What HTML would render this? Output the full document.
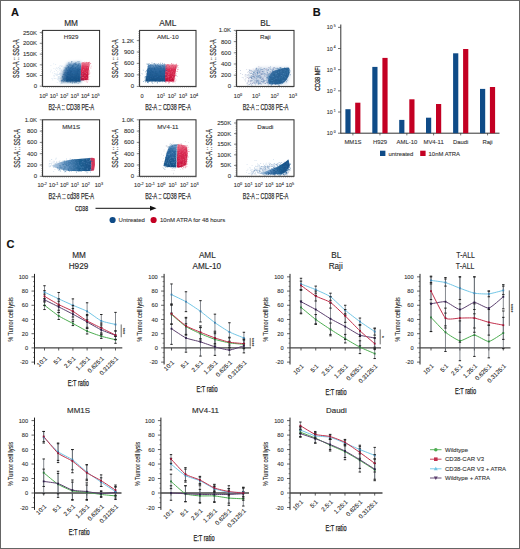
<!DOCTYPE html>
<html><head><meta charset="utf-8"><style>
html,body{margin:0;padding:0;background:#fff;}
body{width:520px;height:549px;overflow:hidden;position:relative;font-family:"Liberation Sans", sans-serif;}
svg{position:absolute;left:0;top:0;font-family:"Liberation Sans", sans-serif;}
.fr{position:absolute;left:0;top:0;width:518px;height:547px;border:1px solid #656565;}
</style></head><body>
<svg width="520" height="549" viewBox="0 0 520 549">
<defs><filter id="bl" x="-20%" y="-20%" width="140%" height="140%"><feGaussianBlur stdDeviation="0.6"/></filter>
<linearGradient id="gBv" x1="0" y1="0" x2="0" y2="1"><stop offset="0" stop-color="#7fa6cc"/><stop offset="0.3" stop-color="#2f6aa2"/><stop offset="1" stop-color="#134d82"/></linearGradient>
<linearGradient id="gRv" x1="0" y1="0" x2="0" y2="1"><stop offset="0" stop-color="#ee8fa2"/><stop offset="0.3" stop-color="#dc2f55"/><stop offset="1" stop-color="#c20c36"/></linearGradient>
<linearGradient id="gBh" x1="0" y1="0" x2="1" y2="0"><stop offset="0" stop-color="#b7cde3"/><stop offset="0.4" stop-color="#5f8fbd"/><stop offset="0.7" stop-color="#1f5f92"/><stop offset="1" stop-color="#1a5186"/></linearGradient>
<linearGradient id="gBh2" x1="0" y1="0" x2="1" y2="0.6"><stop offset="0" stop-color="#4f7fb0"/><stop offset="0.45" stop-color="#1d5c92"/><stop offset="1" stop-color="#17548a"/></linearGradient>
<filter id="bl2" x="-30%" y="-30%" width="160%" height="160%"><feGaussianBlur stdDeviation="1.4"/></filter></defs>
<text x="15.0" y="15.8" font-size="11" text-anchor="middle" fill="#111" stroke="#111" stroke-width="0.14" font-weight="bold" >A</text>
<text x="71.1" y="25.8" font-size="8.3" text-anchor="middle" fill="#2a2a2a" stroke="#2a2a2a" stroke-width="0.14" font-weight="normal" >MM</text>
<path d="M60.0 77.5h0.8v0.8h-0.8zM61.5 76.6h0.8v0.8h-0.8zM58.6 68.8h0.8v0.8h-0.8zM55.5 73.6h0.8v0.8h-0.8zM57.7 74.2h0.8v0.8h-0.8zM55.0 68.7h0.8v0.8h-0.8zM60.3 75.3h0.8v0.8h-0.8zM66.7 69.7h0.8v0.8h-0.8zM57.5 78.9h0.8v0.8h-0.8zM56.9 75.0h0.8v0.8h-0.8zM62.4 74.4h0.8v0.8h-0.8zM61.8 71.0h0.8v0.8h-0.8zM60.5 73.4h0.8v0.8h-0.8zM55.3 64.0h0.8v0.8h-0.8zM59.9 68.3h0.8v0.8h-0.8zM63.5 75.8h0.8v0.8h-0.8zM53.3 63.4h0.8v0.8h-0.8zM57.7 78.2h0.8v0.8h-0.8zM50.5 65.3h0.8v0.8h-0.8zM53.6 77.8h0.8v0.8h-0.8zM50.8 69.8h0.8v0.8h-0.8zM58.8 77.9h0.8v0.8h-0.8zM53.7 74.7h0.8v0.8h-0.8zM61.4 66.3h0.8v0.8h-0.8zM60.8 80.2h0.8v0.8h-0.8zM59.1 81.2h0.8v0.8h-0.8zM57.3 72.6h0.8v0.8h-0.8zM59.8 73.2h0.8v0.8h-0.8zM60.6 69.1h0.8v0.8h-0.8zM52.3 79.5h0.8v0.8h-0.8zM57.6 71.3h0.8v0.8h-0.8zM55.1 73.7h0.8v0.8h-0.8zM56.0 70.0h0.8v0.8h-0.8zM65.3 70.9h0.8v0.8h-0.8zM56.0 67.6h0.8v0.8h-0.8zM59.8 80.3h0.8v0.8h-0.8zM64.4 73.2h0.8v0.8h-0.8zM57.1 78.8h0.8v0.8h-0.8zM59.4 74.1h0.8v0.8h-0.8zM60.6 70.5h0.8v0.8h-0.8zM60.3 72.4h0.8v0.8h-0.8zM53.9 71.2h0.8v0.8h-0.8zM60.4 74.0h0.8v0.8h-0.8zM66.8 72.1h0.8v0.8h-0.8zM52.3 72.5h0.8v0.8h-0.8zM64.3 67.1h0.8v0.8h-0.8zM60.6 70.0h0.8v0.8h-0.8zM56.8 82.3h0.8v0.8h-0.8zM70.0 70.6h0.8v0.8h-0.8zM63.8 68.7h0.8v0.8h-0.8zM54.0 75.7h0.8v0.8h-0.8zM60.4 81.0h0.8v0.8h-0.8zM62.9 66.7h0.8v0.8h-0.8zM59.1 73.0h0.8v0.8h-0.8zM63.4 70.8h0.8v0.8h-0.8zM59.7 65.2h0.8v0.8h-0.8zM63.3 77.7h0.8v0.8h-0.8zM67.2 73.9h0.8v0.8h-0.8zM56.6 74.4h0.8v0.8h-0.8zM61.0 70.2h0.8v0.8h-0.8zM57.7 76.3h0.8v0.8h-0.8zM60.6 71.3h0.8v0.8h-0.8zM54.1 73.3h0.8v0.8h-0.8zM57.1 68.5h0.8v0.8h-0.8zM59.0 67.9h0.8v0.8h-0.8zM64.5 80.7h0.8v0.8h-0.8zM65.7 71.5h0.8v0.8h-0.8zM53.4 75.5h0.8v0.8h-0.8zM56.0 73.8h0.8v0.8h-0.8zM63.2 71.8h0.8v0.8h-0.8zM50.0 71.5h0.8v0.8h-0.8zM57.7 77.2h0.8v0.8h-0.8zM59.5 72.5h0.8v0.8h-0.8zM66.3 73.2h0.8v0.8h-0.8zM63.4 74.1h0.8v0.8h-0.8zM58.4 79.9h0.8v0.8h-0.8zM58.2 77.4h0.8v0.8h-0.8zM58.7 75.9h0.8v0.8h-0.8zM67.6 71.2h0.8v0.8h-0.8zM57.9 67.1h0.8v0.8h-0.8zM58.5 78.7h0.8v0.8h-0.8zM61.8 78.8h0.8v0.8h-0.8zM59.4 73.3h0.8v0.8h-0.8zM59.0 76.7h0.8v0.8h-0.8zM54.4 77.9h0.8v0.8h-0.8zM59.9 78.2h0.8v0.8h-0.8zM57.8 78.6h0.8v0.8h-0.8zM65.8 71.7h0.8v0.8h-0.8zM63.3 81.6h0.8v0.8h-0.8zM59.9 67.8h0.8v0.8h-0.8zM63.3 78.3h0.8v0.8h-0.8zM58.3 76.5h0.8v0.8h-0.8zM65.3 78.4h0.8v0.8h-0.8zM60.0 83.4h0.8v0.8h-0.8zM62.9 81.4h0.8v0.8h-0.8zM53.5 68.3h0.8v0.8h-0.8zM61.7 65.6h0.8v0.8h-0.8zM51.6 78.1h0.8v0.8h-0.8zM58.5 73.9h0.8v0.8h-0.8zM55.5 78.2h0.8v0.8h-0.8zM60.8 65.8h0.8v0.8h-0.8zM71.2 63.5h0.8v0.8h-0.8zM55.8 75.3h0.8v0.8h-0.8zM56.9 74.2h0.8v0.8h-0.8zM61.0 72.8h0.8v0.8h-0.8zM62.5 74.2h0.8v0.8h-0.8zM59.1 69.7h0.8v0.8h-0.8zM59.0 66.4h0.8v0.8h-0.8z" fill="#9fbedb" fill-opacity="0.45"/>
<path d="M61.0 82.0 L63.0 72.0 L68.0 63.0 L81.0 62.0 L81.0 82.0Z" fill="url(#gBv)" fill-opacity="0.9" filter="url(#bl2)"/>
<path d="M65.5 81.5 L67.0 72.0 L72.0 64.5 L81.0 63.5 L80.5 81.5Z" fill="url(#gBv)" fill-opacity="1" filter="url(#bl)"/>
<path d="M80.5 80.5 L81.5 62.5 L89.5 62.0 L88.0 80.0Z" fill="url(#gRv)" fill-opacity="1" filter="url(#bl)"/>
<path d="M67.5 81.9h0.9v0.9h-0.9zM78.5 62.9h0.9v0.9h-0.9zM78.4 66.3h0.9v0.9h-0.9zM74.5 73.6h0.9v0.9h-0.9zM63.6 69.9h0.9v0.9h-0.9zM65.6 68.2h0.9v0.9h-0.9zM73.4 70.2h0.9v0.9h-0.9zM70.5 80.0h0.9v0.9h-0.9zM69.8 82.0h0.9v0.9h-0.9zM76.9 65.3h0.9v0.9h-0.9zM75.3 73.5h0.9v0.9h-0.9zM61.4 82.7h0.9v0.9h-0.9zM66.5 77.5h0.9v0.9h-0.9zM76.3 75.0h0.9v0.9h-0.9zM76.4 72.5h0.9v0.9h-0.9zM75.1 67.1h0.9v0.9h-0.9zM78.7 67.4h0.9v0.9h-0.9zM76.5 70.6h0.9v0.9h-0.9zM76.2 73.1h0.9v0.9h-0.9zM75.2 81.6h0.9v0.9h-0.9zM77.2 73.5h0.9v0.9h-0.9zM77.6 65.0h0.9v0.9h-0.9zM64.9 75.1h0.9v0.9h-0.9zM74.9 67.8h0.9v0.9h-0.9zM61.9 80.4h0.9v0.9h-0.9zM62.2 76.8h0.9v0.9h-0.9zM63.9 72.5h0.9v0.9h-0.9zM64.0 79.5h0.9v0.9h-0.9zM70.1 73.5h0.9v0.9h-0.9zM79.1 79.6h0.9v0.9h-0.9zM66.2 75.3h0.9v0.9h-0.9zM62.9 79.0h0.9v0.9h-0.9zM73.5 72.7h0.9v0.9h-0.9zM70.8 77.1h0.9v0.9h-0.9zM69.4 79.1h0.9v0.9h-0.9zM78.5 62.7h0.9v0.9h-0.9zM78.1 80.5h0.9v0.9h-0.9zM64.9 67.4h0.9v0.9h-0.9zM79.7 69.6h0.9v0.9h-0.9zM69.5 78.7h0.9v0.9h-0.9zM76.0 73.2h0.9v0.9h-0.9zM74.8 64.4h0.9v0.9h-0.9zM80.0 71.5h0.9v0.9h-0.9zM70.2 74.9h0.9v0.9h-0.9zM81.6 78.6h0.9v0.9h-0.9zM72.7 65.2h0.9v0.9h-0.9zM73.9 73.1h0.9v0.9h-0.9zM68.8 69.1h0.9v0.9h-0.9zM77.6 67.5h0.9v0.9h-0.9zM75.6 62.2h0.9v0.9h-0.9zM71.4 80.2h0.9v0.9h-0.9zM77.0 76.6h0.9v0.9h-0.9zM71.6 81.8h0.9v0.9h-0.9zM70.3 72.1h0.9v0.9h-0.9zM72.3 66.2h0.9v0.9h-0.9zM75.9 75.8h0.9v0.9h-0.9zM76.8 71.5h0.9v0.9h-0.9zM76.7 75.4h0.9v0.9h-0.9zM69.8 63.7h0.9v0.9h-0.9zM75.4 67.0h0.9v0.9h-0.9zM66.7 65.1h0.9v0.9h-0.9zM71.4 80.2h0.9v0.9h-0.9zM66.0 75.5h0.9v0.9h-0.9zM69.2 64.5h0.9v0.9h-0.9zM66.1 80.3h0.9v0.9h-0.9zM79.4 71.0h0.9v0.9h-0.9zM67.6 73.5h0.9v0.9h-0.9zM66.3 81.0h0.9v0.9h-0.9zM77.7 74.5h0.9v0.9h-0.9zM76.5 75.4h0.9v0.9h-0.9zM70.2 71.1h0.9v0.9h-0.9zM70.4 64.9h0.9v0.9h-0.9zM77.7 64.8h0.9v0.9h-0.9zM70.6 67.6h0.9v0.9h-0.9zM76.5 79.2h0.9v0.9h-0.9zM68.0 80.1h0.9v0.9h-0.9zM72.3 73.1h0.9v0.9h-0.9zM74.2 72.8h0.9v0.9h-0.9zM72.9 79.0h0.9v0.9h-0.9zM72.4 66.6h0.9v0.9h-0.9z" fill="#1b5e91" fill-opacity="0.5"/>
<path d="M74.3 72.8h0.9v0.9h-0.9zM73.7 64.9h0.9v0.9h-0.9zM73.8 66.4h0.9v0.9h-0.9zM72.1 64.9h0.9v0.9h-0.9zM76.8 66.0h0.9v0.9h-0.9zM79.9 66.6h0.9v0.9h-0.9zM62.9 79.2h0.9v0.9h-0.9zM72.8 66.8h0.9v0.9h-0.9zM68.2 67.7h0.9v0.9h-0.9zM68.4 70.9h0.9v0.9h-0.9zM76.9 67.3h0.9v0.9h-0.9zM73.0 80.6h0.9v0.9h-0.9zM78.7 65.2h0.9v0.9h-0.9zM72.1 65.2h0.9v0.9h-0.9zM68.3 77.6h0.9v0.9h-0.9zM74.6 69.2h0.9v0.9h-0.9zM75.1 64.1h0.9v0.9h-0.9zM77.2 76.7h0.9v0.9h-0.9zM73.1 75.5h0.9v0.9h-0.9zM71.7 77.5h0.9v0.9h-0.9zM75.7 69.3h0.9v0.9h-0.9zM64.8 70.3h0.9v0.9h-0.9zM79.1 76.4h0.9v0.9h-0.9zM73.4 71.8h0.9v0.9h-0.9zM75.4 82.4h0.9v0.9h-0.9zM68.4 62.2h0.9v0.9h-0.9zM72.5 67.3h0.9v0.9h-0.9zM71.5 78.3h0.9v0.9h-0.9zM68.1 68.1h0.9v0.9h-0.9zM68.1 68.7h0.9v0.9h-0.9zM79.9 65.4h0.9v0.9h-0.9zM77.4 61.2h0.9v0.9h-0.9zM61.1 80.0h0.9v0.9h-0.9zM80.7 76.4h0.9v0.9h-0.9zM79.1 63.5h0.9v0.9h-0.9zM61.6 80.1h0.9v0.9h-0.9zM65.3 76.3h0.9v0.9h-0.9zM71.6 72.4h0.9v0.9h-0.9zM76.5 72.7h0.9v0.9h-0.9zM64.6 73.9h0.9v0.9h-0.9zM76.9 79.1h0.9v0.9h-0.9zM75.1 64.3h0.9v0.9h-0.9zM63.0 77.8h0.9v0.9h-0.9zM67.0 71.1h0.9v0.9h-0.9zM65.9 73.1h0.9v0.9h-0.9zM76.1 81.6h0.9v0.9h-0.9zM73.7 63.0h0.9v0.9h-0.9zM79.4 80.2h0.9v0.9h-0.9zM67.8 66.9h0.9v0.9h-0.9zM73.1 73.0h0.9v0.9h-0.9zM66.2 79.4h0.9v0.9h-0.9zM70.1 75.8h0.9v0.9h-0.9zM70.0 80.5h0.9v0.9h-0.9zM77.7 82.9h0.9v0.9h-0.9zM75.2 67.9h0.9v0.9h-0.9zM71.9 82.8h0.9v0.9h-0.9zM68.5 69.6h0.9v0.9h-0.9zM73.7 79.3h0.9v0.9h-0.9zM68.4 73.6h0.9v0.9h-0.9zM69.0 75.7h0.9v0.9h-0.9zM77.0 74.6h0.9v0.9h-0.9zM77.9 72.2h0.9v0.9h-0.9zM75.4 70.1h0.9v0.9h-0.9zM72.1 72.1h0.9v0.9h-0.9zM68.2 75.3h0.9v0.9h-0.9zM65.9 67.9h0.9v0.9h-0.9zM81.5 75.8h0.9v0.9h-0.9zM66.5 78.0h0.9v0.9h-0.9zM71.6 65.2h0.9v0.9h-0.9zM79.8 71.7h0.9v0.9h-0.9zM79.0 70.2h0.9v0.9h-0.9zM65.7 68.8h0.9v0.9h-0.9zM69.7 69.3h0.9v0.9h-0.9zM64.1 79.3h0.9v0.9h-0.9zM75.5 80.6h0.9v0.9h-0.9zM68.4 80.4h0.9v0.9h-0.9zM66.9 74.8h0.9v0.9h-0.9zM65.6 73.9h0.9v0.9h-0.9zM64.6 69.3h0.9v0.9h-0.9zM70.5 63.7h0.9v0.9h-0.9z" fill="#2f6ea5" fill-opacity="0.5"/>
<path d="M76.9 77.4h0.9v0.9h-0.9zM75.6 63.4h0.9v0.9h-0.9zM71.2 70.5h0.9v0.9h-0.9zM68.5 73.9h0.9v0.9h-0.9zM70.0 70.5h0.9v0.9h-0.9zM66.3 67.4h0.9v0.9h-0.9zM62.2 76.0h0.9v0.9h-0.9zM76.5 79.5h0.9v0.9h-0.9zM64.5 74.1h0.9v0.9h-0.9zM68.4 63.6h0.9v0.9h-0.9zM65.9 78.2h0.9v0.9h-0.9zM68.2 78.3h0.9v0.9h-0.9zM76.8 73.6h0.9v0.9h-0.9zM64.9 72.2h0.9v0.9h-0.9zM68.6 74.5h0.9v0.9h-0.9zM78.6 69.5h0.9v0.9h-0.9zM68.1 66.0h0.9v0.9h-0.9zM72.2 65.8h0.9v0.9h-0.9zM64.1 80.2h0.9v0.9h-0.9zM82.6 80.1h0.9v0.9h-0.9zM77.4 77.5h0.9v0.9h-0.9zM67.5 81.0h0.9v0.9h-0.9zM74.0 82.4h0.9v0.9h-0.9zM75.1 62.8h0.9v0.9h-0.9zM67.5 72.2h0.9v0.9h-0.9zM67.7 73.9h0.9v0.9h-0.9zM77.9 69.9h0.9v0.9h-0.9zM68.8 73.7h0.9v0.9h-0.9zM78.6 61.2h0.9v0.9h-0.9zM62.8 80.7h0.9v0.9h-0.9zM81.2 79.3h0.9v0.9h-0.9zM77.6 78.6h0.9v0.9h-0.9zM79.3 69.1h0.9v0.9h-0.9zM72.8 65.5h0.9v0.9h-0.9zM68.5 71.7h0.9v0.9h-0.9zM74.6 67.7h0.9v0.9h-0.9zM78.7 76.4h0.9v0.9h-0.9zM69.8 81.3h0.9v0.9h-0.9zM67.0 76.5h0.9v0.9h-0.9zM75.0 78.6h0.9v0.9h-0.9zM67.7 66.8h0.9v0.9h-0.9zM71.7 73.8h0.9v0.9h-0.9zM77.7 64.2h0.9v0.9h-0.9zM70.2 67.9h0.9v0.9h-0.9zM66.1 72.6h0.9v0.9h-0.9zM71.4 66.6h0.9v0.9h-0.9zM73.2 63.9h0.9v0.9h-0.9zM82.7 73.6h0.9v0.9h-0.9zM69.9 80.3h0.9v0.9h-0.9zM70.0 75.6h0.9v0.9h-0.9zM78.1 70.5h0.9v0.9h-0.9zM67.1 70.2h0.9v0.9h-0.9zM72.5 81.8h0.9v0.9h-0.9zM77.6 68.6h0.9v0.9h-0.9zM76.8 73.3h0.9v0.9h-0.9zM77.4 77.5h0.9v0.9h-0.9zM74.3 63.2h0.9v0.9h-0.9zM74.2 82.0h0.9v0.9h-0.9zM67.4 78.6h0.9v0.9h-0.9zM72.1 65.8h0.9v0.9h-0.9zM79.8 65.7h0.9v0.9h-0.9zM61.5 79.9h0.9v0.9h-0.9zM77.3 72.5h0.9v0.9h-0.9zM72.8 63.7h0.9v0.9h-0.9zM75.9 75.2h0.9v0.9h-0.9zM76.1 81.3h0.9v0.9h-0.9zM79.4 80.5h0.9v0.9h-0.9zM70.7 67.0h0.9v0.9h-0.9zM76.7 69.0h0.9v0.9h-0.9zM79.3 81.3h0.9v0.9h-0.9zM73.2 79.6h0.9v0.9h-0.9zM72.0 68.6h0.9v0.9h-0.9zM72.5 76.4h0.9v0.9h-0.9zM63.0 73.9h0.9v0.9h-0.9zM75.1 80.8h0.9v0.9h-0.9zM76.5 80.4h0.9v0.9h-0.9zM73.2 67.9h0.9v0.9h-0.9zM78.1 64.6h0.9v0.9h-0.9zM72.0 80.3h0.9v0.9h-0.9zM71.1 61.6h0.9v0.9h-0.9zM76.1 64.3h0.9v0.9h-0.9zM71.1 71.0h0.9v0.9h-0.9zM68.0 77.5h0.9v0.9h-0.9zM61.2 81.3h0.9v0.9h-0.9zM71.4 61.0h0.9v0.9h-0.9zM74.4 63.8h0.9v0.9h-0.9zM63.4 80.7h0.9v0.9h-0.9zM69.2 69.9h0.9v0.9h-0.9zM76.9 70.6h0.9v0.9h-0.9zM66.2 69.6h0.9v0.9h-0.9zM74.7 70.5h0.9v0.9h-0.9zM76.6 65.9h0.9v0.9h-0.9zM73.7 78.8h0.9v0.9h-0.9zM68.8 67.5h0.9v0.9h-0.9zM74.5 77.1h0.9v0.9h-0.9zM70.1 72.4h0.9v0.9h-0.9zM71.6 76.7h0.9v0.9h-0.9zM79.9 77.1h0.9v0.9h-0.9zM66.2 77.9h0.9v0.9h-0.9zM77.2 74.7h0.9v0.9h-0.9z" fill="#17528a" fill-opacity="0.5"/>
<path d="M88.1 68.4h0.9v0.9h-0.9zM81.7 70.2h0.9v0.9h-0.9zM85.6 66.8h0.9v0.9h-0.9zM86.9 65.9h0.9v0.9h-0.9zM84.5 71.9h0.9v0.9h-0.9zM88.5 69.8h0.9v0.9h-0.9zM88.0 74.0h0.9v0.9h-0.9zM86.3 68.3h0.9v0.9h-0.9zM83.6 78.3h0.9v0.9h-0.9zM87.8 69.2h0.9v0.9h-0.9zM89.4 63.7h0.9v0.9h-0.9zM88.2 73.5h0.9v0.9h-0.9zM84.9 71.2h0.9v0.9h-0.9zM86.2 69.2h0.9v0.9h-0.9zM84.1 75.2h0.9v0.9h-0.9zM86.6 75.7h0.9v0.9h-0.9zM90.2 63.0h0.9v0.9h-0.9zM88.6 65.8h0.9v0.9h-0.9zM82.2 74.6h0.9v0.9h-0.9zM83.1 68.2h0.9v0.9h-0.9zM82.6 62.0h0.9v0.9h-0.9zM82.2 65.5h0.9v0.9h-0.9zM88.7 62.4h0.9v0.9h-0.9zM86.2 78.7h0.9v0.9h-0.9zM86.5 69.2h0.9v0.9h-0.9zM88.0 62.5h0.9v0.9h-0.9zM83.6 70.2h0.9v0.9h-0.9zM85.7 70.1h0.9v0.9h-0.9zM89.0 64.6h0.9v0.9h-0.9zM81.9 77.6h0.9v0.9h-0.9zM88.3 79.0h0.9v0.9h-0.9zM85.1 72.7h0.9v0.9h-0.9zM82.5 72.8h0.9v0.9h-0.9zM87.0 70.6h0.9v0.9h-0.9zM82.9 65.7h0.9v0.9h-0.9zM88.2 68.1h0.9v0.9h-0.9zM86.4 73.3h0.9v0.9h-0.9z" fill="#d21e46" fill-opacity="0.5"/>
<path d="M87.6 69.5h0.9v0.9h-0.9zM88.8 73.6h0.9v0.9h-0.9zM81.5 77.3h0.9v0.9h-0.9zM83.6 63.4h0.9v0.9h-0.9zM82.9 79.9h0.9v0.9h-0.9zM83.3 66.6h0.9v0.9h-0.9zM81.0 72.3h0.9v0.9h-0.9zM84.4 77.8h0.9v0.9h-0.9zM84.4 63.5h0.9v0.9h-0.9zM83.1 76.9h0.9v0.9h-0.9zM84.5 67.0h0.9v0.9h-0.9zM86.1 62.0h0.9v0.9h-0.9zM86.5 67.1h0.9v0.9h-0.9zM88.3 77.8h0.9v0.9h-0.9zM87.0 68.1h0.9v0.9h-0.9zM83.2 69.2h0.9v0.9h-0.9zM84.1 78.1h0.9v0.9h-0.9zM82.5 65.9h0.9v0.9h-0.9zM90.7 65.7h0.9v0.9h-0.9zM84.9 66.8h0.9v0.9h-0.9zM86.2 66.8h0.9v0.9h-0.9zM90.4 67.5h0.9v0.9h-0.9zM86.2 77.4h0.9v0.9h-0.9zM80.2 70.5h0.9v0.9h-0.9zM88.9 71.3h0.9v0.9h-0.9zM83.0 68.8h0.9v0.9h-0.9zM84.8 75.2h0.9v0.9h-0.9zM81.9 77.1h0.9v0.9h-0.9zM84.8 75.3h0.9v0.9h-0.9zM89.2 61.8h0.9v0.9h-0.9zM84.3 69.8h0.9v0.9h-0.9zM86.6 68.5h0.9v0.9h-0.9zM81.5 62.9h0.9v0.9h-0.9zM87.9 76.8h0.9v0.9h-0.9z" fill="#e04a6a" fill-opacity="0.5"/>
<path d="M82.4 73.0h0.9v0.9h-0.9zM84.3 80.7h0.9v0.9h-0.9zM87.6 63.4h0.9v0.9h-0.9zM88.7 72.2h0.9v0.9h-0.9zM88.8 66.8h0.9v0.9h-0.9zM88.2 64.8h0.9v0.9h-0.9zM89.3 75.9h0.9v0.9h-0.9zM83.9 79.4h0.9v0.9h-0.9zM87.7 70.8h0.9v0.9h-0.9zM84.9 72.2h0.9v0.9h-0.9zM85.8 81.3h0.9v0.9h-0.9zM86.8 65.1h0.9v0.9h-0.9zM88.1 70.2h0.9v0.9h-0.9zM88.0 76.2h0.9v0.9h-0.9zM88.4 73.9h0.9v0.9h-0.9zM87.6 80.3h0.9v0.9h-0.9zM86.1 79.8h0.9v0.9h-0.9zM86.2 70.7h0.9v0.9h-0.9zM84.7 67.6h0.9v0.9h-0.9zM85.9 72.9h0.9v0.9h-0.9zM83.1 69.2h0.9v0.9h-0.9zM88.9 69.8h0.9v0.9h-0.9zM88.9 72.6h0.9v0.9h-0.9zM86.1 73.0h0.9v0.9h-0.9zM88.3 71.3h0.9v0.9h-0.9zM89.5 72.5h0.9v0.9h-0.9zM84.3 61.5h0.9v0.9h-0.9zM87.4 77.9h0.9v0.9h-0.9zM87.1 67.2h0.9v0.9h-0.9zM88.2 65.7h0.9v0.9h-0.9zM84.4 75.3h0.9v0.9h-0.9zM85.9 61.7h0.9v0.9h-0.9zM87.3 79.0h0.9v0.9h-0.9zM88.0 79.2h0.9v0.9h-0.9zM84.3 71.7h0.9v0.9h-0.9zM87.9 63.4h0.9v0.9h-0.9zM87.1 81.8h0.9v0.9h-0.9zM82.6 70.2h0.9v0.9h-0.9zM82.3 77.1h0.9v0.9h-0.9zM80.6 75.3h0.9v0.9h-0.9zM88.4 68.4h0.9v0.9h-0.9zM89.1 63.3h0.9v0.9h-0.9zM82.8 77.0h0.9v0.9h-0.9zM89.0 65.3h0.9v0.9h-0.9zM82.3 71.0h0.9v0.9h-0.9zM86.7 81.6h0.9v0.9h-0.9zM82.3 74.5h0.9v0.9h-0.9zM88.7 73.1h0.9v0.9h-0.9zM85.8 77.3h0.9v0.9h-0.9z" fill="#f08aa0" fill-opacity="0.5"/>
<rect x="42.6" y="30.4" width="56.99999999999999" height="56.00000000000001" fill="none" stroke="#2a2a2a" stroke-width="1"/>
<line x1="41.30" y1="31.60" x2="42.60" y2="31.60" stroke="#444" stroke-width="0.45" />
<line x1="41.30" y1="33.50" x2="42.60" y2="33.50" stroke="#444" stroke-width="0.45" />
<line x1="41.30" y1="35.40" x2="42.60" y2="35.40" stroke="#444" stroke-width="0.45" />
<line x1="41.30" y1="37.30" x2="42.60" y2="37.30" stroke="#444" stroke-width="0.45" />
<line x1="41.30" y1="39.20" x2="42.60" y2="39.20" stroke="#444" stroke-width="0.45" />
<line x1="41.30" y1="41.10" x2="42.60" y2="41.10" stroke="#444" stroke-width="0.45" />
<line x1="41.30" y1="43.00" x2="42.60" y2="43.00" stroke="#444" stroke-width="0.45" />
<line x1="41.30" y1="44.90" x2="42.60" y2="44.90" stroke="#444" stroke-width="0.45" />
<line x1="41.30" y1="46.80" x2="42.60" y2="46.80" stroke="#444" stroke-width="0.45" />
<line x1="41.30" y1="48.70" x2="42.60" y2="48.70" stroke="#444" stroke-width="0.45" />
<line x1="41.30" y1="50.60" x2="42.60" y2="50.60" stroke="#444" stroke-width="0.45" />
<line x1="41.30" y1="52.50" x2="42.60" y2="52.50" stroke="#444" stroke-width="0.45" />
<line x1="41.30" y1="54.40" x2="42.60" y2="54.40" stroke="#444" stroke-width="0.45" />
<line x1="41.30" y1="56.30" x2="42.60" y2="56.30" stroke="#444" stroke-width="0.45" />
<line x1="41.30" y1="58.20" x2="42.60" y2="58.20" stroke="#444" stroke-width="0.45" />
<line x1="41.30" y1="60.10" x2="42.60" y2="60.10" stroke="#444" stroke-width="0.45" />
<line x1="41.30" y1="62.00" x2="42.60" y2="62.00" stroke="#444" stroke-width="0.45" />
<line x1="41.30" y1="63.90" x2="42.60" y2="63.90" stroke="#444" stroke-width="0.45" />
<line x1="41.30" y1="65.80" x2="42.60" y2="65.80" stroke="#444" stroke-width="0.45" />
<line x1="41.30" y1="67.70" x2="42.60" y2="67.70" stroke="#444" stroke-width="0.45" />
<line x1="41.30" y1="69.60" x2="42.60" y2="69.60" stroke="#444" stroke-width="0.45" />
<line x1="41.30" y1="71.50" x2="42.60" y2="71.50" stroke="#444" stroke-width="0.45" />
<line x1="41.30" y1="73.40" x2="42.60" y2="73.40" stroke="#444" stroke-width="0.45" />
<line x1="41.30" y1="75.30" x2="42.60" y2="75.30" stroke="#444" stroke-width="0.45" />
<line x1="41.30" y1="77.20" x2="42.60" y2="77.20" stroke="#444" stroke-width="0.45" />
<line x1="41.30" y1="79.10" x2="42.60" y2="79.10" stroke="#444" stroke-width="0.45" />
<line x1="41.30" y1="81.00" x2="42.60" y2="81.00" stroke="#444" stroke-width="0.45" />
<line x1="41.30" y1="82.90" x2="42.60" y2="82.90" stroke="#444" stroke-width="0.45" />
<line x1="41.30" y1="84.80" x2="42.60" y2="84.80" stroke="#444" stroke-width="0.45" />
<line x1="43.80" y1="86.40" x2="43.80" y2="87.70" stroke="#444" stroke-width="0.45" />
<line x1="45.70" y1="86.40" x2="45.70" y2="87.70" stroke="#444" stroke-width="0.45" />
<line x1="47.60" y1="86.40" x2="47.60" y2="87.70" stroke="#444" stroke-width="0.45" />
<line x1="49.50" y1="86.40" x2="49.50" y2="87.70" stroke="#444" stroke-width="0.45" />
<line x1="51.40" y1="86.40" x2="51.40" y2="87.70" stroke="#444" stroke-width="0.45" />
<line x1="53.30" y1="86.40" x2="53.30" y2="87.70" stroke="#444" stroke-width="0.45" />
<line x1="55.20" y1="86.40" x2="55.20" y2="87.70" stroke="#444" stroke-width="0.45" />
<line x1="57.10" y1="86.40" x2="57.10" y2="87.70" stroke="#444" stroke-width="0.45" />
<line x1="59.00" y1="86.40" x2="59.00" y2="87.70" stroke="#444" stroke-width="0.45" />
<line x1="60.90" y1="86.40" x2="60.90" y2="87.70" stroke="#444" stroke-width="0.45" />
<line x1="62.80" y1="86.40" x2="62.80" y2="87.70" stroke="#444" stroke-width="0.45" />
<line x1="64.70" y1="86.40" x2="64.70" y2="87.70" stroke="#444" stroke-width="0.45" />
<line x1="66.60" y1="86.40" x2="66.60" y2="87.70" stroke="#444" stroke-width="0.45" />
<line x1="68.50" y1="86.40" x2="68.50" y2="87.70" stroke="#444" stroke-width="0.45" />
<line x1="70.40" y1="86.40" x2="70.40" y2="87.70" stroke="#444" stroke-width="0.45" />
<line x1="72.30" y1="86.40" x2="72.30" y2="87.70" stroke="#444" stroke-width="0.45" />
<line x1="74.20" y1="86.40" x2="74.20" y2="87.70" stroke="#444" stroke-width="0.45" />
<line x1="76.10" y1="86.40" x2="76.10" y2="87.70" stroke="#444" stroke-width="0.45" />
<line x1="78.00" y1="86.40" x2="78.00" y2="87.70" stroke="#444" stroke-width="0.45" />
<line x1="79.90" y1="86.40" x2="79.90" y2="87.70" stroke="#444" stroke-width="0.45" />
<line x1="81.80" y1="86.40" x2="81.80" y2="87.70" stroke="#444" stroke-width="0.45" />
<line x1="83.70" y1="86.40" x2="83.70" y2="87.70" stroke="#444" stroke-width="0.45" />
<line x1="85.60" y1="86.40" x2="85.60" y2="87.70" stroke="#444" stroke-width="0.45" />
<line x1="87.50" y1="86.40" x2="87.50" y2="87.70" stroke="#444" stroke-width="0.45" />
<line x1="89.40" y1="86.40" x2="89.40" y2="87.70" stroke="#444" stroke-width="0.45" />
<line x1="91.30" y1="86.40" x2="91.30" y2="87.70" stroke="#444" stroke-width="0.45" />
<line x1="93.20" y1="86.40" x2="93.20" y2="87.70" stroke="#444" stroke-width="0.45" />
<line x1="95.10" y1="86.40" x2="95.10" y2="87.70" stroke="#444" stroke-width="0.45" />
<line x1="97.00" y1="86.40" x2="97.00" y2="87.70" stroke="#444" stroke-width="0.45" />
<line x1="98.90" y1="86.40" x2="98.90" y2="87.70" stroke="#444" stroke-width="0.45" />
<line x1="39.80" y1="32.60" x2="42.60" y2="32.60" stroke="#333" stroke-width="0.6" />
<text x="37.0" y="34.5" font-size="6.0" text-anchor="end" fill="#333" stroke="#333" stroke-width="0.1" font-weight="normal" >250K</text>
<line x1="39.80" y1="43.30" x2="42.60" y2="43.30" stroke="#333" stroke-width="0.6" />
<text x="37.0" y="45.2" font-size="6.0" text-anchor="end" fill="#333" stroke="#333" stroke-width="0.1" font-weight="normal" >200K</text>
<line x1="39.80" y1="54.10" x2="42.60" y2="54.10" stroke="#333" stroke-width="0.6" />
<text x="37.0" y="56.0" font-size="6.0" text-anchor="end" fill="#333" stroke="#333" stroke-width="0.1" font-weight="normal" >150K</text>
<line x1="39.80" y1="64.80" x2="42.60" y2="64.80" stroke="#333" stroke-width="0.6" />
<text x="37.0" y="66.7" font-size="6.0" text-anchor="end" fill="#333" stroke="#333" stroke-width="0.1" font-weight="normal" >100K</text>
<line x1="39.80" y1="75.50" x2="42.60" y2="75.50" stroke="#333" stroke-width="0.6" />
<text x="37.0" y="77.4" font-size="6.0" text-anchor="end" fill="#333" stroke="#333" stroke-width="0.1" font-weight="normal" >50K</text>
<line x1="39.80" y1="86.20" x2="42.60" y2="86.20" stroke="#333" stroke-width="0.6" />
<text x="37.0" y="88.1" font-size="6.0" text-anchor="end" fill="#333" stroke="#333" stroke-width="0.1" font-weight="normal" >0</text>
<text x="43.5" y="97.6" font-size="5.6" text-anchor="middle" fill="#333" stroke="#333" stroke-width="0.1" font-weight="normal" >10<tspan dy="-2.0" font-size="3.8">0</tspan></text>
<text x="53.9" y="97.6" font-size="5.6" text-anchor="middle" fill="#333" stroke="#333" stroke-width="0.1" font-weight="normal" >10<tspan dy="-2.0" font-size="3.8">1</tspan></text>
<text x="64.3" y="97.6" font-size="5.6" text-anchor="middle" fill="#333" stroke="#333" stroke-width="0.1" font-weight="normal" >10<tspan dy="-2.0" font-size="3.8">2</tspan></text>
<text x="74.7" y="97.6" font-size="5.6" text-anchor="middle" fill="#333" stroke="#333" stroke-width="0.1" font-weight="normal" >10<tspan dy="-2.0" font-size="3.8">3</tspan></text>
<text x="85.1" y="97.6" font-size="5.6" text-anchor="middle" fill="#333" stroke="#333" stroke-width="0.1" font-weight="normal" >10<tspan dy="-2.0" font-size="3.8">4</tspan></text>
<text x="95.5" y="97.6" font-size="5.6" text-anchor="middle" fill="#333" stroke="#333" stroke-width="0.1" font-weight="normal" >10<tspan dy="-2.0" font-size="3.8">5</tspan></text>
<text x="18.8" y="58.7" font-size="8.2" text-anchor="middle" fill="#333" stroke="#333" stroke-width="0.25" font-weight="normal" textLength="38.5" lengthAdjust="spacingAndGlyphs" transform="rotate(-90 18.8 58.7)">SSC-A :: SSC-A</text>
<text x="71.3" y="110.0" font-size="8.6" text-anchor="middle" fill="#333" stroke="#333" stroke-width="0.25" font-weight="normal" textLength="45.6" lengthAdjust="spacingAndGlyphs">B2-A :: CD38 PE-A</text>
<text x="71.1" y="39.3" font-size="6.2" text-anchor="middle" fill="#333" stroke="#333" stroke-width="0.1" font-weight="normal" >H929</text>
<text x="167.8" y="25.8" font-size="8.3" text-anchor="middle" fill="#2a2a2a" stroke="#2a2a2a" stroke-width="0.14" font-weight="normal" >AML</text>
<path d="M148.0 82.8h0.8v0.8h-0.8zM141.3 73.3h0.8v0.8h-0.8zM174.4 75.3h0.8v0.8h-0.8zM145.1 72.3h0.8v0.8h-0.8zM159.1 67.1h0.8v0.8h-0.8zM152.6 72.8h0.8v0.8h-0.8zM140.0 75.0h0.8v0.8h-0.8zM154.6 67.9h0.8v0.8h-0.8zM164.6 74.7h0.8v0.8h-0.8zM156.2 79.2h0.8v0.8h-0.8zM167.4 78.3h0.8v0.8h-0.8zM154.4 65.1h0.8v0.8h-0.8zM158.1 68.1h0.8v0.8h-0.8zM154.2 64.9h0.8v0.8h-0.8zM161.4 78.4h0.8v0.8h-0.8zM177.0 76.1h0.8v0.8h-0.8zM161.6 76.5h0.8v0.8h-0.8zM159.9 68.6h0.8v0.8h-0.8zM151.8 67.2h0.8v0.8h-0.8zM150.4 73.4h0.8v0.8h-0.8zM172.6 73.5h0.8v0.8h-0.8zM146.9 68.7h0.8v0.8h-0.8zM148.9 73.7h0.8v0.8h-0.8zM157.0 76.2h0.8v0.8h-0.8zM153.7 74.1h0.8v0.8h-0.8zM177.6 67.8h0.8v0.8h-0.8zM161.6 71.7h0.8v0.8h-0.8zM165.1 73.8h0.8v0.8h-0.8zM146.8 71.7h0.8v0.8h-0.8zM151.6 70.9h0.8v0.8h-0.8zM162.3 69.5h0.8v0.8h-0.8zM174.3 76.6h0.8v0.8h-0.8zM148.8 72.7h0.8v0.8h-0.8zM142.2 73.6h0.8v0.8h-0.8zM167.7 68.1h0.8v0.8h-0.8zM173.2 69.9h0.8v0.8h-0.8zM154.6 73.8h0.8v0.8h-0.8zM172.5 66.7h0.8v0.8h-0.8zM156.0 71.4h0.8v0.8h-0.8zM169.2 79.0h0.8v0.8h-0.8zM157.6 74.0h0.8v0.8h-0.8zM154.2 80.3h0.8v0.8h-0.8zM153.5 72.3h0.8v0.8h-0.8zM172.7 71.4h0.8v0.8h-0.8zM172.3 66.0h0.8v0.8h-0.8zM148.6 80.2h0.8v0.8h-0.8zM175.8 74.6h0.8v0.8h-0.8zM154.3 76.7h0.8v0.8h-0.8zM144.4 76.5h0.8v0.8h-0.8zM158.0 73.0h0.8v0.8h-0.8zM156.9 72.0h0.8v0.8h-0.8zM157.0 73.6h0.8v0.8h-0.8zM153.2 76.4h0.8v0.8h-0.8zM154.9 75.3h0.8v0.8h-0.8zM153.4 75.5h0.8v0.8h-0.8zM161.3 73.8h0.8v0.8h-0.8zM149.9 69.2h0.8v0.8h-0.8zM155.1 71.7h0.8v0.8h-0.8zM156.6 68.3h0.8v0.8h-0.8zM171.1 78.0h0.8v0.8h-0.8zM161.7 62.5h0.8v0.8h-0.8zM156.9 71.9h0.8v0.8h-0.8zM162.1 71.3h0.8v0.8h-0.8zM168.9 67.3h0.8v0.8h-0.8zM163.1 72.9h0.8v0.8h-0.8zM175.9 79.4h0.8v0.8h-0.8zM171.4 72.2h0.8v0.8h-0.8zM157.6 76.1h0.8v0.8h-0.8zM153.9 73.5h0.8v0.8h-0.8zM166.8 71.1h0.8v0.8h-0.8zM157.1 73.4h0.8v0.8h-0.8zM143.2 70.3h0.8v0.8h-0.8zM161.5 74.9h0.8v0.8h-0.8zM165.7 75.0h0.8v0.8h-0.8zM166.0 76.9h0.8v0.8h-0.8zM145.1 73.7h0.8v0.8h-0.8zM168.4 65.8h0.8v0.8h-0.8zM152.7 75.7h0.8v0.8h-0.8zM161.9 71.5h0.8v0.8h-0.8zM162.2 71.6h0.8v0.8h-0.8zM150.0 65.6h0.8v0.8h-0.8zM152.1 70.1h0.8v0.8h-0.8zM148.8 72.8h0.8v0.8h-0.8zM162.4 73.3h0.8v0.8h-0.8zM158.6 73.6h0.8v0.8h-0.8zM167.1 67.4h0.8v0.8h-0.8zM161.6 69.9h0.8v0.8h-0.8zM151.7 68.7h0.8v0.8h-0.8zM161.5 77.5h0.8v0.8h-0.8zM164.1 71.3h0.8v0.8h-0.8zM161.2 64.7h0.8v0.8h-0.8zM148.1 70.8h0.8v0.8h-0.8zM158.0 77.2h0.8v0.8h-0.8zM158.6 69.8h0.8v0.8h-0.8zM154.9 73.7h0.8v0.8h-0.8zM166.9 68.8h0.8v0.8h-0.8zM175.1 82.7h0.8v0.8h-0.8zM154.3 77.6h0.8v0.8h-0.8zM154.5 78.6h0.8v0.8h-0.8zM156.7 67.5h0.8v0.8h-0.8zM153.6 78.4h0.8v0.8h-0.8zM160.9 71.7h0.8v0.8h-0.8zM163.9 74.7h0.8v0.8h-0.8zM150.7 66.7h0.8v0.8h-0.8zM154.3 76.9h0.8v0.8h-0.8zM148.3 73.1h0.8v0.8h-0.8zM165.6 75.4h0.8v0.8h-0.8zM142.8 69.6h0.8v0.8h-0.8zM154.9 75.6h0.8v0.8h-0.8z" fill="#8fb0d2" fill-opacity="0.45"/>
<path d="M145.5 81.5 L148.0 64.5 L166.0 64.3 L165.5 81.5Z" fill="url(#gBv)" fill-opacity="1" filter="url(#bl)"/>
<path d="M165.0 81.5 L165.5 64.3 L177.0 64.5 L174.0 81.5Z" fill="url(#gRv)" fill-opacity="1" filter="url(#bl)"/>
<path d="M159.7 66.8h0.9v0.9h-0.9zM154.8 72.3h0.9v0.9h-0.9zM145.0 78.8h0.9v0.9h-0.9zM164.9 79.4h0.9v0.9h-0.9zM146.3 73.3h0.9v0.9h-0.9zM150.0 78.6h0.9v0.9h-0.9zM159.7 66.2h0.9v0.9h-0.9zM144.8 76.8h0.9v0.9h-0.9zM154.4 63.3h0.9v0.9h-0.9zM160.0 79.7h0.9v0.9h-0.9zM149.8 70.2h0.9v0.9h-0.9zM150.2 74.5h0.9v0.9h-0.9zM155.7 78.3h0.9v0.9h-0.9zM154.4 79.4h0.9v0.9h-0.9zM159.9 62.8h0.9v0.9h-0.9zM164.5 70.1h0.9v0.9h-0.9zM146.5 63.6h0.9v0.9h-0.9zM158.6 73.6h0.9v0.9h-0.9zM150.0 64.3h0.9v0.9h-0.9zM163.2 76.3h0.9v0.9h-0.9zM159.5 72.7h0.9v0.9h-0.9zM165.1 68.6h0.9v0.9h-0.9zM159.3 81.3h0.9v0.9h-0.9zM157.3 63.8h0.9v0.9h-0.9zM152.3 82.9h0.9v0.9h-0.9zM154.2 68.6h0.9v0.9h-0.9zM150.5 69.8h0.9v0.9h-0.9zM155.2 65.8h0.9v0.9h-0.9zM147.2 78.6h0.9v0.9h-0.9zM150.4 74.2h0.9v0.9h-0.9zM155.1 65.1h0.9v0.9h-0.9zM147.8 64.1h0.9v0.9h-0.9zM159.5 68.0h0.9v0.9h-0.9zM155.0 69.5h0.9v0.9h-0.9zM151.6 63.7h0.9v0.9h-0.9zM158.9 79.8h0.9v0.9h-0.9zM159.3 78.9h0.9v0.9h-0.9zM147.0 80.7h0.9v0.9h-0.9zM156.2 74.0h0.9v0.9h-0.9zM151.3 78.3h0.9v0.9h-0.9zM157.9 78.3h0.9v0.9h-0.9zM149.8 70.0h0.9v0.9h-0.9zM150.7 71.5h0.9v0.9h-0.9zM147.7 81.1h0.9v0.9h-0.9zM156.3 74.5h0.9v0.9h-0.9zM153.7 80.0h0.9v0.9h-0.9zM161.1 79.0h0.9v0.9h-0.9zM156.7 73.2h0.9v0.9h-0.9zM154.2 67.5h0.9v0.9h-0.9zM144.6 80.3h0.9v0.9h-0.9zM144.8 79.3h0.9v0.9h-0.9zM158.6 73.9h0.9v0.9h-0.9zM159.3 70.9h0.9v0.9h-0.9zM148.1 78.8h0.9v0.9h-0.9zM155.0 71.8h0.9v0.9h-0.9zM150.6 69.1h0.9v0.9h-0.9zM157.3 76.0h0.9v0.9h-0.9zM145.3 78.2h0.9v0.9h-0.9zM145.1 81.5h0.9v0.9h-0.9zM156.9 82.2h0.9v0.9h-0.9zM164.2 71.1h0.9v0.9h-0.9zM156.8 79.4h0.9v0.9h-0.9zM151.9 71.2h0.9v0.9h-0.9zM147.3 69.1h0.9v0.9h-0.9zM156.0 67.2h0.9v0.9h-0.9zM147.4 78.1h0.9v0.9h-0.9zM148.2 68.1h0.9v0.9h-0.9zM155.1 80.9h0.9v0.9h-0.9zM157.9 74.9h0.9v0.9h-0.9zM150.3 73.4h0.9v0.9h-0.9zM163.5 68.7h0.9v0.9h-0.9zM148.6 80.9h0.9v0.9h-0.9zM160.1 75.1h0.9v0.9h-0.9zM161.4 70.9h0.9v0.9h-0.9zM145.8 76.0h0.9v0.9h-0.9zM160.8 68.1h0.9v0.9h-0.9zM153.6 63.7h0.9v0.9h-0.9zM155.5 67.7h0.9v0.9h-0.9zM149.5 78.6h0.9v0.9h-0.9zM149.6 67.5h0.9v0.9h-0.9zM155.4 78.9h0.9v0.9h-0.9zM164.4 72.5h0.9v0.9h-0.9zM147.7 68.5h0.9v0.9h-0.9zM158.5 75.4h0.9v0.9h-0.9zM147.0 76.4h0.9v0.9h-0.9zM152.2 77.5h0.9v0.9h-0.9zM150.1 68.5h0.9v0.9h-0.9zM156.5 75.7h0.9v0.9h-0.9zM157.7 67.6h0.9v0.9h-0.9zM151.4 81.6h0.9v0.9h-0.9zM147.3 63.8h0.9v0.9h-0.9zM148.6 64.9h0.9v0.9h-0.9zM161.9 76.1h0.9v0.9h-0.9zM146.3 77.4h0.9v0.9h-0.9zM156.9 80.6h0.9v0.9h-0.9zM157.2 64.6h0.9v0.9h-0.9zM159.5 72.8h0.9v0.9h-0.9zM150.7 73.3h0.9v0.9h-0.9zM162.8 76.2h0.9v0.9h-0.9zM155.8 80.4h0.9v0.9h-0.9zM148.0 81.6h0.9v0.9h-0.9zM146.2 79.9h0.9v0.9h-0.9zM150.5 75.3h0.9v0.9h-0.9zM147.7 68.4h0.9v0.9h-0.9zM163.4 79.2h0.9v0.9h-0.9z" fill="#1b5e91" fill-opacity="0.5"/>
<path d="M150.6 66.7h0.9v0.9h-0.9zM152.5 79.9h0.9v0.9h-0.9zM165.4 76.5h0.9v0.9h-0.9zM164.6 79.1h0.9v0.9h-0.9zM146.6 77.5h0.9v0.9h-0.9zM152.5 69.4h0.9v0.9h-0.9zM159.0 73.5h0.9v0.9h-0.9zM154.3 69.1h0.9v0.9h-0.9zM155.1 68.0h0.9v0.9h-0.9zM149.8 67.5h0.9v0.9h-0.9zM159.9 67.1h0.9v0.9h-0.9zM148.2 66.1h0.9v0.9h-0.9zM148.9 69.8h0.9v0.9h-0.9zM163.5 64.7h0.9v0.9h-0.9zM157.7 65.5h0.9v0.9h-0.9zM156.6 76.4h0.9v0.9h-0.9zM149.4 73.4h0.9v0.9h-0.9zM153.1 68.7h0.9v0.9h-0.9zM163.9 67.2h0.9v0.9h-0.9zM164.5 70.4h0.9v0.9h-0.9zM164.9 66.3h0.9v0.9h-0.9zM149.1 67.6h0.9v0.9h-0.9zM159.6 77.0h0.9v0.9h-0.9zM164.6 80.1h0.9v0.9h-0.9zM148.5 74.3h0.9v0.9h-0.9zM162.0 67.9h0.9v0.9h-0.9zM163.6 65.3h0.9v0.9h-0.9zM151.1 64.9h0.9v0.9h-0.9zM152.8 75.4h0.9v0.9h-0.9zM163.1 67.6h0.9v0.9h-0.9zM145.4 71.0h0.9v0.9h-0.9zM147.2 75.0h0.9v0.9h-0.9zM154.4 81.5h0.9v0.9h-0.9zM152.4 69.1h0.9v0.9h-0.9zM151.5 62.4h0.9v0.9h-0.9zM149.1 68.8h0.9v0.9h-0.9zM151.9 81.4h0.9v0.9h-0.9zM156.2 67.6h0.9v0.9h-0.9zM159.7 68.0h0.9v0.9h-0.9zM154.3 67.0h0.9v0.9h-0.9zM157.3 67.1h0.9v0.9h-0.9zM147.8 77.5h0.9v0.9h-0.9zM147.5 69.3h0.9v0.9h-0.9zM164.8 66.6h0.9v0.9h-0.9zM145.5 76.6h0.9v0.9h-0.9zM155.8 63.4h0.9v0.9h-0.9zM146.7 76.5h0.9v0.9h-0.9zM154.6 77.1h0.9v0.9h-0.9zM162.0 76.9h0.9v0.9h-0.9zM155.3 69.8h0.9v0.9h-0.9zM156.3 79.7h0.9v0.9h-0.9zM148.1 66.3h0.9v0.9h-0.9zM163.3 79.6h0.9v0.9h-0.9zM158.9 68.7h0.9v0.9h-0.9zM149.8 69.5h0.9v0.9h-0.9zM150.4 76.0h0.9v0.9h-0.9zM147.1 82.1h0.9v0.9h-0.9zM163.0 68.0h0.9v0.9h-0.9zM154.5 68.8h0.9v0.9h-0.9zM156.9 82.5h0.9v0.9h-0.9zM154.8 77.3h0.9v0.9h-0.9zM155.6 76.7h0.9v0.9h-0.9zM167.0 71.0h0.9v0.9h-0.9zM164.0 80.6h0.9v0.9h-0.9zM161.0 73.9h0.9v0.9h-0.9zM157.2 76.0h0.9v0.9h-0.9zM143.1 81.0h0.9v0.9h-0.9zM150.7 80.0h0.9v0.9h-0.9zM149.8 64.8h0.9v0.9h-0.9zM152.0 76.9h0.9v0.9h-0.9zM150.4 79.8h0.9v0.9h-0.9zM159.6 66.2h0.9v0.9h-0.9zM148.7 78.9h0.9v0.9h-0.9zM162.2 71.1h0.9v0.9h-0.9zM164.3 81.2h0.9v0.9h-0.9zM159.3 80.7h0.9v0.9h-0.9zM150.9 70.5h0.9v0.9h-0.9zM157.8 73.4h0.9v0.9h-0.9zM152.7 68.5h0.9v0.9h-0.9zM153.2 63.4h0.9v0.9h-0.9zM165.9 73.7h0.9v0.9h-0.9zM158.6 80.6h0.9v0.9h-0.9zM157.9 79.6h0.9v0.9h-0.9zM147.6 66.0h0.9v0.9h-0.9zM150.1 77.8h0.9v0.9h-0.9zM146.2 69.9h0.9v0.9h-0.9zM155.1 69.8h0.9v0.9h-0.9zM148.7 80.9h0.9v0.9h-0.9zM156.5 68.2h0.9v0.9h-0.9zM163.7 67.0h0.9v0.9h-0.9zM151.8 76.6h0.9v0.9h-0.9zM148.7 71.5h0.9v0.9h-0.9zM151.9 66.9h0.9v0.9h-0.9zM164.7 69.2h0.9v0.9h-0.9zM156.9 79.8h0.9v0.9h-0.9zM151.3 64.6h0.9v0.9h-0.9zM162.3 74.6h0.9v0.9h-0.9zM150.6 70.7h0.9v0.9h-0.9zM151.8 69.9h0.9v0.9h-0.9zM158.2 66.2h0.9v0.9h-0.9zM154.8 66.9h0.9v0.9h-0.9zM148.2 80.0h0.9v0.9h-0.9zM162.1 81.3h0.9v0.9h-0.9zM150.2 65.4h0.9v0.9h-0.9zM151.7 81.5h0.9v0.9h-0.9zM149.1 65.3h0.9v0.9h-0.9zM160.1 76.7h0.9v0.9h-0.9z" fill="#2f6ea5" fill-opacity="0.5"/>
<path d="M154.1 68.5h0.9v0.9h-0.9zM153.9 63.3h0.9v0.9h-0.9zM162.5 70.3h0.9v0.9h-0.9zM152.7 76.8h0.9v0.9h-0.9zM163.8 75.9h0.9v0.9h-0.9zM152.4 64.9h0.9v0.9h-0.9zM158.2 62.9h0.9v0.9h-0.9zM153.7 67.7h0.9v0.9h-0.9zM152.6 71.8h0.9v0.9h-0.9zM163.2 79.7h0.9v0.9h-0.9zM146.9 70.6h0.9v0.9h-0.9zM166.1 65.6h0.9v0.9h-0.9zM157.2 77.4h0.9v0.9h-0.9zM156.4 72.9h0.9v0.9h-0.9zM159.7 64.6h0.9v0.9h-0.9zM164.2 80.8h0.9v0.9h-0.9zM150.9 70.2h0.9v0.9h-0.9zM159.6 70.8h0.9v0.9h-0.9zM148.0 70.0h0.9v0.9h-0.9zM156.6 66.6h0.9v0.9h-0.9zM153.0 71.6h0.9v0.9h-0.9zM149.0 78.4h0.9v0.9h-0.9zM159.7 80.8h0.9v0.9h-0.9zM155.2 79.1h0.9v0.9h-0.9zM147.7 74.2h0.9v0.9h-0.9zM151.5 71.1h0.9v0.9h-0.9zM147.2 81.4h0.9v0.9h-0.9zM156.3 74.7h0.9v0.9h-0.9zM148.7 72.5h0.9v0.9h-0.9zM147.4 82.0h0.9v0.9h-0.9zM159.9 67.7h0.9v0.9h-0.9zM152.0 71.5h0.9v0.9h-0.9zM154.6 75.0h0.9v0.9h-0.9zM150.7 70.4h0.9v0.9h-0.9zM162.0 64.9h0.9v0.9h-0.9zM148.6 63.0h0.9v0.9h-0.9zM161.7 65.7h0.9v0.9h-0.9zM161.6 73.5h0.9v0.9h-0.9zM162.7 66.4h0.9v0.9h-0.9zM149.7 66.4h0.9v0.9h-0.9zM152.3 67.9h0.9v0.9h-0.9zM166.0 70.3h0.9v0.9h-0.9zM144.8 80.2h0.9v0.9h-0.9zM155.9 78.8h0.9v0.9h-0.9zM158.2 65.4h0.9v0.9h-0.9zM158.6 77.1h0.9v0.9h-0.9zM148.4 71.4h0.9v0.9h-0.9zM159.7 66.1h0.9v0.9h-0.9zM158.8 66.3h0.9v0.9h-0.9zM145.4 76.0h0.9v0.9h-0.9zM157.5 67.8h0.9v0.9h-0.9zM150.2 72.0h0.9v0.9h-0.9zM150.8 77.2h0.9v0.9h-0.9zM162.2 63.1h0.9v0.9h-0.9zM158.1 80.5h0.9v0.9h-0.9zM155.4 71.0h0.9v0.9h-0.9zM163.9 70.6h0.9v0.9h-0.9zM146.6 79.1h0.9v0.9h-0.9zM155.2 73.2h0.9v0.9h-0.9zM152.2 78.8h0.9v0.9h-0.9zM152.0 74.6h0.9v0.9h-0.9zM155.1 64.3h0.9v0.9h-0.9zM166.4 67.8h0.9v0.9h-0.9zM146.1 80.2h0.9v0.9h-0.9zM159.8 71.8h0.9v0.9h-0.9zM163.5 68.0h0.9v0.9h-0.9zM151.2 68.1h0.9v0.9h-0.9zM149.2 74.4h0.9v0.9h-0.9zM164.3 75.1h0.9v0.9h-0.9zM144.6 77.5h0.9v0.9h-0.9zM146.2 76.9h0.9v0.9h-0.9zM163.6 66.3h0.9v0.9h-0.9zM164.0 63.6h0.9v0.9h-0.9zM165.8 70.0h0.9v0.9h-0.9zM146.5 69.7h0.9v0.9h-0.9zM149.0 70.9h0.9v0.9h-0.9zM146.4 70.6h0.9v0.9h-0.9zM155.6 78.4h0.9v0.9h-0.9zM149.0 68.1h0.9v0.9h-0.9zM164.6 76.0h0.9v0.9h-0.9zM160.3 75.8h0.9v0.9h-0.9zM159.2 70.5h0.9v0.9h-0.9zM152.9 66.3h0.9v0.9h-0.9zM160.6 70.6h0.9v0.9h-0.9zM150.3 73.7h0.9v0.9h-0.9zM165.7 77.5h0.9v0.9h-0.9zM161.1 67.2h0.9v0.9h-0.9zM156.2 65.6h0.9v0.9h-0.9z" fill="#17528a" fill-opacity="0.5"/>
<path d="M171.4 77.3h0.9v0.9h-0.9zM173.2 72.1h0.9v0.9h-0.9zM167.8 72.0h0.9v0.9h-0.9zM176.5 66.5h0.9v0.9h-0.9zM176.6 71.1h0.9v0.9h-0.9zM165.1 76.4h0.9v0.9h-0.9zM175.3 67.1h0.9v0.9h-0.9zM172.1 64.8h0.9v0.9h-0.9zM170.9 78.3h0.9v0.9h-0.9zM168.3 80.6h0.9v0.9h-0.9zM176.8 65.7h0.9v0.9h-0.9zM167.9 76.5h0.9v0.9h-0.9zM173.0 73.4h0.9v0.9h-0.9zM177.4 65.0h0.9v0.9h-0.9zM169.1 66.2h0.9v0.9h-0.9zM169.0 69.3h0.9v0.9h-0.9zM174.2 78.6h0.9v0.9h-0.9zM167.9 77.9h0.9v0.9h-0.9zM174.5 74.3h0.9v0.9h-0.9zM174.6 74.0h0.9v0.9h-0.9zM170.2 76.3h0.9v0.9h-0.9zM169.7 73.6h0.9v0.9h-0.9zM168.3 82.6h0.9v0.9h-0.9zM173.7 74.7h0.9v0.9h-0.9zM173.6 80.5h0.9v0.9h-0.9zM168.6 75.1h0.9v0.9h-0.9zM173.8 65.6h0.9v0.9h-0.9zM171.2 63.1h0.9v0.9h-0.9zM173.1 79.5h0.9v0.9h-0.9zM169.7 80.8h0.9v0.9h-0.9zM165.7 78.0h0.9v0.9h-0.9zM177.5 69.1h0.9v0.9h-0.9zM172.1 76.0h0.9v0.9h-0.9zM165.4 82.0h0.9v0.9h-0.9zM168.1 70.5h0.9v0.9h-0.9zM175.1 75.0h0.9v0.9h-0.9zM167.9 76.0h0.9v0.9h-0.9zM167.6 64.5h0.9v0.9h-0.9zM167.2 80.1h0.9v0.9h-0.9zM174.9 66.4h0.9v0.9h-0.9zM172.6 71.4h0.9v0.9h-0.9zM172.8 63.7h0.9v0.9h-0.9zM174.5 69.6h0.9v0.9h-0.9zM171.3 70.0h0.9v0.9h-0.9zM172.7 78.7h0.9v0.9h-0.9zM170.8 68.7h0.9v0.9h-0.9zM168.3 68.2h0.9v0.9h-0.9zM173.1 66.7h0.9v0.9h-0.9zM170.3 69.1h0.9v0.9h-0.9zM171.9 75.1h0.9v0.9h-0.9zM171.3 81.0h0.9v0.9h-0.9zM170.4 72.9h0.9v0.9h-0.9zM171.7 71.8h0.9v0.9h-0.9z" fill="#d21e46" fill-opacity="0.5"/>
<path d="M167.8 70.3h0.9v0.9h-0.9zM175.8 64.2h0.9v0.9h-0.9zM171.4 67.8h0.9v0.9h-0.9zM170.9 71.8h0.9v0.9h-0.9zM171.0 79.9h0.9v0.9h-0.9zM171.2 65.3h0.9v0.9h-0.9zM173.1 75.7h0.9v0.9h-0.9zM175.5 65.6h0.9v0.9h-0.9zM174.4 75.5h0.9v0.9h-0.9zM174.5 72.6h0.9v0.9h-0.9zM173.6 74.7h0.9v0.9h-0.9zM173.1 72.9h0.9v0.9h-0.9zM175.8 67.8h0.9v0.9h-0.9zM173.3 78.3h0.9v0.9h-0.9zM170.9 70.9h0.9v0.9h-0.9zM175.8 75.3h0.9v0.9h-0.9zM166.7 70.9h0.9v0.9h-0.9zM172.5 82.0h0.9v0.9h-0.9zM169.1 74.4h0.9v0.9h-0.9zM171.3 81.0h0.9v0.9h-0.9zM167.7 77.2h0.9v0.9h-0.9zM171.5 67.5h0.9v0.9h-0.9zM169.1 76.1h0.9v0.9h-0.9zM170.3 70.4h0.9v0.9h-0.9zM173.4 79.9h0.9v0.9h-0.9zM170.8 75.1h0.9v0.9h-0.9zM172.1 67.5h0.9v0.9h-0.9zM172.8 73.9h0.9v0.9h-0.9zM166.2 71.1h0.9v0.9h-0.9zM172.8 66.2h0.9v0.9h-0.9zM171.2 65.8h0.9v0.9h-0.9zM168.8 69.4h0.9v0.9h-0.9zM174.4 66.0h0.9v0.9h-0.9zM171.8 73.6h0.9v0.9h-0.9zM174.2 70.0h0.9v0.9h-0.9zM165.2 77.1h0.9v0.9h-0.9zM168.1 80.6h0.9v0.9h-0.9zM168.5 73.8h0.9v0.9h-0.9zM173.6 67.2h0.9v0.9h-0.9zM168.7 82.0h0.9v0.9h-0.9zM171.2 64.8h0.9v0.9h-0.9zM176.2 64.2h0.9v0.9h-0.9zM174.5 68.4h0.9v0.9h-0.9zM167.1 64.5h0.9v0.9h-0.9zM167.5 64.0h0.9v0.9h-0.9zM166.2 69.0h0.9v0.9h-0.9zM169.3 81.6h0.9v0.9h-0.9zM175.6 64.5h0.9v0.9h-0.9zM170.0 73.2h0.9v0.9h-0.9zM173.2 81.1h0.9v0.9h-0.9zM175.4 66.4h0.9v0.9h-0.9zM168.3 74.6h0.9v0.9h-0.9zM172.4 64.9h0.9v0.9h-0.9zM172.4 69.5h0.9v0.9h-0.9z" fill="#e04a6a" fill-opacity="0.5"/>
<path d="M168.4 73.6h0.9v0.9h-0.9zM174.8 81.0h0.9v0.9h-0.9zM172.1 77.2h0.9v0.9h-0.9zM167.7 67.8h0.9v0.9h-0.9zM174.0 74.2h0.9v0.9h-0.9zM165.4 74.0h0.9v0.9h-0.9zM174.9 77.8h0.9v0.9h-0.9zM167.0 75.6h0.9v0.9h-0.9zM177.8 67.2h0.9v0.9h-0.9zM168.9 72.3h0.9v0.9h-0.9zM167.2 75.4h0.9v0.9h-0.9zM170.8 77.9h0.9v0.9h-0.9zM170.9 72.6h0.9v0.9h-0.9zM171.8 66.8h0.9v0.9h-0.9zM174.1 66.3h0.9v0.9h-0.9zM166.1 77.2h0.9v0.9h-0.9zM168.1 76.1h0.9v0.9h-0.9zM172.2 76.1h0.9v0.9h-0.9zM171.9 71.2h0.9v0.9h-0.9zM168.0 73.8h0.9v0.9h-0.9zM176.7 70.5h0.9v0.9h-0.9zM169.9 78.7h0.9v0.9h-0.9zM177.0 69.1h0.9v0.9h-0.9zM168.0 78.7h0.9v0.9h-0.9zM173.6 78.0h0.9v0.9h-0.9zM173.6 76.9h0.9v0.9h-0.9zM176.0 73.2h0.9v0.9h-0.9zM176.0 63.4h0.9v0.9h-0.9zM173.5 65.5h0.9v0.9h-0.9zM169.7 81.2h0.9v0.9h-0.9zM168.2 80.4h0.9v0.9h-0.9zM167.1 65.7h0.9v0.9h-0.9zM170.0 69.1h0.9v0.9h-0.9zM167.7 72.0h0.9v0.9h-0.9zM173.1 72.4h0.9v0.9h-0.9zM175.3 79.8h0.9v0.9h-0.9zM166.4 71.0h0.9v0.9h-0.9zM170.3 66.0h0.9v0.9h-0.9zM171.5 64.5h0.9v0.9h-0.9zM175.3 75.3h0.9v0.9h-0.9zM167.7 76.9h0.9v0.9h-0.9zM173.5 74.4h0.9v0.9h-0.9zM173.8 81.5h0.9v0.9h-0.9z" fill="#f08aa0" fill-opacity="0.5"/>
<rect x="139.6" y="30.4" width="56.400000000000006" height="56.00000000000001" fill="none" stroke="#2a2a2a" stroke-width="1"/>
<line x1="138.30" y1="31.60" x2="139.60" y2="31.60" stroke="#444" stroke-width="0.45" />
<line x1="138.30" y1="33.50" x2="139.60" y2="33.50" stroke="#444" stroke-width="0.45" />
<line x1="138.30" y1="35.40" x2="139.60" y2="35.40" stroke="#444" stroke-width="0.45" />
<line x1="138.30" y1="37.30" x2="139.60" y2="37.30" stroke="#444" stroke-width="0.45" />
<line x1="138.30" y1="39.20" x2="139.60" y2="39.20" stroke="#444" stroke-width="0.45" />
<line x1="138.30" y1="41.10" x2="139.60" y2="41.10" stroke="#444" stroke-width="0.45" />
<line x1="138.30" y1="43.00" x2="139.60" y2="43.00" stroke="#444" stroke-width="0.45" />
<line x1="138.30" y1="44.90" x2="139.60" y2="44.90" stroke="#444" stroke-width="0.45" />
<line x1="138.30" y1="46.80" x2="139.60" y2="46.80" stroke="#444" stroke-width="0.45" />
<line x1="138.30" y1="48.70" x2="139.60" y2="48.70" stroke="#444" stroke-width="0.45" />
<line x1="138.30" y1="50.60" x2="139.60" y2="50.60" stroke="#444" stroke-width="0.45" />
<line x1="138.30" y1="52.50" x2="139.60" y2="52.50" stroke="#444" stroke-width="0.45" />
<line x1="138.30" y1="54.40" x2="139.60" y2="54.40" stroke="#444" stroke-width="0.45" />
<line x1="138.30" y1="56.30" x2="139.60" y2="56.30" stroke="#444" stroke-width="0.45" />
<line x1="138.30" y1="58.20" x2="139.60" y2="58.20" stroke="#444" stroke-width="0.45" />
<line x1="138.30" y1="60.10" x2="139.60" y2="60.10" stroke="#444" stroke-width="0.45" />
<line x1="138.30" y1="62.00" x2="139.60" y2="62.00" stroke="#444" stroke-width="0.45" />
<line x1="138.30" y1="63.90" x2="139.60" y2="63.90" stroke="#444" stroke-width="0.45" />
<line x1="138.30" y1="65.80" x2="139.60" y2="65.80" stroke="#444" stroke-width="0.45" />
<line x1="138.30" y1="67.70" x2="139.60" y2="67.70" stroke="#444" stroke-width="0.45" />
<line x1="138.30" y1="69.60" x2="139.60" y2="69.60" stroke="#444" stroke-width="0.45" />
<line x1="138.30" y1="71.50" x2="139.60" y2="71.50" stroke="#444" stroke-width="0.45" />
<line x1="138.30" y1="73.40" x2="139.60" y2="73.40" stroke="#444" stroke-width="0.45" />
<line x1="138.30" y1="75.30" x2="139.60" y2="75.30" stroke="#444" stroke-width="0.45" />
<line x1="138.30" y1="77.20" x2="139.60" y2="77.20" stroke="#444" stroke-width="0.45" />
<line x1="138.30" y1="79.10" x2="139.60" y2="79.10" stroke="#444" stroke-width="0.45" />
<line x1="138.30" y1="81.00" x2="139.60" y2="81.00" stroke="#444" stroke-width="0.45" />
<line x1="138.30" y1="82.90" x2="139.60" y2="82.90" stroke="#444" stroke-width="0.45" />
<line x1="138.30" y1="84.80" x2="139.60" y2="84.80" stroke="#444" stroke-width="0.45" />
<line x1="140.80" y1="86.40" x2="140.80" y2="87.70" stroke="#444" stroke-width="0.45" />
<line x1="142.70" y1="86.40" x2="142.70" y2="87.70" stroke="#444" stroke-width="0.45" />
<line x1="144.60" y1="86.40" x2="144.60" y2="87.70" stroke="#444" stroke-width="0.45" />
<line x1="146.50" y1="86.40" x2="146.50" y2="87.70" stroke="#444" stroke-width="0.45" />
<line x1="148.40" y1="86.40" x2="148.40" y2="87.70" stroke="#444" stroke-width="0.45" />
<line x1="150.30" y1="86.40" x2="150.30" y2="87.70" stroke="#444" stroke-width="0.45" />
<line x1="152.20" y1="86.40" x2="152.20" y2="87.70" stroke="#444" stroke-width="0.45" />
<line x1="154.10" y1="86.40" x2="154.10" y2="87.70" stroke="#444" stroke-width="0.45" />
<line x1="156.00" y1="86.40" x2="156.00" y2="87.70" stroke="#444" stroke-width="0.45" />
<line x1="157.90" y1="86.40" x2="157.90" y2="87.70" stroke="#444" stroke-width="0.45" />
<line x1="159.80" y1="86.40" x2="159.80" y2="87.70" stroke="#444" stroke-width="0.45" />
<line x1="161.70" y1="86.40" x2="161.70" y2="87.70" stroke="#444" stroke-width="0.45" />
<line x1="163.60" y1="86.40" x2="163.60" y2="87.70" stroke="#444" stroke-width="0.45" />
<line x1="165.50" y1="86.40" x2="165.50" y2="87.70" stroke="#444" stroke-width="0.45" />
<line x1="167.40" y1="86.40" x2="167.40" y2="87.70" stroke="#444" stroke-width="0.45" />
<line x1="169.30" y1="86.40" x2="169.30" y2="87.70" stroke="#444" stroke-width="0.45" />
<line x1="171.20" y1="86.40" x2="171.20" y2="87.70" stroke="#444" stroke-width="0.45" />
<line x1="173.10" y1="86.40" x2="173.10" y2="87.70" stroke="#444" stroke-width="0.45" />
<line x1="175.00" y1="86.40" x2="175.00" y2="87.70" stroke="#444" stroke-width="0.45" />
<line x1="176.90" y1="86.40" x2="176.90" y2="87.70" stroke="#444" stroke-width="0.45" />
<line x1="178.80" y1="86.40" x2="178.80" y2="87.70" stroke="#444" stroke-width="0.45" />
<line x1="180.70" y1="86.40" x2="180.70" y2="87.70" stroke="#444" stroke-width="0.45" />
<line x1="182.60" y1="86.40" x2="182.60" y2="87.70" stroke="#444" stroke-width="0.45" />
<line x1="184.50" y1="86.40" x2="184.50" y2="87.70" stroke="#444" stroke-width="0.45" />
<line x1="186.40" y1="86.40" x2="186.40" y2="87.70" stroke="#444" stroke-width="0.45" />
<line x1="188.30" y1="86.40" x2="188.30" y2="87.70" stroke="#444" stroke-width="0.45" />
<line x1="190.20" y1="86.40" x2="190.20" y2="87.70" stroke="#444" stroke-width="0.45" />
<line x1="192.10" y1="86.40" x2="192.10" y2="87.70" stroke="#444" stroke-width="0.45" />
<line x1="194.00" y1="86.40" x2="194.00" y2="87.70" stroke="#444" stroke-width="0.45" />
<line x1="195.90" y1="86.40" x2="195.90" y2="87.70" stroke="#444" stroke-width="0.45" />
<line x1="136.80" y1="40.60" x2="139.60" y2="40.60" stroke="#333" stroke-width="0.6" />
<text x="134.0" y="42.5" font-size="6.0" text-anchor="end" fill="#333" stroke="#333" stroke-width="0.1" font-weight="normal" >1.2K</text>
<line x1="136.80" y1="52.00" x2="139.60" y2="52.00" stroke="#333" stroke-width="0.6" />
<text x="134.0" y="53.9" font-size="6.0" text-anchor="end" fill="#333" stroke="#333" stroke-width="0.1" font-weight="normal" >900</text>
<line x1="136.80" y1="63.40" x2="139.60" y2="63.40" stroke="#333" stroke-width="0.6" />
<text x="134.0" y="65.3" font-size="6.0" text-anchor="end" fill="#333" stroke="#333" stroke-width="0.1" font-weight="normal" >600</text>
<line x1="136.80" y1="74.80" x2="139.60" y2="74.80" stroke="#333" stroke-width="0.6" />
<text x="134.0" y="76.7" font-size="6.0" text-anchor="end" fill="#333" stroke="#333" stroke-width="0.1" font-weight="normal" >300</text>
<line x1="136.80" y1="86.40" x2="139.60" y2="86.40" stroke="#333" stroke-width="0.6" />
<text x="134.0" y="88.3" font-size="6.0" text-anchor="end" fill="#333" stroke="#333" stroke-width="0.1" font-weight="normal" >0</text>
<text x="142.0" y="97.6" font-size="5.6" text-anchor="middle" fill="#333" stroke="#333" stroke-width="0.1" font-weight="normal" >0</text>
<text x="161.0" y="97.6" font-size="5.6" text-anchor="middle" fill="#333" stroke="#333" stroke-width="0.1" font-weight="normal" >10<tspan dy="-2.0" font-size="3.8">1</tspan></text>
<text x="172.0" y="97.6" font-size="5.6" text-anchor="middle" fill="#333" stroke="#333" stroke-width="0.1" font-weight="normal" >10<tspan dy="-2.0" font-size="3.8">2</tspan></text>
<text x="183.0" y="97.6" font-size="5.6" text-anchor="middle" fill="#333" stroke="#333" stroke-width="0.1" font-weight="normal" >10<tspan dy="-2.0" font-size="3.8">3</tspan></text>
<text x="194.0" y="97.6" font-size="5.6" text-anchor="middle" fill="#333" stroke="#333" stroke-width="0.1" font-weight="normal" >10<tspan dy="-2.0" font-size="3.8">4</tspan></text>
<text x="117.6" y="58.7" font-size="8.2" text-anchor="middle" fill="#333" stroke="#333" stroke-width="0.25" font-weight="normal" textLength="38.5" lengthAdjust="spacingAndGlyphs" transform="rotate(-90 117.6 58.7)">SSC-A :: SSC-A</text>
<text x="168.0" y="110.0" font-size="8.6" text-anchor="middle" fill="#333" stroke="#333" stroke-width="0.25" font-weight="normal" textLength="45.6" lengthAdjust="spacingAndGlyphs">B2-A :: CD38 PE-A</text>
<text x="167.8" y="39.3" font-size="6.2" text-anchor="middle" fill="#333" stroke="#333" stroke-width="0.1" font-weight="normal" >AML-10</text>
<text x="265.3" y="25.8" font-size="8.3" text-anchor="middle" fill="#2a2a2a" stroke="#2a2a2a" stroke-width="0.14" font-weight="normal" >BL</text>
<path d="M255.2 83.7h0.8v0.8h-0.8zM269.0 74.6h0.8v0.8h-0.8zM259.8 78.2h0.8v0.8h-0.8zM259.4 78.1h0.8v0.8h-0.8zM249.1 77.1h0.8v0.8h-0.8zM245.5 73.9h0.8v0.8h-0.8zM254.4 74.7h0.8v0.8h-0.8zM248.3 81.4h0.8v0.8h-0.8zM255.5 77.9h0.8v0.8h-0.8zM259.5 67.7h0.8v0.8h-0.8zM258.9 77.0h0.8v0.8h-0.8zM246.3 69.2h0.8v0.8h-0.8zM254.3 77.8h0.8v0.8h-0.8zM249.2 71.9h0.8v0.8h-0.8zM257.7 80.4h0.8v0.8h-0.8zM266.9 73.7h0.8v0.8h-0.8zM266.9 79.4h0.8v0.8h-0.8zM256.5 77.1h0.8v0.8h-0.8zM262.8 72.0h0.8v0.8h-0.8zM266.9 79.8h0.8v0.8h-0.8zM254.6 71.4h0.8v0.8h-0.8zM256.4 82.6h0.8v0.8h-0.8zM260.8 77.3h0.8v0.8h-0.8zM254.0 72.7h0.8v0.8h-0.8zM250.5 69.4h0.8v0.8h-0.8zM248.5 83.8h0.8v0.8h-0.8zM254.4 83.1h0.8v0.8h-0.8zM249.5 71.7h0.8v0.8h-0.8zM260.4 83.9h0.8v0.8h-0.8zM251.8 77.7h0.8v0.8h-0.8zM265.5 76.1h0.8v0.8h-0.8zM263.6 76.6h0.8v0.8h-0.8zM244.8 75.9h0.8v0.8h-0.8zM262.6 83.0h0.8v0.8h-0.8zM251.3 77.6h0.8v0.8h-0.8zM264.8 69.3h0.8v0.8h-0.8zM254.0 80.7h0.8v0.8h-0.8zM259.5 72.4h0.8v0.8h-0.8zM250.1 75.5h0.8v0.8h-0.8zM256.9 73.2h0.8v0.8h-0.8zM257.3 77.2h0.8v0.8h-0.8zM253.3 78.7h0.8v0.8h-0.8zM257.3 78.0h0.8v0.8h-0.8zM246.8 74.5h0.8v0.8h-0.8zM258.7 73.6h0.8v0.8h-0.8zM245.2 80.6h0.8v0.8h-0.8zM259.2 76.6h0.8v0.8h-0.8zM259.8 73.6h0.8v0.8h-0.8zM250.2 80.3h0.8v0.8h-0.8zM277.6 77.2h0.8v0.8h-0.8zM252.7 73.8h0.8v0.8h-0.8zM255.6 82.7h0.8v0.8h-0.8zM248.7 77.5h0.8v0.8h-0.8zM265.4 73.2h0.8v0.8h-0.8zM250.9 75.7h0.8v0.8h-0.8zM262.0 81.3h0.8v0.8h-0.8zM247.3 71.9h0.8v0.8h-0.8zM256.9 82.8h0.8v0.8h-0.8zM251.7 79.9h0.8v0.8h-0.8zM261.6 75.8h0.8v0.8h-0.8zM252.3 82.7h0.8v0.8h-0.8zM248.0 84.4h0.8v0.8h-0.8zM258.0 79.5h0.8v0.8h-0.8zM245.5 77.7h0.8v0.8h-0.8zM247.3 84.8h0.8v0.8h-0.8zM260.4 83.3h0.8v0.8h-0.8zM240.3 73.1h0.8v0.8h-0.8zM260.3 76.1h0.8v0.8h-0.8zM251.5 76.1h0.8v0.8h-0.8zM247.6 75.3h0.8v0.8h-0.8zM256.4 70.7h0.8v0.8h-0.8zM259.4 80.8h0.8v0.8h-0.8zM250.2 77.4h0.8v0.8h-0.8zM253.3 77.4h0.8v0.8h-0.8zM260.7 82.9h0.8v0.8h-0.8zM260.3 74.6h0.8v0.8h-0.8zM254.2 76.8h0.8v0.8h-0.8zM248.8 78.2h0.8v0.8h-0.8zM247.5 75.2h0.8v0.8h-0.8zM250.1 76.5h0.8v0.8h-0.8zM259.8 80.2h0.8v0.8h-0.8zM259.0 77.0h0.8v0.8h-0.8zM257.0 82.6h0.8v0.8h-0.8zM265.2 73.8h0.8v0.8h-0.8zM252.4 77.9h0.8v0.8h-0.8zM251.8 71.0h0.8v0.8h-0.8zM251.8 76.5h0.8v0.8h-0.8zM269.1 74.0h0.8v0.8h-0.8zM256.9 80.1h0.8v0.8h-0.8zM258.1 79.2h0.8v0.8h-0.8zM255.2 84.8h0.8v0.8h-0.8zM272.4 83.1h0.8v0.8h-0.8zM263.6 80.0h0.8v0.8h-0.8zM260.6 74.1h0.8v0.8h-0.8zM248.0 70.9h0.8v0.8h-0.8zM258.5 76.9h0.8v0.8h-0.8zM252.0 75.5h0.8v0.8h-0.8zM255.1 74.3h0.8v0.8h-0.8zM256.3 75.8h0.8v0.8h-0.8zM251.1 70.0h0.8v0.8h-0.8zM259.6 83.3h0.8v0.8h-0.8zM267.1 72.2h0.8v0.8h-0.8zM262.6 74.2h0.8v0.8h-0.8zM256.4 79.4h0.8v0.8h-0.8zM240.2 70.1h0.8v0.8h-0.8zM263.0 80.9h0.8v0.8h-0.8zM262.9 81.0h0.8v0.8h-0.8zM253.4 75.7h0.8v0.8h-0.8zM251.2 72.4h0.8v0.8h-0.8zM259.8 75.0h0.8v0.8h-0.8zM248.8 69.1h0.8v0.8h-0.8zM260.9 82.9h0.8v0.8h-0.8zM246.7 77.2h0.8v0.8h-0.8zM247.9 73.9h0.8v0.8h-0.8zM255.0 73.1h0.8v0.8h-0.8zM243.9 79.4h0.8v0.8h-0.8zM254.9 83.4h0.8v0.8h-0.8zM258.9 71.6h0.8v0.8h-0.8zM245.0 74.6h0.8v0.8h-0.8zM261.9 69.5h0.8v0.8h-0.8zM250.7 79.9h0.8v0.8h-0.8zM259.0 77.7h0.8v0.8h-0.8zM251.5 76.5h0.8v0.8h-0.8zM251.0 75.1h0.8v0.8h-0.8zM242.1 74.0h0.8v0.8h-0.8zM249.7 80.6h0.8v0.8h-0.8zM249.1 70.1h0.8v0.8h-0.8zM267.3 80.2h0.8v0.8h-0.8zM262.6 78.1h0.8v0.8h-0.8zM244.6 74.8h0.8v0.8h-0.8zM260.9 73.2h0.8v0.8h-0.8zM256.6 81.5h0.8v0.8h-0.8zM252.1 84.9h0.8v0.8h-0.8zM258.4 75.1h0.8v0.8h-0.8zM260.9 79.3h0.8v0.8h-0.8zM250.7 84.4h0.8v0.8h-0.8zM252.9 74.4h0.8v0.8h-0.8zM256.2 75.9h0.8v0.8h-0.8zM247.6 71.8h0.8v0.8h-0.8zM256.3 76.4h0.8v0.8h-0.8zM254.3 76.7h0.8v0.8h-0.8zM249.9 75.2h0.8v0.8h-0.8zM248.6 73.8h0.8v0.8h-0.8zM257.2 70.2h0.8v0.8h-0.8zM261.5 71.3h0.8v0.8h-0.8zM257.4 72.8h0.8v0.8h-0.8zM248.6 79.7h0.8v0.8h-0.8zM260.6 74.8h0.8v0.8h-0.8zM256.2 73.4h0.8v0.8h-0.8zM259.4 79.8h0.8v0.8h-0.8zM263.7 79.4h0.8v0.8h-0.8zM248.2 73.8h0.8v0.8h-0.8zM253.9 74.3h0.8v0.8h-0.8zM250.5 79.8h0.8v0.8h-0.8zM248.4 78.6h0.8v0.8h-0.8zM270.0 73.4h0.8v0.8h-0.8zM262.0 78.0h0.8v0.8h-0.8zM241.8 76.9h0.8v0.8h-0.8zM258.2 81.8h0.8v0.8h-0.8zM250.8 73.3h0.8v0.8h-0.8zM263.6 80.8h0.8v0.8h-0.8zM255.6 78.9h0.8v0.8h-0.8zM253.7 72.7h0.8v0.8h-0.8zM256.0 81.5h0.8v0.8h-0.8zM257.9 80.9h0.8v0.8h-0.8zM255.2 71.3h0.8v0.8h-0.8zM254.0 72.1h0.8v0.8h-0.8zM258.8 73.1h0.8v0.8h-0.8zM246.5 75.6h0.8v0.8h-0.8zM255.0 80.3h0.8v0.8h-0.8zM254.1 79.5h0.8v0.8h-0.8zM251.4 76.6h0.8v0.8h-0.8zM260.5 82.9h0.8v0.8h-0.8zM245.3 78.7h0.8v0.8h-0.8zM252.3 83.0h0.8v0.8h-0.8zM259.1 77.8h0.8v0.8h-0.8zM255.4 75.1h0.8v0.8h-0.8zM257.9 72.4h0.8v0.8h-0.8zM243.1 77.4h0.8v0.8h-0.8zM258.4 77.4h0.8v0.8h-0.8zM249.4 71.7h0.8v0.8h-0.8zM253.1 72.0h0.8v0.8h-0.8zM254.2 75.9h0.8v0.8h-0.8zM261.0 76.2h0.8v0.8h-0.8zM268.2 81.2h0.8v0.8h-0.8zM256.3 77.1h0.8v0.8h-0.8zM251.4 77.0h0.8v0.8h-0.8zM251.2 78.3h0.8v0.8h-0.8z" fill="#8a9cc0" fill-opacity="0.5"/>
<path d="M250.0 84.0 L253.0 71.0 L258.0 67.5 L289.0 67.2 L290.0 76.0 L287.0 84.0Z" fill="#9fb5d3" fill-opacity="0.45" filter="url(#bl2)"/>
<path d="M272.8 69.1h0.9v0.9h-0.9zM277.0 76.0h0.9v0.9h-0.9zM268.9 76.5h0.9v0.9h-0.9zM267.8 81.7h0.9v0.9h-0.9zM271.2 83.4h0.9v0.9h-0.9zM271.5 76.0h0.9v0.9h-0.9zM270.8 80.9h0.9v0.9h-0.9zM257.1 81.2h0.9v0.9h-0.9zM255.9 82.2h0.9v0.9h-0.9zM256.8 79.8h0.9v0.9h-0.9zM261.5 80.9h0.9v0.9h-0.9zM260.5 77.5h0.9v0.9h-0.9zM255.7 75.7h0.9v0.9h-0.9zM249.2 84.0h0.9v0.9h-0.9zM275.7 75.7h0.9v0.9h-0.9zM262.5 69.4h0.9v0.9h-0.9zM260.0 76.5h0.9v0.9h-0.9zM253.5 72.1h0.9v0.9h-0.9zM255.4 80.7h0.9v0.9h-0.9zM267.2 82.6h0.9v0.9h-0.9zM257.2 72.0h0.9v0.9h-0.9zM261.2 83.7h0.9v0.9h-0.9zM258.3 69.7h0.9v0.9h-0.9zM275.2 70.8h0.9v0.9h-0.9zM258.5 83.7h0.9v0.9h-0.9zM257.6 70.8h0.9v0.9h-0.9zM252.1 73.8h0.9v0.9h-0.9zM249.7 76.9h0.9v0.9h-0.9zM273.3 77.9h0.9v0.9h-0.9zM248.7 74.8h0.9v0.9h-0.9zM249.5 70.7h0.9v0.9h-0.9zM269.4 67.4h0.9v0.9h-0.9zM267.8 75.9h0.9v0.9h-0.9zM264.0 68.0h0.9v0.9h-0.9zM262.5 77.7h0.9v0.9h-0.9zM276.8 71.2h0.9v0.9h-0.9zM249.4 72.6h0.9v0.9h-0.9zM269.4 83.7h0.9v0.9h-0.9zM250.3 80.8h0.9v0.9h-0.9zM262.0 81.8h0.9v0.9h-0.9zM276.3 74.5h0.9v0.9h-0.9zM279.3 67.2h0.9v0.9h-0.9zM262.3 69.0h0.9v0.9h-0.9zM273.5 79.8h0.9v0.9h-0.9zM249.4 70.0h0.9v0.9h-0.9zM270.3 83.7h0.9v0.9h-0.9zM264.7 80.1h0.9v0.9h-0.9zM262.7 78.9h0.9v0.9h-0.9zM269.3 76.1h0.9v0.9h-0.9zM259.5 75.9h0.9v0.9h-0.9zM274.3 74.3h0.9v0.9h-0.9zM267.8 74.8h0.9v0.9h-0.9zM267.4 78.2h0.9v0.9h-0.9zM268.0 77.6h0.9v0.9h-0.9zM267.8 76.5h0.9v0.9h-0.9zM273.8 67.1h0.9v0.9h-0.9zM259.3 71.7h0.9v0.9h-0.9zM263.0 80.6h0.9v0.9h-0.9zM276.0 68.4h0.9v0.9h-0.9zM267.9 84.5h0.9v0.9h-0.9zM277.3 72.4h0.9v0.9h-0.9zM251.4 75.2h0.9v0.9h-0.9zM276.4 71.0h0.9v0.9h-0.9zM250.6 77.0h0.9v0.9h-0.9zM266.5 70.6h0.9v0.9h-0.9zM256.1 78.2h0.9v0.9h-0.9zM260.6 67.4h0.9v0.9h-0.9zM279.5 69.8h0.9v0.9h-0.9zM260.1 68.8h0.9v0.9h-0.9zM272.8 71.1h0.9v0.9h-0.9zM256.6 71.5h0.9v0.9h-0.9zM251.0 84.5h0.9v0.9h-0.9zM253.9 82.7h0.9v0.9h-0.9zM269.5 81.3h0.9v0.9h-0.9zM256.4 71.7h0.9v0.9h-0.9zM257.4 80.2h0.9v0.9h-0.9zM249.9 73.3h0.9v0.9h-0.9zM255.5 74.4h0.9v0.9h-0.9zM269.6 74.7h0.9v0.9h-0.9zM247.9 80.3h0.9v0.9h-0.9zM275.6 79.9h0.9v0.9h-0.9zM276.6 68.1h0.9v0.9h-0.9zM259.8 69.9h0.9v0.9h-0.9zM259.4 71.0h0.9v0.9h-0.9zM269.1 79.5h0.9v0.9h-0.9zM259.1 72.2h0.9v0.9h-0.9zM253.6 76.3h0.9v0.9h-0.9zM273.0 67.7h0.9v0.9h-0.9zM277.7 72.6h0.9v0.9h-0.9zM253.2 74.1h0.9v0.9h-0.9zM273.5 73.6h0.9v0.9h-0.9zM248.6 76.3h0.9v0.9h-0.9zM275.2 82.1h0.9v0.9h-0.9z" fill="#4f7db0" fill-opacity="0.5"/>
<path d="M264.1 73.0h0.9v0.9h-0.9zM263.8 75.5h0.9v0.9h-0.9zM266.6 72.5h0.9v0.9h-0.9zM260.9 80.7h0.9v0.9h-0.9zM273.4 76.5h0.9v0.9h-0.9zM266.5 77.0h0.9v0.9h-0.9zM273.8 73.9h0.9v0.9h-0.9zM256.3 78.9h0.9v0.9h-0.9zM254.5 69.8h0.9v0.9h-0.9zM255.7 81.8h0.9v0.9h-0.9zM266.1 76.6h0.9v0.9h-0.9zM271.3 76.5h0.9v0.9h-0.9zM253.5 81.5h0.9v0.9h-0.9zM252.5 76.1h0.9v0.9h-0.9zM259.9 82.6h0.9v0.9h-0.9zM270.9 81.9h0.9v0.9h-0.9zM269.8 67.9h0.9v0.9h-0.9zM261.8 74.0h0.9v0.9h-0.9zM271.8 79.7h0.9v0.9h-0.9zM263.1 82.1h0.9v0.9h-0.9zM268.6 80.6h0.9v0.9h-0.9zM265.7 79.9h0.9v0.9h-0.9zM274.6 70.6h0.9v0.9h-0.9zM264.5 75.8h0.9v0.9h-0.9zM269.9 69.1h0.9v0.9h-0.9zM274.0 70.7h0.9v0.9h-0.9zM261.1 79.1h0.9v0.9h-0.9zM265.9 81.7h0.9v0.9h-0.9zM278.3 69.5h0.9v0.9h-0.9zM267.3 77.1h0.9v0.9h-0.9zM268.7 67.4h0.9v0.9h-0.9zM259.0 82.6h0.9v0.9h-0.9zM250.5 73.1h0.9v0.9h-0.9zM267.1 72.5h0.9v0.9h-0.9zM253.4 70.4h0.9v0.9h-0.9zM276.2 79.2h0.9v0.9h-0.9zM265.7 68.1h0.9v0.9h-0.9zM269.8 77.3h0.9v0.9h-0.9zM269.8 72.8h0.9v0.9h-0.9zM270.2 78.7h0.9v0.9h-0.9zM256.3 68.1h0.9v0.9h-0.9zM258.7 72.0h0.9v0.9h-0.9zM267.2 82.3h0.9v0.9h-0.9zM255.0 73.3h0.9v0.9h-0.9zM271.2 78.8h0.9v0.9h-0.9zM263.7 70.5h0.9v0.9h-0.9zM266.7 74.9h0.9v0.9h-0.9zM263.0 71.2h0.9v0.9h-0.9zM253.2 76.3h0.9v0.9h-0.9zM254.3 73.3h0.9v0.9h-0.9zM274.2 72.3h0.9v0.9h-0.9zM271.8 80.8h0.9v0.9h-0.9zM254.0 76.9h0.9v0.9h-0.9zM274.0 71.3h0.9v0.9h-0.9zM277.5 77.4h0.9v0.9h-0.9zM264.5 73.3h0.9v0.9h-0.9zM258.5 71.3h0.9v0.9h-0.9zM265.7 77.9h0.9v0.9h-0.9zM272.1 71.2h0.9v0.9h-0.9zM271.3 72.5h0.9v0.9h-0.9zM255.3 82.7h0.9v0.9h-0.9zM258.5 80.8h0.9v0.9h-0.9zM260.7 70.4h0.9v0.9h-0.9zM269.1 72.9h0.9v0.9h-0.9zM268.6 83.8h0.9v0.9h-0.9zM254.2 81.9h0.9v0.9h-0.9zM269.6 76.9h0.9v0.9h-0.9zM269.7 80.9h0.9v0.9h-0.9zM273.4 74.0h0.9v0.9h-0.9zM256.4 80.1h0.9v0.9h-0.9zM275.6 74.5h0.9v0.9h-0.9zM262.9 72.7h0.9v0.9h-0.9zM270.8 69.1h0.9v0.9h-0.9zM255.4 77.9h0.9v0.9h-0.9zM266.6 79.1h0.9v0.9h-0.9zM260.0 72.6h0.9v0.9h-0.9zM259.0 70.5h0.9v0.9h-0.9zM266.0 74.4h0.9v0.9h-0.9zM263.5 71.7h0.9v0.9h-0.9zM262.0 72.9h0.9v0.9h-0.9zM276.7 74.2h0.9v0.9h-0.9zM275.3 78.0h0.9v0.9h-0.9zM263.2 68.2h0.9v0.9h-0.9zM265.9 74.9h0.9v0.9h-0.9zM250.4 83.0h0.9v0.9h-0.9zM273.3 82.7h0.9v0.9h-0.9zM252.2 83.2h0.9v0.9h-0.9zM259.0 82.4h0.9v0.9h-0.9zM265.1 73.9h0.9v0.9h-0.9zM258.7 75.1h0.9v0.9h-0.9zM274.4 74.6h0.9v0.9h-0.9zM258.5 68.0h0.9v0.9h-0.9zM272.4 68.5h0.9v0.9h-0.9zM261.9 71.7h0.9v0.9h-0.9zM252.7 78.9h0.9v0.9h-0.9zM271.3 71.5h0.9v0.9h-0.9zM268.8 78.1h0.9v0.9h-0.9zM258.2 81.1h0.9v0.9h-0.9zM254.2 70.4h0.9v0.9h-0.9zM280.0 67.8h0.9v0.9h-0.9zM272.5 69.8h0.9v0.9h-0.9zM246.6 82.6h0.9v0.9h-0.9zM261.8 80.6h0.9v0.9h-0.9zM276.1 81.7h0.9v0.9h-0.9zM277.9 73.0h0.9v0.9h-0.9zM254.4 79.8h0.9v0.9h-0.9zM246.6 83.4h0.9v0.9h-0.9zM275.0 71.6h0.9v0.9h-0.9z" fill="#7f9cc4" fill-opacity="0.5"/>
<path d="M264.3 83.1h0.9v0.9h-0.9zM273.9 83.0h0.9v0.9h-0.9zM252.8 74.0h0.9v0.9h-0.9zM253.7 77.7h0.9v0.9h-0.9zM267.6 78.0h0.9v0.9h-0.9zM255.5 69.4h0.9v0.9h-0.9zM267.6 73.2h0.9v0.9h-0.9zM266.1 69.1h0.9v0.9h-0.9zM269.9 80.8h0.9v0.9h-0.9zM261.3 76.7h0.9v0.9h-0.9zM273.1 68.6h0.9v0.9h-0.9zM247.4 77.0h0.9v0.9h-0.9zM251.2 80.7h0.9v0.9h-0.9zM277.9 80.0h0.9v0.9h-0.9zM268.1 66.9h0.9v0.9h-0.9zM275.7 80.5h0.9v0.9h-0.9zM263.5 82.3h0.9v0.9h-0.9zM257.1 70.6h0.9v0.9h-0.9zM271.0 75.5h0.9v0.9h-0.9zM247.1 82.6h0.9v0.9h-0.9zM260.3 77.5h0.9v0.9h-0.9zM262.9 79.0h0.9v0.9h-0.9zM260.7 74.2h0.9v0.9h-0.9zM276.4 72.6h0.9v0.9h-0.9zM247.6 80.7h0.9v0.9h-0.9zM250.8 71.3h0.9v0.9h-0.9zM262.1 78.3h0.9v0.9h-0.9zM276.1 78.9h0.9v0.9h-0.9zM270.2 71.9h0.9v0.9h-0.9zM257.7 73.0h0.9v0.9h-0.9zM274.1 80.1h0.9v0.9h-0.9zM262.3 70.9h0.9v0.9h-0.9zM260.3 81.8h0.9v0.9h-0.9zM252.1 83.1h0.9v0.9h-0.9zM248.3 81.4h0.9v0.9h-0.9zM252.7 68.7h0.9v0.9h-0.9zM272.5 73.2h0.9v0.9h-0.9zM253.2 82.1h0.9v0.9h-0.9zM250.9 80.7h0.9v0.9h-0.9zM262.3 69.2h0.9v0.9h-0.9zM266.8 83.3h0.9v0.9h-0.9zM267.1 81.3h0.9v0.9h-0.9zM280.0 68.6h0.9v0.9h-0.9zM254.5 75.0h0.9v0.9h-0.9zM273.2 72.9h0.9v0.9h-0.9zM267.7 73.2h0.9v0.9h-0.9zM259.6 82.9h0.9v0.9h-0.9zM250.0 83.2h0.9v0.9h-0.9zM274.3 78.4h0.9v0.9h-0.9zM273.8 73.5h0.9v0.9h-0.9zM258.3 66.3h0.9v0.9h-0.9zM276.0 75.4h0.9v0.9h-0.9zM266.6 69.9h0.9v0.9h-0.9zM272.8 73.8h0.9v0.9h-0.9zM268.1 79.7h0.9v0.9h-0.9zM262.6 77.6h0.9v0.9h-0.9zM261.8 73.2h0.9v0.9h-0.9zM255.9 68.5h0.9v0.9h-0.9zM278.3 73.9h0.9v0.9h-0.9zM258.8 75.7h0.9v0.9h-0.9zM276.6 74.0h0.9v0.9h-0.9zM264.7 69.2h0.9v0.9h-0.9zM270.2 81.4h0.9v0.9h-0.9zM263.8 81.1h0.9v0.9h-0.9zM276.2 77.6h0.9v0.9h-0.9zM278.2 70.5h0.9v0.9h-0.9zM248.1 78.0h0.9v0.9h-0.9zM269.0 81.0h0.9v0.9h-0.9zM251.3 78.4h0.9v0.9h-0.9zM263.4 80.8h0.9v0.9h-0.9zM272.7 71.1h0.9v0.9h-0.9zM249.8 81.6h0.9v0.9h-0.9zM261.0 74.1h0.9v0.9h-0.9zM251.6 76.5h0.9v0.9h-0.9zM274.9 83.8h0.9v0.9h-0.9zM260.5 72.7h0.9v0.9h-0.9zM266.4 74.2h0.9v0.9h-0.9zM273.5 67.2h0.9v0.9h-0.9zM275.8 74.3h0.9v0.9h-0.9zM250.2 79.7h0.9v0.9h-0.9zM257.7 83.4h0.9v0.9h-0.9zM275.1 82.8h0.9v0.9h-0.9zM278.3 74.2h0.9v0.9h-0.9zM267.0 68.7h0.9v0.9h-0.9zM256.0 81.2h0.9v0.9h-0.9zM264.3 75.0h0.9v0.9h-0.9zM260.5 71.3h0.9v0.9h-0.9zM271.3 75.2h0.9v0.9h-0.9zM256.3 81.0h0.9v0.9h-0.9zM251.0 71.4h0.9v0.9h-0.9zM270.8 74.3h0.9v0.9h-0.9z" fill="#9a8fb5" fill-opacity="0.5"/>
<path d="M280.0 67.3h0.9v0.9h-0.9zM271.9 70.9h0.9v0.9h-0.9zM257.1 73.3h0.9v0.9h-0.9zM262.7 73.6h0.9v0.9h-0.9zM277.3 68.2h0.9v0.9h-0.9zM262.2 71.0h0.9v0.9h-0.9zM255.5 68.5h0.9v0.9h-0.9zM252.2 70.7h0.9v0.9h-0.9zM273.7 77.2h0.9v0.9h-0.9zM256.6 68.8h0.9v0.9h-0.9zM258.2 80.4h0.9v0.9h-0.9zM259.4 75.0h0.9v0.9h-0.9zM264.0 80.5h0.9v0.9h-0.9zM258.0 75.9h0.9v0.9h-0.9zM256.7 72.1h0.9v0.9h-0.9zM271.3 72.8h0.9v0.9h-0.9zM257.8 81.9h0.9v0.9h-0.9zM258.0 83.5h0.9v0.9h-0.9zM268.3 76.4h0.9v0.9h-0.9zM256.8 74.4h0.9v0.9h-0.9zM258.2 75.6h0.9v0.9h-0.9zM252.9 72.6h0.9v0.9h-0.9zM270.9 76.4h0.9v0.9h-0.9zM266.7 81.6h0.9v0.9h-0.9zM250.6 76.4h0.9v0.9h-0.9zM268.8 78.9h0.9v0.9h-0.9zM257.2 72.3h0.9v0.9h-0.9zM257.9 76.7h0.9v0.9h-0.9zM254.6 76.8h0.9v0.9h-0.9zM253.3 72.7h0.9v0.9h-0.9zM257.9 82.8h0.9v0.9h-0.9zM277.6 75.4h0.9v0.9h-0.9zM256.3 80.6h0.9v0.9h-0.9zM265.1 83.1h0.9v0.9h-0.9zM279.0 70.5h0.9v0.9h-0.9zM274.6 78.5h0.9v0.9h-0.9zM253.4 71.4h0.9v0.9h-0.9zM272.5 68.7h0.9v0.9h-0.9zM250.5 70.2h0.9v0.9h-0.9zM251.5 73.2h0.9v0.9h-0.9zM264.2 73.5h0.9v0.9h-0.9zM269.5 76.9h0.9v0.9h-0.9zM263.0 80.5h0.9v0.9h-0.9zM271.9 79.5h0.9v0.9h-0.9zM267.6 76.3h0.9v0.9h-0.9zM272.4 79.3h0.9v0.9h-0.9zM260.9 69.0h0.9v0.9h-0.9zM260.9 80.9h0.9v0.9h-0.9zM267.7 70.1h0.9v0.9h-0.9zM260.3 77.5h0.9v0.9h-0.9zM271.8 74.1h0.9v0.9h-0.9zM251.4 78.1h0.9v0.9h-0.9zM261.1 73.5h0.9v0.9h-0.9zM272.4 82.7h0.9v0.9h-0.9zM261.7 78.8h0.9v0.9h-0.9zM277.2 67.8h0.9v0.9h-0.9zM256.7 76.6h0.9v0.9h-0.9zM258.8 82.7h0.9v0.9h-0.9zM267.9 78.7h0.9v0.9h-0.9zM276.8 77.5h0.9v0.9h-0.9zM266.5 79.6h0.9v0.9h-0.9zM269.8 72.6h0.9v0.9h-0.9zM257.0 75.6h0.9v0.9h-0.9zM256.2 67.7h0.9v0.9h-0.9zM259.3 77.2h0.9v0.9h-0.9zM257.5 70.3h0.9v0.9h-0.9zM275.1 73.8h0.9v0.9h-0.9zM269.5 82.5h0.9v0.9h-0.9zM271.8 70.1h0.9v0.9h-0.9zM274.6 68.3h0.9v0.9h-0.9zM255.7 69.9h0.9v0.9h-0.9zM266.9 71.9h0.9v0.9h-0.9zM251.0 77.3h0.9v0.9h-0.9zM269.2 79.1h0.9v0.9h-0.9zM270.0 66.4h0.9v0.9h-0.9zM267.9 69.1h0.9v0.9h-0.9zM259.5 82.8h0.9v0.9h-0.9zM258.3 69.2h0.9v0.9h-0.9zM269.9 76.3h0.9v0.9h-0.9zM272.7 70.4h0.9v0.9h-0.9zM278.2 68.4h0.9v0.9h-0.9zM275.4 79.3h0.9v0.9h-0.9zM254.5 71.4h0.9v0.9h-0.9zM252.5 76.0h0.9v0.9h-0.9zM253.1 75.5h0.9v0.9h-0.9zM256.5 75.7h0.9v0.9h-0.9zM278.4 67.9h0.9v0.9h-0.9zM251.5 79.9h0.9v0.9h-0.9z" fill="#2f6aa2" fill-opacity="0.5"/>
<path d="M268.5 83.8 Q266.5 77 272.5 71.5 Q279 68 288.7 67.4 Q290.5 71 288.5 76.5 Q285.5 83.5 278.5 84.2 Q272 84.6 268.5 83.8Z" fill="url(#gBh2)" fill-opacity="0.92" filter="url(#bl)"/>
<path d="M272.8 71.7h0.9v0.9h-0.9zM266.9 76.8h0.9v0.9h-0.9zM271.0 81.4h0.9v0.9h-0.9zM278.5 84.6h0.9v0.9h-0.9zM280.4 77.9h0.9v0.9h-0.9zM279.2 72.6h0.9v0.9h-0.9zM288.0 71.3h0.9v0.9h-0.9zM270.9 82.7h0.9v0.9h-0.9zM277.6 82.7h0.9v0.9h-0.9zM278.9 79.9h0.9v0.9h-0.9zM273.4 81.8h0.9v0.9h-0.9zM288.2 67.9h0.9v0.9h-0.9zM270.9 82.5h0.9v0.9h-0.9zM282.9 72.2h0.9v0.9h-0.9zM278.8 74.2h0.9v0.9h-0.9zM278.8 81.3h0.9v0.9h-0.9zM287.1 72.8h0.9v0.9h-0.9zM286.3 69.2h0.9v0.9h-0.9zM288.5 69.5h0.9v0.9h-0.9zM270.7 77.3h0.9v0.9h-0.9zM281.0 80.5h0.9v0.9h-0.9zM267.6 73.8h0.9v0.9h-0.9zM288.3 70.8h0.9v0.9h-0.9zM273.3 75.4h0.9v0.9h-0.9zM273.3 76.1h0.9v0.9h-0.9zM270.1 77.1h0.9v0.9h-0.9zM279.5 82.1h0.9v0.9h-0.9zM278.4 75.4h0.9v0.9h-0.9zM288.9 72.5h0.9v0.9h-0.9zM287.2 79.7h0.9v0.9h-0.9zM273.2 82.0h0.9v0.9h-0.9zM281.3 69.4h0.9v0.9h-0.9zM280.1 79.2h0.9v0.9h-0.9zM277.7 82.6h0.9v0.9h-0.9zM289.2 72.0h0.9v0.9h-0.9zM276.2 80.3h0.9v0.9h-0.9zM281.3 75.6h0.9v0.9h-0.9zM280.8 80.0h0.9v0.9h-0.9zM277.0 77.7h0.9v0.9h-0.9zM279.5 75.3h0.9v0.9h-0.9zM275.5 76.9h0.9v0.9h-0.9zM286.7 70.5h0.9v0.9h-0.9zM269.6 76.9h0.9v0.9h-0.9zM278.7 80.7h0.9v0.9h-0.9zM268.8 74.7h0.9v0.9h-0.9zM271.8 80.6h0.9v0.9h-0.9zM278.9 77.5h0.9v0.9h-0.9zM270.3 80.6h0.9v0.9h-0.9zM278.6 79.9h0.9v0.9h-0.9zM289.5 74.7h0.9v0.9h-0.9zM273.6 74.6h0.9v0.9h-0.9zM271.9 79.7h0.9v0.9h-0.9zM288.3 70.9h0.9v0.9h-0.9zM275.2 80.3h0.9v0.9h-0.9zM268.7 74.3h0.9v0.9h-0.9zM270.4 80.6h0.9v0.9h-0.9zM286.1 81.3h0.9v0.9h-0.9zM283.2 81.9h0.9v0.9h-0.9zM270.9 84.6h0.9v0.9h-0.9zM279.6 83.3h0.9v0.9h-0.9zM281.9 78.9h0.9v0.9h-0.9zM269.0 76.3h0.9v0.9h-0.9zM281.7 68.1h0.9v0.9h-0.9zM283.2 70.9h0.9v0.9h-0.9zM279.2 79.3h0.9v0.9h-0.9zM280.9 82.4h0.9v0.9h-0.9zM285.3 73.2h0.9v0.9h-0.9zM282.9 75.7h0.9v0.9h-0.9zM284.2 68.1h0.9v0.9h-0.9zM275.3 83.7h0.9v0.9h-0.9z" fill="#1b5e91" fill-opacity="0.5"/>
<path d="M288.6 69.5h0.9v0.9h-0.9zM274.9 81.9h0.9v0.9h-0.9zM271.5 74.8h0.9v0.9h-0.9zM284.6 76.8h0.9v0.9h-0.9zM281.4 71.4h0.9v0.9h-0.9zM278.3 70.9h0.9v0.9h-0.9zM270.0 76.5h0.9v0.9h-0.9zM270.8 84.7h0.9v0.9h-0.9zM280.5 73.5h0.9v0.9h-0.9zM278.8 85.3h0.9v0.9h-0.9zM271.8 84.0h0.9v0.9h-0.9zM280.5 67.1h0.9v0.9h-0.9zM285.6 78.1h0.9v0.9h-0.9zM280.7 69.4h0.9v0.9h-0.9zM286.8 72.8h0.9v0.9h-0.9zM283.0 75.8h0.9v0.9h-0.9zM281.1 78.1h0.9v0.9h-0.9zM279.5 82.8h0.9v0.9h-0.9zM274.0 73.2h0.9v0.9h-0.9zM268.5 80.0h0.9v0.9h-0.9zM273.2 75.8h0.9v0.9h-0.9zM278.0 81.8h0.9v0.9h-0.9zM289.7 74.0h0.9v0.9h-0.9zM279.2 67.7h0.9v0.9h-0.9zM286.0 79.1h0.9v0.9h-0.9zM277.0 78.1h0.9v0.9h-0.9zM274.8 78.0h0.9v0.9h-0.9zM277.5 78.6h0.9v0.9h-0.9zM276.4 77.9h0.9v0.9h-0.9zM285.9 69.9h0.9v0.9h-0.9zM279.5 82.4h0.9v0.9h-0.9zM275.5 67.7h0.9v0.9h-0.9zM280.9 75.1h0.9v0.9h-0.9zM269.7 71.0h0.9v0.9h-0.9zM273.3 79.7h0.9v0.9h-0.9zM289.1 68.5h0.9v0.9h-0.9zM278.8 78.0h0.9v0.9h-0.9zM285.9 71.6h0.9v0.9h-0.9zM274.7 83.8h0.9v0.9h-0.9zM285.2 76.9h0.9v0.9h-0.9zM284.1 66.9h0.9v0.9h-0.9zM268.5 77.8h0.9v0.9h-0.9zM269.0 81.0h0.9v0.9h-0.9zM276.3 74.1h0.9v0.9h-0.9zM281.6 82.1h0.9v0.9h-0.9zM285.1 69.4h0.9v0.9h-0.9zM271.9 73.3h0.9v0.9h-0.9zM282.1 83.0h0.9v0.9h-0.9zM278.4 84.5h0.9v0.9h-0.9zM273.4 82.4h0.9v0.9h-0.9zM276.0 75.9h0.9v0.9h-0.9zM267.5 75.3h0.9v0.9h-0.9zM266.6 82.2h0.9v0.9h-0.9zM275.7 83.9h0.9v0.9h-0.9zM286.7 69.9h0.9v0.9h-0.9zM266.5 77.2h0.9v0.9h-0.9zM271.5 76.8h0.9v0.9h-0.9zM277.2 81.1h0.9v0.9h-0.9zM272.1 84.2h0.9v0.9h-0.9zM267.7 75.7h0.9v0.9h-0.9zM283.9 76.1h0.9v0.9h-0.9zM286.5 76.6h0.9v0.9h-0.9zM274.1 77.2h0.9v0.9h-0.9zM283.9 75.8h0.9v0.9h-0.9zM274.7 82.1h0.9v0.9h-0.9zM266.8 77.8h0.9v0.9h-0.9z" fill="#2f6ea5" fill-opacity="0.5"/>
<path d="M284.7 73.8h0.9v0.9h-0.9zM272.7 76.2h0.9v0.9h-0.9zM281.1 70.4h0.9v0.9h-0.9zM283.0 79.9h0.9v0.9h-0.9zM278.3 71.8h0.9v0.9h-0.9zM281.3 75.1h0.9v0.9h-0.9zM266.6 80.4h0.9v0.9h-0.9zM275.8 73.3h0.9v0.9h-0.9zM288.2 69.2h0.9v0.9h-0.9zM273.4 82.9h0.9v0.9h-0.9zM282.4 82.8h0.9v0.9h-0.9zM282.6 72.8h0.9v0.9h-0.9zM275.8 70.6h0.9v0.9h-0.9zM280.0 68.8h0.9v0.9h-0.9zM276.8 74.8h0.9v0.9h-0.9zM268.6 75.1h0.9v0.9h-0.9zM273.2 76.0h0.9v0.9h-0.9zM283.4 82.2h0.9v0.9h-0.9zM275.1 73.6h0.9v0.9h-0.9zM284.8 69.8h0.9v0.9h-0.9zM290.1 70.5h0.9v0.9h-0.9zM277.9 71.8h0.9v0.9h-0.9zM273.8 79.2h0.9v0.9h-0.9zM282.1 83.1h0.9v0.9h-0.9zM266.6 74.4h0.9v0.9h-0.9zM280.3 70.7h0.9v0.9h-0.9zM280.5 75.4h0.9v0.9h-0.9zM283.3 80.2h0.9v0.9h-0.9zM279.4 76.8h0.9v0.9h-0.9zM269.8 83.0h0.9v0.9h-0.9zM275.4 74.7h0.9v0.9h-0.9zM287.0 73.7h0.9v0.9h-0.9zM269.1 73.1h0.9v0.9h-0.9zM281.7 79.4h0.9v0.9h-0.9zM268.3 75.3h0.9v0.9h-0.9zM287.6 71.4h0.9v0.9h-0.9zM271.1 82.5h0.9v0.9h-0.9zM279.4 78.5h0.9v0.9h-0.9zM269.0 76.7h0.9v0.9h-0.9zM281.8 81.2h0.9v0.9h-0.9zM279.7 68.6h0.9v0.9h-0.9zM268.2 73.7h0.9v0.9h-0.9zM280.6 72.6h0.9v0.9h-0.9zM268.1 79.1h0.9v0.9h-0.9zM274.8 69.8h0.9v0.9h-0.9zM285.3 73.4h0.9v0.9h-0.9zM283.6 70.9h0.9v0.9h-0.9zM271.6 75.7h0.9v0.9h-0.9zM276.4 77.5h0.9v0.9h-0.9zM268.2 75.8h0.9v0.9h-0.9zM281.8 80.2h0.9v0.9h-0.9zM278.4 82.8h0.9v0.9h-0.9zM284.6 77.4h0.9v0.9h-0.9zM270.8 80.3h0.9v0.9h-0.9zM280.7 84.2h0.9v0.9h-0.9zM268.7 78.0h0.9v0.9h-0.9zM283.6 69.4h0.9v0.9h-0.9zM280.4 70.9h0.9v0.9h-0.9zM286.8 72.3h0.9v0.9h-0.9zM281.5 74.9h0.9v0.9h-0.9zM283.6 79.7h0.9v0.9h-0.9zM276.1 73.1h0.9v0.9h-0.9zM288.8 70.0h0.9v0.9h-0.9zM282.5 68.4h0.9v0.9h-0.9zM281.6 77.3h0.9v0.9h-0.9zM269.5 82.4h0.9v0.9h-0.9zM283.8 75.8h0.9v0.9h-0.9zM284.8 73.8h0.9v0.9h-0.9zM283.0 74.4h0.9v0.9h-0.9zM283.4 73.1h0.9v0.9h-0.9zM282.0 75.8h0.9v0.9h-0.9zM288.0 75.9h0.9v0.9h-0.9zM286.7 70.6h0.9v0.9h-0.9zM271.2 83.1h0.9v0.9h-0.9zM273.1 81.9h0.9v0.9h-0.9zM284.6 71.7h0.9v0.9h-0.9zM268.4 81.6h0.9v0.9h-0.9zM266.2 77.4h0.9v0.9h-0.9zM285.4 77.4h0.9v0.9h-0.9zM286.6 67.6h0.9v0.9h-0.9zM275.6 77.8h0.9v0.9h-0.9zM277.2 84.0h0.9v0.9h-0.9zM278.4 69.1h0.9v0.9h-0.9zM271.9 80.1h0.9v0.9h-0.9z" fill="#5a8fc0" fill-opacity="0.5"/>
<rect x="236.6" y="30.4" width="57.400000000000006" height="56.00000000000001" fill="none" stroke="#2a2a2a" stroke-width="1"/>
<line x1="235.30" y1="31.60" x2="236.60" y2="31.60" stroke="#444" stroke-width="0.45" />
<line x1="235.30" y1="33.50" x2="236.60" y2="33.50" stroke="#444" stroke-width="0.45" />
<line x1="235.30" y1="35.40" x2="236.60" y2="35.40" stroke="#444" stroke-width="0.45" />
<line x1="235.30" y1="37.30" x2="236.60" y2="37.30" stroke="#444" stroke-width="0.45" />
<line x1="235.30" y1="39.20" x2="236.60" y2="39.20" stroke="#444" stroke-width="0.45" />
<line x1="235.30" y1="41.10" x2="236.60" y2="41.10" stroke="#444" stroke-width="0.45" />
<line x1="235.30" y1="43.00" x2="236.60" y2="43.00" stroke="#444" stroke-width="0.45" />
<line x1="235.30" y1="44.90" x2="236.60" y2="44.90" stroke="#444" stroke-width="0.45" />
<line x1="235.30" y1="46.80" x2="236.60" y2="46.80" stroke="#444" stroke-width="0.45" />
<line x1="235.30" y1="48.70" x2="236.60" y2="48.70" stroke="#444" stroke-width="0.45" />
<line x1="235.30" y1="50.60" x2="236.60" y2="50.60" stroke="#444" stroke-width="0.45" />
<line x1="235.30" y1="52.50" x2="236.60" y2="52.50" stroke="#444" stroke-width="0.45" />
<line x1="235.30" y1="54.40" x2="236.60" y2="54.40" stroke="#444" stroke-width="0.45" />
<line x1="235.30" y1="56.30" x2="236.60" y2="56.30" stroke="#444" stroke-width="0.45" />
<line x1="235.30" y1="58.20" x2="236.60" y2="58.20" stroke="#444" stroke-width="0.45" />
<line x1="235.30" y1="60.10" x2="236.60" y2="60.10" stroke="#444" stroke-width="0.45" />
<line x1="235.30" y1="62.00" x2="236.60" y2="62.00" stroke="#444" stroke-width="0.45" />
<line x1="235.30" y1="63.90" x2="236.60" y2="63.90" stroke="#444" stroke-width="0.45" />
<line x1="235.30" y1="65.80" x2="236.60" y2="65.80" stroke="#444" stroke-width="0.45" />
<line x1="235.30" y1="67.70" x2="236.60" y2="67.70" stroke="#444" stroke-width="0.45" />
<line x1="235.30" y1="69.60" x2="236.60" y2="69.60" stroke="#444" stroke-width="0.45" />
<line x1="235.30" y1="71.50" x2="236.60" y2="71.50" stroke="#444" stroke-width="0.45" />
<line x1="235.30" y1="73.40" x2="236.60" y2="73.40" stroke="#444" stroke-width="0.45" />
<line x1="235.30" y1="75.30" x2="236.60" y2="75.30" stroke="#444" stroke-width="0.45" />
<line x1="235.30" y1="77.20" x2="236.60" y2="77.20" stroke="#444" stroke-width="0.45" />
<line x1="235.30" y1="79.10" x2="236.60" y2="79.10" stroke="#444" stroke-width="0.45" />
<line x1="235.30" y1="81.00" x2="236.60" y2="81.00" stroke="#444" stroke-width="0.45" />
<line x1="235.30" y1="82.90" x2="236.60" y2="82.90" stroke="#444" stroke-width="0.45" />
<line x1="235.30" y1="84.80" x2="236.60" y2="84.80" stroke="#444" stroke-width="0.45" />
<line x1="237.80" y1="86.40" x2="237.80" y2="87.70" stroke="#444" stroke-width="0.45" />
<line x1="239.70" y1="86.40" x2="239.70" y2="87.70" stroke="#444" stroke-width="0.45" />
<line x1="241.60" y1="86.40" x2="241.60" y2="87.70" stroke="#444" stroke-width="0.45" />
<line x1="243.50" y1="86.40" x2="243.50" y2="87.70" stroke="#444" stroke-width="0.45" />
<line x1="245.40" y1="86.40" x2="245.40" y2="87.70" stroke="#444" stroke-width="0.45" />
<line x1="247.30" y1="86.40" x2="247.30" y2="87.70" stroke="#444" stroke-width="0.45" />
<line x1="249.20" y1="86.40" x2="249.20" y2="87.70" stroke="#444" stroke-width="0.45" />
<line x1="251.10" y1="86.40" x2="251.10" y2="87.70" stroke="#444" stroke-width="0.45" />
<line x1="253.00" y1="86.40" x2="253.00" y2="87.70" stroke="#444" stroke-width="0.45" />
<line x1="254.90" y1="86.40" x2="254.90" y2="87.70" stroke="#444" stroke-width="0.45" />
<line x1="256.80" y1="86.40" x2="256.80" y2="87.70" stroke="#444" stroke-width="0.45" />
<line x1="258.70" y1="86.40" x2="258.70" y2="87.70" stroke="#444" stroke-width="0.45" />
<line x1="260.60" y1="86.40" x2="260.60" y2="87.70" stroke="#444" stroke-width="0.45" />
<line x1="262.50" y1="86.40" x2="262.50" y2="87.70" stroke="#444" stroke-width="0.45" />
<line x1="264.40" y1="86.40" x2="264.40" y2="87.70" stroke="#444" stroke-width="0.45" />
<line x1="266.30" y1="86.40" x2="266.30" y2="87.70" stroke="#444" stroke-width="0.45" />
<line x1="268.20" y1="86.40" x2="268.20" y2="87.70" stroke="#444" stroke-width="0.45" />
<line x1="270.10" y1="86.40" x2="270.10" y2="87.70" stroke="#444" stroke-width="0.45" />
<line x1="272.00" y1="86.40" x2="272.00" y2="87.70" stroke="#444" stroke-width="0.45" />
<line x1="273.90" y1="86.40" x2="273.90" y2="87.70" stroke="#444" stroke-width="0.45" />
<line x1="275.80" y1="86.40" x2="275.80" y2="87.70" stroke="#444" stroke-width="0.45" />
<line x1="277.70" y1="86.40" x2="277.70" y2="87.70" stroke="#444" stroke-width="0.45" />
<line x1="279.60" y1="86.40" x2="279.60" y2="87.70" stroke="#444" stroke-width="0.45" />
<line x1="281.50" y1="86.40" x2="281.50" y2="87.70" stroke="#444" stroke-width="0.45" />
<line x1="283.40" y1="86.40" x2="283.40" y2="87.70" stroke="#444" stroke-width="0.45" />
<line x1="285.30" y1="86.40" x2="285.30" y2="87.70" stroke="#444" stroke-width="0.45" />
<line x1="287.20" y1="86.40" x2="287.20" y2="87.70" stroke="#444" stroke-width="0.45" />
<line x1="289.10" y1="86.40" x2="289.10" y2="87.70" stroke="#444" stroke-width="0.45" />
<line x1="291.00" y1="86.40" x2="291.00" y2="87.70" stroke="#444" stroke-width="0.45" />
<line x1="292.90" y1="86.40" x2="292.90" y2="87.70" stroke="#444" stroke-width="0.45" />
<line x1="233.80" y1="30.40" x2="236.60" y2="30.40" stroke="#333" stroke-width="0.6" />
<text x="231.0" y="32.3" font-size="6.0" text-anchor="end" fill="#333" stroke="#333" stroke-width="0.1" font-weight="normal" >1.0K</text>
<line x1="233.80" y1="41.60" x2="236.60" y2="41.60" stroke="#333" stroke-width="0.6" />
<text x="231.0" y="43.5" font-size="6.0" text-anchor="end" fill="#333" stroke="#333" stroke-width="0.1" font-weight="normal" >800</text>
<line x1="233.80" y1="52.80" x2="236.60" y2="52.80" stroke="#333" stroke-width="0.6" />
<text x="231.0" y="54.7" font-size="6.0" text-anchor="end" fill="#333" stroke="#333" stroke-width="0.1" font-weight="normal" >600</text>
<line x1="233.80" y1="64.00" x2="236.60" y2="64.00" stroke="#333" stroke-width="0.6" />
<text x="231.0" y="65.9" font-size="6.0" text-anchor="end" fill="#333" stroke="#333" stroke-width="0.1" font-weight="normal" >400</text>
<line x1="233.80" y1="75.20" x2="236.60" y2="75.20" stroke="#333" stroke-width="0.6" />
<text x="231.0" y="77.1" font-size="6.0" text-anchor="end" fill="#333" stroke="#333" stroke-width="0.1" font-weight="normal" >200</text>
<line x1="233.80" y1="86.40" x2="236.60" y2="86.40" stroke="#333" stroke-width="0.6" />
<text x="231.0" y="88.3" font-size="6.0" text-anchor="end" fill="#333" stroke="#333" stroke-width="0.1" font-weight="normal" >0</text>
<text x="238.0" y="97.6" font-size="5.6" text-anchor="middle" fill="#333" stroke="#333" stroke-width="0.1" font-weight="normal" >10<tspan dy="-2.0" font-size="3.8">0</tspan></text>
<text x="256.3" y="97.6" font-size="5.6" text-anchor="middle" fill="#333" stroke="#333" stroke-width="0.1" font-weight="normal" >10<tspan dy="-2.0" font-size="3.8">1</tspan></text>
<text x="274.6" y="97.6" font-size="5.6" text-anchor="middle" fill="#333" stroke="#333" stroke-width="0.1" font-weight="normal" >10<tspan dy="-2.0" font-size="3.8">2</tspan></text>
<text x="292.9" y="97.6" font-size="5.6" text-anchor="middle" fill="#333" stroke="#333" stroke-width="0.1" font-weight="normal" >10<tspan dy="-2.0" font-size="3.8">3</tspan></text>
<text x="215.8" y="58.7" font-size="8.2" text-anchor="middle" fill="#333" stroke="#333" stroke-width="0.25" font-weight="normal" textLength="38.5" lengthAdjust="spacingAndGlyphs" transform="rotate(-90 215.8 58.7)">SSC-A :: SSC-A</text>
<text x="265.5" y="110.0" font-size="8.6" text-anchor="middle" fill="#333" stroke="#333" stroke-width="0.25" font-weight="normal" textLength="45.6" lengthAdjust="spacingAndGlyphs">B2-A :: CD38 PE-A</text>
<text x="265.3" y="39.3" font-size="6.2" text-anchor="middle" fill="#333" stroke="#333" stroke-width="0.1" font-weight="normal" >Raji</text>
<path d="M53.0 166.9h0.8v0.8h-0.8zM73.1 165.9h0.8v0.8h-0.8zM65.6 164.9h0.8v0.8h-0.8zM51.3 159.1h0.8v0.8h-0.8zM59.9 166.9h0.8v0.8h-0.8zM67.0 169.0h0.8v0.8h-0.8zM54.3 165.5h0.8v0.8h-0.8zM66.6 160.8h0.8v0.8h-0.8zM77.5 167.2h0.8v0.8h-0.8zM72.4 161.8h0.8v0.8h-0.8zM62.5 164.6h0.8v0.8h-0.8zM65.0 166.1h0.8v0.8h-0.8zM56.1 162.6h0.8v0.8h-0.8zM63.7 159.9h0.8v0.8h-0.8zM60.4 164.5h0.8v0.8h-0.8zM55.8 164.8h0.8v0.8h-0.8zM53.4 162.4h0.8v0.8h-0.8zM76.1 162.6h0.8v0.8h-0.8zM63.3 167.1h0.8v0.8h-0.8zM55.6 164.6h0.8v0.8h-0.8zM59.8 163.5h0.8v0.8h-0.8zM73.1 163.2h0.8v0.8h-0.8zM74.0 165.4h0.8v0.8h-0.8zM58.5 165.2h0.8v0.8h-0.8zM64.1 164.4h0.8v0.8h-0.8zM68.9 160.8h0.8v0.8h-0.8zM60.3 163.8h0.8v0.8h-0.8zM54.6 163.1h0.8v0.8h-0.8zM56.0 165.1h0.8v0.8h-0.8zM62.8 168.3h0.8v0.8h-0.8zM57.4 167.7h0.8v0.8h-0.8zM53.7 166.8h0.8v0.8h-0.8zM61.1 165.2h0.8v0.8h-0.8zM69.2 164.0h0.8v0.8h-0.8zM67.5 165.9h0.8v0.8h-0.8zM61.1 163.5h0.8v0.8h-0.8zM76.0 163.9h0.8v0.8h-0.8zM57.3 162.4h0.8v0.8h-0.8zM62.2 164.7h0.8v0.8h-0.8zM53.2 164.7h0.8v0.8h-0.8zM68.1 170.3h0.8v0.8h-0.8zM61.8 166.5h0.8v0.8h-0.8zM51.0 163.8h0.8v0.8h-0.8zM57.0 167.2h0.8v0.8h-0.8zM75.2 163.5h0.8v0.8h-0.8zM67.7 167.8h0.8v0.8h-0.8zM63.5 167.2h0.8v0.8h-0.8zM51.6 161.7h0.8v0.8h-0.8zM57.0 164.7h0.8v0.8h-0.8zM53.5 164.6h0.8v0.8h-0.8zM56.9 165.8h0.8v0.8h-0.8zM60.0 167.0h0.8v0.8h-0.8zM66.4 162.1h0.8v0.8h-0.8zM69.7 162.8h0.8v0.8h-0.8zM69.5 165.8h0.8v0.8h-0.8zM81.3 167.7h0.8v0.8h-0.8zM59.3 161.6h0.8v0.8h-0.8zM62.5 160.4h0.8v0.8h-0.8zM66.2 168.2h0.8v0.8h-0.8zM56.9 167.3h0.8v0.8h-0.8zM60.7 168.1h0.8v0.8h-0.8zM65.5 162.1h0.8v0.8h-0.8zM56.5 164.3h0.8v0.8h-0.8zM65.9 165.6h0.8v0.8h-0.8zM71.2 166.2h0.8v0.8h-0.8zM54.9 164.6h0.8v0.8h-0.8zM63.2 167.8h0.8v0.8h-0.8zM55.4 163.6h0.8v0.8h-0.8zM63.9 163.3h0.8v0.8h-0.8zM59.5 163.6h0.8v0.8h-0.8zM64.8 163.4h0.8v0.8h-0.8zM70.5 165.3h0.8v0.8h-0.8zM68.3 164.3h0.8v0.8h-0.8zM60.1 163.6h0.8v0.8h-0.8zM54.5 169.0h0.8v0.8h-0.8zM57.1 168.6h0.8v0.8h-0.8zM63.3 163.3h0.8v0.8h-0.8zM57.9 164.9h0.8v0.8h-0.8zM58.4 164.6h0.8v0.8h-0.8zM51.4 163.2h0.8v0.8h-0.8zM51.1 163.8h0.8v0.8h-0.8zM50.5 165.1h0.8v0.8h-0.8zM66.8 160.8h0.8v0.8h-0.8zM48.7 163.8h0.8v0.8h-0.8zM67.1 165.6h0.8v0.8h-0.8zM56.1 165.7h0.8v0.8h-0.8zM66.1 165.8h0.8v0.8h-0.8zM64.0 171.6h0.8v0.8h-0.8zM67.6 166.8h0.8v0.8h-0.8zM70.6 164.5h0.8v0.8h-0.8zM56.9 164.5h0.8v0.8h-0.8zM55.5 164.9h0.8v0.8h-0.8zM59.2 166.1h0.8v0.8h-0.8zM56.9 164.0h0.8v0.8h-0.8zM66.8 169.2h0.8v0.8h-0.8zM61.4 161.7h0.8v0.8h-0.8zM62.2 166.7h0.8v0.8h-0.8zM65.0 166.3h0.8v0.8h-0.8zM58.8 161.6h0.8v0.8h-0.8zM69.8 166.7h0.8v0.8h-0.8zM49.3 166.5h0.8v0.8h-0.8zM63.7 163.1h0.8v0.8h-0.8zM65.6 171.5h0.8v0.8h-0.8zM56.7 166.9h0.8v0.8h-0.8zM57.3 164.0h0.8v0.8h-0.8zM68.4 163.5h0.8v0.8h-0.8zM59.8 162.8h0.8v0.8h-0.8zM48.7 165.6h0.8v0.8h-0.8zM52.7 165.1h0.8v0.8h-0.8zM69.1 160.9h0.8v0.8h-0.8zM55.9 161.9h0.8v0.8h-0.8zM71.2 162.8h0.8v0.8h-0.8zM71.6 163.7h0.8v0.8h-0.8zM60.6 163.9h0.8v0.8h-0.8zM65.8 163.0h0.8v0.8h-0.8zM56.3 166.7h0.8v0.8h-0.8zM59.2 167.6h0.8v0.8h-0.8zM57.1 165.1h0.8v0.8h-0.8zM66.1 158.6h0.8v0.8h-0.8zM53.1 164.4h0.8v0.8h-0.8zM61.1 166.5h0.8v0.8h-0.8zM62.3 164.7h0.8v0.8h-0.8zM65.6 165.7h0.8v0.8h-0.8zM49.5 160.6h0.8v0.8h-0.8zM55.8 157.7h0.8v0.8h-0.8zM60.4 166.7h0.8v0.8h-0.8zM62.9 163.4h0.8v0.8h-0.8zM63.3 166.1h0.8v0.8h-0.8zM76.0 164.0h0.8v0.8h-0.8zM66.5 164.4h0.8v0.8h-0.8zM66.0 168.8h0.8v0.8h-0.8zM58.5 161.5h0.8v0.8h-0.8zM67.4 164.9h0.8v0.8h-0.8zM66.7 161.8h0.8v0.8h-0.8zM66.6 165.1h0.8v0.8h-0.8zM61.1 166.2h0.8v0.8h-0.8zM66.3 166.7h0.8v0.8h-0.8zM72.5 165.3h0.8v0.8h-0.8zM56.4 161.0h0.8v0.8h-0.8zM67.6 167.4h0.8v0.8h-0.8zM67.0 167.7h0.8v0.8h-0.8zM60.3 171.0h0.8v0.8h-0.8zM58.8 166.5h0.8v0.8h-0.8zM81.1 162.0h0.8v0.8h-0.8zM58.7 163.4h0.8v0.8h-0.8zM53.4 165.1h0.8v0.8h-0.8zM58.6 167.9h0.8v0.8h-0.8zM65.4 161.6h0.8v0.8h-0.8zM57.7 167.5h0.8v0.8h-0.8zM59.2 166.7h0.8v0.8h-0.8zM64.0 162.4h0.8v0.8h-0.8zM58.9 166.6h0.8v0.8h-0.8zM62.8 162.7h0.8v0.8h-0.8zM61.6 164.9h0.8v0.8h-0.8zM54.5 164.0h0.8v0.8h-0.8zM62.4 165.6h0.8v0.8h-0.8zM53.8 161.5h0.8v0.8h-0.8zM68.4 166.4h0.8v0.8h-0.8zM55.4 158.7h0.8v0.8h-0.8zM60.2 163.7h0.8v0.8h-0.8zM49.2 163.3h0.8v0.8h-0.8zM58.8 169.4h0.8v0.8h-0.8zM53.2 166.4h0.8v0.8h-0.8zM72.3 163.5h0.8v0.8h-0.8zM61.0 162.3h0.8v0.8h-0.8zM65.5 165.0h0.8v0.8h-0.8zM49.7 163.1h0.8v0.8h-0.8zM53.3 171.2h0.8v0.8h-0.8zM52.4 165.1h0.8v0.8h-0.8zM69.8 157.9h0.8v0.8h-0.8zM59.1 167.8h0.8v0.8h-0.8zM62.9 162.6h0.8v0.8h-0.8zM64.0 169.5h0.8v0.8h-0.8zM60.8 163.3h0.8v0.8h-0.8zM67.2 168.0h0.8v0.8h-0.8zM57.2 165.5h0.8v0.8h-0.8zM64.4 168.3h0.8v0.8h-0.8zM70.1 165.0h0.8v0.8h-0.8zM62.7 162.8h0.8v0.8h-0.8zM59.5 160.4h0.8v0.8h-0.8zM62.2 167.6h0.8v0.8h-0.8zM66.5 166.4h0.8v0.8h-0.8zM60.1 164.9h0.8v0.8h-0.8zM50.2 166.2h0.8v0.8h-0.8zM63.0 165.4h0.8v0.8h-0.8zM60.8 163.3h0.8v0.8h-0.8zM65.1 170.5h0.8v0.8h-0.8zM62.1 165.6h0.8v0.8h-0.8zM72.7 164.3h0.8v0.8h-0.8zM53.5 160.7h0.8v0.8h-0.8zM55.1 163.1h0.8v0.8h-0.8z" fill="#7fa6cc" fill-opacity="0.45"/>
<path d="M52 166 Q60 161 72 159.5 L90 158 Q92.5 164 90.5 171 L70 171 Q58 170 52 166Z" fill="url(#gBh)" filter="url(#bl)"/>
<path d="M90 158 Q93 157.5 94.8 158.5 Q95.5 164.5 94 170.5 L90.5 171 Q92.5 164 90 158Z" fill="#d21e46" fill-opacity="0.9" filter="url(#bl)"/>
<path d="M67.9 168.6h0.9v0.9h-0.9zM73.4 169.6h0.9v0.9h-0.9zM77.8 168.2h0.9v0.9h-0.9zM74.5 168.3h0.9v0.9h-0.9zM75.9 159.7h0.9v0.9h-0.9zM80.2 165.9h0.9v0.9h-0.9zM73.3 165.3h0.9v0.9h-0.9zM73.8 162.4h0.9v0.9h-0.9zM69.3 161.9h0.9v0.9h-0.9zM89.8 157.9h0.9v0.9h-0.9zM81.8 162.7h0.9v0.9h-0.9zM58.8 168.9h0.9v0.9h-0.9zM64.4 166.1h0.9v0.9h-0.9zM76.4 170.3h0.9v0.9h-0.9zM68.5 162.0h0.9v0.9h-0.9zM81.5 163.3h0.9v0.9h-0.9zM60.5 166.8h0.9v0.9h-0.9zM63.6 168.1h0.9v0.9h-0.9zM85.1 161.5h0.9v0.9h-0.9zM63.2 168.8h0.9v0.9h-0.9zM72.3 166.4h0.9v0.9h-0.9zM68.1 165.1h0.9v0.9h-0.9zM65.1 171.2h0.9v0.9h-0.9zM65.2 170.9h0.9v0.9h-0.9zM69.0 167.7h0.9v0.9h-0.9zM84.5 159.5h0.9v0.9h-0.9zM85.1 162.8h0.9v0.9h-0.9zM65.0 167.4h0.9v0.9h-0.9zM86.3 171.2h0.9v0.9h-0.9zM71.6 160.9h0.9v0.9h-0.9zM61.6 167.6h0.9v0.9h-0.9zM60.0 166.5h0.9v0.9h-0.9zM78.2 171.0h0.9v0.9h-0.9zM86.6 172.3h0.9v0.9h-0.9zM66.1 165.0h0.9v0.9h-0.9zM77.5 167.2h0.9v0.9h-0.9zM71.9 159.1h0.9v0.9h-0.9zM80.7 158.8h0.9v0.9h-0.9zM68.7 170.3h0.9v0.9h-0.9zM79.4 166.0h0.9v0.9h-0.9zM76.0 171.8h0.9v0.9h-0.9zM80.4 161.6h0.9v0.9h-0.9zM76.8 162.5h0.9v0.9h-0.9zM75.5 164.1h0.9v0.9h-0.9zM63.7 161.7h0.9v0.9h-0.9zM71.7 169.8h0.9v0.9h-0.9zM59.7 167.5h0.9v0.9h-0.9zM63.2 170.2h0.9v0.9h-0.9zM76.0 166.0h0.9v0.9h-0.9zM63.9 160.4h0.9v0.9h-0.9zM86.1 169.1h0.9v0.9h-0.9zM76.6 161.4h0.9v0.9h-0.9zM81.2 159.6h0.9v0.9h-0.9zM79.4 168.2h0.9v0.9h-0.9zM74.7 161.2h0.9v0.9h-0.9zM77.0 162.6h0.9v0.9h-0.9zM89.2 169.6h0.9v0.9h-0.9zM59.7 170.3h0.9v0.9h-0.9zM58.6 168.9h0.9v0.9h-0.9zM89.3 161.5h0.9v0.9h-0.9zM70.3 162.5h0.9v0.9h-0.9zM65.4 164.1h0.9v0.9h-0.9zM87.2 166.7h0.9v0.9h-0.9zM69.4 166.6h0.9v0.9h-0.9zM68.1 169.5h0.9v0.9h-0.9zM70.5 168.3h0.9v0.9h-0.9zM86.9 167.3h0.9v0.9h-0.9zM79.0 171.2h0.9v0.9h-0.9zM79.8 162.6h0.9v0.9h-0.9zM71.4 161.3h0.9v0.9h-0.9zM88.6 168.7h0.9v0.9h-0.9zM76.0 167.4h0.9v0.9h-0.9zM73.8 159.1h0.9v0.9h-0.9zM79.9 169.5h0.9v0.9h-0.9zM71.0 163.7h0.9v0.9h-0.9zM77.9 162.9h0.9v0.9h-0.9zM61.0 167.6h0.9v0.9h-0.9zM63.2 164.1h0.9v0.9h-0.9zM67.6 163.2h0.9v0.9h-0.9zM59.5 166.8h0.9v0.9h-0.9zM79.3 164.6h0.9v0.9h-0.9zM79.3 169.7h0.9v0.9h-0.9zM69.1 161.9h0.9v0.9h-0.9zM91.1 160.4h0.9v0.9h-0.9zM87.6 160.1h0.9v0.9h-0.9zM67.9 169.8h0.9v0.9h-0.9zM68.8 164.2h0.9v0.9h-0.9zM59.2 168.9h0.9v0.9h-0.9zM75.2 165.3h0.9v0.9h-0.9zM66.8 165.3h0.9v0.9h-0.9zM86.1 167.9h0.9v0.9h-0.9zM82.6 169.2h0.9v0.9h-0.9zM81.0 161.2h0.9v0.9h-0.9zM68.0 168.9h0.9v0.9h-0.9zM62.3 163.8h0.9v0.9h-0.9zM64.3 163.1h0.9v0.9h-0.9zM69.0 170.9h0.9v0.9h-0.9zM75.3 161.8h0.9v0.9h-0.9zM71.1 160.6h0.9v0.9h-0.9zM64.5 167.0h0.9v0.9h-0.9zM59.4 165.3h0.9v0.9h-0.9zM86.5 161.5h0.9v0.9h-0.9zM84.4 159.3h0.9v0.9h-0.9zM92.1 168.8h0.9v0.9h-0.9zM84.8 170.8h0.9v0.9h-0.9zM73.3 160.3h0.9v0.9h-0.9zM69.9 168.2h0.9v0.9h-0.9zM73.6 170.3h0.9v0.9h-0.9zM87.9 169.8h0.9v0.9h-0.9zM81.6 161.6h0.9v0.9h-0.9zM63.9 167.7h0.9v0.9h-0.9zM65.7 163.3h0.9v0.9h-0.9zM82.5 165.6h0.9v0.9h-0.9zM75.5 159.7h0.9v0.9h-0.9z" fill="#1b5e91" fill-opacity="0.45"/>
<path d="M89.1 160.2h0.9v0.9h-0.9zM91.0 158.6h0.9v0.9h-0.9zM90.0 165.3h0.9v0.9h-0.9zM68.0 170.0h0.9v0.9h-0.9zM80.4 164.0h0.9v0.9h-0.9zM82.5 160.7h0.9v0.9h-0.9zM63.6 169.6h0.9v0.9h-0.9zM87.3 162.5h0.9v0.9h-0.9zM75.7 170.6h0.9v0.9h-0.9zM75.3 170.4h0.9v0.9h-0.9zM88.2 161.1h0.9v0.9h-0.9zM66.2 161.0h0.9v0.9h-0.9zM90.0 171.7h0.9v0.9h-0.9zM66.3 160.9h0.9v0.9h-0.9zM68.6 162.3h0.9v0.9h-0.9zM74.8 159.3h0.9v0.9h-0.9zM76.8 168.9h0.9v0.9h-0.9zM87.1 165.5h0.9v0.9h-0.9zM57.3 167.1h0.9v0.9h-0.9zM68.0 164.1h0.9v0.9h-0.9zM79.5 165.8h0.9v0.9h-0.9zM90.6 166.2h0.9v0.9h-0.9zM69.2 162.5h0.9v0.9h-0.9zM70.7 167.8h0.9v0.9h-0.9zM76.7 166.0h0.9v0.9h-0.9zM84.2 159.7h0.9v0.9h-0.9zM78.2 168.5h0.9v0.9h-0.9zM71.3 164.4h0.9v0.9h-0.9zM63.6 164.1h0.9v0.9h-0.9zM66.3 162.1h0.9v0.9h-0.9zM87.6 167.4h0.9v0.9h-0.9zM80.3 164.8h0.9v0.9h-0.9zM66.4 162.4h0.9v0.9h-0.9zM85.1 165.7h0.9v0.9h-0.9zM81.6 170.0h0.9v0.9h-0.9zM82.4 169.6h0.9v0.9h-0.9zM81.2 159.0h0.9v0.9h-0.9zM58.3 170.2h0.9v0.9h-0.9zM72.8 166.9h0.9v0.9h-0.9zM90.5 169.3h0.9v0.9h-0.9zM91.0 161.1h0.9v0.9h-0.9zM78.4 166.5h0.9v0.9h-0.9zM58.9 168.8h0.9v0.9h-0.9zM63.2 165.7h0.9v0.9h-0.9zM88.9 162.7h0.9v0.9h-0.9zM77.3 163.4h0.9v0.9h-0.9zM83.6 167.8h0.9v0.9h-0.9zM70.8 170.9h0.9v0.9h-0.9zM71.2 161.5h0.9v0.9h-0.9zM79.6 163.7h0.9v0.9h-0.9zM71.4 159.8h0.9v0.9h-0.9zM68.0 164.5h0.9v0.9h-0.9zM72.5 166.5h0.9v0.9h-0.9zM81.2 170.8h0.9v0.9h-0.9zM89.3 157.7h0.9v0.9h-0.9zM75.1 165.2h0.9v0.9h-0.9zM69.5 166.1h0.9v0.9h-0.9zM72.3 162.6h0.9v0.9h-0.9zM73.5 160.8h0.9v0.9h-0.9zM89.6 170.4h0.9v0.9h-0.9zM70.4 162.0h0.9v0.9h-0.9zM75.4 165.6h0.9v0.9h-0.9zM70.6 163.1h0.9v0.9h-0.9zM92.1 161.0h0.9v0.9h-0.9zM83.3 167.8h0.9v0.9h-0.9zM62.4 164.4h0.9v0.9h-0.9zM65.7 164.1h0.9v0.9h-0.9zM73.0 162.3h0.9v0.9h-0.9zM75.5 164.9h0.9v0.9h-0.9zM76.2 165.0h0.9v0.9h-0.9zM59.8 165.2h0.9v0.9h-0.9zM88.8 166.9h0.9v0.9h-0.9zM72.6 167.0h0.9v0.9h-0.9zM84.0 165.5h0.9v0.9h-0.9zM82.8 169.9h0.9v0.9h-0.9zM89.1 164.2h0.9v0.9h-0.9zM64.4 170.7h0.9v0.9h-0.9zM91.4 163.8h0.9v0.9h-0.9zM80.7 167.3h0.9v0.9h-0.9zM64.6 162.0h0.9v0.9h-0.9zM77.4 163.7h0.9v0.9h-0.9zM87.7 163.4h0.9v0.9h-0.9zM89.0 159.6h0.9v0.9h-0.9zM77.5 165.5h0.9v0.9h-0.9zM74.6 162.3h0.9v0.9h-0.9zM72.9 169.8h0.9v0.9h-0.9zM77.8 167.0h0.9v0.9h-0.9zM73.9 165.5h0.9v0.9h-0.9zM76.8 164.1h0.9v0.9h-0.9zM80.0 170.8h0.9v0.9h-0.9zM84.7 165.8h0.9v0.9h-0.9zM85.0 162.4h0.9v0.9h-0.9zM84.8 170.2h0.9v0.9h-0.9zM89.3 169.6h0.9v0.9h-0.9zM89.5 163.7h0.9v0.9h-0.9zM90.9 169.5h0.9v0.9h-0.9zM67.8 160.9h0.9v0.9h-0.9z" fill="#2f6ea5" fill-opacity="0.45"/>
<path d="M82.6 160.8h0.9v0.9h-0.9zM87.1 168.2h0.9v0.9h-0.9zM62.4 164.8h0.9v0.9h-0.9zM82.8 167.0h0.9v0.9h-0.9zM86.5 168.6h0.9v0.9h-0.9zM69.6 168.1h0.9v0.9h-0.9zM75.7 166.2h0.9v0.9h-0.9zM73.7 164.4h0.9v0.9h-0.9zM83.4 159.4h0.9v0.9h-0.9zM87.6 171.4h0.9v0.9h-0.9zM77.3 170.8h0.9v0.9h-0.9zM76.0 170.0h0.9v0.9h-0.9zM82.4 162.4h0.9v0.9h-0.9zM72.3 166.8h0.9v0.9h-0.9zM81.9 161.0h0.9v0.9h-0.9zM87.6 161.3h0.9v0.9h-0.9zM66.2 168.0h0.9v0.9h-0.9zM60.6 167.3h0.9v0.9h-0.9zM67.3 166.8h0.9v0.9h-0.9zM90.3 169.6h0.9v0.9h-0.9zM78.8 165.1h0.9v0.9h-0.9zM65.9 167.3h0.9v0.9h-0.9zM59.8 166.6h0.9v0.9h-0.9zM62.3 163.5h0.9v0.9h-0.9zM61.3 166.3h0.9v0.9h-0.9zM79.3 166.6h0.9v0.9h-0.9zM72.0 166.8h0.9v0.9h-0.9zM61.9 165.5h0.9v0.9h-0.9zM65.5 167.0h0.9v0.9h-0.9zM82.5 166.2h0.9v0.9h-0.9zM69.5 159.3h0.9v0.9h-0.9zM88.9 160.3h0.9v0.9h-0.9zM69.2 165.3h0.9v0.9h-0.9zM89.8 164.1h0.9v0.9h-0.9zM80.7 162.4h0.9v0.9h-0.9zM89.3 160.7h0.9v0.9h-0.9zM75.6 164.9h0.9v0.9h-0.9zM81.8 166.7h0.9v0.9h-0.9zM83.8 163.7h0.9v0.9h-0.9zM73.9 159.7h0.9v0.9h-0.9zM70.5 164.1h0.9v0.9h-0.9zM74.1 161.4h0.9v0.9h-0.9zM81.2 163.9h0.9v0.9h-0.9zM74.3 167.4h0.9v0.9h-0.9zM87.8 163.6h0.9v0.9h-0.9zM76.6 169.2h0.9v0.9h-0.9zM87.1 168.6h0.9v0.9h-0.9zM57.2 167.5h0.9v0.9h-0.9zM89.3 158.4h0.9v0.9h-0.9zM72.5 165.3h0.9v0.9h-0.9zM60.5 167.4h0.9v0.9h-0.9zM80.3 169.3h0.9v0.9h-0.9zM65.8 167.3h0.9v0.9h-0.9zM80.7 168.9h0.9v0.9h-0.9zM81.0 167.6h0.9v0.9h-0.9zM81.0 170.5h0.9v0.9h-0.9zM63.9 163.6h0.9v0.9h-0.9zM86.1 158.5h0.9v0.9h-0.9zM71.0 162.3h0.9v0.9h-0.9zM86.3 159.4h0.9v0.9h-0.9zM82.3 158.8h0.9v0.9h-0.9zM83.7 162.0h0.9v0.9h-0.9zM77.5 160.4h0.9v0.9h-0.9zM87.8 158.7h0.9v0.9h-0.9zM82.4 169.4h0.9v0.9h-0.9zM86.6 160.5h0.9v0.9h-0.9zM62.6 166.7h0.9v0.9h-0.9zM75.4 168.8h0.9v0.9h-0.9zM70.9 161.5h0.9v0.9h-0.9zM78.1 163.6h0.9v0.9h-0.9zM62.2 164.8h0.9v0.9h-0.9zM77.6 162.1h0.9v0.9h-0.9zM90.4 166.4h0.9v0.9h-0.9zM69.3 161.9h0.9v0.9h-0.9zM76.2 166.2h0.9v0.9h-0.9zM65.9 169.9h0.9v0.9h-0.9zM66.5 169.2h0.9v0.9h-0.9zM72.6 161.3h0.9v0.9h-0.9zM61.2 163.3h0.9v0.9h-0.9zM87.0 169.0h0.9v0.9h-0.9zM80.2 166.5h0.9v0.9h-0.9zM70.7 165.6h0.9v0.9h-0.9zM63.7 169.3h0.9v0.9h-0.9zM90.3 169.0h0.9v0.9h-0.9zM86.1 162.8h0.9v0.9h-0.9zM87.1 158.4h0.9v0.9h-0.9zM74.9 161.9h0.9v0.9h-0.9zM67.8 164.8h0.9v0.9h-0.9zM62.3 167.0h0.9v0.9h-0.9z" fill="#6a9ac8" fill-opacity="0.45"/>
<rect x="42.6" y="119.8" width="56.99999999999999" height="56.500000000000014" fill="none" stroke="#2a2a2a" stroke-width="1"/>
<line x1="41.30" y1="121.00" x2="42.60" y2="121.00" stroke="#444" stroke-width="0.45" />
<line x1="41.30" y1="122.90" x2="42.60" y2="122.90" stroke="#444" stroke-width="0.45" />
<line x1="41.30" y1="124.80" x2="42.60" y2="124.80" stroke="#444" stroke-width="0.45" />
<line x1="41.30" y1="126.70" x2="42.60" y2="126.70" stroke="#444" stroke-width="0.45" />
<line x1="41.30" y1="128.60" x2="42.60" y2="128.60" stroke="#444" stroke-width="0.45" />
<line x1="41.30" y1="130.50" x2="42.60" y2="130.50" stroke="#444" stroke-width="0.45" />
<line x1="41.30" y1="132.40" x2="42.60" y2="132.40" stroke="#444" stroke-width="0.45" />
<line x1="41.30" y1="134.30" x2="42.60" y2="134.30" stroke="#444" stroke-width="0.45" />
<line x1="41.30" y1="136.20" x2="42.60" y2="136.20" stroke="#444" stroke-width="0.45" />
<line x1="41.30" y1="138.10" x2="42.60" y2="138.10" stroke="#444" stroke-width="0.45" />
<line x1="41.30" y1="140.00" x2="42.60" y2="140.00" stroke="#444" stroke-width="0.45" />
<line x1="41.30" y1="141.90" x2="42.60" y2="141.90" stroke="#444" stroke-width="0.45" />
<line x1="41.30" y1="143.80" x2="42.60" y2="143.80" stroke="#444" stroke-width="0.45" />
<line x1="41.30" y1="145.70" x2="42.60" y2="145.70" stroke="#444" stroke-width="0.45" />
<line x1="41.30" y1="147.60" x2="42.60" y2="147.60" stroke="#444" stroke-width="0.45" />
<line x1="41.30" y1="149.50" x2="42.60" y2="149.50" stroke="#444" stroke-width="0.45" />
<line x1="41.30" y1="151.40" x2="42.60" y2="151.40" stroke="#444" stroke-width="0.45" />
<line x1="41.30" y1="153.30" x2="42.60" y2="153.30" stroke="#444" stroke-width="0.45" />
<line x1="41.30" y1="155.20" x2="42.60" y2="155.20" stroke="#444" stroke-width="0.45" />
<line x1="41.30" y1="157.10" x2="42.60" y2="157.10" stroke="#444" stroke-width="0.45" />
<line x1="41.30" y1="159.00" x2="42.60" y2="159.00" stroke="#444" stroke-width="0.45" />
<line x1="41.30" y1="160.90" x2="42.60" y2="160.90" stroke="#444" stroke-width="0.45" />
<line x1="41.30" y1="162.80" x2="42.60" y2="162.80" stroke="#444" stroke-width="0.45" />
<line x1="41.30" y1="164.70" x2="42.60" y2="164.70" stroke="#444" stroke-width="0.45" />
<line x1="41.30" y1="166.60" x2="42.60" y2="166.60" stroke="#444" stroke-width="0.45" />
<line x1="41.30" y1="168.50" x2="42.60" y2="168.50" stroke="#444" stroke-width="0.45" />
<line x1="41.30" y1="170.40" x2="42.60" y2="170.40" stroke="#444" stroke-width="0.45" />
<line x1="41.30" y1="172.30" x2="42.60" y2="172.30" stroke="#444" stroke-width="0.45" />
<line x1="41.30" y1="174.20" x2="42.60" y2="174.20" stroke="#444" stroke-width="0.45" />
<line x1="41.30" y1="176.10" x2="42.60" y2="176.10" stroke="#444" stroke-width="0.45" />
<line x1="43.80" y1="176.30" x2="43.80" y2="177.60" stroke="#444" stroke-width="0.45" />
<line x1="45.70" y1="176.30" x2="45.70" y2="177.60" stroke="#444" stroke-width="0.45" />
<line x1="47.60" y1="176.30" x2="47.60" y2="177.60" stroke="#444" stroke-width="0.45" />
<line x1="49.50" y1="176.30" x2="49.50" y2="177.60" stroke="#444" stroke-width="0.45" />
<line x1="51.40" y1="176.30" x2="51.40" y2="177.60" stroke="#444" stroke-width="0.45" />
<line x1="53.30" y1="176.30" x2="53.30" y2="177.60" stroke="#444" stroke-width="0.45" />
<line x1="55.20" y1="176.30" x2="55.20" y2="177.60" stroke="#444" stroke-width="0.45" />
<line x1="57.10" y1="176.30" x2="57.10" y2="177.60" stroke="#444" stroke-width="0.45" />
<line x1="59.00" y1="176.30" x2="59.00" y2="177.60" stroke="#444" stroke-width="0.45" />
<line x1="60.90" y1="176.30" x2="60.90" y2="177.60" stroke="#444" stroke-width="0.45" />
<line x1="62.80" y1="176.30" x2="62.80" y2="177.60" stroke="#444" stroke-width="0.45" />
<line x1="64.70" y1="176.30" x2="64.70" y2="177.60" stroke="#444" stroke-width="0.45" />
<line x1="66.60" y1="176.30" x2="66.60" y2="177.60" stroke="#444" stroke-width="0.45" />
<line x1="68.50" y1="176.30" x2="68.50" y2="177.60" stroke="#444" stroke-width="0.45" />
<line x1="70.40" y1="176.30" x2="70.40" y2="177.60" stroke="#444" stroke-width="0.45" />
<line x1="72.30" y1="176.30" x2="72.30" y2="177.60" stroke="#444" stroke-width="0.45" />
<line x1="74.20" y1="176.30" x2="74.20" y2="177.60" stroke="#444" stroke-width="0.45" />
<line x1="76.10" y1="176.30" x2="76.10" y2="177.60" stroke="#444" stroke-width="0.45" />
<line x1="78.00" y1="176.30" x2="78.00" y2="177.60" stroke="#444" stroke-width="0.45" />
<line x1="79.90" y1="176.30" x2="79.90" y2="177.60" stroke="#444" stroke-width="0.45" />
<line x1="81.80" y1="176.30" x2="81.80" y2="177.60" stroke="#444" stroke-width="0.45" />
<line x1="83.70" y1="176.30" x2="83.70" y2="177.60" stroke="#444" stroke-width="0.45" />
<line x1="85.60" y1="176.30" x2="85.60" y2="177.60" stroke="#444" stroke-width="0.45" />
<line x1="87.50" y1="176.30" x2="87.50" y2="177.60" stroke="#444" stroke-width="0.45" />
<line x1="89.40" y1="176.30" x2="89.40" y2="177.60" stroke="#444" stroke-width="0.45" />
<line x1="91.30" y1="176.30" x2="91.30" y2="177.60" stroke="#444" stroke-width="0.45" />
<line x1="93.20" y1="176.30" x2="93.20" y2="177.60" stroke="#444" stroke-width="0.45" />
<line x1="95.10" y1="176.30" x2="95.10" y2="177.60" stroke="#444" stroke-width="0.45" />
<line x1="97.00" y1="176.30" x2="97.00" y2="177.60" stroke="#444" stroke-width="0.45" />
<line x1="98.90" y1="176.30" x2="98.90" y2="177.60" stroke="#444" stroke-width="0.45" />
<line x1="39.80" y1="119.80" x2="42.60" y2="119.80" stroke="#333" stroke-width="0.6" />
<text x="37.0" y="121.7" font-size="6.0" text-anchor="end" fill="#333" stroke="#333" stroke-width="0.1" font-weight="normal" >1.0K</text>
<line x1="39.80" y1="131.10" x2="42.60" y2="131.10" stroke="#333" stroke-width="0.6" />
<text x="37.0" y="133.0" font-size="6.0" text-anchor="end" fill="#333" stroke="#333" stroke-width="0.1" font-weight="normal" >800</text>
<line x1="39.80" y1="142.40" x2="42.60" y2="142.40" stroke="#333" stroke-width="0.6" />
<text x="37.0" y="144.3" font-size="6.0" text-anchor="end" fill="#333" stroke="#333" stroke-width="0.1" font-weight="normal" >600</text>
<line x1="39.80" y1="153.70" x2="42.60" y2="153.70" stroke="#333" stroke-width="0.6" />
<text x="37.0" y="155.6" font-size="6.0" text-anchor="end" fill="#333" stroke="#333" stroke-width="0.1" font-weight="normal" >400</text>
<line x1="39.80" y1="165.00" x2="42.60" y2="165.00" stroke="#333" stroke-width="0.6" />
<text x="37.0" y="166.9" font-size="6.0" text-anchor="end" fill="#333" stroke="#333" stroke-width="0.1" font-weight="normal" >200</text>
<line x1="39.80" y1="176.30" x2="42.60" y2="176.30" stroke="#333" stroke-width="0.6" />
<text x="37.0" y="178.2" font-size="6.0" text-anchor="end" fill="#333" stroke="#333" stroke-width="0.1" font-weight="normal" >0</text>
<text x="42.2" y="186.9" font-size="5.6" text-anchor="middle" fill="#333" stroke="#333" stroke-width="0.1" font-weight="normal" >10<tspan dy="-2.0" font-size="3.8">-2</tspan></text>
<text x="53.6" y="186.9" font-size="5.6" text-anchor="middle" fill="#333" stroke="#333" stroke-width="0.1" font-weight="normal" >10<tspan dy="-2.0" font-size="3.8">-1</tspan></text>
<text x="64.2" y="186.9" font-size="5.6" text-anchor="middle" fill="#333" stroke="#333" stroke-width="0.1" font-weight="normal" >10<tspan dy="-2.0" font-size="3.8">0</tspan></text>
<text x="75.0" y="186.9" font-size="5.6" text-anchor="middle" fill="#333" stroke="#333" stroke-width="0.1" font-weight="normal" >10<tspan dy="-2.0" font-size="3.8">1</tspan></text>
<text x="85.7" y="186.9" font-size="5.6" text-anchor="middle" fill="#333" stroke="#333" stroke-width="0.1" font-weight="normal" >10<tspan dy="-2.0" font-size="3.8">2</tspan></text>
<text x="98.9" y="186.9" font-size="5.6" text-anchor="middle" fill="#333" stroke="#333" stroke-width="0.1" font-weight="normal" >10<tspan dy="-2.0" font-size="3.8">3</tspan></text>
<text x="20.4" y="148.4" font-size="8.2" text-anchor="middle" fill="#333" stroke="#333" stroke-width="0.25" font-weight="normal" textLength="38.5" lengthAdjust="spacingAndGlyphs" transform="rotate(-90 20.4 148.4)">SSC-A :: SSC-A</text>
<text x="71.3" y="199.4" font-size="8.6" text-anchor="middle" fill="#333" stroke="#333" stroke-width="0.25" font-weight="normal" textLength="45.6" lengthAdjust="spacingAndGlyphs">B2-A :: cd38 PE-A</text>
<text x="71.1" y="128.7" font-size="6.2" text-anchor="middle" fill="#333" stroke="#333" stroke-width="0.1" font-weight="normal" >MM1S</text>
<path d="M180.7 153.1h0.8v0.8h-0.8zM169.7 143.4h0.8v0.8h-0.8zM171.6 169.9h0.8v0.8h-0.8zM186.9 161.8h0.8v0.8h-0.8zM166.1 161.3h0.8v0.8h-0.8zM165.7 145.6h0.8v0.8h-0.8zM179.7 155.9h0.8v0.8h-0.8zM172.9 159.1h0.8v0.8h-0.8zM171.6 150.9h0.8v0.8h-0.8zM173.9 170.1h0.8v0.8h-0.8zM166.8 162.5h0.8v0.8h-0.8zM172.9 141.7h0.8v0.8h-0.8zM176.4 144.3h0.8v0.8h-0.8zM167.5 146.6h0.8v0.8h-0.8zM174.8 161.4h0.8v0.8h-0.8zM178.9 151.1h0.8v0.8h-0.8zM167.8 151.4h0.8v0.8h-0.8zM184.0 149.5h0.8v0.8h-0.8zM165.9 144.9h0.8v0.8h-0.8zM173.9 149.6h0.8v0.8h-0.8zM177.7 148.8h0.8v0.8h-0.8zM161.0 153.7h0.8v0.8h-0.8zM170.3 166.4h0.8v0.8h-0.8zM183.8 152.8h0.8v0.8h-0.8zM176.8 156.0h0.8v0.8h-0.8zM163.6 150.8h0.8v0.8h-0.8zM178.2 151.0h0.8v0.8h-0.8zM167.9 155.9h0.8v0.8h-0.8zM175.7 145.7h0.8v0.8h-0.8zM163.0 155.1h0.8v0.8h-0.8zM180.9 143.1h0.8v0.8h-0.8zM173.7 143.8h0.8v0.8h-0.8zM185.3 161.6h0.8v0.8h-0.8zM179.2 164.5h0.8v0.8h-0.8zM172.2 143.4h0.8v0.8h-0.8zM173.1 161.8h0.8v0.8h-0.8zM171.6 153.1h0.8v0.8h-0.8zM174.6 152.0h0.8v0.8h-0.8zM174.9 154.0h0.8v0.8h-0.8zM169.1 153.9h0.8v0.8h-0.8zM171.2 166.3h0.8v0.8h-0.8zM170.1 162.4h0.8v0.8h-0.8zM168.6 157.0h0.8v0.8h-0.8zM170.6 152.3h0.8v0.8h-0.8zM172.2 154.3h0.8v0.8h-0.8zM176.4 163.7h0.8v0.8h-0.8zM171.1 162.8h0.8v0.8h-0.8zM173.5 169.8h0.8v0.8h-0.8zM169.0 151.1h0.8v0.8h-0.8zM184.9 141.1h0.8v0.8h-0.8zM175.7 151.8h0.8v0.8h-0.8zM172.5 154.6h0.8v0.8h-0.8zM177.3 152.7h0.8v0.8h-0.8zM174.6 166.0h0.8v0.8h-0.8zM173.6 159.2h0.8v0.8h-0.8zM188.2 141.9h0.8v0.8h-0.8zM179.0 164.5h0.8v0.8h-0.8zM184.4 151.0h0.8v0.8h-0.8zM169.6 156.5h0.8v0.8h-0.8zM163.1 162.9h0.8v0.8h-0.8zM169.4 159.1h0.8v0.8h-0.8zM185.8 155.6h0.8v0.8h-0.8zM167.0 158.5h0.8v0.8h-0.8zM168.6 162.2h0.8v0.8h-0.8zM183.8 161.2h0.8v0.8h-0.8zM173.0 172.7h0.8v0.8h-0.8zM178.0 149.9h0.8v0.8h-0.8zM175.7 151.5h0.8v0.8h-0.8zM172.6 162.7h0.8v0.8h-0.8zM177.0 157.9h0.8v0.8h-0.8zM169.3 163.0h0.8v0.8h-0.8zM174.7 144.7h0.8v0.8h-0.8zM180.2 154.4h0.8v0.8h-0.8zM166.5 161.3h0.8v0.8h-0.8zM173.3 155.7h0.8v0.8h-0.8zM165.9 152.9h0.8v0.8h-0.8zM181.0 158.3h0.8v0.8h-0.8zM179.9 169.3h0.8v0.8h-0.8zM183.3 168.8h0.8v0.8h-0.8zM183.2 158.4h0.8v0.8h-0.8zM180.7 149.3h0.8v0.8h-0.8zM168.8 161.4h0.8v0.8h-0.8zM182.5 156.5h0.8v0.8h-0.8zM167.7 165.8h0.8v0.8h-0.8zM177.3 163.9h0.8v0.8h-0.8zM179.7 148.9h0.8v0.8h-0.8zM165.1 158.7h0.8v0.8h-0.8zM183.6 161.7h0.8v0.8h-0.8zM184.4 155.5h0.8v0.8h-0.8zM162.4 161.3h0.8v0.8h-0.8zM170.5 151.4h0.8v0.8h-0.8zM171.2 164.6h0.8v0.8h-0.8zM169.8 152.1h0.8v0.8h-0.8zM186.1 150.5h0.8v0.8h-0.8zM166.5 155.7h0.8v0.8h-0.8zM183.4 149.4h0.8v0.8h-0.8zM172.9 162.5h0.8v0.8h-0.8zM186.0 155.2h0.8v0.8h-0.8zM171.5 144.2h0.8v0.8h-0.8zM184.7 145.6h0.8v0.8h-0.8zM168.9 154.0h0.8v0.8h-0.8zM184.5 148.2h0.8v0.8h-0.8zM170.9 155.1h0.8v0.8h-0.8zM184.1 160.6h0.8v0.8h-0.8zM179.7 165.1h0.8v0.8h-0.8zM171.6 167.9h0.8v0.8h-0.8zM168.9 162.4h0.8v0.8h-0.8zM173.6 150.5h0.8v0.8h-0.8zM184.3 160.5h0.8v0.8h-0.8zM174.9 152.0h0.8v0.8h-0.8zM169.7 160.5h0.8v0.8h-0.8zM162.4 166.9h0.8v0.8h-0.8zM173.2 159.5h0.8v0.8h-0.8zM179.3 153.9h0.8v0.8h-0.8zM166.6 145.3h0.8v0.8h-0.8zM174.9 158.4h0.8v0.8h-0.8zM171.6 152.0h0.8v0.8h-0.8zM163.1 158.2h0.8v0.8h-0.8zM178.6 150.5h0.8v0.8h-0.8zM165.9 151.8h0.8v0.8h-0.8zM168.9 161.1h0.8v0.8h-0.8zM184.8 168.0h0.8v0.8h-0.8zM166.0 146.1h0.8v0.8h-0.8zM179.8 154.6h0.8v0.8h-0.8zM184.4 159.3h0.8v0.8h-0.8zM182.9 154.9h0.8v0.8h-0.8zM178.7 152.7h0.8v0.8h-0.8zM173.1 173.5h0.8v0.8h-0.8zM163.7 149.5h0.8v0.8h-0.8zM176.1 159.1h0.8v0.8h-0.8zM178.5 152.3h0.8v0.8h-0.8zM170.9 155.4h0.8v0.8h-0.8zM181.9 163.3h0.8v0.8h-0.8zM166.5 154.5h0.8v0.8h-0.8zM178.5 148.5h0.8v0.8h-0.8z" fill="#8a8fa0" fill-opacity="0.3"/>
<path d="M163.5 166 Q165.5 156 168 149 Q170.5 144.5 176.8 144.3 L176.2 167 Q170 168 163.5 166Z" fill="url(#gBv)" filter="url(#bl)"/>
<path d="M176.8 167.3 L177.3 144.3 Q184 144 187 147.5 Q188.5 156 186 165 Q182 168.2 176.8 167.3Z" fill="url(#gRv)" filter="url(#bl)"/>
<path d="M164.5 164.9h0.9v0.9h-0.9zM174.1 160.4h0.9v0.9h-0.9zM172.9 161.3h0.9v0.9h-0.9zM171.8 146.4h0.9v0.9h-0.9zM172.5 144.9h0.9v0.9h-0.9zM169.0 165.3h0.9v0.9h-0.9zM176.6 144.5h0.9v0.9h-0.9zM169.7 145.3h0.9v0.9h-0.9zM167.4 163.3h0.9v0.9h-0.9zM173.7 158.8h0.9v0.9h-0.9zM171.8 145.8h0.9v0.9h-0.9zM165.7 159.8h0.9v0.9h-0.9zM169.6 148.2h0.9v0.9h-0.9zM175.8 146.8h0.9v0.9h-0.9zM169.6 151.0h0.9v0.9h-0.9zM173.1 148.5h0.9v0.9h-0.9zM164.1 163.3h0.9v0.9h-0.9zM167.3 153.8h0.9v0.9h-0.9zM169.7 159.0h0.9v0.9h-0.9zM168.3 156.5h0.9v0.9h-0.9zM169.2 149.4h0.9v0.9h-0.9zM169.3 156.3h0.9v0.9h-0.9zM165.1 157.5h0.9v0.9h-0.9zM175.2 160.9h0.9v0.9h-0.9zM168.4 146.7h0.9v0.9h-0.9zM177.7 158.3h0.9v0.9h-0.9zM172.0 161.5h0.9v0.9h-0.9zM176.7 153.6h0.9v0.9h-0.9zM171.0 156.0h0.9v0.9h-0.9zM167.0 156.4h0.9v0.9h-0.9zM175.5 144.9h0.9v0.9h-0.9zM171.2 144.3h0.9v0.9h-0.9zM164.0 163.5h0.9v0.9h-0.9zM171.6 148.2h0.9v0.9h-0.9zM166.1 164.3h0.9v0.9h-0.9zM171.3 157.0h0.9v0.9h-0.9zM170.7 148.3h0.9v0.9h-0.9zM175.6 156.9h0.9v0.9h-0.9zM176.7 154.9h0.9v0.9h-0.9zM169.0 154.2h0.9v0.9h-0.9zM167.7 146.4h0.9v0.9h-0.9zM166.7 167.2h0.9v0.9h-0.9zM171.3 151.9h0.9v0.9h-0.9zM169.4 151.2h0.9v0.9h-0.9zM175.6 157.6h0.9v0.9h-0.9zM166.7 159.0h0.9v0.9h-0.9zM164.6 164.1h0.9v0.9h-0.9zM170.4 166.4h0.9v0.9h-0.9zM174.2 144.8h0.9v0.9h-0.9zM166.6 153.6h0.9v0.9h-0.9zM168.9 146.3h0.9v0.9h-0.9zM169.7 146.4h0.9v0.9h-0.9zM173.9 152.1h0.9v0.9h-0.9zM172.2 152.7h0.9v0.9h-0.9zM171.8 144.7h0.9v0.9h-0.9zM170.6 158.5h0.9v0.9h-0.9zM170.9 155.2h0.9v0.9h-0.9zM172.3 153.2h0.9v0.9h-0.9zM167.1 154.7h0.9v0.9h-0.9zM167.2 165.6h0.9v0.9h-0.9zM174.4 156.5h0.9v0.9h-0.9zM169.7 163.0h0.9v0.9h-0.9zM168.8 164.2h0.9v0.9h-0.9zM174.3 164.8h0.9v0.9h-0.9zM171.6 162.3h0.9v0.9h-0.9zM164.2 165.1h0.9v0.9h-0.9zM173.1 161.8h0.9v0.9h-0.9zM172.6 150.3h0.9v0.9h-0.9zM169.0 153.7h0.9v0.9h-0.9zM169.6 149.9h0.9v0.9h-0.9zM166.4 153.1h0.9v0.9h-0.9zM165.2 167.2h0.9v0.9h-0.9zM167.3 159.4h0.9v0.9h-0.9zM170.6 161.6h0.9v0.9h-0.9zM165.3 162.3h0.9v0.9h-0.9zM172.2 157.4h0.9v0.9h-0.9zM163.4 167.8h0.9v0.9h-0.9zM173.3 159.9h0.9v0.9h-0.9zM172.6 164.1h0.9v0.9h-0.9zM171.9 163.5h0.9v0.9h-0.9zM172.9 164.2h0.9v0.9h-0.9zM173.3 163.7h0.9v0.9h-0.9zM168.5 149.1h0.9v0.9h-0.9zM171.8 158.8h0.9v0.9h-0.9zM173.1 166.6h0.9v0.9h-0.9zM175.1 167.2h0.9v0.9h-0.9zM173.8 162.5h0.9v0.9h-0.9zM166.9 160.3h0.9v0.9h-0.9zM170.0 147.8h0.9v0.9h-0.9zM171.2 145.8h0.9v0.9h-0.9zM164.4 168.9h0.9v0.9h-0.9zM172.5 149.4h0.9v0.9h-0.9zM170.0 155.0h0.9v0.9h-0.9zM164.8 163.9h0.9v0.9h-0.9zM171.7 149.7h0.9v0.9h-0.9zM168.6 162.7h0.9v0.9h-0.9zM174.4 151.5h0.9v0.9h-0.9zM166.3 159.3h0.9v0.9h-0.9z" fill="#1b5e91" fill-opacity="0.45"/>
<path d="M175.6 151.2h0.9v0.9h-0.9zM172.3 146.3h0.9v0.9h-0.9zM175.3 152.0h0.9v0.9h-0.9zM173.1 150.1h0.9v0.9h-0.9zM174.3 161.5h0.9v0.9h-0.9zM166.5 156.1h0.9v0.9h-0.9zM174.4 151.1h0.9v0.9h-0.9zM173.5 147.7h0.9v0.9h-0.9zM166.1 165.3h0.9v0.9h-0.9zM169.0 156.1h0.9v0.9h-0.9zM168.3 152.0h0.9v0.9h-0.9zM176.2 148.9h0.9v0.9h-0.9zM170.7 156.1h0.9v0.9h-0.9zM170.2 145.5h0.9v0.9h-0.9zM166.0 162.6h0.9v0.9h-0.9zM173.1 162.0h0.9v0.9h-0.9zM173.6 150.5h0.9v0.9h-0.9zM172.9 155.0h0.9v0.9h-0.9zM168.1 164.4h0.9v0.9h-0.9zM174.2 149.9h0.9v0.9h-0.9zM165.0 157.0h0.9v0.9h-0.9zM169.9 164.7h0.9v0.9h-0.9zM175.4 163.1h0.9v0.9h-0.9zM174.9 158.8h0.9v0.9h-0.9zM174.2 147.7h0.9v0.9h-0.9zM164.1 164.4h0.9v0.9h-0.9zM165.8 154.5h0.9v0.9h-0.9zM175.2 166.4h0.9v0.9h-0.9zM173.9 160.1h0.9v0.9h-0.9zM177.3 144.0h0.9v0.9h-0.9zM172.5 162.0h0.9v0.9h-0.9zM174.2 152.9h0.9v0.9h-0.9zM169.8 155.1h0.9v0.9h-0.9zM176.1 145.0h0.9v0.9h-0.9zM169.6 158.2h0.9v0.9h-0.9zM175.9 165.2h0.9v0.9h-0.9zM176.8 156.1h0.9v0.9h-0.9zM175.3 166.5h0.9v0.9h-0.9zM165.2 159.2h0.9v0.9h-0.9zM173.4 147.1h0.9v0.9h-0.9zM176.8 162.3h0.9v0.9h-0.9zM167.2 153.6h0.9v0.9h-0.9zM173.7 167.3h0.9v0.9h-0.9zM169.4 150.1h0.9v0.9h-0.9zM175.5 154.8h0.9v0.9h-0.9zM168.7 146.7h0.9v0.9h-0.9zM173.0 162.1h0.9v0.9h-0.9zM172.2 160.5h0.9v0.9h-0.9zM169.9 164.1h0.9v0.9h-0.9zM175.4 144.5h0.9v0.9h-0.9zM169.8 148.8h0.9v0.9h-0.9zM168.3 148.6h0.9v0.9h-0.9zM170.4 163.9h0.9v0.9h-0.9zM166.2 151.7h0.9v0.9h-0.9zM166.5 160.4h0.9v0.9h-0.9zM167.7 146.7h0.9v0.9h-0.9zM174.5 150.1h0.9v0.9h-0.9zM164.6 164.9h0.9v0.9h-0.9zM173.2 163.4h0.9v0.9h-0.9zM173.8 163.0h0.9v0.9h-0.9zM167.2 156.7h0.9v0.9h-0.9zM176.0 161.0h0.9v0.9h-0.9zM169.8 152.6h0.9v0.9h-0.9zM174.8 145.2h0.9v0.9h-0.9zM167.5 155.6h0.9v0.9h-0.9zM175.6 159.9h0.9v0.9h-0.9zM174.7 164.8h0.9v0.9h-0.9zM176.8 150.9h0.9v0.9h-0.9zM169.1 146.4h0.9v0.9h-0.9zM172.1 161.6h0.9v0.9h-0.9zM168.9 147.6h0.9v0.9h-0.9zM172.2 162.6h0.9v0.9h-0.9zM170.2 148.3h0.9v0.9h-0.9zM173.3 156.1h0.9v0.9h-0.9zM169.6 154.7h0.9v0.9h-0.9zM171.0 154.5h0.9v0.9h-0.9zM168.4 164.3h0.9v0.9h-0.9zM170.3 151.2h0.9v0.9h-0.9zM171.4 163.7h0.9v0.9h-0.9zM165.3 163.3h0.9v0.9h-0.9zM171.4 148.2h0.9v0.9h-0.9zM171.7 160.3h0.9v0.9h-0.9zM174.2 162.7h0.9v0.9h-0.9zM174.2 159.2h0.9v0.9h-0.9zM175.6 166.9h0.9v0.9h-0.9zM169.5 157.4h0.9v0.9h-0.9zM168.7 153.3h0.9v0.9h-0.9z" fill="#2f6ea5" fill-opacity="0.45"/>
<path d="M176.4 159.4h0.9v0.9h-0.9zM173.2 144.3h0.9v0.9h-0.9zM173.1 163.9h0.9v0.9h-0.9zM175.2 155.3h0.9v0.9h-0.9zM170.9 151.7h0.9v0.9h-0.9zM168.5 162.6h0.9v0.9h-0.9zM165.2 157.8h0.9v0.9h-0.9zM167.9 159.8h0.9v0.9h-0.9zM165.3 164.9h0.9v0.9h-0.9zM170.3 143.2h0.9v0.9h-0.9zM166.8 162.6h0.9v0.9h-0.9zM176.0 161.8h0.9v0.9h-0.9zM173.0 153.4h0.9v0.9h-0.9zM174.7 167.8h0.9v0.9h-0.9zM164.1 165.4h0.9v0.9h-0.9zM167.0 163.3h0.9v0.9h-0.9zM174.8 157.0h0.9v0.9h-0.9zM172.3 168.1h0.9v0.9h-0.9zM177.4 150.0h0.9v0.9h-0.9zM171.1 162.2h0.9v0.9h-0.9zM169.6 143.9h0.9v0.9h-0.9zM176.9 146.2h0.9v0.9h-0.9zM170.4 145.4h0.9v0.9h-0.9zM175.6 149.8h0.9v0.9h-0.9zM168.1 154.3h0.9v0.9h-0.9zM172.9 145.1h0.9v0.9h-0.9zM173.7 161.8h0.9v0.9h-0.9zM171.7 155.7h0.9v0.9h-0.9zM173.5 149.8h0.9v0.9h-0.9zM173.1 157.2h0.9v0.9h-0.9zM168.4 161.3h0.9v0.9h-0.9zM170.5 159.9h0.9v0.9h-0.9zM174.8 146.0h0.9v0.9h-0.9zM170.2 166.3h0.9v0.9h-0.9zM176.4 146.0h0.9v0.9h-0.9zM170.1 157.7h0.9v0.9h-0.9zM176.0 144.6h0.9v0.9h-0.9zM170.0 164.9h0.9v0.9h-0.9zM169.1 153.8h0.9v0.9h-0.9zM166.7 156.3h0.9v0.9h-0.9zM166.8 164.7h0.9v0.9h-0.9zM171.4 153.3h0.9v0.9h-0.9zM176.0 150.2h0.9v0.9h-0.9zM172.4 161.9h0.9v0.9h-0.9zM169.6 153.2h0.9v0.9h-0.9zM172.4 146.7h0.9v0.9h-0.9zM174.0 158.9h0.9v0.9h-0.9zM173.1 145.1h0.9v0.9h-0.9zM169.2 158.5h0.9v0.9h-0.9zM173.7 157.7h0.9v0.9h-0.9zM169.8 146.3h0.9v0.9h-0.9zM164.5 161.4h0.9v0.9h-0.9zM167.5 153.8h0.9v0.9h-0.9zM167.5 166.8h0.9v0.9h-0.9zM166.0 160.6h0.9v0.9h-0.9zM170.1 145.9h0.9v0.9h-0.9zM170.3 160.2h0.9v0.9h-0.9zM175.4 163.9h0.9v0.9h-0.9zM174.6 149.4h0.9v0.9h-0.9zM164.9 161.9h0.9v0.9h-0.9zM171.1 145.2h0.9v0.9h-0.9zM174.9 160.9h0.9v0.9h-0.9zM172.0 152.2h0.9v0.9h-0.9zM173.4 148.9h0.9v0.9h-0.9zM169.3 147.7h0.9v0.9h-0.9zM167.6 149.8h0.9v0.9h-0.9zM173.9 161.8h0.9v0.9h-0.9zM177.3 152.7h0.9v0.9h-0.9zM169.1 163.5h0.9v0.9h-0.9zM172.0 157.2h0.9v0.9h-0.9zM172.1 152.1h0.9v0.9h-0.9zM175.1 152.4h0.9v0.9h-0.9zM172.9 144.2h0.9v0.9h-0.9zM169.0 154.3h0.9v0.9h-0.9zM170.6 156.9h0.9v0.9h-0.9z" fill="#7aa6cf" fill-opacity="0.45"/>
<path d="M177.8 157.9h0.9v0.9h-0.9zM179.5 157.1h0.9v0.9h-0.9zM188.4 151.0h0.9v0.9h-0.9zM183.3 165.3h0.9v0.9h-0.9zM179.1 158.3h0.9v0.9h-0.9zM180.0 155.1h0.9v0.9h-0.9zM180.7 165.4h0.9v0.9h-0.9zM184.0 149.7h0.9v0.9h-0.9zM184.7 163.3h0.9v0.9h-0.9zM185.4 164.1h0.9v0.9h-0.9zM183.6 145.6h0.9v0.9h-0.9zM178.5 159.4h0.9v0.9h-0.9zM182.9 150.9h0.9v0.9h-0.9zM180.2 152.5h0.9v0.9h-0.9zM177.1 159.6h0.9v0.9h-0.9zM186.7 155.2h0.9v0.9h-0.9zM178.1 166.6h0.9v0.9h-0.9zM182.3 145.4h0.9v0.9h-0.9zM186.2 149.9h0.9v0.9h-0.9zM184.5 148.5h0.9v0.9h-0.9zM186.6 163.9h0.9v0.9h-0.9zM187.0 153.1h0.9v0.9h-0.9zM184.6 160.0h0.9v0.9h-0.9zM185.2 148.6h0.9v0.9h-0.9zM186.4 150.2h0.9v0.9h-0.9zM179.2 153.7h0.9v0.9h-0.9zM183.1 161.6h0.9v0.9h-0.9zM178.9 145.7h0.9v0.9h-0.9zM179.6 162.0h0.9v0.9h-0.9zM178.1 144.4h0.9v0.9h-0.9zM183.9 148.7h0.9v0.9h-0.9zM182.0 154.2h0.9v0.9h-0.9zM186.3 148.2h0.9v0.9h-0.9zM181.5 151.9h0.9v0.9h-0.9zM179.3 162.0h0.9v0.9h-0.9zM186.2 158.6h0.9v0.9h-0.9zM179.1 159.7h0.9v0.9h-0.9zM186.9 159.3h0.9v0.9h-0.9zM178.9 163.7h0.9v0.9h-0.9zM181.6 152.4h0.9v0.9h-0.9zM178.5 144.5h0.9v0.9h-0.9zM185.2 159.0h0.9v0.9h-0.9zM179.0 159.9h0.9v0.9h-0.9zM186.4 158.9h0.9v0.9h-0.9zM182.2 145.8h0.9v0.9h-0.9zM178.4 152.9h0.9v0.9h-0.9zM179.9 164.2h0.9v0.9h-0.9zM181.6 159.6h0.9v0.9h-0.9zM178.5 163.2h0.9v0.9h-0.9zM180.8 165.4h0.9v0.9h-0.9zM178.0 146.8h0.9v0.9h-0.9zM183.2 159.1h0.9v0.9h-0.9zM179.2 159.3h0.9v0.9h-0.9zM178.8 160.0h0.9v0.9h-0.9zM182.1 147.6h0.9v0.9h-0.9zM184.3 149.6h0.9v0.9h-0.9zM184.3 150.2h0.9v0.9h-0.9zM185.0 158.7h0.9v0.9h-0.9zM179.2 162.4h0.9v0.9h-0.9zM186.2 156.1h0.9v0.9h-0.9zM182.9 161.6h0.9v0.9h-0.9zM182.3 158.0h0.9v0.9h-0.9zM180.0 163.4h0.9v0.9h-0.9zM185.3 148.0h0.9v0.9h-0.9zM186.0 162.7h0.9v0.9h-0.9zM181.0 167.0h0.9v0.9h-0.9zM184.2 152.5h0.9v0.9h-0.9zM182.5 149.0h0.9v0.9h-0.9zM180.4 155.2h0.9v0.9h-0.9zM180.6 161.7h0.9v0.9h-0.9zM178.0 144.7h0.9v0.9h-0.9zM183.0 147.0h0.9v0.9h-0.9zM178.5 155.8h0.9v0.9h-0.9zM181.9 162.9h0.9v0.9h-0.9zM186.0 146.9h0.9v0.9h-0.9zM184.8 154.5h0.9v0.9h-0.9zM181.1 145.2h0.9v0.9h-0.9zM181.8 147.8h0.9v0.9h-0.9zM180.9 144.6h0.9v0.9h-0.9zM186.2 159.1h0.9v0.9h-0.9zM185.6 149.3h0.9v0.9h-0.9zM181.8 153.9h0.9v0.9h-0.9zM186.4 149.4h0.9v0.9h-0.9zM180.5 159.7h0.9v0.9h-0.9zM178.5 161.0h0.9v0.9h-0.9zM186.8 145.3h0.9v0.9h-0.9zM185.3 161.8h0.9v0.9h-0.9zM183.0 165.1h0.9v0.9h-0.9zM178.8 163.8h0.9v0.9h-0.9z" fill="#d21e46" fill-opacity="0.45"/>
<path d="M186.0 147.7h0.9v0.9h-0.9zM178.8 145.7h0.9v0.9h-0.9zM180.1 164.1h0.9v0.9h-0.9zM184.8 147.0h0.9v0.9h-0.9zM183.4 151.9h0.9v0.9h-0.9zM182.0 163.8h0.9v0.9h-0.9zM186.0 145.8h0.9v0.9h-0.9zM178.8 161.0h0.9v0.9h-0.9zM178.3 153.9h0.9v0.9h-0.9zM184.6 165.3h0.9v0.9h-0.9zM178.4 160.1h0.9v0.9h-0.9zM186.5 166.2h0.9v0.9h-0.9zM180.0 160.6h0.9v0.9h-0.9zM180.5 150.4h0.9v0.9h-0.9zM182.8 165.1h0.9v0.9h-0.9zM179.5 158.6h0.9v0.9h-0.9zM182.6 148.4h0.9v0.9h-0.9zM185.2 160.5h0.9v0.9h-0.9zM176.7 156.4h0.9v0.9h-0.9zM183.3 145.2h0.9v0.9h-0.9zM182.8 158.7h0.9v0.9h-0.9zM185.5 151.8h0.9v0.9h-0.9zM181.8 163.7h0.9v0.9h-0.9zM186.6 155.2h0.9v0.9h-0.9zM177.3 164.5h0.9v0.9h-0.9zM188.5 150.9h0.9v0.9h-0.9zM184.3 150.4h0.9v0.9h-0.9zM186.1 159.6h0.9v0.9h-0.9zM177.4 160.7h0.9v0.9h-0.9zM180.9 154.6h0.9v0.9h-0.9zM186.5 154.1h0.9v0.9h-0.9zM181.0 158.9h0.9v0.9h-0.9zM182.4 146.8h0.9v0.9h-0.9zM182.1 168.3h0.9v0.9h-0.9zM183.8 144.9h0.9v0.9h-0.9zM181.1 164.2h0.9v0.9h-0.9zM186.0 151.5h0.9v0.9h-0.9zM184.0 147.0h0.9v0.9h-0.9zM180.1 156.6h0.9v0.9h-0.9zM180.1 157.2h0.9v0.9h-0.9zM184.8 159.3h0.9v0.9h-0.9zM183.0 162.6h0.9v0.9h-0.9zM184.8 166.0h0.9v0.9h-0.9zM181.6 146.1h0.9v0.9h-0.9zM183.1 167.0h0.9v0.9h-0.9zM177.0 155.9h0.9v0.9h-0.9zM177.9 155.0h0.9v0.9h-0.9zM180.3 153.9h0.9v0.9h-0.9zM183.7 148.5h0.9v0.9h-0.9zM186.6 152.6h0.9v0.9h-0.9zM179.6 152.1h0.9v0.9h-0.9zM176.9 161.4h0.9v0.9h-0.9zM187.9 156.6h0.9v0.9h-0.9zM178.7 152.3h0.9v0.9h-0.9zM186.2 155.7h0.9v0.9h-0.9zM182.2 155.4h0.9v0.9h-0.9zM180.9 147.6h0.9v0.9h-0.9zM185.1 144.9h0.9v0.9h-0.9zM183.8 163.1h0.9v0.9h-0.9zM183.0 152.2h0.9v0.9h-0.9zM178.6 149.2h0.9v0.9h-0.9zM179.8 153.7h0.9v0.9h-0.9zM181.6 150.0h0.9v0.9h-0.9zM179.3 153.9h0.9v0.9h-0.9zM178.5 162.3h0.9v0.9h-0.9zM183.7 156.1h0.9v0.9h-0.9zM182.5 165.7h0.9v0.9h-0.9zM181.3 149.6h0.9v0.9h-0.9zM181.7 160.2h0.9v0.9h-0.9zM181.1 159.8h0.9v0.9h-0.9zM180.1 156.9h0.9v0.9h-0.9zM182.2 168.2h0.9v0.9h-0.9zM184.6 167.1h0.9v0.9h-0.9zM184.3 156.1h0.9v0.9h-0.9zM181.6 151.5h0.9v0.9h-0.9zM182.9 164.5h0.9v0.9h-0.9zM185.6 163.1h0.9v0.9h-0.9zM177.0 147.0h0.9v0.9h-0.9zM179.7 147.0h0.9v0.9h-0.9zM185.1 164.0h0.9v0.9h-0.9zM184.6 164.8h0.9v0.9h-0.9zM180.3 150.5h0.9v0.9h-0.9zM179.7 153.8h0.9v0.9h-0.9zM186.0 164.3h0.9v0.9h-0.9zM182.3 152.5h0.9v0.9h-0.9zM178.2 160.9h0.9v0.9h-0.9zM180.1 147.3h0.9v0.9h-0.9zM177.9 154.9h0.9v0.9h-0.9zM184.0 160.8h0.9v0.9h-0.9zM185.0 147.5h0.9v0.9h-0.9zM177.8 167.2h0.9v0.9h-0.9zM180.0 164.9h0.9v0.9h-0.9zM178.0 146.8h0.9v0.9h-0.9zM177.4 146.4h0.9v0.9h-0.9zM177.1 161.0h0.9v0.9h-0.9zM178.3 167.2h0.9v0.9h-0.9zM185.1 157.9h0.9v0.9h-0.9zM184.5 153.1h0.9v0.9h-0.9zM185.3 148.9h0.9v0.9h-0.9z" fill="#e04a6a" fill-opacity="0.45"/>
<path d="M188.3 149.2h0.9v0.9h-0.9zM186.4 153.0h0.9v0.9h-0.9zM178.9 153.8h0.9v0.9h-0.9zM185.3 165.3h0.9v0.9h-0.9zM182.7 162.0h0.9v0.9h-0.9zM182.3 164.3h0.9v0.9h-0.9zM182.7 162.7h0.9v0.9h-0.9zM187.6 151.0h0.9v0.9h-0.9zM183.4 151.3h0.9v0.9h-0.9zM181.6 157.7h0.9v0.9h-0.9zM185.0 167.1h0.9v0.9h-0.9zM183.7 165.0h0.9v0.9h-0.9zM179.9 145.3h0.9v0.9h-0.9zM186.1 159.3h0.9v0.9h-0.9zM185.6 158.3h0.9v0.9h-0.9zM185.1 150.5h0.9v0.9h-0.9zM182.8 148.6h0.9v0.9h-0.9zM188.0 146.8h0.9v0.9h-0.9zM177.1 160.8h0.9v0.9h-0.9zM183.2 158.9h0.9v0.9h-0.9zM184.8 158.5h0.9v0.9h-0.9zM180.2 154.4h0.9v0.9h-0.9zM182.9 160.6h0.9v0.9h-0.9zM180.6 160.5h0.9v0.9h-0.9zM185.8 145.4h0.9v0.9h-0.9zM184.0 154.3h0.9v0.9h-0.9zM184.3 148.2h0.9v0.9h-0.9zM182.6 159.0h0.9v0.9h-0.9zM178.6 156.2h0.9v0.9h-0.9zM182.2 153.2h0.9v0.9h-0.9zM178.2 149.7h0.9v0.9h-0.9zM179.8 164.7h0.9v0.9h-0.9zM186.8 147.3h0.9v0.9h-0.9zM184.8 165.1h0.9v0.9h-0.9zM179.3 165.1h0.9v0.9h-0.9zM180.5 164.5h0.9v0.9h-0.9zM184.4 150.9h0.9v0.9h-0.9zM179.8 150.7h0.9v0.9h-0.9zM180.2 158.8h0.9v0.9h-0.9zM179.1 145.9h0.9v0.9h-0.9zM185.1 162.0h0.9v0.9h-0.9zM185.1 156.3h0.9v0.9h-0.9zM178.8 147.4h0.9v0.9h-0.9zM178.6 143.7h0.9v0.9h-0.9zM178.7 164.8h0.9v0.9h-0.9zM185.8 166.4h0.9v0.9h-0.9zM178.5 149.9h0.9v0.9h-0.9zM180.4 164.6h0.9v0.9h-0.9zM185.3 161.8h0.9v0.9h-0.9zM185.0 160.1h0.9v0.9h-0.9zM185.8 159.9h0.9v0.9h-0.9zM178.3 157.9h0.9v0.9h-0.9zM180.3 143.5h0.9v0.9h-0.9zM179.5 162.8h0.9v0.9h-0.9zM179.7 151.7h0.9v0.9h-0.9zM178.9 164.4h0.9v0.9h-0.9zM184.6 157.3h0.9v0.9h-0.9zM178.8 151.9h0.9v0.9h-0.9zM186.0 152.6h0.9v0.9h-0.9zM179.6 157.6h0.9v0.9h-0.9zM186.7 163.1h0.9v0.9h-0.9zM183.2 145.0h0.9v0.9h-0.9zM182.2 165.7h0.9v0.9h-0.9zM178.8 160.3h0.9v0.9h-0.9zM187.2 161.0h0.9v0.9h-0.9zM186.2 157.8h0.9v0.9h-0.9zM182.2 149.3h0.9v0.9h-0.9zM179.7 147.5h0.9v0.9h-0.9zM184.2 150.1h0.9v0.9h-0.9zM182.6 161.4h0.9v0.9h-0.9zM182.5 164.5h0.9v0.9h-0.9zM181.1 166.4h0.9v0.9h-0.9z" fill="#f07a90" fill-opacity="0.45"/>
<rect x="139.6" y="119.8" width="56.400000000000006" height="56.500000000000014" fill="none" stroke="#2a2a2a" stroke-width="1"/>
<line x1="138.30" y1="121.00" x2="139.60" y2="121.00" stroke="#444" stroke-width="0.45" />
<line x1="138.30" y1="122.90" x2="139.60" y2="122.90" stroke="#444" stroke-width="0.45" />
<line x1="138.30" y1="124.80" x2="139.60" y2="124.80" stroke="#444" stroke-width="0.45" />
<line x1="138.30" y1="126.70" x2="139.60" y2="126.70" stroke="#444" stroke-width="0.45" />
<line x1="138.30" y1="128.60" x2="139.60" y2="128.60" stroke="#444" stroke-width="0.45" />
<line x1="138.30" y1="130.50" x2="139.60" y2="130.50" stroke="#444" stroke-width="0.45" />
<line x1="138.30" y1="132.40" x2="139.60" y2="132.40" stroke="#444" stroke-width="0.45" />
<line x1="138.30" y1="134.30" x2="139.60" y2="134.30" stroke="#444" stroke-width="0.45" />
<line x1="138.30" y1="136.20" x2="139.60" y2="136.20" stroke="#444" stroke-width="0.45" />
<line x1="138.30" y1="138.10" x2="139.60" y2="138.10" stroke="#444" stroke-width="0.45" />
<line x1="138.30" y1="140.00" x2="139.60" y2="140.00" stroke="#444" stroke-width="0.45" />
<line x1="138.30" y1="141.90" x2="139.60" y2="141.90" stroke="#444" stroke-width="0.45" />
<line x1="138.30" y1="143.80" x2="139.60" y2="143.80" stroke="#444" stroke-width="0.45" />
<line x1="138.30" y1="145.70" x2="139.60" y2="145.70" stroke="#444" stroke-width="0.45" />
<line x1="138.30" y1="147.60" x2="139.60" y2="147.60" stroke="#444" stroke-width="0.45" />
<line x1="138.30" y1="149.50" x2="139.60" y2="149.50" stroke="#444" stroke-width="0.45" />
<line x1="138.30" y1="151.40" x2="139.60" y2="151.40" stroke="#444" stroke-width="0.45" />
<line x1="138.30" y1="153.30" x2="139.60" y2="153.30" stroke="#444" stroke-width="0.45" />
<line x1="138.30" y1="155.20" x2="139.60" y2="155.20" stroke="#444" stroke-width="0.45" />
<line x1="138.30" y1="157.10" x2="139.60" y2="157.10" stroke="#444" stroke-width="0.45" />
<line x1="138.30" y1="159.00" x2="139.60" y2="159.00" stroke="#444" stroke-width="0.45" />
<line x1="138.30" y1="160.90" x2="139.60" y2="160.90" stroke="#444" stroke-width="0.45" />
<line x1="138.30" y1="162.80" x2="139.60" y2="162.80" stroke="#444" stroke-width="0.45" />
<line x1="138.30" y1="164.70" x2="139.60" y2="164.70" stroke="#444" stroke-width="0.45" />
<line x1="138.30" y1="166.60" x2="139.60" y2="166.60" stroke="#444" stroke-width="0.45" />
<line x1="138.30" y1="168.50" x2="139.60" y2="168.50" stroke="#444" stroke-width="0.45" />
<line x1="138.30" y1="170.40" x2="139.60" y2="170.40" stroke="#444" stroke-width="0.45" />
<line x1="138.30" y1="172.30" x2="139.60" y2="172.30" stroke="#444" stroke-width="0.45" />
<line x1="138.30" y1="174.20" x2="139.60" y2="174.20" stroke="#444" stroke-width="0.45" />
<line x1="138.30" y1="176.10" x2="139.60" y2="176.10" stroke="#444" stroke-width="0.45" />
<line x1="140.80" y1="176.30" x2="140.80" y2="177.60" stroke="#444" stroke-width="0.45" />
<line x1="142.70" y1="176.30" x2="142.70" y2="177.60" stroke="#444" stroke-width="0.45" />
<line x1="144.60" y1="176.30" x2="144.60" y2="177.60" stroke="#444" stroke-width="0.45" />
<line x1="146.50" y1="176.30" x2="146.50" y2="177.60" stroke="#444" stroke-width="0.45" />
<line x1="148.40" y1="176.30" x2="148.40" y2="177.60" stroke="#444" stroke-width="0.45" />
<line x1="150.30" y1="176.30" x2="150.30" y2="177.60" stroke="#444" stroke-width="0.45" />
<line x1="152.20" y1="176.30" x2="152.20" y2="177.60" stroke="#444" stroke-width="0.45" />
<line x1="154.10" y1="176.30" x2="154.10" y2="177.60" stroke="#444" stroke-width="0.45" />
<line x1="156.00" y1="176.30" x2="156.00" y2="177.60" stroke="#444" stroke-width="0.45" />
<line x1="157.90" y1="176.30" x2="157.90" y2="177.60" stroke="#444" stroke-width="0.45" />
<line x1="159.80" y1="176.30" x2="159.80" y2="177.60" stroke="#444" stroke-width="0.45" />
<line x1="161.70" y1="176.30" x2="161.70" y2="177.60" stroke="#444" stroke-width="0.45" />
<line x1="163.60" y1="176.30" x2="163.60" y2="177.60" stroke="#444" stroke-width="0.45" />
<line x1="165.50" y1="176.30" x2="165.50" y2="177.60" stroke="#444" stroke-width="0.45" />
<line x1="167.40" y1="176.30" x2="167.40" y2="177.60" stroke="#444" stroke-width="0.45" />
<line x1="169.30" y1="176.30" x2="169.30" y2="177.60" stroke="#444" stroke-width="0.45" />
<line x1="171.20" y1="176.30" x2="171.20" y2="177.60" stroke="#444" stroke-width="0.45" />
<line x1="173.10" y1="176.30" x2="173.10" y2="177.60" stroke="#444" stroke-width="0.45" />
<line x1="175.00" y1="176.30" x2="175.00" y2="177.60" stroke="#444" stroke-width="0.45" />
<line x1="176.90" y1="176.30" x2="176.90" y2="177.60" stroke="#444" stroke-width="0.45" />
<line x1="178.80" y1="176.30" x2="178.80" y2="177.60" stroke="#444" stroke-width="0.45" />
<line x1="180.70" y1="176.30" x2="180.70" y2="177.60" stroke="#444" stroke-width="0.45" />
<line x1="182.60" y1="176.30" x2="182.60" y2="177.60" stroke="#444" stroke-width="0.45" />
<line x1="184.50" y1="176.30" x2="184.50" y2="177.60" stroke="#444" stroke-width="0.45" />
<line x1="186.40" y1="176.30" x2="186.40" y2="177.60" stroke="#444" stroke-width="0.45" />
<line x1="188.30" y1="176.30" x2="188.30" y2="177.60" stroke="#444" stroke-width="0.45" />
<line x1="190.20" y1="176.30" x2="190.20" y2="177.60" stroke="#444" stroke-width="0.45" />
<line x1="192.10" y1="176.30" x2="192.10" y2="177.60" stroke="#444" stroke-width="0.45" />
<line x1="194.00" y1="176.30" x2="194.00" y2="177.60" stroke="#444" stroke-width="0.45" />
<line x1="195.90" y1="176.30" x2="195.90" y2="177.60" stroke="#444" stroke-width="0.45" />
<line x1="136.80" y1="119.80" x2="139.60" y2="119.80" stroke="#333" stroke-width="0.6" />
<text x="134.0" y="121.7" font-size="6.0" text-anchor="end" fill="#333" stroke="#333" stroke-width="0.1" font-weight="normal" >1.0K</text>
<line x1="136.80" y1="131.10" x2="139.60" y2="131.10" stroke="#333" stroke-width="0.6" />
<text x="134.0" y="133.0" font-size="6.0" text-anchor="end" fill="#333" stroke="#333" stroke-width="0.1" font-weight="normal" >800</text>
<line x1="136.80" y1="142.40" x2="139.60" y2="142.40" stroke="#333" stroke-width="0.6" />
<text x="134.0" y="144.3" font-size="6.0" text-anchor="end" fill="#333" stroke="#333" stroke-width="0.1" font-weight="normal" >600</text>
<line x1="136.80" y1="153.70" x2="139.60" y2="153.70" stroke="#333" stroke-width="0.6" />
<text x="134.0" y="155.6" font-size="6.0" text-anchor="end" fill="#333" stroke="#333" stroke-width="0.1" font-weight="normal" >400</text>
<line x1="136.80" y1="165.00" x2="139.60" y2="165.00" stroke="#333" stroke-width="0.6" />
<text x="134.0" y="166.9" font-size="6.0" text-anchor="end" fill="#333" stroke="#333" stroke-width="0.1" font-weight="normal" >200</text>
<line x1="136.80" y1="176.30" x2="139.60" y2="176.30" stroke="#333" stroke-width="0.6" />
<text x="134.0" y="178.2" font-size="6.0" text-anchor="end" fill="#333" stroke="#333" stroke-width="0.1" font-weight="normal" >0</text>
<text x="138.9" y="186.9" font-size="5.6" text-anchor="middle" fill="#333" stroke="#333" stroke-width="0.1" font-weight="normal" >10<tspan dy="-2.0" font-size="3.8">-2</tspan></text>
<text x="150.0" y="186.9" font-size="5.6" text-anchor="middle" fill="#333" stroke="#333" stroke-width="0.1" font-weight="normal" >10<tspan dy="-2.0" font-size="3.8">-1</tspan></text>
<text x="161.2" y="186.9" font-size="5.6" text-anchor="middle" fill="#333" stroke="#333" stroke-width="0.1" font-weight="normal" >10<tspan dy="-2.0" font-size="3.8">0</tspan></text>
<text x="172.6" y="186.9" font-size="5.6" text-anchor="middle" fill="#333" stroke="#333" stroke-width="0.1" font-weight="normal" >10<tspan dy="-2.0" font-size="3.8">1</tspan></text>
<text x="184.1" y="186.9" font-size="5.6" text-anchor="middle" fill="#333" stroke="#333" stroke-width="0.1" font-weight="normal" >10<tspan dy="-2.0" font-size="3.8">2</tspan></text>
<text x="194.5" y="186.9" font-size="5.6" text-anchor="middle" fill="#333" stroke="#333" stroke-width="0.1" font-weight="normal" >10<tspan dy="-2.0" font-size="3.8">3</tspan></text>
<text x="117.6" y="148.4" font-size="8.2" text-anchor="middle" fill="#333" stroke="#333" stroke-width="0.25" font-weight="normal" textLength="38.5" lengthAdjust="spacingAndGlyphs" transform="rotate(-90 117.6 148.4)">SSC-A :: SSC-A</text>
<text x="168.0" y="199.4" font-size="8.6" text-anchor="middle" fill="#333" stroke="#333" stroke-width="0.25" font-weight="normal" textLength="45.6" lengthAdjust="spacingAndGlyphs">B2-A :: CD38 PE-A</text>
<text x="167.8" y="128.7" font-size="6.2" text-anchor="middle" fill="#333" stroke="#333" stroke-width="0.1" font-weight="normal" >MV4-11</text>
<path d="M265.6 173.2h0.8v0.8h-0.8zM262.7 170.4h0.8v0.8h-0.8zM247.5 168.8h0.8v0.8h-0.8zM254.2 167.2h0.8v0.8h-0.8zM269.3 168.4h0.8v0.8h-0.8zM257.2 172.0h0.8v0.8h-0.8zM257.1 170.9h0.8v0.8h-0.8zM258.8 171.0h0.8v0.8h-0.8zM263.0 163.6h0.8v0.8h-0.8zM266.5 166.5h0.8v0.8h-0.8zM259.9 166.8h0.8v0.8h-0.8zM275.0 167.2h0.8v0.8h-0.8zM257.8 165.6h0.8v0.8h-0.8zM258.6 171.2h0.8v0.8h-0.8zM260.7 172.4h0.8v0.8h-0.8zM263.4 174.8h0.8v0.8h-0.8zM273.2 167.3h0.8v0.8h-0.8zM280.0 168.7h0.8v0.8h-0.8zM259.5 169.3h0.8v0.8h-0.8zM260.8 169.0h0.8v0.8h-0.8zM267.0 166.3h0.8v0.8h-0.8zM261.2 171.5h0.8v0.8h-0.8zM268.7 162.5h0.8v0.8h-0.8zM254.0 167.4h0.8v0.8h-0.8zM268.6 162.9h0.8v0.8h-0.8zM266.1 164.5h0.8v0.8h-0.8zM267.2 165.3h0.8v0.8h-0.8zM281.1 168.9h0.8v0.8h-0.8zM255.2 165.7h0.8v0.8h-0.8zM267.4 169.8h0.8v0.8h-0.8zM267.1 167.7h0.8v0.8h-0.8zM264.1 165.1h0.8v0.8h-0.8zM255.7 166.4h0.8v0.8h-0.8zM253.2 170.8h0.8v0.8h-0.8zM250.6 169.4h0.8v0.8h-0.8zM260.4 170.4h0.8v0.8h-0.8zM254.1 168.1h0.8v0.8h-0.8zM246.2 172.0h0.8v0.8h-0.8zM264.3 170.1h0.8v0.8h-0.8zM249.0 173.2h0.8v0.8h-0.8zM267.4 164.7h0.8v0.8h-0.8zM263.9 169.8h0.8v0.8h-0.8zM255.7 168.3h0.8v0.8h-0.8zM249.9 170.3h0.8v0.8h-0.8zM255.1 166.0h0.8v0.8h-0.8zM251.7 171.6h0.8v0.8h-0.8zM259.1 164.7h0.8v0.8h-0.8zM259.2 171.8h0.8v0.8h-0.8zM281.0 170.7h0.8v0.8h-0.8zM257.5 170.3h0.8v0.8h-0.8zM266.3 162.8h0.8v0.8h-0.8zM269.9 170.8h0.8v0.8h-0.8zM272.4 163.9h0.8v0.8h-0.8zM254.5 168.8h0.8v0.8h-0.8zM268.2 168.1h0.8v0.8h-0.8zM260.3 163.1h0.8v0.8h-0.8zM268.6 170.6h0.8v0.8h-0.8zM267.5 167.4h0.8v0.8h-0.8zM251.1 172.5h0.8v0.8h-0.8zM255.6 168.8h0.8v0.8h-0.8zM256.2 169.6h0.8v0.8h-0.8zM251.3 174.7h0.8v0.8h-0.8zM264.1 170.1h0.8v0.8h-0.8zM256.1 169.3h0.8v0.8h-0.8zM266.6 170.7h0.8v0.8h-0.8zM261.1 166.6h0.8v0.8h-0.8zM259.4 166.9h0.8v0.8h-0.8zM275.7 174.3h0.8v0.8h-0.8zM271.0 168.4h0.8v0.8h-0.8zM251.7 165.3h0.8v0.8h-0.8zM272.7 170.7h0.8v0.8h-0.8zM267.9 166.3h0.8v0.8h-0.8zM272.3 169.3h0.8v0.8h-0.8zM265.5 172.7h0.8v0.8h-0.8zM248.0 173.2h0.8v0.8h-0.8zM259.1 174.9h0.8v0.8h-0.8zM251.1 171.2h0.8v0.8h-0.8zM256.6 170.8h0.8v0.8h-0.8zM271.8 170.0h0.8v0.8h-0.8zM262.3 169.0h0.8v0.8h-0.8zM267.7 168.8h0.8v0.8h-0.8zM254.9 174.5h0.8v0.8h-0.8zM270.6 168.7h0.8v0.8h-0.8zM263.7 173.0h0.8v0.8h-0.8zM254.5 160.0h0.8v0.8h-0.8zM257.5 169.6h0.8v0.8h-0.8zM260.1 167.1h0.8v0.8h-0.8zM266.7 174.2h0.8v0.8h-0.8zM273.0 174.0h0.8v0.8h-0.8zM259.6 167.1h0.8v0.8h-0.8zM260.2 168.9h0.8v0.8h-0.8zM276.0 172.1h0.8v0.8h-0.8zM286.9 170.1h0.8v0.8h-0.8zM276.0 169.5h0.8v0.8h-0.8zM263.5 172.3h0.8v0.8h-0.8zM259.2 165.0h0.8v0.8h-0.8zM267.3 174.4h0.8v0.8h-0.8zM264.3 170.6h0.8v0.8h-0.8zM255.8 159.9h0.8v0.8h-0.8zM272.6 166.3h0.8v0.8h-0.8zM281.8 169.0h0.8v0.8h-0.8zM255.8 169.2h0.8v0.8h-0.8zM258.0 164.4h0.8v0.8h-0.8zM252.1 173.6h0.8v0.8h-0.8zM268.3 170.5h0.8v0.8h-0.8zM250.7 169.3h0.8v0.8h-0.8zM267.2 172.6h0.8v0.8h-0.8zM265.1 168.0h0.8v0.8h-0.8zM267.8 168.9h0.8v0.8h-0.8zM250.4 172.5h0.8v0.8h-0.8zM263.1 170.7h0.8v0.8h-0.8zM264.1 172.4h0.8v0.8h-0.8zM268.9 168.1h0.8v0.8h-0.8zM264.9 174.7h0.8v0.8h-0.8zM257.4 164.8h0.8v0.8h-0.8zM270.9 164.9h0.8v0.8h-0.8zM272.8 171.0h0.8v0.8h-0.8zM272.6 168.4h0.8v0.8h-0.8zM256.1 170.0h0.8v0.8h-0.8zM266.1 169.5h0.8v0.8h-0.8zM254.8 168.9h0.8v0.8h-0.8zM260.6 166.0h0.8v0.8h-0.8zM267.9 170.4h0.8v0.8h-0.8zM250.7 173.6h0.8v0.8h-0.8zM283.8 166.7h0.8v0.8h-0.8zM255.9 174.4h0.8v0.8h-0.8zM257.5 166.7h0.8v0.8h-0.8zM261.4 172.0h0.8v0.8h-0.8zM260.9 165.9h0.8v0.8h-0.8zM252.4 169.0h0.8v0.8h-0.8zM260.9 165.9h0.8v0.8h-0.8zM249.8 167.7h0.8v0.8h-0.8zM257.1 163.5h0.8v0.8h-0.8zM276.1 168.9h0.8v0.8h-0.8zM261.5 166.0h0.8v0.8h-0.8zM258.9 166.5h0.8v0.8h-0.8zM274.3 163.1h0.8v0.8h-0.8zM264.5 169.5h0.8v0.8h-0.8zM257.5 168.2h0.8v0.8h-0.8zM270.6 168.9h0.8v0.8h-0.8zM259.4 165.8h0.8v0.8h-0.8zM268.9 167.9h0.8v0.8h-0.8zM267.0 166.7h0.8v0.8h-0.8zM275.6 164.4h0.8v0.8h-0.8zM269.8 166.5h0.8v0.8h-0.8zM261.8 167.7h0.8v0.8h-0.8zM253.6 170.4h0.8v0.8h-0.8zM259.6 168.3h0.8v0.8h-0.8zM256.5 170.3h0.8v0.8h-0.8zM274.1 173.5h0.8v0.8h-0.8zM258.5 172.3h0.8v0.8h-0.8zM265.0 163.7h0.8v0.8h-0.8zM268.4 168.8h0.8v0.8h-0.8zM254.7 169.6h0.8v0.8h-0.8zM267.6 172.5h0.8v0.8h-0.8zM251.5 169.8h0.8v0.8h-0.8zM260.7 168.3h0.8v0.8h-0.8zM264.4 171.5h0.8v0.8h-0.8zM265.3 166.4h0.8v0.8h-0.8zM256.6 166.1h0.8v0.8h-0.8zM268.3 168.4h0.8v0.8h-0.8zM258.0 170.0h0.8v0.8h-0.8zM262.9 171.5h0.8v0.8h-0.8zM273.2 159.2h0.8v0.8h-0.8zM254.7 172.9h0.8v0.8h-0.8zM262.5 174.1h0.8v0.8h-0.8zM274.6 173.6h0.8v0.8h-0.8zM271.9 172.0h0.8v0.8h-0.8zM256.6 168.9h0.8v0.8h-0.8zM257.0 171.1h0.8v0.8h-0.8zM266.3 173.4h0.8v0.8h-0.8zM256.8 166.2h0.8v0.8h-0.8zM262.5 171.4h0.8v0.8h-0.8zM251.1 170.9h0.8v0.8h-0.8zM267.0 168.8h0.8v0.8h-0.8zM263.0 167.1h0.8v0.8h-0.8zM267.5 166.1h0.8v0.8h-0.8zM256.6 169.1h0.8v0.8h-0.8zM249.5 167.3h0.8v0.8h-0.8zM251.9 173.6h0.8v0.8h-0.8zM246.7 163.9h0.8v0.8h-0.8zM276.2 165.1h0.8v0.8h-0.8zM246.6 170.3h0.8v0.8h-0.8zM251.7 171.6h0.8v0.8h-0.8zM264.6 165.5h0.8v0.8h-0.8zM262.3 173.4h0.8v0.8h-0.8zM270.1 163.1h0.8v0.8h-0.8z" fill="#8fb0d0" fill-opacity="0.45"/>
<path d="M275.5 164.1h0.9v0.9h-0.9zM260.4 168.1h0.9v0.9h-0.9zM259.5 170.5h0.9v0.9h-0.9zM261.8 171.9h0.9v0.9h-0.9zM287.7 162.1h0.9v0.9h-0.9zM272.5 169.0h0.9v0.9h-0.9zM279.4 165.6h0.9v0.9h-0.9zM275.4 175.4h0.9v0.9h-0.9zM261.1 168.3h0.9v0.9h-0.9zM280.9 171.3h0.9v0.9h-0.9zM277.1 173.7h0.9v0.9h-0.9zM276.0 167.5h0.9v0.9h-0.9zM269.0 164.3h0.9v0.9h-0.9zM277.5 163.5h0.9v0.9h-0.9zM252.7 171.1h0.9v0.9h-0.9zM283.5 173.1h0.9v0.9h-0.9zM284.4 169.1h0.9v0.9h-0.9zM287.5 168.6h0.9v0.9h-0.9zM285.5 174.2h0.9v0.9h-0.9zM282.1 170.2h0.9v0.9h-0.9zM284.0 174.9h0.9v0.9h-0.9zM281.4 170.3h0.9v0.9h-0.9zM274.5 165.9h0.9v0.9h-0.9zM264.8 167.6h0.9v0.9h-0.9zM269.3 172.0h0.9v0.9h-0.9zM272.5 169.0h0.9v0.9h-0.9zM265.4 169.8h0.9v0.9h-0.9zM266.5 166.2h0.9v0.9h-0.9zM274.5 170.9h0.9v0.9h-0.9zM272.1 172.8h0.9v0.9h-0.9zM269.0 171.5h0.9v0.9h-0.9zM271.1 168.0h0.9v0.9h-0.9zM285.7 168.8h0.9v0.9h-0.9zM284.7 171.6h0.9v0.9h-0.9zM271.4 164.2h0.9v0.9h-0.9zM266.7 167.1h0.9v0.9h-0.9zM280.1 167.4h0.9v0.9h-0.9zM276.8 170.3h0.9v0.9h-0.9zM262.3 166.3h0.9v0.9h-0.9zM269.6 165.5h0.9v0.9h-0.9zM286.2 167.8h0.9v0.9h-0.9zM279.5 175.1h0.9v0.9h-0.9zM254.3 170.9h0.9v0.9h-0.9zM279.3 164.3h0.9v0.9h-0.9zM273.9 167.2h0.9v0.9h-0.9zM275.7 168.6h0.9v0.9h-0.9zM280.1 162.8h0.9v0.9h-0.9zM279.1 170.4h0.9v0.9h-0.9zM269.2 169.3h0.9v0.9h-0.9zM285.2 170.8h0.9v0.9h-0.9zM259.5 168.6h0.9v0.9h-0.9zM273.8 169.8h0.9v0.9h-0.9zM268.0 174.1h0.9v0.9h-0.9zM261.1 166.2h0.9v0.9h-0.9zM282.5 168.6h0.9v0.9h-0.9zM278.7 162.0h0.9v0.9h-0.9zM265.7 171.6h0.9v0.9h-0.9zM273.7 169.7h0.9v0.9h-0.9zM284.6 163.9h0.9v0.9h-0.9zM277.8 170.8h0.9v0.9h-0.9zM286.6 171.5h0.9v0.9h-0.9zM272.6 171.0h0.9v0.9h-0.9zM270.5 171.8h0.9v0.9h-0.9zM263.3 165.9h0.9v0.9h-0.9zM277.9 168.7h0.9v0.9h-0.9zM280.1 167.4h0.9v0.9h-0.9zM272.7 165.5h0.9v0.9h-0.9zM289.2 167.1h0.9v0.9h-0.9zM269.6 163.7h0.9v0.9h-0.9zM274.9 171.6h0.9v0.9h-0.9zM278.3 168.1h0.9v0.9h-0.9zM257.6 172.6h0.9v0.9h-0.9zM264.3 167.0h0.9v0.9h-0.9zM267.7 166.8h0.9v0.9h-0.9zM282.0 171.9h0.9v0.9h-0.9zM269.0 166.3h0.9v0.9h-0.9zM262.8 168.3h0.9v0.9h-0.9zM254.7 169.6h0.9v0.9h-0.9z" fill="#5d83b3" fill-opacity="0.5"/>
<path d="M285.8 174.6h0.9v0.9h-0.9zM253.7 173.5h0.9v0.9h-0.9zM265.4 174.6h0.9v0.9h-0.9zM277.4 164.4h0.9v0.9h-0.9zM253.6 170.1h0.9v0.9h-0.9zM272.4 168.0h0.9v0.9h-0.9zM279.3 169.7h0.9v0.9h-0.9zM257.6 172.1h0.9v0.9h-0.9zM274.2 165.0h0.9v0.9h-0.9zM283.1 173.9h0.9v0.9h-0.9zM289.7 163.9h0.9v0.9h-0.9zM282.5 166.2h0.9v0.9h-0.9zM272.2 170.6h0.9v0.9h-0.9zM285.4 171.5h0.9v0.9h-0.9zM272.9 164.6h0.9v0.9h-0.9zM270.3 171.1h0.9v0.9h-0.9zM277.3 163.0h0.9v0.9h-0.9zM261.6 173.3h0.9v0.9h-0.9zM281.6 170.2h0.9v0.9h-0.9zM284.5 169.0h0.9v0.9h-0.9zM285.3 173.7h0.9v0.9h-0.9zM278.7 165.2h0.9v0.9h-0.9zM288.8 164.2h0.9v0.9h-0.9zM271.1 166.1h0.9v0.9h-0.9zM268.2 174.4h0.9v0.9h-0.9zM280.5 173.4h0.9v0.9h-0.9zM282.6 168.2h0.9v0.9h-0.9zM259.8 168.2h0.9v0.9h-0.9zM278.6 169.2h0.9v0.9h-0.9zM284.5 171.4h0.9v0.9h-0.9zM270.2 172.0h0.9v0.9h-0.9zM262.1 168.7h0.9v0.9h-0.9zM261.1 172.3h0.9v0.9h-0.9zM255.8 170.0h0.9v0.9h-0.9zM287.1 174.7h0.9v0.9h-0.9zM253.5 173.2h0.9v0.9h-0.9zM257.5 172.1h0.9v0.9h-0.9zM271.2 172.7h0.9v0.9h-0.9zM276.9 164.8h0.9v0.9h-0.9zM268.8 166.4h0.9v0.9h-0.9zM262.9 170.1h0.9v0.9h-0.9zM261.9 169.4h0.9v0.9h-0.9zM274.6 167.5h0.9v0.9h-0.9zM288.2 165.3h0.9v0.9h-0.9zM262.9 170.2h0.9v0.9h-0.9zM259.5 171.1h0.9v0.9h-0.9zM265.3 172.8h0.9v0.9h-0.9zM276.1 166.7h0.9v0.9h-0.9zM283.7 161.6h0.9v0.9h-0.9zM272.4 172.7h0.9v0.9h-0.9zM268.9 173.5h0.9v0.9h-0.9zM282.6 174.4h0.9v0.9h-0.9zM251.9 173.0h0.9v0.9h-0.9zM265.1 169.3h0.9v0.9h-0.9zM253.2 171.7h0.9v0.9h-0.9zM282.2 167.5h0.9v0.9h-0.9zM258.5 169.8h0.9v0.9h-0.9zM251.4 174.4h0.9v0.9h-0.9zM281.2 168.4h0.9v0.9h-0.9zM264.4 167.2h0.9v0.9h-0.9zM282.2 172.6h0.9v0.9h-0.9zM264.1 173.0h0.9v0.9h-0.9zM271.1 163.9h0.9v0.9h-0.9zM286.0 166.2h0.9v0.9h-0.9zM278.0 169.3h0.9v0.9h-0.9zM274.9 167.3h0.9v0.9h-0.9zM281.1 171.5h0.9v0.9h-0.9zM266.2 168.5h0.9v0.9h-0.9zM275.9 163.8h0.9v0.9h-0.9zM264.3 168.4h0.9v0.9h-0.9z" fill="#8aa3c7" fill-opacity="0.5"/>
<path d="M262.9 173.9h0.9v0.9h-0.9zM271.9 170.6h0.9v0.9h-0.9zM254.2 170.0h0.9v0.9h-0.9zM262.6 171.2h0.9v0.9h-0.9zM252.6 171.9h0.9v0.9h-0.9zM277.1 165.3h0.9v0.9h-0.9zM284.5 163.3h0.9v0.9h-0.9zM279.4 171.5h0.9v0.9h-0.9zM282.5 171.1h0.9v0.9h-0.9zM283.7 170.9h0.9v0.9h-0.9zM280.4 169.4h0.9v0.9h-0.9zM277.6 170.7h0.9v0.9h-0.9zM282.2 171.3h0.9v0.9h-0.9zM279.1 168.0h0.9v0.9h-0.9zM283.5 172.9h0.9v0.9h-0.9zM285.0 171.5h0.9v0.9h-0.9zM264.9 166.1h0.9v0.9h-0.9zM287.0 170.1h0.9v0.9h-0.9zM261.9 169.9h0.9v0.9h-0.9zM280.2 167.4h0.9v0.9h-0.9zM267.4 166.2h0.9v0.9h-0.9zM283.3 164.9h0.9v0.9h-0.9zM271.2 172.2h0.9v0.9h-0.9zM273.7 163.5h0.9v0.9h-0.9zM264.5 168.8h0.9v0.9h-0.9zM284.9 166.6h0.9v0.9h-0.9zM267.9 167.6h0.9v0.9h-0.9zM288.2 169.1h0.9v0.9h-0.9zM267.8 165.7h0.9v0.9h-0.9zM279.7 169.1h0.9v0.9h-0.9zM289.5 169.3h0.9v0.9h-0.9zM283.6 170.3h0.9v0.9h-0.9zM285.8 171.5h0.9v0.9h-0.9zM265.1 167.7h0.9v0.9h-0.9zM278.3 170.0h0.9v0.9h-0.9zM288.5 170.5h0.9v0.9h-0.9zM274.8 172.4h0.9v0.9h-0.9zM288.4 164.7h0.9v0.9h-0.9zM288.7 169.0h0.9v0.9h-0.9zM283.0 165.5h0.9v0.9h-0.9zM267.8 173.9h0.9v0.9h-0.9zM285.0 171.3h0.9v0.9h-0.9zM273.0 167.0h0.9v0.9h-0.9zM259.6 171.5h0.9v0.9h-0.9zM277.5 167.5h0.9v0.9h-0.9zM275.5 167.9h0.9v0.9h-0.9zM264.4 165.8h0.9v0.9h-0.9zM280.3 170.8h0.9v0.9h-0.9zM281.1 171.1h0.9v0.9h-0.9zM271.8 168.6h0.9v0.9h-0.9zM271.8 165.8h0.9v0.9h-0.9zM255.2 172.4h0.9v0.9h-0.9zM259.0 170.3h0.9v0.9h-0.9zM280.9 166.4h0.9v0.9h-0.9zM263.3 168.7h0.9v0.9h-0.9zM287.3 162.0h0.9v0.9h-0.9zM289.5 169.8h0.9v0.9h-0.9zM256.6 170.3h0.9v0.9h-0.9zM281.1 167.1h0.9v0.9h-0.9zM273.9 166.6h0.9v0.9h-0.9zM287.1 167.1h0.9v0.9h-0.9zM286.2 172.3h0.9v0.9h-0.9zM285.4 163.3h0.9v0.9h-0.9zM278.4 174.4h0.9v0.9h-0.9zM282.4 165.5h0.9v0.9h-0.9zM276.3 164.2h0.9v0.9h-0.9zM276.1 170.5h0.9v0.9h-0.9zM277.1 166.2h0.9v0.9h-0.9zM281.2 161.9h0.9v0.9h-0.9zM284.2 162.5h0.9v0.9h-0.9zM288.0 171.7h0.9v0.9h-0.9zM279.7 164.6h0.9v0.9h-0.9z" fill="#3a70a5" fill-opacity="0.5"/>
<path d="M258 174 Q268 170.5 277 167 Q284 163.5 288.5 159.6 L289.6 165 Q288 172.5 281 174.3 Z" fill="url(#gBh)" filter="url(#bl)"/>
<path d="M289.0 164.4h0.9v0.9h-0.9zM287.8 169.3h0.9v0.9h-0.9zM287.9 161.0h0.9v0.9h-0.9zM279.9 174.6h0.9v0.9h-0.9zM285.0 165.9h0.9v0.9h-0.9zM284.2 168.6h0.9v0.9h-0.9zM264.2 174.6h0.9v0.9h-0.9zM283.8 165.1h0.9v0.9h-0.9zM285.3 163.9h0.9v0.9h-0.9zM277.2 173.8h0.9v0.9h-0.9zM277.0 173.4h0.9v0.9h-0.9zM282.2 170.0h0.9v0.9h-0.9zM275.4 168.6h0.9v0.9h-0.9zM271.7 171.5h0.9v0.9h-0.9zM276.3 167.9h0.9v0.9h-0.9zM286.6 170.7h0.9v0.9h-0.9zM286.6 168.3h0.9v0.9h-0.9zM272.8 174.2h0.9v0.9h-0.9zM287.5 161.8h0.9v0.9h-0.9zM282.9 168.1h0.9v0.9h-0.9zM274.1 172.0h0.9v0.9h-0.9zM264.7 172.5h0.9v0.9h-0.9zM281.3 169.8h0.9v0.9h-0.9zM285.7 173.2h0.9v0.9h-0.9zM278.3 174.6h0.9v0.9h-0.9zM273.2 170.3h0.9v0.9h-0.9zM273.0 173.4h0.9v0.9h-0.9zM287.0 164.1h0.9v0.9h-0.9zM275.9 171.1h0.9v0.9h-0.9zM275.5 171.9h0.9v0.9h-0.9zM279.9 168.6h0.9v0.9h-0.9zM288.6 166.3h0.9v0.9h-0.9zM281.5 170.7h0.9v0.9h-0.9zM285.3 170.8h0.9v0.9h-0.9zM280.6 174.1h0.9v0.9h-0.9zM278.9 174.2h0.9v0.9h-0.9zM285.2 173.5h0.9v0.9h-0.9zM265.6 172.5h0.9v0.9h-0.9zM279.0 169.1h0.9v0.9h-0.9zM285.5 171.7h0.9v0.9h-0.9zM271.4 172.3h0.9v0.9h-0.9zM274.2 174.1h0.9v0.9h-0.9zM277.0 173.5h0.9v0.9h-0.9zM286.2 165.3h0.9v0.9h-0.9zM274.0 170.1h0.9v0.9h-0.9zM271.6 172.7h0.9v0.9h-0.9zM269.0 173.1h0.9v0.9h-0.9zM283.6 174.3h0.9v0.9h-0.9zM273.5 173.4h0.9v0.9h-0.9zM270.3 173.8h0.9v0.9h-0.9zM285.8 171.9h0.9v0.9h-0.9zM267.6 173.1h0.9v0.9h-0.9zM281.0 165.2h0.9v0.9h-0.9zM285.9 168.8h0.9v0.9h-0.9zM270.1 170.1h0.9v0.9h-0.9zM285.0 164.6h0.9v0.9h-0.9zM290.0 163.6h0.9v0.9h-0.9zM288.3 169.2h0.9v0.9h-0.9zM286.3 166.7h0.9v0.9h-0.9zM277.9 171.0h0.9v0.9h-0.9zM273.4 173.3h0.9v0.9h-0.9zM282.5 172.7h0.9v0.9h-0.9zM281.2 168.2h0.9v0.9h-0.9zM286.2 165.0h0.9v0.9h-0.9zM273.2 172.1h0.9v0.9h-0.9zM283.7 163.8h0.9v0.9h-0.9zM287.9 167.6h0.9v0.9h-0.9zM265.9 173.3h0.9v0.9h-0.9zM287.4 170.2h0.9v0.9h-0.9z" fill="#1b5e91" fill-opacity="0.55"/>
<path d="M286.1 167.3h0.9v0.9h-0.9zM281.7 168.6h0.9v0.9h-0.9zM286.5 163.1h0.9v0.9h-0.9zM283.3 174.2h0.9v0.9h-0.9zM271.2 173.9h0.9v0.9h-0.9zM288.6 163.1h0.9v0.9h-0.9zM286.1 172.8h0.9v0.9h-0.9zM284.9 165.3h0.9v0.9h-0.9zM280.0 169.9h0.9v0.9h-0.9zM274.8 173.0h0.9v0.9h-0.9zM280.3 173.3h0.9v0.9h-0.9zM278.7 168.7h0.9v0.9h-0.9zM280.7 167.9h0.9v0.9h-0.9zM279.2 173.0h0.9v0.9h-0.9zM279.0 168.8h0.9v0.9h-0.9zM281.6 173.4h0.9v0.9h-0.9zM266.9 172.1h0.9v0.9h-0.9zM286.4 166.3h0.9v0.9h-0.9zM287.0 162.4h0.9v0.9h-0.9zM284.6 171.0h0.9v0.9h-0.9zM272.4 174.4h0.9v0.9h-0.9zM273.4 171.9h0.9v0.9h-0.9zM289.5 164.2h0.9v0.9h-0.9zM288.2 166.7h0.9v0.9h-0.9zM289.0 165.2h0.9v0.9h-0.9zM275.3 167.9h0.9v0.9h-0.9zM280.3 173.7h0.9v0.9h-0.9zM280.0 172.5h0.9v0.9h-0.9zM274.1 170.1h0.9v0.9h-0.9zM282.9 166.2h0.9v0.9h-0.9zM275.4 169.7h0.9v0.9h-0.9zM271.9 169.0h0.9v0.9h-0.9zM279.1 172.3h0.9v0.9h-0.9zM277.4 172.3h0.9v0.9h-0.9zM273.4 170.7h0.9v0.9h-0.9zM283.6 163.6h0.9v0.9h-0.9zM280.9 165.9h0.9v0.9h-0.9zM267.4 172.2h0.9v0.9h-0.9zM288.6 162.8h0.9v0.9h-0.9zM269.5 172.6h0.9v0.9h-0.9zM272.9 170.1h0.9v0.9h-0.9zM265.7 174.0h0.9v0.9h-0.9zM268.4 172.7h0.9v0.9h-0.9zM288.2 162.5h0.9v0.9h-0.9zM268.4 171.7h0.9v0.9h-0.9zM282.5 166.2h0.9v0.9h-0.9zM285.9 166.1h0.9v0.9h-0.9zM266.7 171.6h0.9v0.9h-0.9zM286.1 169.3h0.9v0.9h-0.9zM288.6 168.8h0.9v0.9h-0.9zM273.6 174.3h0.9v0.9h-0.9zM285.5 172.5h0.9v0.9h-0.9zM287.7 168.1h0.9v0.9h-0.9zM279.3 167.9h0.9v0.9h-0.9zM276.7 171.4h0.9v0.9h-0.9zM285.3 168.3h0.9v0.9h-0.9zM290.0 167.8h0.9v0.9h-0.9zM278.5 171.4h0.9v0.9h-0.9zM279.6 170.8h0.9v0.9h-0.9zM281.4 174.0h0.9v0.9h-0.9zM277.2 172.8h0.9v0.9h-0.9zM288.0 161.6h0.9v0.9h-0.9zM276.6 172.2h0.9v0.9h-0.9zM287.5 159.8h0.9v0.9h-0.9zM269.6 174.6h0.9v0.9h-0.9zM271.0 171.5h0.9v0.9h-0.9zM273.8 174.3h0.9v0.9h-0.9zM283.2 166.0h0.9v0.9h-0.9zM288.7 166.9h0.9v0.9h-0.9zM284.5 166.1h0.9v0.9h-0.9zM282.7 166.5h0.9v0.9h-0.9zM265.8 173.5h0.9v0.9h-0.9z" fill="#2f6ea5" fill-opacity="0.55"/>
<path d="M288.2 163.0h0.9v0.9h-0.9zM283.8 167.2h0.9v0.9h-0.9zM284.5 165.0h0.9v0.9h-0.9zM280.9 170.4h0.9v0.9h-0.9zM275.4 171.7h0.9v0.9h-0.9zM275.5 173.1h0.9v0.9h-0.9zM282.2 171.1h0.9v0.9h-0.9zM272.7 173.5h0.9v0.9h-0.9zM285.0 164.1h0.9v0.9h-0.9zM286.9 167.5h0.9v0.9h-0.9zM268.0 174.2h0.9v0.9h-0.9zM282.5 164.5h0.9v0.9h-0.9zM284.4 163.4h0.9v0.9h-0.9zM274.3 173.3h0.9v0.9h-0.9zM283.4 174.0h0.9v0.9h-0.9zM274.0 170.1h0.9v0.9h-0.9zM271.2 172.8h0.9v0.9h-0.9zM270.5 172.3h0.9v0.9h-0.9zM277.0 170.0h0.9v0.9h-0.9zM284.8 166.9h0.9v0.9h-0.9zM278.4 167.3h0.9v0.9h-0.9zM285.3 170.1h0.9v0.9h-0.9zM283.6 167.8h0.9v0.9h-0.9zM282.9 170.8h0.9v0.9h-0.9zM272.7 169.7h0.9v0.9h-0.9zM287.4 172.5h0.9v0.9h-0.9zM284.7 170.2h0.9v0.9h-0.9zM275.5 172.6h0.9v0.9h-0.9zM285.1 163.2h0.9v0.9h-0.9zM283.4 162.9h0.9v0.9h-0.9zM274.5 173.4h0.9v0.9h-0.9zM277.3 168.9h0.9v0.9h-0.9zM280.6 172.0h0.9v0.9h-0.9zM289.0 164.8h0.9v0.9h-0.9zM270.1 170.9h0.9v0.9h-0.9zM272.7 170.8h0.9v0.9h-0.9zM279.6 171.3h0.9v0.9h-0.9zM286.5 166.9h0.9v0.9h-0.9zM276.9 168.3h0.9v0.9h-0.9zM285.5 172.4h0.9v0.9h-0.9zM270.7 172.7h0.9v0.9h-0.9zM288.1 164.4h0.9v0.9h-0.9zM282.7 165.9h0.9v0.9h-0.9zM269.2 172.9h0.9v0.9h-0.9zM282.0 166.4h0.9v0.9h-0.9zM274.3 174.8h0.9v0.9h-0.9zM281.6 170.5h0.9v0.9h-0.9zM266.8 174.4h0.9v0.9h-0.9zM273.8 173.1h0.9v0.9h-0.9zM274.8 173.9h0.9v0.9h-0.9zM268.1 172.3h0.9v0.9h-0.9zM274.4 171.2h0.9v0.9h-0.9zM275.2 171.0h0.9v0.9h-0.9zM272.5 172.4h0.9v0.9h-0.9zM270.7 170.8h0.9v0.9h-0.9zM284.0 171.4h0.9v0.9h-0.9zM279.2 168.3h0.9v0.9h-0.9zM272.7 170.1h0.9v0.9h-0.9zM272.3 173.8h0.9v0.9h-0.9zM273.8 172.6h0.9v0.9h-0.9zM288.3 165.2h0.9v0.9h-0.9zM268.2 173.4h0.9v0.9h-0.9zM281.5 172.9h0.9v0.9h-0.9zM273.9 168.1h0.9v0.9h-0.9zM279.5 169.5h0.9v0.9h-0.9zM279.5 172.7h0.9v0.9h-0.9zM268.6 172.4h0.9v0.9h-0.9zM278.7 167.6h0.9v0.9h-0.9zM289.0 166.2h0.9v0.9h-0.9zM286.1 172.1h0.9v0.9h-0.9zM270.4 173.8h0.9v0.9h-0.9zM287.5 167.2h0.9v0.9h-0.9zM284.6 165.5h0.9v0.9h-0.9zM285.5 170.3h0.9v0.9h-0.9zM273.0 169.6h0.9v0.9h-0.9zM286.4 165.8h0.9v0.9h-0.9zM285.1 162.8h0.9v0.9h-0.9zM286.5 173.4h0.9v0.9h-0.9zM277.1 170.2h0.9v0.9h-0.9z" fill="#1a4f86" fill-opacity="0.55"/>
<rect x="236.8" y="119.8" width="57.19999999999999" height="56.500000000000014" fill="none" stroke="#2a2a2a" stroke-width="1"/>
<line x1="235.50" y1="121.00" x2="236.80" y2="121.00" stroke="#444" stroke-width="0.45" />
<line x1="235.50" y1="122.90" x2="236.80" y2="122.90" stroke="#444" stroke-width="0.45" />
<line x1="235.50" y1="124.80" x2="236.80" y2="124.80" stroke="#444" stroke-width="0.45" />
<line x1="235.50" y1="126.70" x2="236.80" y2="126.70" stroke="#444" stroke-width="0.45" />
<line x1="235.50" y1="128.60" x2="236.80" y2="128.60" stroke="#444" stroke-width="0.45" />
<line x1="235.50" y1="130.50" x2="236.80" y2="130.50" stroke="#444" stroke-width="0.45" />
<line x1="235.50" y1="132.40" x2="236.80" y2="132.40" stroke="#444" stroke-width="0.45" />
<line x1="235.50" y1="134.30" x2="236.80" y2="134.30" stroke="#444" stroke-width="0.45" />
<line x1="235.50" y1="136.20" x2="236.80" y2="136.20" stroke="#444" stroke-width="0.45" />
<line x1="235.50" y1="138.10" x2="236.80" y2="138.10" stroke="#444" stroke-width="0.45" />
<line x1="235.50" y1="140.00" x2="236.80" y2="140.00" stroke="#444" stroke-width="0.45" />
<line x1="235.50" y1="141.90" x2="236.80" y2="141.90" stroke="#444" stroke-width="0.45" />
<line x1="235.50" y1="143.80" x2="236.80" y2="143.80" stroke="#444" stroke-width="0.45" />
<line x1="235.50" y1="145.70" x2="236.80" y2="145.70" stroke="#444" stroke-width="0.45" />
<line x1="235.50" y1="147.60" x2="236.80" y2="147.60" stroke="#444" stroke-width="0.45" />
<line x1="235.50" y1="149.50" x2="236.80" y2="149.50" stroke="#444" stroke-width="0.45" />
<line x1="235.50" y1="151.40" x2="236.80" y2="151.40" stroke="#444" stroke-width="0.45" />
<line x1="235.50" y1="153.30" x2="236.80" y2="153.30" stroke="#444" stroke-width="0.45" />
<line x1="235.50" y1="155.20" x2="236.80" y2="155.20" stroke="#444" stroke-width="0.45" />
<line x1="235.50" y1="157.10" x2="236.80" y2="157.10" stroke="#444" stroke-width="0.45" />
<line x1="235.50" y1="159.00" x2="236.80" y2="159.00" stroke="#444" stroke-width="0.45" />
<line x1="235.50" y1="160.90" x2="236.80" y2="160.90" stroke="#444" stroke-width="0.45" />
<line x1="235.50" y1="162.80" x2="236.80" y2="162.80" stroke="#444" stroke-width="0.45" />
<line x1="235.50" y1="164.70" x2="236.80" y2="164.70" stroke="#444" stroke-width="0.45" />
<line x1="235.50" y1="166.60" x2="236.80" y2="166.60" stroke="#444" stroke-width="0.45" />
<line x1="235.50" y1="168.50" x2="236.80" y2="168.50" stroke="#444" stroke-width="0.45" />
<line x1="235.50" y1="170.40" x2="236.80" y2="170.40" stroke="#444" stroke-width="0.45" />
<line x1="235.50" y1="172.30" x2="236.80" y2="172.30" stroke="#444" stroke-width="0.45" />
<line x1="235.50" y1="174.20" x2="236.80" y2="174.20" stroke="#444" stroke-width="0.45" />
<line x1="235.50" y1="176.10" x2="236.80" y2="176.10" stroke="#444" stroke-width="0.45" />
<line x1="238.00" y1="176.30" x2="238.00" y2="177.60" stroke="#444" stroke-width="0.45" />
<line x1="239.90" y1="176.30" x2="239.90" y2="177.60" stroke="#444" stroke-width="0.45" />
<line x1="241.80" y1="176.30" x2="241.80" y2="177.60" stroke="#444" stroke-width="0.45" />
<line x1="243.70" y1="176.30" x2="243.70" y2="177.60" stroke="#444" stroke-width="0.45" />
<line x1="245.60" y1="176.30" x2="245.60" y2="177.60" stroke="#444" stroke-width="0.45" />
<line x1="247.50" y1="176.30" x2="247.50" y2="177.60" stroke="#444" stroke-width="0.45" />
<line x1="249.40" y1="176.30" x2="249.40" y2="177.60" stroke="#444" stroke-width="0.45" />
<line x1="251.30" y1="176.30" x2="251.30" y2="177.60" stroke="#444" stroke-width="0.45" />
<line x1="253.20" y1="176.30" x2="253.20" y2="177.60" stroke="#444" stroke-width="0.45" />
<line x1="255.10" y1="176.30" x2="255.10" y2="177.60" stroke="#444" stroke-width="0.45" />
<line x1="257.00" y1="176.30" x2="257.00" y2="177.60" stroke="#444" stroke-width="0.45" />
<line x1="258.90" y1="176.30" x2="258.90" y2="177.60" stroke="#444" stroke-width="0.45" />
<line x1="260.80" y1="176.30" x2="260.80" y2="177.60" stroke="#444" stroke-width="0.45" />
<line x1="262.70" y1="176.30" x2="262.70" y2="177.60" stroke="#444" stroke-width="0.45" />
<line x1="264.60" y1="176.30" x2="264.60" y2="177.60" stroke="#444" stroke-width="0.45" />
<line x1="266.50" y1="176.30" x2="266.50" y2="177.60" stroke="#444" stroke-width="0.45" />
<line x1="268.40" y1="176.30" x2="268.40" y2="177.60" stroke="#444" stroke-width="0.45" />
<line x1="270.30" y1="176.30" x2="270.30" y2="177.60" stroke="#444" stroke-width="0.45" />
<line x1="272.20" y1="176.30" x2="272.20" y2="177.60" stroke="#444" stroke-width="0.45" />
<line x1="274.10" y1="176.30" x2="274.10" y2="177.60" stroke="#444" stroke-width="0.45" />
<line x1="276.00" y1="176.30" x2="276.00" y2="177.60" stroke="#444" stroke-width="0.45" />
<line x1="277.90" y1="176.30" x2="277.90" y2="177.60" stroke="#444" stroke-width="0.45" />
<line x1="279.80" y1="176.30" x2="279.80" y2="177.60" stroke="#444" stroke-width="0.45" />
<line x1="281.70" y1="176.30" x2="281.70" y2="177.60" stroke="#444" stroke-width="0.45" />
<line x1="283.60" y1="176.30" x2="283.60" y2="177.60" stroke="#444" stroke-width="0.45" />
<line x1="285.50" y1="176.30" x2="285.50" y2="177.60" stroke="#444" stroke-width="0.45" />
<line x1="287.40" y1="176.30" x2="287.40" y2="177.60" stroke="#444" stroke-width="0.45" />
<line x1="289.30" y1="176.30" x2="289.30" y2="177.60" stroke="#444" stroke-width="0.45" />
<line x1="291.20" y1="176.30" x2="291.20" y2="177.60" stroke="#444" stroke-width="0.45" />
<line x1="293.10" y1="176.30" x2="293.10" y2="177.60" stroke="#444" stroke-width="0.45" />
<line x1="234.00" y1="123.00" x2="236.80" y2="123.00" stroke="#333" stroke-width="0.6" />
<text x="231.2" y="124.9" font-size="6.0" text-anchor="end" fill="#333" stroke="#333" stroke-width="0.1" font-weight="normal" >250K</text>
<line x1="234.00" y1="133.60" x2="236.80" y2="133.60" stroke="#333" stroke-width="0.6" />
<text x="231.2" y="135.5" font-size="6.0" text-anchor="end" fill="#333" stroke="#333" stroke-width="0.1" font-weight="normal" >200K</text>
<line x1="234.00" y1="144.20" x2="236.80" y2="144.20" stroke="#333" stroke-width="0.6" />
<text x="231.2" y="146.1" font-size="6.0" text-anchor="end" fill="#333" stroke="#333" stroke-width="0.1" font-weight="normal" >150K</text>
<line x1="234.00" y1="154.80" x2="236.80" y2="154.80" stroke="#333" stroke-width="0.6" />
<text x="231.2" y="156.7" font-size="6.0" text-anchor="end" fill="#333" stroke="#333" stroke-width="0.1" font-weight="normal" >100K</text>
<line x1="234.00" y1="165.40" x2="236.80" y2="165.40" stroke="#333" stroke-width="0.6" />
<text x="231.2" y="167.3" font-size="6.0" text-anchor="end" fill="#333" stroke="#333" stroke-width="0.1" font-weight="normal" >50K</text>
<line x1="234.00" y1="176.30" x2="236.80" y2="176.30" stroke="#333" stroke-width="0.6" />
<text x="231.2" y="178.2" font-size="6.0" text-anchor="end" fill="#333" stroke="#333" stroke-width="0.1" font-weight="normal" >0</text>
<text x="238.0" y="186.9" font-size="5.6" text-anchor="middle" fill="#333" stroke="#333" stroke-width="0.1" font-weight="normal" >10<tspan dy="-2.0" font-size="3.8">0</tspan></text>
<text x="248.4" y="186.9" font-size="5.6" text-anchor="middle" fill="#333" stroke="#333" stroke-width="0.1" font-weight="normal" >10<tspan dy="-2.0" font-size="3.8">1</tspan></text>
<text x="258.8" y="186.9" font-size="5.6" text-anchor="middle" fill="#333" stroke="#333" stroke-width="0.1" font-weight="normal" >10<tspan dy="-2.0" font-size="3.8">2</tspan></text>
<text x="269.2" y="186.9" font-size="5.6" text-anchor="middle" fill="#333" stroke="#333" stroke-width="0.1" font-weight="normal" >10<tspan dy="-2.0" font-size="3.8">3</tspan></text>
<text x="279.6" y="186.9" font-size="5.6" text-anchor="middle" fill="#333" stroke="#333" stroke-width="0.1" font-weight="normal" >10<tspan dy="-2.0" font-size="3.8">4</tspan></text>
<text x="290.0" y="186.9" font-size="5.6" text-anchor="middle" fill="#333" stroke="#333" stroke-width="0.1" font-weight="normal" >10<tspan dy="-2.0" font-size="3.8">5</tspan></text>
<text x="212.3" y="148.4" font-size="8.2" text-anchor="middle" fill="#333" stroke="#333" stroke-width="0.25" font-weight="normal" textLength="38.5" lengthAdjust="spacingAndGlyphs" transform="rotate(-90 212.3 148.4)">SSC-A :: SSC-A</text>
<text x="265.6" y="199.4" font-size="8.6" text-anchor="middle" fill="#333" stroke="#333" stroke-width="0.25" font-weight="normal" textLength="45.6" lengthAdjust="spacingAndGlyphs">B2-A :: CD38 PE-A</text>
<text x="265.4" y="128.7" font-size="6.2" text-anchor="middle" fill="#333" stroke="#333" stroke-width="0.1" font-weight="normal" >Daudi</text>
<text x="81.5" y="211.2" font-size="8.1" text-anchor="middle" fill="#222" stroke="#222" stroke-width="0.25" font-weight="normal" textLength="13" lengthAdjust="spacingAndGlyphs">CD38</text>
<line x1="95.50" y1="208.30" x2="151.00" y2="208.30" stroke="#111" stroke-width="1" />
<path d="M150 205.8 L156.5 208.3 L150 210.8Z" fill="#111"/>
<circle cx="112.6" cy="220" r="3.1" fill="#0f4b87"/>
<text x="118.6" y="222.1" font-size="6.0" text-anchor="start" fill="#333" stroke="#333" stroke-width="0.1" font-weight="normal" >Untreated</text>
<circle cx="153.6" cy="220" r="3.1" fill="#c30023"/>
<text x="160.0" y="222.1" font-size="6.0" text-anchor="start" fill="#333" stroke="#333" stroke-width="0.1" font-weight="normal" >10nM ATRA for 48 hours</text>
<text x="316.8" y="15.8" font-size="11" text-anchor="middle" fill="#111" stroke="#111" stroke-width="0.14" font-weight="bold" >B</text>
<line x1="340.80" y1="24.50" x2="340.80" y2="133.70" stroke="#333" stroke-width="1" />
<line x1="340.80" y1="133.20" x2="499.50" y2="133.20" stroke="#333" stroke-width="1" />
<line x1="338.00" y1="133.20" x2="340.80" y2="133.20" stroke="#333" stroke-width="0.7" />
<text x="332.7" y="135.3" font-size="5.3" text-anchor="end" fill="#333" stroke="#333" stroke-width="0.1" font-weight="normal" >10</text>
<text x="333.8" y="133.0" font-size="3.4" text-anchor="start" fill="#333" stroke="#333" stroke-width="0.1" font-weight="normal" >0</text>
<line x1="338.00" y1="112.03" x2="340.80" y2="112.03" stroke="#333" stroke-width="0.7" />
<text x="332.7" y="114.1" font-size="5.3" text-anchor="end" fill="#333" stroke="#333" stroke-width="0.1" font-weight="normal" >10</text>
<text x="333.8" y="111.8" font-size="3.4" text-anchor="start" fill="#333" stroke="#333" stroke-width="0.1" font-weight="normal" >1</text>
<line x1="338.00" y1="90.86" x2="340.80" y2="90.86" stroke="#333" stroke-width="0.7" />
<text x="332.7" y="93.0" font-size="5.3" text-anchor="end" fill="#333" stroke="#333" stroke-width="0.1" font-weight="normal" >10</text>
<text x="333.8" y="90.7" font-size="3.4" text-anchor="start" fill="#333" stroke="#333" stroke-width="0.1" font-weight="normal" >2</text>
<line x1="338.00" y1="69.69" x2="340.80" y2="69.69" stroke="#333" stroke-width="0.7" />
<text x="332.7" y="71.8" font-size="5.3" text-anchor="end" fill="#333" stroke="#333" stroke-width="0.1" font-weight="normal" >10</text>
<text x="333.8" y="69.5" font-size="3.4" text-anchor="start" fill="#333" stroke="#333" stroke-width="0.1" font-weight="normal" >3</text>
<line x1="338.00" y1="48.52" x2="340.80" y2="48.52" stroke="#333" stroke-width="0.7" />
<text x="332.7" y="50.6" font-size="5.3" text-anchor="end" fill="#333" stroke="#333" stroke-width="0.1" font-weight="normal" >10</text>
<text x="333.8" y="48.3" font-size="3.4" text-anchor="start" fill="#333" stroke="#333" stroke-width="0.1" font-weight="normal" >4</text>
<line x1="338.00" y1="27.35" x2="340.80" y2="27.35" stroke="#333" stroke-width="0.7" />
<text x="332.7" y="29.4" font-size="5.3" text-anchor="end" fill="#333" stroke="#333" stroke-width="0.1" font-weight="normal" >10</text>
<text x="333.8" y="27.1" font-size="3.4" text-anchor="start" fill="#333" stroke="#333" stroke-width="0.1" font-weight="normal" >5</text>
<text x="319.7" y="78.4" font-size="7.5" text-anchor="middle" fill="#222" stroke="#222" stroke-width="0.25" font-weight="normal" textLength="25.2" lengthAdjust="spacingAndGlyphs" transform="rotate(-90 319.7 78.4)">CD38 MFI</text>
<rect x="345.4" y="109.2" width="5.2" height="23.999999999999986" fill="#0f4b87"/>
<rect x="355.2" y="102.7" width="5.2" height="30.499999999999986" fill="#c30023"/>
<line x1="352.90" y1="133.20" x2="352.90" y2="135.40" stroke="#333" stroke-width="0.7" />
<text x="352.9" y="144.1" font-size="5.9" text-anchor="middle" fill="#333" stroke="#333" stroke-width="0.1" font-weight="normal" >MM1S</text>
<rect x="372.3" y="66.9" width="5.2" height="66.29999999999998" fill="#0f4b87"/>
<rect x="382.4" y="57.9" width="5.2" height="75.29999999999998" fill="#c30023"/>
<line x1="379.95" y1="133.20" x2="379.95" y2="135.40" stroke="#333" stroke-width="0.7" />
<text x="380.0" y="144.1" font-size="5.9" text-anchor="middle" fill="#333" stroke="#333" stroke-width="0.1" font-weight="normal" >H929</text>
<rect x="399.2" y="119.9" width="5.2" height="13.299999999999983" fill="#0f4b87"/>
<rect x="409.3" y="99.3" width="5.2" height="33.89999999999999" fill="#c30023"/>
<line x1="406.85" y1="133.20" x2="406.85" y2="135.40" stroke="#333" stroke-width="0.7" />
<text x="406.9" y="144.1" font-size="5.9" text-anchor="middle" fill="#333" stroke="#333" stroke-width="0.1" font-weight="normal" >AML-10</text>
<rect x="426" y="117.7" width="5.2" height="15.499999999999986" fill="#0f4b87"/>
<rect x="436" y="104" width="5.2" height="29.19999999999999" fill="#c30023"/>
<line x1="433.60" y1="133.20" x2="433.60" y2="135.40" stroke="#333" stroke-width="0.7" />
<text x="433.6" y="144.1" font-size="5.9" text-anchor="middle" fill="#333" stroke="#333" stroke-width="0.1" font-weight="normal" >MV4-11</text>
<rect x="453.1" y="53.3" width="5.2" height="79.89999999999999" fill="#0f4b87"/>
<rect x="463.1" y="49" width="5.2" height="84.19999999999999" fill="#c30023"/>
<line x1="460.70" y1="133.20" x2="460.70" y2="135.40" stroke="#333" stroke-width="0.7" />
<text x="460.7" y="144.1" font-size="5.9" text-anchor="middle" fill="#333" stroke="#333" stroke-width="0.1" font-weight="normal" >Daudi</text>
<rect x="480" y="88.9" width="5.2" height="44.29999999999998" fill="#0f4b87"/>
<rect x="489.9" y="87" width="5.2" height="46.19999999999999" fill="#c30023"/>
<line x1="487.55" y1="133.20" x2="487.55" y2="135.40" stroke="#333" stroke-width="0.7" />
<text x="487.6" y="144.1" font-size="5.9" text-anchor="middle" fill="#333" stroke="#333" stroke-width="0.1" font-weight="normal" >Raji</text>
<rect x="380" y="150.7" width="5.4" height="5.3" fill="#0f4b87"/>
<text x="388.5" y="155.5" font-size="5.9" text-anchor="start" fill="#333" stroke="#333" stroke-width="0.1" font-weight="normal" >untreated</text>
<rect x="420.2" y="150.7" width="5.4" height="5.3" fill="#c30023"/>
<text x="428.6" y="155.5" font-size="5.9" text-anchor="start" fill="#333" stroke="#333" stroke-width="0.1" font-weight="normal" >10nM ATRA</text>
<text x="10.4" y="248.0" font-size="11" text-anchor="middle" fill="#111" stroke="#111" stroke-width="0.14" font-weight="bold" >C</text>
<text x="79.0" y="257.8" font-size="8.2" text-anchor="middle" fill="#2a2a2a" stroke="#2a2a2a" stroke-width="0.14" font-weight="normal" >MM</text>
<text x="78.5" y="268.5" font-size="8.2" text-anchor="middle" fill="#2a2a2a" stroke="#2a2a2a" stroke-width="0.14" font-weight="normal" >H929</text>
<line x1="34.50" y1="273.86" x2="34.50" y2="364.51" stroke="#222" stroke-width="1" />
<line x1="34.50" y1="347.90" x2="122.30" y2="347.90" stroke="#444" stroke-width="1.4" />
<line x1="31.50" y1="362.11" x2="34.50" y2="362.11" stroke="#222" stroke-width="0.7" />
<text x="28.2" y="364.2" font-size="5.7" text-anchor="end" fill="#333" stroke="#333" stroke-width="0.1" font-weight="normal" >-20</text>
<line x1="31.50" y1="347.90" x2="34.50" y2="347.90" stroke="#222" stroke-width="0.7" />
<text x="28.2" y="350.0" font-size="5.7" text-anchor="end" fill="#333" stroke="#333" stroke-width="0.1" font-weight="normal" >0</text>
<line x1="31.50" y1="333.69" x2="34.50" y2="333.69" stroke="#222" stroke-width="0.7" />
<text x="28.2" y="335.8" font-size="5.7" text-anchor="end" fill="#333" stroke="#333" stroke-width="0.1" font-weight="normal" >20</text>
<line x1="31.50" y1="319.48" x2="34.50" y2="319.48" stroke="#222" stroke-width="0.7" />
<text x="28.2" y="321.6" font-size="5.7" text-anchor="end" fill="#333" stroke="#333" stroke-width="0.1" font-weight="normal" >40</text>
<line x1="31.50" y1="305.28" x2="34.50" y2="305.28" stroke="#222" stroke-width="0.7" />
<text x="28.2" y="307.4" font-size="5.7" text-anchor="end" fill="#333" stroke="#333" stroke-width="0.1" font-weight="normal" >60</text>
<line x1="31.50" y1="291.07" x2="34.50" y2="291.07" stroke="#222" stroke-width="0.7" />
<text x="28.2" y="293.2" font-size="5.7" text-anchor="end" fill="#333" stroke="#333" stroke-width="0.1" font-weight="normal" >80</text>
<line x1="31.50" y1="276.86" x2="34.50" y2="276.86" stroke="#222" stroke-width="0.7" />
<text x="28.2" y="279.0" font-size="5.7" text-anchor="end" fill="#333" stroke="#333" stroke-width="0.1" font-weight="normal" >100</text>
<line x1="33.00" y1="357.37" x2="34.50" y2="357.37" stroke="#222" stroke-width="0.5" />
<line x1="33.00" y1="352.64" x2="34.50" y2="352.64" stroke="#222" stroke-width="0.5" />
<line x1="33.00" y1="343.16" x2="34.50" y2="343.16" stroke="#222" stroke-width="0.5" />
<line x1="33.00" y1="338.43" x2="34.50" y2="338.43" stroke="#222" stroke-width="0.5" />
<line x1="33.00" y1="328.96" x2="34.50" y2="328.96" stroke="#222" stroke-width="0.5" />
<line x1="33.00" y1="324.22" x2="34.50" y2="324.22" stroke="#222" stroke-width="0.5" />
<line x1="33.00" y1="314.75" x2="34.50" y2="314.75" stroke="#222" stroke-width="0.5" />
<line x1="33.00" y1="310.01" x2="34.50" y2="310.01" stroke="#222" stroke-width="0.5" />
<line x1="33.00" y1="300.54" x2="34.50" y2="300.54" stroke="#222" stroke-width="0.5" />
<line x1="33.00" y1="295.80" x2="34.50" y2="295.80" stroke="#222" stroke-width="0.5" />
<line x1="33.00" y1="286.33" x2="34.50" y2="286.33" stroke="#222" stroke-width="0.5" />
<line x1="33.00" y1="281.60" x2="34.50" y2="281.60" stroke="#222" stroke-width="0.5" />
<line x1="44.50" y1="347.90" x2="44.50" y2="350.50" stroke="#333" stroke-width="0.8" />
<text x="47.7" y="358.8" font-size="6.1" text-anchor="end" fill="#2a2a2a" stroke="#2a2a2a" stroke-width="0.12" transform="rotate(-45 47.7 358.8)">10:1</text>
<line x1="58.70" y1="347.90" x2="58.70" y2="350.50" stroke="#333" stroke-width="0.8" />
<text x="61.9" y="358.8" font-size="6.1" text-anchor="end" fill="#2a2a2a" stroke="#2a2a2a" stroke-width="0.12" transform="rotate(-45 61.9 358.8)">5:1</text>
<line x1="72.90" y1="347.90" x2="72.90" y2="350.50" stroke="#333" stroke-width="0.8" />
<text x="76.1" y="358.8" font-size="6.1" text-anchor="end" fill="#2a2a2a" stroke="#2a2a2a" stroke-width="0.12" transform="rotate(-45 76.1 358.8)">2.5:1</text>
<line x1="87.10" y1="347.90" x2="87.10" y2="350.50" stroke="#333" stroke-width="0.8" />
<text x="90.3" y="358.8" font-size="6.1" text-anchor="end" fill="#2a2a2a" stroke="#2a2a2a" stroke-width="0.12" transform="rotate(-45 90.3 358.8)">1.25:1</text>
<line x1="101.30" y1="347.90" x2="101.30" y2="350.50" stroke="#333" stroke-width="0.8" />
<text x="104.5" y="358.8" font-size="6.1" text-anchor="end" fill="#2a2a2a" stroke="#2a2a2a" stroke-width="0.12" transform="rotate(-45 104.5 358.8)">0.625:1</text>
<line x1="115.50" y1="347.90" x2="115.50" y2="350.50" stroke="#333" stroke-width="0.8" />
<text x="118.7" y="358.8" font-size="6.1" text-anchor="end" fill="#2a2a2a" stroke="#2a2a2a" stroke-width="0.12" transform="rotate(-45 118.7 358.8)">0.3125:1</text>
<text x="13.3" y="319.5" font-size="7.2" text-anchor="middle" fill="#222" stroke="#222" stroke-width="0.08" font-weight="normal" textLength="44.6" lengthAdjust="spacingAndGlyphs" transform="rotate(-90 13.3 319.5)">% Tumor cell lysis</text>
<text x="78.3" y="385.8" font-size="8.3" text-anchor="middle" fill="#222" stroke="#222" stroke-width="0.25" font-weight="normal" textLength="21.1" lengthAdjust="spacingAndGlyphs">E:T ratio</text>
<line x1="44.50" y1="301.01" x2="44.50" y2="309.54" stroke="#5d636b" stroke-width="0.75" />
<line x1="58.70" y1="312.38" x2="58.70" y2="319.48" stroke="#5d636b" stroke-width="0.75" />
<line x1="72.90" y1="321.33" x2="72.90" y2="325.59" stroke="#5d636b" stroke-width="0.75" />
<line x1="87.10" y1="328.29" x2="87.10" y2="333.98" stroke="#5d636b" stroke-width="0.75" />
<line x1="101.30" y1="334.12" x2="101.30" y2="338.38" stroke="#5d636b" stroke-width="0.75" />
<line x1="115.50" y1="336.18" x2="115.50" y2="343.28" stroke="#5d636b" stroke-width="0.75" />
<line x1="44.50" y1="294.12" x2="44.50" y2="305.49" stroke="#5d636b" stroke-width="0.75" />
<line x1="58.70" y1="301.23" x2="58.70" y2="312.59" stroke="#5d636b" stroke-width="0.75" />
<line x1="72.90" y1="308.47" x2="72.90" y2="319.84" stroke="#5d636b" stroke-width="0.75" />
<line x1="87.10" y1="315.58" x2="87.10" y2="328.36" stroke="#5d636b" stroke-width="0.75" />
<line x1="101.30" y1="324.95" x2="101.30" y2="334.90" stroke="#5d636b" stroke-width="0.75" />
<line x1="115.50" y1="331.06" x2="115.50" y2="339.59" stroke="#5d636b" stroke-width="0.75" />
<line x1="44.50" y1="285.74" x2="44.50" y2="298.53" stroke="#5d636b" stroke-width="0.75" />
<line x1="58.70" y1="292.49" x2="58.70" y2="305.28" stroke="#5d636b" stroke-width="0.75" />
<line x1="72.90" y1="298.88" x2="72.90" y2="311.67" stroke="#5d636b" stroke-width="0.75" />
<line x1="87.10" y1="302.79" x2="87.10" y2="319.84" stroke="#5d636b" stroke-width="0.75" />
<line x1="101.30" y1="314.51" x2="101.30" y2="327.30" stroke="#5d636b" stroke-width="0.75" />
<line x1="115.50" y1="312.38" x2="115.50" y2="336.53" stroke="#5d636b" stroke-width="0.75" />
<line x1="44.50" y1="290.64" x2="44.50" y2="302.01" stroke="#5d636b" stroke-width="0.75" />
<line x1="58.70" y1="298.88" x2="58.70" y2="310.25" stroke="#5d636b" stroke-width="0.75" />
<line x1="72.90" y1="305.63" x2="72.90" y2="317.00" stroke="#5d636b" stroke-width="0.75" />
<line x1="87.10" y1="314.51" x2="87.10" y2="327.30" stroke="#5d636b" stroke-width="0.75" />
<line x1="101.30" y1="323.04" x2="101.30" y2="332.98" stroke="#5d636b" stroke-width="0.75" />
<line x1="115.50" y1="330.85" x2="115.50" y2="339.38" stroke="#5d636b" stroke-width="0.75" />
<path d="M44.50 305.28 C45.68 306.16 56.33 314.42 58.70 315.93 C61.07 317.45 70.53 322.20 72.90 323.46 C75.27 324.73 84.73 330.07 87.10 331.13 C89.47 332.20 98.93 335.53 101.30 336.25 C103.67 336.97 114.32 339.44 115.50 339.73" fill="none" stroke="#4cad50" stroke-width="1.0"/>
<path d="M44.50 299.81 C45.68 300.40 56.33 305.71 58.70 306.91 C61.07 308.11 70.53 312.90 72.90 314.16 C75.27 315.41 84.73 320.66 87.10 321.97 C89.47 323.28 98.93 328.81 101.30 329.93 C103.67 331.04 114.32 334.88 115.50 335.33" fill="none" stroke="#5b3f6e" stroke-width="1.0"/>
<path d="M44.50 292.13 C45.68 292.70 56.33 297.79 58.70 298.88 C61.07 299.98 70.53 304.24 72.90 305.28 C75.27 306.31 84.73 310.01 87.10 311.31 C89.47 312.62 98.93 319.81 101.30 320.90 C103.67 322.00 114.32 324.16 115.50 324.46" fill="none" stroke="#72c6e6" stroke-width="1.0"/>
<path d="M44.50 296.32 C45.68 297.01 56.33 303.32 58.70 304.57 C61.07 305.81 70.53 309.95 72.90 311.31 C75.27 312.68 84.73 319.51 87.10 320.90 C89.47 322.30 98.93 326.82 101.30 328.01 C103.67 329.19 114.32 334.52 115.50 335.11" fill="none" stroke="#c2304c" stroke-width="1.0"/>
<line x1="43.30" y1="301.01" x2="45.70" y2="301.01" stroke="#222" stroke-width="1.0" />
<line x1="43.30" y1="309.54" x2="45.70" y2="309.54" stroke="#222" stroke-width="1.0" />
<rect x="43.6" y="304.4" width="1.8" height="1.8" fill="#2a7a3a"/>
<line x1="57.50" y1="312.38" x2="59.90" y2="312.38" stroke="#222" stroke-width="1.0" />
<line x1="57.50" y1="319.48" x2="59.90" y2="319.48" stroke="#222" stroke-width="1.0" />
<rect x="57.8" y="315.0" width="1.8" height="1.8" fill="#2a7a3a"/>
<line x1="71.70" y1="321.33" x2="74.10" y2="321.33" stroke="#222" stroke-width="1.0" />
<line x1="71.70" y1="325.59" x2="74.10" y2="325.59" stroke="#222" stroke-width="1.0" />
<rect x="72.0" y="322.6" width="1.8" height="1.8" fill="#2a7a3a"/>
<line x1="85.90" y1="328.29" x2="88.30" y2="328.29" stroke="#222" stroke-width="1.0" />
<line x1="85.90" y1="333.98" x2="88.30" y2="333.98" stroke="#222" stroke-width="1.0" />
<rect x="86.2" y="330.2" width="1.8" height="1.8" fill="#2a7a3a"/>
<line x1="100.10" y1="334.12" x2="102.50" y2="334.12" stroke="#222" stroke-width="1.0" />
<line x1="100.10" y1="338.38" x2="102.50" y2="338.38" stroke="#222" stroke-width="1.0" />
<rect x="100.4" y="335.3" width="1.8" height="1.8" fill="#2a7a3a"/>
<line x1="114.30" y1="336.18" x2="116.70" y2="336.18" stroke="#222" stroke-width="1.0" />
<line x1="114.30" y1="343.28" x2="116.70" y2="343.28" stroke="#222" stroke-width="1.0" />
<rect x="114.6" y="338.8" width="1.8" height="1.8" fill="#2a7a3a"/>
<line x1="43.30" y1="294.12" x2="45.70" y2="294.12" stroke="#222" stroke-width="1.0" />
<line x1="43.30" y1="305.49" x2="45.70" y2="305.49" stroke="#222" stroke-width="1.0" />
<rect x="43.6" y="298.9" width="1.8" height="1.8" fill="#2a1a45"/>
<line x1="57.50" y1="301.23" x2="59.90" y2="301.23" stroke="#222" stroke-width="1.0" />
<line x1="57.50" y1="312.59" x2="59.90" y2="312.59" stroke="#222" stroke-width="1.0" />
<rect x="57.8" y="306.0" width="1.8" height="1.8" fill="#2a1a45"/>
<line x1="71.70" y1="308.47" x2="74.10" y2="308.47" stroke="#222" stroke-width="1.0" />
<line x1="71.70" y1="319.84" x2="74.10" y2="319.84" stroke="#222" stroke-width="1.0" />
<rect x="72.0" y="313.3" width="1.8" height="1.8" fill="#2a1a45"/>
<line x1="85.90" y1="315.58" x2="88.30" y2="315.58" stroke="#222" stroke-width="1.0" />
<line x1="85.90" y1="328.36" x2="88.30" y2="328.36" stroke="#222" stroke-width="1.0" />
<rect x="86.2" y="321.1" width="1.8" height="1.8" fill="#2a1a45"/>
<line x1="100.10" y1="324.95" x2="102.50" y2="324.95" stroke="#222" stroke-width="1.0" />
<line x1="100.10" y1="334.90" x2="102.50" y2="334.90" stroke="#222" stroke-width="1.0" />
<rect x="100.4" y="329.0" width="1.8" height="1.8" fill="#2a1a45"/>
<line x1="114.30" y1="331.06" x2="116.70" y2="331.06" stroke="#222" stroke-width="1.0" />
<line x1="114.30" y1="339.59" x2="116.70" y2="339.59" stroke="#222" stroke-width="1.0" />
<rect x="114.6" y="334.4" width="1.8" height="1.8" fill="#2a1a45"/>
<line x1="43.30" y1="285.74" x2="45.70" y2="285.74" stroke="#222" stroke-width="1.0" />
<line x1="43.30" y1="298.53" x2="45.70" y2="298.53" stroke="#222" stroke-width="1.0" />
<rect x="43.6" y="291.2" width="1.8" height="1.8" fill="#3d7fae"/>
<line x1="57.50" y1="292.49" x2="59.90" y2="292.49" stroke="#222" stroke-width="1.0" />
<line x1="57.50" y1="305.28" x2="59.90" y2="305.28" stroke="#222" stroke-width="1.0" />
<rect x="57.8" y="298.0" width="1.8" height="1.8" fill="#3d7fae"/>
<line x1="71.70" y1="298.88" x2="74.10" y2="298.88" stroke="#222" stroke-width="1.0" />
<line x1="71.70" y1="311.67" x2="74.10" y2="311.67" stroke="#222" stroke-width="1.0" />
<rect x="72.0" y="304.4" width="1.8" height="1.8" fill="#3d7fae"/>
<line x1="85.90" y1="302.79" x2="88.30" y2="302.79" stroke="#222" stroke-width="1.0" />
<line x1="85.90" y1="319.84" x2="88.30" y2="319.84" stroke="#222" stroke-width="1.0" />
<rect x="86.2" y="310.4" width="1.8" height="1.8" fill="#3d7fae"/>
<line x1="100.10" y1="314.51" x2="102.50" y2="314.51" stroke="#222" stroke-width="1.0" />
<line x1="100.10" y1="327.30" x2="102.50" y2="327.30" stroke="#222" stroke-width="1.0" />
<rect x="100.4" y="320.0" width="1.8" height="1.8" fill="#3d7fae"/>
<line x1="114.30" y1="312.38" x2="116.70" y2="312.38" stroke="#222" stroke-width="1.0" />
<line x1="114.30" y1="336.53" x2="116.70" y2="336.53" stroke="#222" stroke-width="1.0" />
<rect x="114.6" y="323.6" width="1.8" height="1.8" fill="#3d7fae"/>
<line x1="43.30" y1="290.64" x2="45.70" y2="290.64" stroke="#222" stroke-width="1.0" />
<line x1="43.30" y1="302.01" x2="45.70" y2="302.01" stroke="#222" stroke-width="1.0" />
<rect x="43.6" y="295.4" width="1.8" height="1.8" fill="#9a1030"/>
<line x1="57.50" y1="298.88" x2="59.90" y2="298.88" stroke="#222" stroke-width="1.0" />
<line x1="57.50" y1="310.25" x2="59.90" y2="310.25" stroke="#222" stroke-width="1.0" />
<rect x="57.8" y="303.7" width="1.8" height="1.8" fill="#9a1030"/>
<line x1="71.70" y1="305.63" x2="74.10" y2="305.63" stroke="#222" stroke-width="1.0" />
<line x1="71.70" y1="317.00" x2="74.10" y2="317.00" stroke="#222" stroke-width="1.0" />
<rect x="72.0" y="310.4" width="1.8" height="1.8" fill="#9a1030"/>
<line x1="85.90" y1="314.51" x2="88.30" y2="314.51" stroke="#222" stroke-width="1.0" />
<line x1="85.90" y1="327.30" x2="88.30" y2="327.30" stroke="#222" stroke-width="1.0" />
<rect x="86.2" y="320.0" width="1.8" height="1.8" fill="#9a1030"/>
<line x1="100.10" y1="323.04" x2="102.50" y2="323.04" stroke="#222" stroke-width="1.0" />
<line x1="100.10" y1="332.98" x2="102.50" y2="332.98" stroke="#222" stroke-width="1.0" />
<rect x="100.4" y="327.1" width="1.8" height="1.8" fill="#9a1030"/>
<line x1="114.30" y1="330.85" x2="116.70" y2="330.85" stroke="#222" stroke-width="1.0" />
<line x1="114.30" y1="339.38" x2="116.70" y2="339.38" stroke="#222" stroke-width="1.0" />
<rect x="114.6" y="334.2" width="1.8" height="1.8" fill="#9a1030"/>
<line x1="121.20" y1="324.46" x2="121.20" y2="337.24" stroke="#444" stroke-width="0.8" />
<text x="120.9" y="330.9" font-size="5.6" font-weight="bold" text-anchor="middle" fill="#333" transform="rotate(90 120.9 330.9)">***</text>
<text x="207.3" y="257.8" font-size="8.2" text-anchor="middle" fill="#2a2a2a" stroke="#2a2a2a" stroke-width="0.14" font-weight="normal" >AML</text>
<text x="206.8" y="268.5" font-size="8.2" text-anchor="middle" fill="#2a2a2a" stroke="#2a2a2a" stroke-width="0.14" font-weight="normal" >AML-10</text>
<line x1="164.10" y1="273.86" x2="164.10" y2="364.51" stroke="#222" stroke-width="1" />
<line x1="164.10" y1="347.90" x2="251.00" y2="347.90" stroke="#444" stroke-width="1.4" />
<line x1="161.10" y1="362.11" x2="164.10" y2="362.11" stroke="#222" stroke-width="0.7" />
<text x="157.8" y="364.2" font-size="5.7" text-anchor="end" fill="#333" stroke="#333" stroke-width="0.1" font-weight="normal" >-20</text>
<line x1="161.10" y1="347.90" x2="164.10" y2="347.90" stroke="#222" stroke-width="0.7" />
<text x="157.8" y="350.0" font-size="5.7" text-anchor="end" fill="#333" stroke="#333" stroke-width="0.1" font-weight="normal" >0</text>
<line x1="161.10" y1="333.69" x2="164.10" y2="333.69" stroke="#222" stroke-width="0.7" />
<text x="157.8" y="335.8" font-size="5.7" text-anchor="end" fill="#333" stroke="#333" stroke-width="0.1" font-weight="normal" >20</text>
<line x1="161.10" y1="319.48" x2="164.10" y2="319.48" stroke="#222" stroke-width="0.7" />
<text x="157.8" y="321.6" font-size="5.7" text-anchor="end" fill="#333" stroke="#333" stroke-width="0.1" font-weight="normal" >40</text>
<line x1="161.10" y1="305.28" x2="164.10" y2="305.28" stroke="#222" stroke-width="0.7" />
<text x="157.8" y="307.4" font-size="5.7" text-anchor="end" fill="#333" stroke="#333" stroke-width="0.1" font-weight="normal" >60</text>
<line x1="161.10" y1="291.07" x2="164.10" y2="291.07" stroke="#222" stroke-width="0.7" />
<text x="157.8" y="293.2" font-size="5.7" text-anchor="end" fill="#333" stroke="#333" stroke-width="0.1" font-weight="normal" >80</text>
<line x1="161.10" y1="276.86" x2="164.10" y2="276.86" stroke="#222" stroke-width="0.7" />
<text x="157.8" y="279.0" font-size="5.7" text-anchor="end" fill="#333" stroke="#333" stroke-width="0.1" font-weight="normal" >100</text>
<line x1="162.60" y1="357.37" x2="164.10" y2="357.37" stroke="#222" stroke-width="0.5" />
<line x1="162.60" y1="352.64" x2="164.10" y2="352.64" stroke="#222" stroke-width="0.5" />
<line x1="162.60" y1="343.16" x2="164.10" y2="343.16" stroke="#222" stroke-width="0.5" />
<line x1="162.60" y1="338.43" x2="164.10" y2="338.43" stroke="#222" stroke-width="0.5" />
<line x1="162.60" y1="328.96" x2="164.10" y2="328.96" stroke="#222" stroke-width="0.5" />
<line x1="162.60" y1="324.22" x2="164.10" y2="324.22" stroke="#222" stroke-width="0.5" />
<line x1="162.60" y1="314.75" x2="164.10" y2="314.75" stroke="#222" stroke-width="0.5" />
<line x1="162.60" y1="310.01" x2="164.10" y2="310.01" stroke="#222" stroke-width="0.5" />
<line x1="162.60" y1="300.54" x2="164.10" y2="300.54" stroke="#222" stroke-width="0.5" />
<line x1="162.60" y1="295.80" x2="164.10" y2="295.80" stroke="#222" stroke-width="0.5" />
<line x1="162.60" y1="286.33" x2="164.10" y2="286.33" stroke="#222" stroke-width="0.5" />
<line x1="162.60" y1="281.60" x2="164.10" y2="281.60" stroke="#222" stroke-width="0.5" />
<line x1="171.50" y1="347.90" x2="171.50" y2="350.50" stroke="#333" stroke-width="0.8" />
<text x="174.7" y="362.8" font-size="6.1" text-anchor="end" fill="#2a2a2a" stroke="#2a2a2a" stroke-width="0.12" transform="rotate(-45 174.7 362.8)">10:1</text>
<line x1="185.98" y1="347.90" x2="185.98" y2="350.50" stroke="#333" stroke-width="0.8" />
<text x="189.2" y="362.8" font-size="6.1" text-anchor="end" fill="#2a2a2a" stroke="#2a2a2a" stroke-width="0.12" transform="rotate(-45 189.2 362.8)">5:1</text>
<line x1="200.46" y1="347.90" x2="200.46" y2="350.50" stroke="#333" stroke-width="0.8" />
<text x="203.7" y="362.8" font-size="6.1" text-anchor="end" fill="#2a2a2a" stroke="#2a2a2a" stroke-width="0.12" transform="rotate(-45 203.7 362.8)">2.5:1</text>
<line x1="214.94" y1="347.90" x2="214.94" y2="350.50" stroke="#333" stroke-width="0.8" />
<text x="218.1" y="362.8" font-size="6.1" text-anchor="end" fill="#2a2a2a" stroke="#2a2a2a" stroke-width="0.12" transform="rotate(-45 218.1 362.8)">1.25:1</text>
<line x1="229.42" y1="347.90" x2="229.42" y2="350.50" stroke="#333" stroke-width="0.8" />
<text x="232.6" y="362.8" font-size="6.1" text-anchor="end" fill="#2a2a2a" stroke="#2a2a2a" stroke-width="0.12" transform="rotate(-45 232.6 362.8)">0.625:1</text>
<line x1="243.90" y1="347.90" x2="243.90" y2="350.50" stroke="#333" stroke-width="0.8" />
<text x="247.1" y="362.8" font-size="6.1" text-anchor="end" fill="#2a2a2a" stroke="#2a2a2a" stroke-width="0.12" transform="rotate(-45 247.1 362.8)">0.3125:1</text>
<text x="141.8" y="319.5" font-size="7.2" text-anchor="middle" fill="#222" stroke="#222" stroke-width="0.08" font-weight="normal" textLength="44.6" lengthAdjust="spacingAndGlyphs" transform="rotate(-90 141.8 319.5)">% Tumor cell lysis</text>
<text x="207.0" y="391.6" font-size="8.3" text-anchor="middle" fill="#222" stroke="#222" stroke-width="0.25" font-weight="normal" textLength="21.1" lengthAdjust="spacingAndGlyphs">E:T ratio</text>
<line x1="171.50" y1="304.57" x2="171.50" y2="324.46" stroke="#5d636b" stroke-width="0.75" />
<line x1="185.98" y1="318.06" x2="185.98" y2="335.11" stroke="#5d636b" stroke-width="0.75" />
<line x1="200.46" y1="327.30" x2="200.46" y2="340.09" stroke="#5d636b" stroke-width="0.75" />
<line x1="214.94" y1="333.69" x2="214.94" y2="345.06" stroke="#5d636b" stroke-width="0.75" />
<line x1="229.42" y1="337.95" x2="229.42" y2="347.90" stroke="#5d636b" stroke-width="0.75" />
<line x1="243.90" y1="340.09" x2="243.90" y2="348.61" stroke="#5d636b" stroke-width="0.75" />
<line x1="171.50" y1="313.09" x2="171.50" y2="344.35" stroke="#5d636b" stroke-width="0.75" />
<line x1="185.98" y1="323.75" x2="185.98" y2="352.16" stroke="#5d636b" stroke-width="0.75" />
<line x1="200.46" y1="327.65" x2="200.46" y2="356.07" stroke="#5d636b" stroke-width="0.75" />
<line x1="214.94" y1="338.31" x2="214.94" y2="355.36" stroke="#5d636b" stroke-width="0.75" />
<line x1="229.42" y1="345.06" x2="229.42" y2="355.00" stroke="#5d636b" stroke-width="0.75" />
<line x1="243.90" y1="338.66" x2="243.90" y2="352.87" stroke="#5d636b" stroke-width="0.75" />
<line x1="171.50" y1="283.96" x2="171.50" y2="305.28" stroke="#5d636b" stroke-width="0.75" />
<line x1="185.98" y1="291.78" x2="185.98" y2="311.67" stroke="#5d636b" stroke-width="0.75" />
<line x1="200.46" y1="300.66" x2="200.46" y2="321.97" stroke="#5d636b" stroke-width="0.75" />
<line x1="214.94" y1="314.16" x2="214.94" y2="331.21" stroke="#5d636b" stroke-width="0.75" />
<line x1="229.42" y1="322.75" x2="229.42" y2="341.22" stroke="#5d636b" stroke-width="0.75" />
<line x1="243.90" y1="332.27" x2="243.90" y2="343.64" stroke="#5d636b" stroke-width="0.75" />
<line x1="171.50" y1="303.86" x2="171.50" y2="323.75" stroke="#5d636b" stroke-width="0.75" />
<line x1="185.98" y1="317.35" x2="185.98" y2="334.40" stroke="#5d636b" stroke-width="0.75" />
<line x1="200.46" y1="325.88" x2="200.46" y2="338.66" stroke="#5d636b" stroke-width="0.75" />
<line x1="214.94" y1="332.27" x2="214.94" y2="343.64" stroke="#5d636b" stroke-width="0.75" />
<line x1="229.42" y1="337.24" x2="229.42" y2="347.19" stroke="#5d636b" stroke-width="0.75" />
<line x1="243.90" y1="339.38" x2="243.90" y2="347.90" stroke="#5d636b" stroke-width="0.75" />
<path d="M171.50 314.51 C172.71 315.52 183.57 324.99 185.98 326.59 C188.39 328.19 198.05 332.63 200.46 333.69 C202.87 334.76 212.53 338.61 214.94 339.38 C217.35 340.14 227.01 342.51 229.42 342.93 C231.83 343.34 242.69 344.23 243.90 344.35" fill="none" stroke="#4cad50" stroke-width="1.0"/>
<path d="M171.50 328.72 C172.71 329.49 183.57 336.86 185.98 337.95 C188.39 339.05 198.05 341.12 200.46 341.86 C202.87 342.60 212.53 346.15 214.94 346.83 C217.35 347.52 227.01 350.12 229.42 350.03 C231.83 349.94 242.69 346.12 243.90 345.77" fill="none" stroke="#5b3f6e" stroke-width="1.0"/>
<path d="M171.50 294.62 C172.71 295.21 183.57 300.33 185.98 301.72 C188.39 303.12 198.05 309.57 200.46 311.31 C202.87 313.06 212.53 320.96 214.94 322.68 C217.35 324.40 227.01 330.71 229.42 331.99 C231.83 333.26 242.69 337.46 243.90 337.95" fill="none" stroke="#72c6e6" stroke-width="1.0"/>
<path d="M171.50 313.80 C172.71 314.81 183.57 324.34 185.98 325.88 C188.39 327.42 198.05 331.26 200.46 332.27 C202.87 333.28 212.53 337.13 214.94 337.95 C217.35 338.78 227.01 341.74 229.42 342.22 C231.83 342.69 242.69 343.52 243.90 343.64" fill="none" stroke="#c2304c" stroke-width="1.0"/>
<line x1="170.30" y1="304.57" x2="172.70" y2="304.57" stroke="#222" stroke-width="1.0" />
<line x1="170.30" y1="324.46" x2="172.70" y2="324.46" stroke="#222" stroke-width="1.0" />
<rect x="170.6" y="313.6" width="1.8" height="1.8" fill="#2a7a3a"/>
<line x1="184.78" y1="318.06" x2="187.18" y2="318.06" stroke="#222" stroke-width="1.0" />
<line x1="184.78" y1="335.11" x2="187.18" y2="335.11" stroke="#222" stroke-width="1.0" />
<rect x="185.1" y="325.7" width="1.8" height="1.8" fill="#2a7a3a"/>
<line x1="199.26" y1="327.30" x2="201.66" y2="327.30" stroke="#222" stroke-width="1.0" />
<line x1="199.26" y1="340.09" x2="201.66" y2="340.09" stroke="#222" stroke-width="1.0" />
<rect x="199.6" y="332.8" width="1.8" height="1.8" fill="#2a7a3a"/>
<line x1="213.74" y1="333.69" x2="216.14" y2="333.69" stroke="#222" stroke-width="1.0" />
<line x1="213.74" y1="345.06" x2="216.14" y2="345.06" stroke="#222" stroke-width="1.0" />
<rect x="214.0" y="338.5" width="1.8" height="1.8" fill="#2a7a3a"/>
<line x1="228.22" y1="337.95" x2="230.62" y2="337.95" stroke="#222" stroke-width="1.0" />
<line x1="228.22" y1="347.90" x2="230.62" y2="347.90" stroke="#222" stroke-width="1.0" />
<rect x="228.5" y="342.0" width="1.8" height="1.8" fill="#2a7a3a"/>
<line x1="242.70" y1="340.09" x2="245.10" y2="340.09" stroke="#222" stroke-width="1.0" />
<line x1="242.70" y1="348.61" x2="245.10" y2="348.61" stroke="#222" stroke-width="1.0" />
<rect x="243.0" y="343.4" width="1.8" height="1.8" fill="#2a7a3a"/>
<line x1="170.30" y1="313.09" x2="172.70" y2="313.09" stroke="#222" stroke-width="1.0" />
<line x1="170.30" y1="344.35" x2="172.70" y2="344.35" stroke="#222" stroke-width="1.0" />
<rect x="170.6" y="327.8" width="1.8" height="1.8" fill="#2a1a45"/>
<line x1="184.78" y1="323.75" x2="187.18" y2="323.75" stroke="#222" stroke-width="1.0" />
<line x1="184.78" y1="352.16" x2="187.18" y2="352.16" stroke="#222" stroke-width="1.0" />
<rect x="185.1" y="337.1" width="1.8" height="1.8" fill="#2a1a45"/>
<line x1="199.26" y1="327.65" x2="201.66" y2="327.65" stroke="#222" stroke-width="1.0" />
<line x1="199.26" y1="356.07" x2="201.66" y2="356.07" stroke="#222" stroke-width="1.0" />
<rect x="199.6" y="341.0" width="1.8" height="1.8" fill="#2a1a45"/>
<line x1="213.74" y1="338.31" x2="216.14" y2="338.31" stroke="#222" stroke-width="1.0" />
<line x1="213.74" y1="355.36" x2="216.14" y2="355.36" stroke="#222" stroke-width="1.0" />
<rect x="214.0" y="345.9" width="1.8" height="1.8" fill="#2a1a45"/>
<line x1="228.22" y1="345.06" x2="230.62" y2="345.06" stroke="#222" stroke-width="1.0" />
<line x1="228.22" y1="355.00" x2="230.62" y2="355.00" stroke="#222" stroke-width="1.0" />
<rect x="228.5" y="349.1" width="1.8" height="1.8" fill="#2a1a45"/>
<line x1="242.70" y1="338.66" x2="245.10" y2="338.66" stroke="#222" stroke-width="1.0" />
<line x1="242.70" y1="352.87" x2="245.10" y2="352.87" stroke="#222" stroke-width="1.0" />
<rect x="243.0" y="344.9" width="1.8" height="1.8" fill="#2a1a45"/>
<line x1="170.30" y1="283.96" x2="172.70" y2="283.96" stroke="#222" stroke-width="1.0" />
<line x1="170.30" y1="305.28" x2="172.70" y2="305.28" stroke="#222" stroke-width="1.0" />
<rect x="170.6" y="293.7" width="1.8" height="1.8" fill="#3d7fae"/>
<line x1="184.78" y1="291.78" x2="187.18" y2="291.78" stroke="#222" stroke-width="1.0" />
<line x1="184.78" y1="311.67" x2="187.18" y2="311.67" stroke="#222" stroke-width="1.0" />
<rect x="185.1" y="300.8" width="1.8" height="1.8" fill="#3d7fae"/>
<line x1="199.26" y1="300.66" x2="201.66" y2="300.66" stroke="#222" stroke-width="1.0" />
<line x1="199.26" y1="321.97" x2="201.66" y2="321.97" stroke="#222" stroke-width="1.0" />
<rect x="199.6" y="310.4" width="1.8" height="1.8" fill="#3d7fae"/>
<line x1="213.74" y1="314.16" x2="216.14" y2="314.16" stroke="#222" stroke-width="1.0" />
<line x1="213.74" y1="331.21" x2="216.14" y2="331.21" stroke="#222" stroke-width="1.0" />
<rect x="214.0" y="321.8" width="1.8" height="1.8" fill="#3d7fae"/>
<line x1="228.22" y1="322.75" x2="230.62" y2="322.75" stroke="#222" stroke-width="1.0" />
<line x1="228.22" y1="341.22" x2="230.62" y2="341.22" stroke="#222" stroke-width="1.0" />
<rect x="228.5" y="331.1" width="1.8" height="1.8" fill="#3d7fae"/>
<line x1="242.70" y1="332.27" x2="245.10" y2="332.27" stroke="#222" stroke-width="1.0" />
<line x1="242.70" y1="343.64" x2="245.10" y2="343.64" stroke="#222" stroke-width="1.0" />
<rect x="243.0" y="337.1" width="1.8" height="1.8" fill="#3d7fae"/>
<line x1="170.30" y1="303.86" x2="172.70" y2="303.86" stroke="#222" stroke-width="1.0" />
<line x1="170.30" y1="323.75" x2="172.70" y2="323.75" stroke="#222" stroke-width="1.0" />
<rect x="170.6" y="312.9" width="1.8" height="1.8" fill="#9a1030"/>
<line x1="184.78" y1="317.35" x2="187.18" y2="317.35" stroke="#222" stroke-width="1.0" />
<line x1="184.78" y1="334.40" x2="187.18" y2="334.40" stroke="#222" stroke-width="1.0" />
<rect x="185.1" y="325.0" width="1.8" height="1.8" fill="#9a1030"/>
<line x1="199.26" y1="325.88" x2="201.66" y2="325.88" stroke="#222" stroke-width="1.0" />
<line x1="199.26" y1="338.66" x2="201.66" y2="338.66" stroke="#222" stroke-width="1.0" />
<rect x="199.6" y="331.4" width="1.8" height="1.8" fill="#9a1030"/>
<line x1="213.74" y1="332.27" x2="216.14" y2="332.27" stroke="#222" stroke-width="1.0" />
<line x1="213.74" y1="343.64" x2="216.14" y2="343.64" stroke="#222" stroke-width="1.0" />
<rect x="214.0" y="337.1" width="1.8" height="1.8" fill="#9a1030"/>
<line x1="228.22" y1="337.24" x2="230.62" y2="337.24" stroke="#222" stroke-width="1.0" />
<line x1="228.22" y1="347.19" x2="230.62" y2="347.19" stroke="#222" stroke-width="1.0" />
<rect x="228.5" y="341.3" width="1.8" height="1.8" fill="#9a1030"/>
<line x1="242.70" y1="339.38" x2="245.10" y2="339.38" stroke="#222" stroke-width="1.0" />
<line x1="242.70" y1="347.90" x2="245.10" y2="347.90" stroke="#222" stroke-width="1.0" />
<rect x="243.0" y="342.7" width="1.8" height="1.8" fill="#9a1030"/>
<line x1="250.20" y1="337.95" x2="250.20" y2="346.48" stroke="#444" stroke-width="0.8" />
<text x="249.9" y="342.2" font-size="5.6" font-weight="bold" text-anchor="middle" fill="#333" transform="rotate(90 249.9 342.2)">****</text>
<text x="336.2" y="257.8" font-size="8.2" text-anchor="middle" fill="#2a2a2a" stroke="#2a2a2a" stroke-width="0.14" font-weight="normal" >BL</text>
<text x="335.7" y="268.5" font-size="8.2" text-anchor="middle" fill="#2a2a2a" stroke="#2a2a2a" stroke-width="0.14" font-weight="normal" >Raji</text>
<line x1="290.00" y1="273.86" x2="290.00" y2="364.51" stroke="#222" stroke-width="1" />
<line x1="290.00" y1="347.90" x2="381.00" y2="347.90" stroke="#444" stroke-width="1.4" />
<line x1="287.00" y1="362.11" x2="290.00" y2="362.11" stroke="#222" stroke-width="0.7" />
<text x="283.7" y="364.2" font-size="5.7" text-anchor="end" fill="#333" stroke="#333" stroke-width="0.1" font-weight="normal" >-20</text>
<line x1="287.00" y1="347.90" x2="290.00" y2="347.90" stroke="#222" stroke-width="0.7" />
<text x="283.7" y="350.0" font-size="5.7" text-anchor="end" fill="#333" stroke="#333" stroke-width="0.1" font-weight="normal" >0</text>
<line x1="287.00" y1="333.69" x2="290.00" y2="333.69" stroke="#222" stroke-width="0.7" />
<text x="283.7" y="335.8" font-size="5.7" text-anchor="end" fill="#333" stroke="#333" stroke-width="0.1" font-weight="normal" >20</text>
<line x1="287.00" y1="319.48" x2="290.00" y2="319.48" stroke="#222" stroke-width="0.7" />
<text x="283.7" y="321.6" font-size="5.7" text-anchor="end" fill="#333" stroke="#333" stroke-width="0.1" font-weight="normal" >40</text>
<line x1="287.00" y1="305.28" x2="290.00" y2="305.28" stroke="#222" stroke-width="0.7" />
<text x="283.7" y="307.4" font-size="5.7" text-anchor="end" fill="#333" stroke="#333" stroke-width="0.1" font-weight="normal" >60</text>
<line x1="287.00" y1="291.07" x2="290.00" y2="291.07" stroke="#222" stroke-width="0.7" />
<text x="283.7" y="293.2" font-size="5.7" text-anchor="end" fill="#333" stroke="#333" stroke-width="0.1" font-weight="normal" >80</text>
<line x1="287.00" y1="276.86" x2="290.00" y2="276.86" stroke="#222" stroke-width="0.7" />
<text x="283.7" y="279.0" font-size="5.7" text-anchor="end" fill="#333" stroke="#333" stroke-width="0.1" font-weight="normal" >100</text>
<line x1="288.50" y1="357.37" x2="290.00" y2="357.37" stroke="#222" stroke-width="0.5" />
<line x1="288.50" y1="352.64" x2="290.00" y2="352.64" stroke="#222" stroke-width="0.5" />
<line x1="288.50" y1="343.16" x2="290.00" y2="343.16" stroke="#222" stroke-width="0.5" />
<line x1="288.50" y1="338.43" x2="290.00" y2="338.43" stroke="#222" stroke-width="0.5" />
<line x1="288.50" y1="328.96" x2="290.00" y2="328.96" stroke="#222" stroke-width="0.5" />
<line x1="288.50" y1="324.22" x2="290.00" y2="324.22" stroke="#222" stroke-width="0.5" />
<line x1="288.50" y1="314.75" x2="290.00" y2="314.75" stroke="#222" stroke-width="0.5" />
<line x1="288.50" y1="310.01" x2="290.00" y2="310.01" stroke="#222" stroke-width="0.5" />
<line x1="288.50" y1="300.54" x2="290.00" y2="300.54" stroke="#222" stroke-width="0.5" />
<line x1="288.50" y1="295.80" x2="290.00" y2="295.80" stroke="#222" stroke-width="0.5" />
<line x1="288.50" y1="286.33" x2="290.00" y2="286.33" stroke="#222" stroke-width="0.5" />
<line x1="288.50" y1="281.60" x2="290.00" y2="281.60" stroke="#222" stroke-width="0.5" />
<line x1="301.00" y1="347.90" x2="301.00" y2="350.50" stroke="#333" stroke-width="0.8" />
<text x="304.2" y="366.7" font-size="6.1" text-anchor="end" fill="#2a2a2a" stroke="#2a2a2a" stroke-width="0.12" transform="rotate(-45 304.2 366.7)">10:1</text>
<line x1="315.74" y1="347.90" x2="315.74" y2="350.50" stroke="#333" stroke-width="0.8" />
<text x="318.9" y="366.7" font-size="6.1" text-anchor="end" fill="#2a2a2a" stroke="#2a2a2a" stroke-width="0.12" transform="rotate(-45 318.9 366.7)">5:1</text>
<line x1="330.48" y1="347.90" x2="330.48" y2="350.50" stroke="#333" stroke-width="0.8" />
<text x="333.7" y="366.7" font-size="6.1" text-anchor="end" fill="#2a2a2a" stroke="#2a2a2a" stroke-width="0.12" transform="rotate(-45 333.7 366.7)">2.5:1</text>
<line x1="345.22" y1="347.90" x2="345.22" y2="350.50" stroke="#333" stroke-width="0.8" />
<text x="348.4" y="366.7" font-size="6.1" text-anchor="end" fill="#2a2a2a" stroke="#2a2a2a" stroke-width="0.12" transform="rotate(-45 348.4 366.7)">1.25:1</text>
<line x1="359.96" y1="347.90" x2="359.96" y2="350.50" stroke="#333" stroke-width="0.8" />
<text x="363.2" y="366.7" font-size="6.1" text-anchor="end" fill="#2a2a2a" stroke="#2a2a2a" stroke-width="0.12" transform="rotate(-45 363.2 366.7)">0.625:1</text>
<line x1="374.70" y1="347.90" x2="374.70" y2="350.50" stroke="#333" stroke-width="0.8" />
<text x="377.9" y="366.7" font-size="6.1" text-anchor="end" fill="#2a2a2a" stroke="#2a2a2a" stroke-width="0.12" transform="rotate(-45 377.9 366.7)">0.3125:1</text>
<text x="267.7" y="319.5" font-size="7.2" text-anchor="middle" fill="#222" stroke="#222" stroke-width="0.08" font-weight="normal" textLength="44.6" lengthAdjust="spacingAndGlyphs" transform="rotate(-90 267.7 319.5)">% Tumor cell lysis</text>
<text x="336.0" y="395.3" font-size="8.3" text-anchor="middle" fill="#222" stroke="#222" stroke-width="0.25" font-weight="normal" textLength="21.1" lengthAdjust="spacingAndGlyphs">E:T ratio</text>
<line x1="301.00" y1="301.01" x2="301.00" y2="313.80" stroke="#5d636b" stroke-width="0.75" />
<line x1="315.74" y1="314.51" x2="315.74" y2="324.46" stroke="#5d636b" stroke-width="0.75" />
<line x1="330.48" y1="323.04" x2="330.48" y2="335.82" stroke="#5d636b" stroke-width="0.75" />
<line x1="345.22" y1="334.40" x2="345.22" y2="342.93" stroke="#5d636b" stroke-width="0.75" />
<line x1="359.96" y1="340.80" x2="359.96" y2="353.58" stroke="#5d636b" stroke-width="0.75" />
<line x1="374.70" y1="348.61" x2="374.70" y2="358.56" stroke="#5d636b" stroke-width="0.75" />
<line x1="301.00" y1="290.36" x2="301.00" y2="313.09" stroke="#5d636b" stroke-width="0.75" />
<line x1="315.74" y1="295.33" x2="315.74" y2="323.75" stroke="#5d636b" stroke-width="0.75" />
<line x1="330.48" y1="303.14" x2="330.48" y2="334.40" stroke="#5d636b" stroke-width="0.75" />
<line x1="345.22" y1="313.80" x2="345.22" y2="339.38" stroke="#5d636b" stroke-width="0.75" />
<line x1="359.96" y1="324.46" x2="359.96" y2="345.77" stroke="#5d636b" stroke-width="0.75" />
<line x1="374.70" y1="328.72" x2="374.70" y2="347.19" stroke="#5d636b" stroke-width="0.75" />
<line x1="301.00" y1="278.28" x2="301.00" y2="289.65" stroke="#5d636b" stroke-width="0.75" />
<line x1="315.74" y1="286.10" x2="315.74" y2="293.20" stroke="#5d636b" stroke-width="0.75" />
<line x1="330.48" y1="293.20" x2="330.48" y2="300.30" stroke="#5d636b" stroke-width="0.75" />
<line x1="345.22" y1="305.28" x2="345.22" y2="315.22" stroke="#5d636b" stroke-width="0.75" />
<line x1="359.96" y1="318.06" x2="359.96" y2="325.17" stroke="#5d636b" stroke-width="0.75" />
<line x1="374.70" y1="328.01" x2="374.70" y2="335.11" stroke="#5d636b" stroke-width="0.75" />
<line x1="301.00" y1="281.12" x2="301.00" y2="289.65" stroke="#5d636b" stroke-width="0.75" />
<line x1="315.74" y1="291.07" x2="315.74" y2="301.01" stroke="#5d636b" stroke-width="0.75" />
<line x1="330.48" y1="296.75" x2="330.48" y2="308.12" stroke="#5d636b" stroke-width="0.75" />
<line x1="345.22" y1="309.54" x2="345.22" y2="322.33" stroke="#5d636b" stroke-width="0.75" />
<line x1="359.96" y1="325.17" x2="359.96" y2="336.53" stroke="#5d636b" stroke-width="0.75" />
<line x1="374.70" y1="337.95" x2="374.70" y2="349.32" stroke="#5d636b" stroke-width="0.75" />
<path d="M301.00 307.41 C302.23 308.41 313.28 317.65 315.74 319.48 C318.20 321.32 328.02 327.83 330.48 329.43 C332.94 331.03 342.76 337.18 345.22 338.66 C347.68 340.14 357.50 345.95 359.96 347.19 C362.42 348.43 373.47 353.05 374.70 353.58" fill="none" stroke="#4cad50" stroke-width="1.0"/>
<path d="M301.00 301.72 C302.23 302.38 313.28 308.12 315.74 309.54 C318.20 310.96 328.02 317.35 330.48 318.77 C332.94 320.19 342.76 325.23 345.22 326.59 C347.68 327.95 357.50 334.17 359.96 335.11 C362.42 336.06 373.47 337.72 374.70 337.95" fill="none" stroke="#5b3f6e" stroke-width="1.0"/>
<path d="M301.00 283.96 C302.23 284.44 313.28 288.58 315.74 289.65 C318.20 290.71 328.02 295.03 330.48 296.75 C332.94 298.47 342.76 308.18 345.22 310.25 C347.68 312.32 357.50 319.84 359.96 321.62 C362.42 323.39 373.47 330.73 374.70 331.56" fill="none" stroke="#72c6e6" stroke-width="1.0"/>
<path d="M301.00 285.38 C302.23 286.27 313.28 294.62 315.74 296.04 C318.20 297.46 328.02 300.78 330.48 302.43 C332.94 304.09 342.76 313.56 345.22 315.93 C347.68 318.30 357.50 328.54 359.96 330.85 C362.42 333.16 373.47 342.57 374.70 343.64" fill="none" stroke="#c2304c" stroke-width="1.0"/>
<line x1="299.80" y1="301.01" x2="302.20" y2="301.01" stroke="#222" stroke-width="1.0" />
<line x1="299.80" y1="313.80" x2="302.20" y2="313.80" stroke="#222" stroke-width="1.0" />
<rect x="300.1" y="306.5" width="1.8" height="1.8" fill="#2a7a3a"/>
<line x1="314.54" y1="314.51" x2="316.94" y2="314.51" stroke="#222" stroke-width="1.0" />
<line x1="314.54" y1="324.46" x2="316.94" y2="324.46" stroke="#222" stroke-width="1.0" />
<rect x="314.8" y="318.6" width="1.8" height="1.8" fill="#2a7a3a"/>
<line x1="329.28" y1="323.04" x2="331.68" y2="323.04" stroke="#222" stroke-width="1.0" />
<line x1="329.28" y1="335.82" x2="331.68" y2="335.82" stroke="#222" stroke-width="1.0" />
<rect x="329.6" y="328.5" width="1.8" height="1.8" fill="#2a7a3a"/>
<line x1="344.02" y1="334.40" x2="346.42" y2="334.40" stroke="#222" stroke-width="1.0" />
<line x1="344.02" y1="342.93" x2="346.42" y2="342.93" stroke="#222" stroke-width="1.0" />
<rect x="344.3" y="337.8" width="1.8" height="1.8" fill="#2a7a3a"/>
<line x1="358.76" y1="340.80" x2="361.16" y2="340.80" stroke="#222" stroke-width="1.0" />
<line x1="358.76" y1="353.58" x2="361.16" y2="353.58" stroke="#222" stroke-width="1.0" />
<rect x="359.1" y="346.3" width="1.8" height="1.8" fill="#2a7a3a"/>
<line x1="373.50" y1="348.61" x2="375.90" y2="348.61" stroke="#222" stroke-width="1.0" />
<line x1="373.50" y1="358.56" x2="375.90" y2="358.56" stroke="#222" stroke-width="1.0" />
<rect x="373.8" y="352.7" width="1.8" height="1.8" fill="#2a7a3a"/>
<line x1="299.80" y1="290.36" x2="302.20" y2="290.36" stroke="#222" stroke-width="1.0" />
<line x1="299.80" y1="313.09" x2="302.20" y2="313.09" stroke="#222" stroke-width="1.0" />
<rect x="300.1" y="300.8" width="1.8" height="1.8" fill="#2a1a45"/>
<line x1="314.54" y1="295.33" x2="316.94" y2="295.33" stroke="#222" stroke-width="1.0" />
<line x1="314.54" y1="323.75" x2="316.94" y2="323.75" stroke="#222" stroke-width="1.0" />
<rect x="314.8" y="308.6" width="1.8" height="1.8" fill="#2a1a45"/>
<line x1="329.28" y1="303.14" x2="331.68" y2="303.14" stroke="#222" stroke-width="1.0" />
<line x1="329.28" y1="334.40" x2="331.68" y2="334.40" stroke="#222" stroke-width="1.0" />
<rect x="329.6" y="317.9" width="1.8" height="1.8" fill="#2a1a45"/>
<line x1="344.02" y1="313.80" x2="346.42" y2="313.80" stroke="#222" stroke-width="1.0" />
<line x1="344.02" y1="339.38" x2="346.42" y2="339.38" stroke="#222" stroke-width="1.0" />
<rect x="344.3" y="325.7" width="1.8" height="1.8" fill="#2a1a45"/>
<line x1="358.76" y1="324.46" x2="361.16" y2="324.46" stroke="#222" stroke-width="1.0" />
<line x1="358.76" y1="345.77" x2="361.16" y2="345.77" stroke="#222" stroke-width="1.0" />
<rect x="359.1" y="334.2" width="1.8" height="1.8" fill="#2a1a45"/>
<line x1="373.50" y1="328.72" x2="375.90" y2="328.72" stroke="#222" stroke-width="1.0" />
<line x1="373.50" y1="347.19" x2="375.90" y2="347.19" stroke="#222" stroke-width="1.0" />
<rect x="373.8" y="337.1" width="1.8" height="1.8" fill="#2a1a45"/>
<line x1="299.80" y1="278.28" x2="302.20" y2="278.28" stroke="#222" stroke-width="1.0" />
<line x1="299.80" y1="289.65" x2="302.20" y2="289.65" stroke="#222" stroke-width="1.0" />
<rect x="300.1" y="283.1" width="1.8" height="1.8" fill="#3d7fae"/>
<line x1="314.54" y1="286.10" x2="316.94" y2="286.10" stroke="#222" stroke-width="1.0" />
<line x1="314.54" y1="293.20" x2="316.94" y2="293.20" stroke="#222" stroke-width="1.0" />
<rect x="314.8" y="288.7" width="1.8" height="1.8" fill="#3d7fae"/>
<line x1="329.28" y1="293.20" x2="331.68" y2="293.20" stroke="#222" stroke-width="1.0" />
<line x1="329.28" y1="300.30" x2="331.68" y2="300.30" stroke="#222" stroke-width="1.0" />
<rect x="329.6" y="295.9" width="1.8" height="1.8" fill="#3d7fae"/>
<line x1="344.02" y1="305.28" x2="346.42" y2="305.28" stroke="#222" stroke-width="1.0" />
<line x1="344.02" y1="315.22" x2="346.42" y2="315.22" stroke="#222" stroke-width="1.0" />
<rect x="344.3" y="309.3" width="1.8" height="1.8" fill="#3d7fae"/>
<line x1="358.76" y1="318.06" x2="361.16" y2="318.06" stroke="#222" stroke-width="1.0" />
<line x1="358.76" y1="325.17" x2="361.16" y2="325.17" stroke="#222" stroke-width="1.0" />
<rect x="359.1" y="320.7" width="1.8" height="1.8" fill="#3d7fae"/>
<line x1="373.50" y1="328.01" x2="375.90" y2="328.01" stroke="#222" stroke-width="1.0" />
<line x1="373.50" y1="335.11" x2="375.90" y2="335.11" stroke="#222" stroke-width="1.0" />
<rect x="373.8" y="330.7" width="1.8" height="1.8" fill="#3d7fae"/>
<line x1="299.80" y1="281.12" x2="302.20" y2="281.12" stroke="#222" stroke-width="1.0" />
<line x1="299.80" y1="289.65" x2="302.20" y2="289.65" stroke="#222" stroke-width="1.0" />
<rect x="300.1" y="284.5" width="1.8" height="1.8" fill="#9a1030"/>
<line x1="314.54" y1="291.07" x2="316.94" y2="291.07" stroke="#222" stroke-width="1.0" />
<line x1="314.54" y1="301.01" x2="316.94" y2="301.01" stroke="#222" stroke-width="1.0" />
<rect x="314.8" y="295.1" width="1.8" height="1.8" fill="#9a1030"/>
<line x1="329.28" y1="296.75" x2="331.68" y2="296.75" stroke="#222" stroke-width="1.0" />
<line x1="329.28" y1="308.12" x2="331.68" y2="308.12" stroke="#222" stroke-width="1.0" />
<rect x="329.6" y="301.5" width="1.8" height="1.8" fill="#9a1030"/>
<line x1="344.02" y1="309.54" x2="346.42" y2="309.54" stroke="#222" stroke-width="1.0" />
<line x1="344.02" y1="322.33" x2="346.42" y2="322.33" stroke="#222" stroke-width="1.0" />
<rect x="344.3" y="315.0" width="1.8" height="1.8" fill="#9a1030"/>
<line x1="358.76" y1="325.17" x2="361.16" y2="325.17" stroke="#222" stroke-width="1.0" />
<line x1="358.76" y1="336.53" x2="361.16" y2="336.53" stroke="#222" stroke-width="1.0" />
<rect x="359.1" y="330.0" width="1.8" height="1.8" fill="#9a1030"/>
<line x1="373.50" y1="337.95" x2="375.90" y2="337.95" stroke="#222" stroke-width="1.0" />
<line x1="373.50" y1="349.32" x2="375.90" y2="349.32" stroke="#222" stroke-width="1.0" />
<rect x="373.8" y="342.7" width="1.8" height="1.8" fill="#9a1030"/>
<line x1="380.20" y1="329.43" x2="380.20" y2="344.35" stroke="#444" stroke-width="0.8" />
<text x="379.9" y="336.9" font-size="5.6" font-weight="bold" text-anchor="middle" fill="#333" transform="rotate(90 379.9 336.9)">*</text>
<text x="465.6" y="257.8" font-size="8.2" text-anchor="middle" fill="#2a2a2a" stroke="#2a2a2a" stroke-width="0.14" font-weight="normal" textLength="18.6" lengthAdjust="spacingAndGlyphs">T-ALL</text>
<text x="465.1" y="268.5" font-size="8.2" text-anchor="middle" fill="#2a2a2a" stroke="#2a2a2a" stroke-width="0.14" font-weight="normal" textLength="18.6" lengthAdjust="spacingAndGlyphs">T-ALL</text>
<line x1="420.00" y1="273.86" x2="420.00" y2="364.51" stroke="#222" stroke-width="1" />
<line x1="420.00" y1="347.90" x2="510.50" y2="347.90" stroke="#444" stroke-width="1.4" />
<line x1="417.00" y1="362.11" x2="420.00" y2="362.11" stroke="#222" stroke-width="0.7" />
<text x="413.7" y="364.2" font-size="5.7" text-anchor="end" fill="#333" stroke="#333" stroke-width="0.1" font-weight="normal" >-20</text>
<line x1="417.00" y1="347.90" x2="420.00" y2="347.90" stroke="#222" stroke-width="0.7" />
<text x="413.7" y="350.0" font-size="5.7" text-anchor="end" fill="#333" stroke="#333" stroke-width="0.1" font-weight="normal" >0</text>
<line x1="417.00" y1="333.69" x2="420.00" y2="333.69" stroke="#222" stroke-width="0.7" />
<text x="413.7" y="335.8" font-size="5.7" text-anchor="end" fill="#333" stroke="#333" stroke-width="0.1" font-weight="normal" >20</text>
<line x1="417.00" y1="319.48" x2="420.00" y2="319.48" stroke="#222" stroke-width="0.7" />
<text x="413.7" y="321.6" font-size="5.7" text-anchor="end" fill="#333" stroke="#333" stroke-width="0.1" font-weight="normal" >40</text>
<line x1="417.00" y1="305.28" x2="420.00" y2="305.28" stroke="#222" stroke-width="0.7" />
<text x="413.7" y="307.4" font-size="5.7" text-anchor="end" fill="#333" stroke="#333" stroke-width="0.1" font-weight="normal" >60</text>
<line x1="417.00" y1="291.07" x2="420.00" y2="291.07" stroke="#222" stroke-width="0.7" />
<text x="413.7" y="293.2" font-size="5.7" text-anchor="end" fill="#333" stroke="#333" stroke-width="0.1" font-weight="normal" >80</text>
<line x1="417.00" y1="276.86" x2="420.00" y2="276.86" stroke="#222" stroke-width="0.7" />
<text x="413.7" y="279.0" font-size="5.7" text-anchor="end" fill="#333" stroke="#333" stroke-width="0.1" font-weight="normal" >100</text>
<line x1="418.50" y1="357.37" x2="420.00" y2="357.37" stroke="#222" stroke-width="0.5" />
<line x1="418.50" y1="352.64" x2="420.00" y2="352.64" stroke="#222" stroke-width="0.5" />
<line x1="418.50" y1="343.16" x2="420.00" y2="343.16" stroke="#222" stroke-width="0.5" />
<line x1="418.50" y1="338.43" x2="420.00" y2="338.43" stroke="#222" stroke-width="0.5" />
<line x1="418.50" y1="328.96" x2="420.00" y2="328.96" stroke="#222" stroke-width="0.5" />
<line x1="418.50" y1="324.22" x2="420.00" y2="324.22" stroke="#222" stroke-width="0.5" />
<line x1="418.50" y1="314.75" x2="420.00" y2="314.75" stroke="#222" stroke-width="0.5" />
<line x1="418.50" y1="310.01" x2="420.00" y2="310.01" stroke="#222" stroke-width="0.5" />
<line x1="418.50" y1="300.54" x2="420.00" y2="300.54" stroke="#222" stroke-width="0.5" />
<line x1="418.50" y1="295.80" x2="420.00" y2="295.80" stroke="#222" stroke-width="0.5" />
<line x1="418.50" y1="286.33" x2="420.00" y2="286.33" stroke="#222" stroke-width="0.5" />
<line x1="418.50" y1="281.60" x2="420.00" y2="281.60" stroke="#222" stroke-width="0.5" />
<line x1="431.00" y1="347.90" x2="431.00" y2="350.50" stroke="#333" stroke-width="0.8" />
<text x="434.2" y="366.4" font-size="6.1" text-anchor="end" fill="#2a2a2a" stroke="#2a2a2a" stroke-width="0.12" transform="rotate(-45 434.2 366.4)">10:1</text>
<line x1="445.46" y1="347.90" x2="445.46" y2="350.50" stroke="#333" stroke-width="0.8" />
<text x="448.7" y="366.4" font-size="6.1" text-anchor="end" fill="#2a2a2a" stroke="#2a2a2a" stroke-width="0.12" transform="rotate(-45 448.7 366.4)">5:1</text>
<line x1="459.92" y1="347.90" x2="459.92" y2="350.50" stroke="#333" stroke-width="0.8" />
<text x="463.1" y="366.4" font-size="6.1" text-anchor="end" fill="#2a2a2a" stroke="#2a2a2a" stroke-width="0.12" transform="rotate(-45 463.1 366.4)">2.5:1</text>
<line x1="474.38" y1="347.90" x2="474.38" y2="350.50" stroke="#333" stroke-width="0.8" />
<text x="477.6" y="366.4" font-size="6.1" text-anchor="end" fill="#2a2a2a" stroke="#2a2a2a" stroke-width="0.12" transform="rotate(-45 477.6 366.4)">1.25:1</text>
<line x1="488.84" y1="347.90" x2="488.84" y2="350.50" stroke="#333" stroke-width="0.8" />
<text x="492.0" y="366.4" font-size="6.1" text-anchor="end" fill="#2a2a2a" stroke="#2a2a2a" stroke-width="0.12" transform="rotate(-45 492.0 366.4)">0.625:1</text>
<line x1="503.30" y1="347.90" x2="503.30" y2="350.50" stroke="#333" stroke-width="0.8" />
<text x="506.5" y="366.4" font-size="6.1" text-anchor="end" fill="#2a2a2a" stroke="#2a2a2a" stroke-width="0.12" transform="rotate(-45 506.5 366.4)">0.3125:1</text>
<text x="400.0" y="319.5" font-size="7.2" text-anchor="middle" fill="#222" stroke="#222" stroke-width="0.08" font-weight="normal" textLength="44.6" lengthAdjust="spacingAndGlyphs" transform="rotate(-90 400.0 319.5)">% Tumor cell lysis</text>
<text x="465.5" y="393.9" font-size="8.3" text-anchor="middle" fill="#222" stroke="#222" stroke-width="0.25" font-weight="normal" textLength="21.1" lengthAdjust="spacingAndGlyphs">E:T ratio</text>
<line x1="431.00" y1="303.14" x2="431.00" y2="331.56" stroke="#5d636b" stroke-width="0.75" />
<line x1="445.46" y1="313.09" x2="445.46" y2="351.45" stroke="#5d636b" stroke-width="0.75" />
<line x1="459.92" y1="320.90" x2="459.92" y2="360.69" stroke="#5d636b" stroke-width="0.75" />
<line x1="474.38" y1="313.80" x2="474.38" y2="356.42" stroke="#5d636b" stroke-width="0.75" />
<line x1="488.84" y1="325.17" x2="488.84" y2="357.85" stroke="#5d636b" stroke-width="0.75" />
<line x1="503.30" y1="317.35" x2="503.30" y2="348.61" stroke="#5d636b" stroke-width="0.75" />
<line x1="431.00" y1="276.15" x2="431.00" y2="331.56" stroke="#5d636b" stroke-width="0.75" />
<line x1="445.46" y1="277.57" x2="445.46" y2="325.88" stroke="#5d636b" stroke-width="0.75" />
<line x1="459.92" y1="276.86" x2="459.92" y2="342.22" stroke="#5d636b" stroke-width="0.75" />
<line x1="474.38" y1="276.86" x2="474.38" y2="328.01" stroke="#5d636b" stroke-width="0.75" />
<line x1="488.84" y1="291.07" x2="488.84" y2="325.17" stroke="#5d636b" stroke-width="0.75" />
<line x1="503.30" y1="284.67" x2="503.30" y2="308.83" stroke="#5d636b" stroke-width="0.75" />
<line x1="431.00" y1="276.86" x2="431.00" y2="283.96" stroke="#5d636b" stroke-width="0.75" />
<line x1="445.46" y1="278.99" x2="445.46" y2="286.10" stroke="#5d636b" stroke-width="0.75" />
<line x1="459.92" y1="276.86" x2="459.92" y2="299.59" stroke="#5d636b" stroke-width="0.75" />
<line x1="474.38" y1="276.86" x2="474.38" y2="309.54" stroke="#5d636b" stroke-width="0.75" />
<line x1="488.84" y1="291.07" x2="488.84" y2="296.75" stroke="#5d636b" stroke-width="0.75" />
<line x1="503.30" y1="286.10" x2="503.30" y2="294.62" stroke="#5d636b" stroke-width="0.75" />
<line x1="431.00" y1="282.54" x2="431.00" y2="299.59" stroke="#5d636b" stroke-width="0.75" />
<line x1="445.46" y1="308.12" x2="445.46" y2="328.01" stroke="#5d636b" stroke-width="0.75" />
<line x1="459.92" y1="303.86" x2="459.92" y2="332.27" stroke="#5d636b" stroke-width="0.75" />
<line x1="474.38" y1="303.86" x2="474.38" y2="332.27" stroke="#5d636b" stroke-width="0.75" />
<line x1="488.84" y1="309.54" x2="488.84" y2="335.11" stroke="#5d636b" stroke-width="0.75" />
<line x1="503.30" y1="310.96" x2="503.30" y2="339.38" stroke="#5d636b" stroke-width="0.75" />
<path d="M431.00 317.35 C432.20 318.60 443.05 330.32 445.46 332.27 C447.87 334.22 457.51 340.56 459.92 340.80 C462.33 341.03 471.97 335.05 474.38 335.11 C476.79 335.17 486.43 341.68 488.84 341.51 C491.25 341.33 502.10 333.69 503.30 332.98" fill="none" stroke="#4cad50" stroke-width="1.0"/>
<path d="M431.00 303.86 C432.20 303.68 443.05 301.25 445.46 301.72 C447.87 302.20 457.51 309.48 459.92 309.54 C462.33 309.60 471.97 302.55 474.38 302.43 C476.79 302.32 486.43 308.59 488.84 308.12 C491.25 307.64 502.10 297.70 503.30 296.75" fill="none" stroke="#5b3f6e" stroke-width="1.0"/>
<path d="M431.00 280.41 C432.20 280.59 443.05 281.89 445.46 282.54 C447.87 283.19 457.51 287.34 459.92 288.23 C462.33 289.11 471.97 292.73 474.38 293.20 C476.79 293.67 486.43 294.15 488.84 293.91 C491.25 293.67 502.10 290.65 503.30 290.36" fill="none" stroke="#72c6e6" stroke-width="1.0"/>
<path d="M431.00 291.07 C432.20 293.32 443.05 315.81 445.46 318.06 C447.87 320.31 457.51 318.06 459.92 318.06 C462.33 318.06 471.97 317.71 474.38 318.06 C476.79 318.42 486.43 321.73 488.84 322.33 C491.25 322.92 502.10 324.93 503.30 325.17" fill="none" stroke="#c2304c" stroke-width="1.0"/>
<line x1="429.80" y1="303.14" x2="432.20" y2="303.14" stroke="#222" stroke-width="1.0" />
<line x1="429.80" y1="331.56" x2="432.20" y2="331.56" stroke="#222" stroke-width="1.0" />
<rect x="430.1" y="316.5" width="1.8" height="1.8" fill="#2a7a3a"/>
<line x1="444.26" y1="313.09" x2="446.66" y2="313.09" stroke="#222" stroke-width="1.0" />
<line x1="444.26" y1="351.45" x2="446.66" y2="351.45" stroke="#222" stroke-width="1.0" />
<rect x="444.6" y="331.4" width="1.8" height="1.8" fill="#2a7a3a"/>
<line x1="458.72" y1="320.90" x2="461.12" y2="320.90" stroke="#222" stroke-width="1.0" />
<line x1="458.72" y1="360.69" x2="461.12" y2="360.69" stroke="#222" stroke-width="1.0" />
<rect x="459.0" y="339.9" width="1.8" height="1.8" fill="#2a7a3a"/>
<line x1="473.18" y1="313.80" x2="475.58" y2="313.80" stroke="#222" stroke-width="1.0" />
<line x1="473.18" y1="356.42" x2="475.58" y2="356.42" stroke="#222" stroke-width="1.0" />
<rect x="473.5" y="334.2" width="1.8" height="1.8" fill="#2a7a3a"/>
<line x1="487.64" y1="325.17" x2="490.04" y2="325.17" stroke="#222" stroke-width="1.0" />
<line x1="487.64" y1="357.85" x2="490.04" y2="357.85" stroke="#222" stroke-width="1.0" />
<rect x="487.9" y="340.6" width="1.8" height="1.8" fill="#2a7a3a"/>
<line x1="502.10" y1="317.35" x2="504.50" y2="317.35" stroke="#222" stroke-width="1.0" />
<line x1="502.10" y1="348.61" x2="504.50" y2="348.61" stroke="#222" stroke-width="1.0" />
<rect x="502.4" y="332.1" width="1.8" height="1.8" fill="#2a7a3a"/>
<line x1="429.80" y1="276.15" x2="432.20" y2="276.15" stroke="#222" stroke-width="1.0" />
<line x1="429.80" y1="331.56" x2="432.20" y2="331.56" stroke="#222" stroke-width="1.0" />
<rect x="430.1" y="303.0" width="1.8" height="1.8" fill="#2a1a45"/>
<line x1="444.26" y1="277.57" x2="446.66" y2="277.57" stroke="#222" stroke-width="1.0" />
<line x1="444.26" y1="325.88" x2="446.66" y2="325.88" stroke="#222" stroke-width="1.0" />
<rect x="444.6" y="300.8" width="1.8" height="1.8" fill="#2a1a45"/>
<line x1="458.72" y1="276.86" x2="461.12" y2="276.86" stroke="#222" stroke-width="1.0" />
<line x1="458.72" y1="342.22" x2="461.12" y2="342.22" stroke="#222" stroke-width="1.0" />
<rect x="459.0" y="308.6" width="1.8" height="1.8" fill="#2a1a45"/>
<line x1="473.18" y1="276.86" x2="475.58" y2="276.86" stroke="#222" stroke-width="1.0" />
<line x1="473.18" y1="328.01" x2="475.58" y2="328.01" stroke="#222" stroke-width="1.0" />
<rect x="473.5" y="301.5" width="1.8" height="1.8" fill="#2a1a45"/>
<line x1="487.64" y1="291.07" x2="490.04" y2="291.07" stroke="#222" stroke-width="1.0" />
<line x1="487.64" y1="325.17" x2="490.04" y2="325.17" stroke="#222" stroke-width="1.0" />
<rect x="487.9" y="307.2" width="1.8" height="1.8" fill="#2a1a45"/>
<line x1="502.10" y1="284.67" x2="504.50" y2="284.67" stroke="#222" stroke-width="1.0" />
<line x1="502.10" y1="308.83" x2="504.50" y2="308.83" stroke="#222" stroke-width="1.0" />
<rect x="502.4" y="295.9" width="1.8" height="1.8" fill="#2a1a45"/>
<line x1="429.80" y1="276.86" x2="432.20" y2="276.86" stroke="#222" stroke-width="1.0" />
<line x1="429.80" y1="283.96" x2="432.20" y2="283.96" stroke="#222" stroke-width="1.0" />
<rect x="430.1" y="279.5" width="1.8" height="1.8" fill="#3d7fae"/>
<line x1="444.26" y1="278.99" x2="446.66" y2="278.99" stroke="#222" stroke-width="1.0" />
<line x1="444.26" y1="286.10" x2="446.66" y2="286.10" stroke="#222" stroke-width="1.0" />
<rect x="444.6" y="281.6" width="1.8" height="1.8" fill="#3d7fae"/>
<line x1="458.72" y1="276.86" x2="461.12" y2="276.86" stroke="#222" stroke-width="1.0" />
<line x1="458.72" y1="299.59" x2="461.12" y2="299.59" stroke="#222" stroke-width="1.0" />
<rect x="459.0" y="287.3" width="1.8" height="1.8" fill="#3d7fae"/>
<line x1="473.18" y1="276.86" x2="475.58" y2="276.86" stroke="#222" stroke-width="1.0" />
<line x1="473.18" y1="309.54" x2="475.58" y2="309.54" stroke="#222" stroke-width="1.0" />
<rect x="473.5" y="292.3" width="1.8" height="1.8" fill="#3d7fae"/>
<line x1="487.64" y1="291.07" x2="490.04" y2="291.07" stroke="#222" stroke-width="1.0" />
<line x1="487.64" y1="296.75" x2="490.04" y2="296.75" stroke="#222" stroke-width="1.0" />
<rect x="487.9" y="293.0" width="1.8" height="1.8" fill="#3d7fae"/>
<line x1="502.10" y1="286.10" x2="504.50" y2="286.10" stroke="#222" stroke-width="1.0" />
<line x1="502.10" y1="294.62" x2="504.50" y2="294.62" stroke="#222" stroke-width="1.0" />
<rect x="502.4" y="289.5" width="1.8" height="1.8" fill="#3d7fae"/>
<line x1="429.80" y1="282.54" x2="432.20" y2="282.54" stroke="#222" stroke-width="1.0" />
<line x1="429.80" y1="299.59" x2="432.20" y2="299.59" stroke="#222" stroke-width="1.0" />
<rect x="430.1" y="290.2" width="1.8" height="1.8" fill="#9a1030"/>
<line x1="444.26" y1="308.12" x2="446.66" y2="308.12" stroke="#222" stroke-width="1.0" />
<line x1="444.26" y1="328.01" x2="446.66" y2="328.01" stroke="#222" stroke-width="1.0" />
<rect x="444.6" y="317.2" width="1.8" height="1.8" fill="#9a1030"/>
<line x1="458.72" y1="303.86" x2="461.12" y2="303.86" stroke="#222" stroke-width="1.0" />
<line x1="458.72" y1="332.27" x2="461.12" y2="332.27" stroke="#222" stroke-width="1.0" />
<rect x="459.0" y="317.2" width="1.8" height="1.8" fill="#9a1030"/>
<line x1="473.18" y1="303.86" x2="475.58" y2="303.86" stroke="#222" stroke-width="1.0" />
<line x1="473.18" y1="332.27" x2="475.58" y2="332.27" stroke="#222" stroke-width="1.0" />
<rect x="473.5" y="317.2" width="1.8" height="1.8" fill="#9a1030"/>
<line x1="487.64" y1="309.54" x2="490.04" y2="309.54" stroke="#222" stroke-width="1.0" />
<line x1="487.64" y1="335.11" x2="490.04" y2="335.11" stroke="#222" stroke-width="1.0" />
<rect x="487.9" y="321.4" width="1.8" height="1.8" fill="#9a1030"/>
<line x1="502.10" y1="310.96" x2="504.50" y2="310.96" stroke="#222" stroke-width="1.0" />
<line x1="502.10" y1="339.38" x2="504.50" y2="339.38" stroke="#222" stroke-width="1.0" />
<rect x="502.4" y="324.3" width="1.8" height="1.8" fill="#9a1030"/>
<line x1="509.30" y1="290.36" x2="509.30" y2="325.88" stroke="#444" stroke-width="0.8" />
<text x="509.0" y="308.1" font-size="5.6" font-weight="bold" text-anchor="middle" fill="#333" transform="rotate(90 509.0 308.1)">****</text>
<text x="78.5" y="413.1" font-size="7.9" text-anchor="middle" fill="#2a2a2a" stroke="#2a2a2a" stroke-width="0.14" font-weight="normal" >MM1S</text>
<line x1="34.50" y1="417.60" x2="34.50" y2="509.88" stroke="#222" stroke-width="1" />
<line x1="34.50" y1="493.00" x2="121.50" y2="493.00" stroke="#444" stroke-width="1.4" />
<line x1="31.50" y1="507.48" x2="34.50" y2="507.48" stroke="#222" stroke-width="0.7" />
<text x="28.2" y="509.6" font-size="5.7" text-anchor="end" fill="#333" stroke="#333" stroke-width="0.1" font-weight="normal" >-20</text>
<line x1="31.50" y1="493.00" x2="34.50" y2="493.00" stroke="#222" stroke-width="0.7" />
<text x="28.2" y="495.1" font-size="5.7" text-anchor="end" fill="#333" stroke="#333" stroke-width="0.1" font-weight="normal" >0</text>
<line x1="31.50" y1="478.52" x2="34.50" y2="478.52" stroke="#222" stroke-width="0.7" />
<text x="28.2" y="480.6" font-size="5.7" text-anchor="end" fill="#333" stroke="#333" stroke-width="0.1" font-weight="normal" >20</text>
<line x1="31.50" y1="464.04" x2="34.50" y2="464.04" stroke="#222" stroke-width="0.7" />
<text x="28.2" y="466.1" font-size="5.7" text-anchor="end" fill="#333" stroke="#333" stroke-width="0.1" font-weight="normal" >40</text>
<line x1="31.50" y1="449.56" x2="34.50" y2="449.56" stroke="#222" stroke-width="0.7" />
<text x="28.2" y="451.7" font-size="5.7" text-anchor="end" fill="#333" stroke="#333" stroke-width="0.1" font-weight="normal" >60</text>
<line x1="31.50" y1="435.08" x2="34.50" y2="435.08" stroke="#222" stroke-width="0.7" />
<text x="28.2" y="437.2" font-size="5.7" text-anchor="end" fill="#333" stroke="#333" stroke-width="0.1" font-weight="normal" >80</text>
<line x1="31.50" y1="420.60" x2="34.50" y2="420.60" stroke="#222" stroke-width="0.7" />
<text x="28.2" y="422.7" font-size="5.7" text-anchor="end" fill="#333" stroke="#333" stroke-width="0.1" font-weight="normal" >100</text>
<line x1="33.00" y1="502.65" x2="34.50" y2="502.65" stroke="#222" stroke-width="0.5" />
<line x1="33.00" y1="497.83" x2="34.50" y2="497.83" stroke="#222" stroke-width="0.5" />
<line x1="33.00" y1="488.17" x2="34.50" y2="488.17" stroke="#222" stroke-width="0.5" />
<line x1="33.00" y1="483.35" x2="34.50" y2="483.35" stroke="#222" stroke-width="0.5" />
<line x1="33.00" y1="473.69" x2="34.50" y2="473.69" stroke="#222" stroke-width="0.5" />
<line x1="33.00" y1="468.87" x2="34.50" y2="468.87" stroke="#222" stroke-width="0.5" />
<line x1="33.00" y1="459.21" x2="34.50" y2="459.21" stroke="#222" stroke-width="0.5" />
<line x1="33.00" y1="454.39" x2="34.50" y2="454.39" stroke="#222" stroke-width="0.5" />
<line x1="33.00" y1="444.73" x2="34.50" y2="444.73" stroke="#222" stroke-width="0.5" />
<line x1="33.00" y1="439.91" x2="34.50" y2="439.91" stroke="#222" stroke-width="0.5" />
<line x1="33.00" y1="430.25" x2="34.50" y2="430.25" stroke="#222" stroke-width="0.5" />
<line x1="33.00" y1="425.43" x2="34.50" y2="425.43" stroke="#222" stroke-width="0.5" />
<line x1="43.70" y1="493.00" x2="43.70" y2="495.60" stroke="#333" stroke-width="0.8" />
<text x="46.9" y="506.8" font-size="6.1" text-anchor="end" fill="#2a2a2a" stroke="#2a2a2a" stroke-width="0.12" transform="rotate(-45 46.9 506.8)">10:1</text>
<line x1="58.06" y1="493.00" x2="58.06" y2="495.60" stroke="#333" stroke-width="0.8" />
<text x="61.3" y="506.8" font-size="6.1" text-anchor="end" fill="#2a2a2a" stroke="#2a2a2a" stroke-width="0.12" transform="rotate(-45 61.3 506.8)">5:1</text>
<line x1="72.42" y1="493.00" x2="72.42" y2="495.60" stroke="#333" stroke-width="0.8" />
<text x="75.6" y="506.8" font-size="6.1" text-anchor="end" fill="#2a2a2a" stroke="#2a2a2a" stroke-width="0.12" transform="rotate(-45 75.6 506.8)">2.5:1</text>
<line x1="86.78" y1="493.00" x2="86.78" y2="495.60" stroke="#333" stroke-width="0.8" />
<text x="90.0" y="506.8" font-size="6.1" text-anchor="end" fill="#2a2a2a" stroke="#2a2a2a" stroke-width="0.12" transform="rotate(-45 90.0 506.8)">1.25:1</text>
<line x1="101.14" y1="493.00" x2="101.14" y2="495.60" stroke="#333" stroke-width="0.8" />
<text x="104.3" y="506.8" font-size="6.1" text-anchor="end" fill="#2a2a2a" stroke="#2a2a2a" stroke-width="0.12" transform="rotate(-45 104.3 506.8)">0.625:1</text>
<line x1="115.50" y1="493.00" x2="115.50" y2="495.60" stroke="#333" stroke-width="0.8" />
<text x="118.7" y="506.8" font-size="6.1" text-anchor="end" fill="#2a2a2a" stroke="#2a2a2a" stroke-width="0.12" transform="rotate(-45 118.7 506.8)">0.3125:1</text>
<text x="13.3" y="464.0" font-size="7.2" text-anchor="middle" fill="#222" stroke="#222" stroke-width="0.08" font-weight="normal" textLength="44.6" lengthAdjust="spacingAndGlyphs" transform="rotate(-90 13.3 464.0)">% Tumor cell lysis</text>
<text x="79.2" y="535.2" font-size="8.3" text-anchor="middle" fill="#222" stroke="#222" stroke-width="0.25" font-weight="normal" textLength="21.1" lengthAdjust="spacingAndGlyphs">E:T ratio</text>
<line x1="43.70" y1="458.97" x2="43.70" y2="486.48" stroke="#5d636b" stroke-width="0.75" />
<line x1="58.06" y1="471.28" x2="58.06" y2="497.34" stroke="#5d636b" stroke-width="0.75" />
<line x1="72.42" y1="482.14" x2="72.42" y2="499.52" stroke="#5d636b" stroke-width="0.75" />
<line x1="86.78" y1="485.04" x2="86.78" y2="499.52" stroke="#5d636b" stroke-width="0.75" />
<line x1="101.14" y1="491.55" x2="101.14" y2="497.34" stroke="#5d636b" stroke-width="0.75" />
<line x1="115.50" y1="492.28" x2="115.50" y2="499.52" stroke="#5d636b" stroke-width="0.75" />
<line x1="43.70" y1="469.11" x2="43.70" y2="493.72" stroke="#5d636b" stroke-width="0.75" />
<line x1="58.06" y1="473.45" x2="58.06" y2="493.72" stroke="#5d636b" stroke-width="0.75" />
<line x1="72.42" y1="479.97" x2="72.42" y2="500.24" stroke="#5d636b" stroke-width="0.75" />
<line x1="86.78" y1="482.86" x2="86.78" y2="500.24" stroke="#5d636b" stroke-width="0.75" />
<line x1="101.14" y1="490.83" x2="101.14" y2="496.62" stroke="#5d636b" stroke-width="0.75" />
<line x1="115.50" y1="486.48" x2="115.50" y2="498.07" stroke="#5d636b" stroke-width="0.75" />
<line x1="43.70" y1="431.46" x2="43.70" y2="443.04" stroke="#5d636b" stroke-width="0.75" />
<line x1="58.06" y1="443.04" x2="58.06" y2="460.42" stroke="#5d636b" stroke-width="0.75" />
<line x1="72.42" y1="449.56" x2="72.42" y2="469.83" stroke="#5d636b" stroke-width="0.75" />
<line x1="86.78" y1="464.76" x2="86.78" y2="479.24" stroke="#5d636b" stroke-width="0.75" />
<line x1="101.14" y1="477.80" x2="101.14" y2="486.48" stroke="#5d636b" stroke-width="0.75" />
<line x1="115.50" y1="487.21" x2="115.50" y2="495.90" stroke="#5d636b" stroke-width="0.75" />
<line x1="43.70" y1="431.46" x2="43.70" y2="441.60" stroke="#5d636b" stroke-width="0.75" />
<line x1="58.06" y1="443.77" x2="58.06" y2="462.59" stroke="#5d636b" stroke-width="0.75" />
<line x1="72.42" y1="449.56" x2="72.42" y2="472.73" stroke="#5d636b" stroke-width="0.75" />
<line x1="86.78" y1="464.76" x2="86.78" y2="480.69" stroke="#5d636b" stroke-width="0.75" />
<line x1="101.14" y1="474.90" x2="101.14" y2="486.48" stroke="#5d636b" stroke-width="0.75" />
<line x1="115.50" y1="485.04" x2="115.50" y2="495.17" stroke="#5d636b" stroke-width="0.75" />
<path d="M43.70 472.73 C44.90 473.69 55.67 482.80 58.06 484.31 C60.45 485.82 70.03 490.16 72.42 490.83 C74.81 491.49 84.39 491.97 86.78 492.28 C89.17 492.58 98.75 494.15 101.14 494.45 C103.53 494.75 114.30 495.78 115.50 495.90" fill="none" stroke="#4cad50" stroke-width="1.0"/>
<path d="M43.70 481.42 C44.90 481.60 55.67 482.86 58.06 483.59 C60.45 484.31 70.03 489.44 72.42 490.10 C74.81 490.77 84.39 491.25 86.78 491.55 C89.17 491.85 98.75 493.66 101.14 493.72 C103.53 493.78 114.30 492.40 115.50 492.28" fill="none" stroke="#5b3f6e" stroke-width="1.0"/>
<path d="M43.70 437.25 C44.90 438.46 55.67 449.86 58.06 451.73 C60.45 453.60 70.03 458.01 72.42 459.70 C74.81 461.39 84.39 470.13 86.78 472.00 C89.17 473.87 98.75 480.51 101.14 482.14 C103.53 483.77 114.30 490.77 115.50 491.55" fill="none" stroke="#72c6e6" stroke-width="1.0"/>
<path d="M43.70 436.53 C44.90 437.92 55.67 451.13 58.06 453.18 C60.45 455.23 70.03 459.51 72.42 461.14 C74.81 462.77 84.39 471.10 86.78 472.73 C89.17 474.36 98.75 479.24 101.14 480.69 C103.53 482.14 114.30 489.32 115.50 490.10" fill="none" stroke="#c2304c" stroke-width="1.0"/>
<line x1="42.50" y1="458.97" x2="44.90" y2="458.97" stroke="#222" stroke-width="1.0" />
<line x1="42.50" y1="486.48" x2="44.90" y2="486.48" stroke="#222" stroke-width="1.0" />
<rect x="42.8" y="471.8" width="1.8" height="1.8" fill="#2a7a3a"/>
<line x1="56.86" y1="471.28" x2="59.26" y2="471.28" stroke="#222" stroke-width="1.0" />
<line x1="56.86" y1="497.34" x2="59.26" y2="497.34" stroke="#222" stroke-width="1.0" />
<rect x="57.2" y="483.4" width="1.8" height="1.8" fill="#2a7a3a"/>
<line x1="71.22" y1="482.14" x2="73.62" y2="482.14" stroke="#222" stroke-width="1.0" />
<line x1="71.22" y1="499.52" x2="73.62" y2="499.52" stroke="#222" stroke-width="1.0" />
<rect x="71.5" y="489.9" width="1.8" height="1.8" fill="#2a7a3a"/>
<line x1="85.58" y1="485.04" x2="87.98" y2="485.04" stroke="#222" stroke-width="1.0" />
<line x1="85.58" y1="499.52" x2="87.98" y2="499.52" stroke="#222" stroke-width="1.0" />
<rect x="85.9" y="491.4" width="1.8" height="1.8" fill="#2a7a3a"/>
<line x1="99.94" y1="491.55" x2="102.34" y2="491.55" stroke="#222" stroke-width="1.0" />
<line x1="99.94" y1="497.34" x2="102.34" y2="497.34" stroke="#222" stroke-width="1.0" />
<rect x="100.2" y="493.5" width="1.8" height="1.8" fill="#2a7a3a"/>
<line x1="114.30" y1="492.28" x2="116.70" y2="492.28" stroke="#222" stroke-width="1.0" />
<line x1="114.30" y1="499.52" x2="116.70" y2="499.52" stroke="#222" stroke-width="1.0" />
<rect x="114.6" y="495.0" width="1.8" height="1.8" fill="#2a7a3a"/>
<line x1="42.50" y1="469.11" x2="44.90" y2="469.11" stroke="#222" stroke-width="1.0" />
<line x1="42.50" y1="493.72" x2="44.90" y2="493.72" stroke="#222" stroke-width="1.0" />
<rect x="42.8" y="480.5" width="1.8" height="1.8" fill="#2a1a45"/>
<line x1="56.86" y1="473.45" x2="59.26" y2="473.45" stroke="#222" stroke-width="1.0" />
<line x1="56.86" y1="493.72" x2="59.26" y2="493.72" stroke="#222" stroke-width="1.0" />
<rect x="57.2" y="482.7" width="1.8" height="1.8" fill="#2a1a45"/>
<line x1="71.22" y1="479.97" x2="73.62" y2="479.97" stroke="#222" stroke-width="1.0" />
<line x1="71.22" y1="500.24" x2="73.62" y2="500.24" stroke="#222" stroke-width="1.0" />
<rect x="71.5" y="489.2" width="1.8" height="1.8" fill="#2a1a45"/>
<line x1="85.58" y1="482.86" x2="87.98" y2="482.86" stroke="#222" stroke-width="1.0" />
<line x1="85.58" y1="500.24" x2="87.98" y2="500.24" stroke="#222" stroke-width="1.0" />
<rect x="85.9" y="490.7" width="1.8" height="1.8" fill="#2a1a45"/>
<line x1="99.94" y1="490.83" x2="102.34" y2="490.83" stroke="#222" stroke-width="1.0" />
<line x1="99.94" y1="496.62" x2="102.34" y2="496.62" stroke="#222" stroke-width="1.0" />
<rect x="100.2" y="492.8" width="1.8" height="1.8" fill="#2a1a45"/>
<line x1="114.30" y1="486.48" x2="116.70" y2="486.48" stroke="#222" stroke-width="1.0" />
<line x1="114.30" y1="498.07" x2="116.70" y2="498.07" stroke="#222" stroke-width="1.0" />
<rect x="114.6" y="491.4" width="1.8" height="1.8" fill="#2a1a45"/>
<line x1="42.50" y1="431.46" x2="44.90" y2="431.46" stroke="#222" stroke-width="1.0" />
<line x1="42.50" y1="443.04" x2="44.90" y2="443.04" stroke="#222" stroke-width="1.0" />
<rect x="42.8" y="436.4" width="1.8" height="1.8" fill="#3d7fae"/>
<line x1="56.86" y1="443.04" x2="59.26" y2="443.04" stroke="#222" stroke-width="1.0" />
<line x1="56.86" y1="460.42" x2="59.26" y2="460.42" stroke="#222" stroke-width="1.0" />
<rect x="57.2" y="450.8" width="1.8" height="1.8" fill="#3d7fae"/>
<line x1="71.22" y1="449.56" x2="73.62" y2="449.56" stroke="#222" stroke-width="1.0" />
<line x1="71.22" y1="469.83" x2="73.62" y2="469.83" stroke="#222" stroke-width="1.0" />
<rect x="71.5" y="458.8" width="1.8" height="1.8" fill="#3d7fae"/>
<line x1="85.58" y1="464.76" x2="87.98" y2="464.76" stroke="#222" stroke-width="1.0" />
<line x1="85.58" y1="479.24" x2="87.98" y2="479.24" stroke="#222" stroke-width="1.0" />
<rect x="85.9" y="471.1" width="1.8" height="1.8" fill="#3d7fae"/>
<line x1="99.94" y1="477.80" x2="102.34" y2="477.80" stroke="#222" stroke-width="1.0" />
<line x1="99.94" y1="486.48" x2="102.34" y2="486.48" stroke="#222" stroke-width="1.0" />
<rect x="100.2" y="481.2" width="1.8" height="1.8" fill="#3d7fae"/>
<line x1="114.30" y1="487.21" x2="116.70" y2="487.21" stroke="#222" stroke-width="1.0" />
<line x1="114.30" y1="495.90" x2="116.70" y2="495.90" stroke="#222" stroke-width="1.0" />
<rect x="114.6" y="490.7" width="1.8" height="1.8" fill="#3d7fae"/>
<line x1="42.50" y1="431.46" x2="44.90" y2="431.46" stroke="#222" stroke-width="1.0" />
<line x1="42.50" y1="441.60" x2="44.90" y2="441.60" stroke="#222" stroke-width="1.0" />
<rect x="42.8" y="435.6" width="1.8" height="1.8" fill="#9a1030"/>
<line x1="56.86" y1="443.77" x2="59.26" y2="443.77" stroke="#222" stroke-width="1.0" />
<line x1="56.86" y1="462.59" x2="59.26" y2="462.59" stroke="#222" stroke-width="1.0" />
<rect x="57.2" y="452.3" width="1.8" height="1.8" fill="#9a1030"/>
<line x1="71.22" y1="449.56" x2="73.62" y2="449.56" stroke="#222" stroke-width="1.0" />
<line x1="71.22" y1="472.73" x2="73.62" y2="472.73" stroke="#222" stroke-width="1.0" />
<rect x="71.5" y="460.2" width="1.8" height="1.8" fill="#9a1030"/>
<line x1="85.58" y1="464.76" x2="87.98" y2="464.76" stroke="#222" stroke-width="1.0" />
<line x1="85.58" y1="480.69" x2="87.98" y2="480.69" stroke="#222" stroke-width="1.0" />
<rect x="85.9" y="471.8" width="1.8" height="1.8" fill="#9a1030"/>
<line x1="99.94" y1="474.90" x2="102.34" y2="474.90" stroke="#222" stroke-width="1.0" />
<line x1="99.94" y1="486.48" x2="102.34" y2="486.48" stroke="#222" stroke-width="1.0" />
<rect x="100.2" y="479.8" width="1.8" height="1.8" fill="#9a1030"/>
<line x1="114.30" y1="485.04" x2="116.70" y2="485.04" stroke="#222" stroke-width="1.0" />
<line x1="114.30" y1="495.17" x2="116.70" y2="495.17" stroke="#222" stroke-width="1.0" />
<rect x="114.6" y="489.2" width="1.8" height="1.8" fill="#9a1030"/>
<text x="205.5" y="413.1" font-size="7.9" text-anchor="middle" fill="#2a2a2a" stroke="#2a2a2a" stroke-width="0.14" font-weight="normal" >MV4-11</text>
<line x1="160.90" y1="417.60" x2="160.90" y2="509.88" stroke="#222" stroke-width="1" />
<line x1="160.90" y1="493.00" x2="249.00" y2="493.00" stroke="#444" stroke-width="1.4" />
<line x1="157.90" y1="507.48" x2="160.90" y2="507.48" stroke="#222" stroke-width="0.7" />
<text x="154.6" y="509.6" font-size="5.7" text-anchor="end" fill="#333" stroke="#333" stroke-width="0.1" font-weight="normal" >-20</text>
<line x1="157.90" y1="493.00" x2="160.90" y2="493.00" stroke="#222" stroke-width="0.7" />
<text x="154.6" y="495.1" font-size="5.7" text-anchor="end" fill="#333" stroke="#333" stroke-width="0.1" font-weight="normal" >0</text>
<line x1="157.90" y1="478.52" x2="160.90" y2="478.52" stroke="#222" stroke-width="0.7" />
<text x="154.6" y="480.6" font-size="5.7" text-anchor="end" fill="#333" stroke="#333" stroke-width="0.1" font-weight="normal" >20</text>
<line x1="157.90" y1="464.04" x2="160.90" y2="464.04" stroke="#222" stroke-width="0.7" />
<text x="154.6" y="466.1" font-size="5.7" text-anchor="end" fill="#333" stroke="#333" stroke-width="0.1" font-weight="normal" >40</text>
<line x1="157.90" y1="449.56" x2="160.90" y2="449.56" stroke="#222" stroke-width="0.7" />
<text x="154.6" y="451.7" font-size="5.7" text-anchor="end" fill="#333" stroke="#333" stroke-width="0.1" font-weight="normal" >60</text>
<line x1="157.90" y1="435.08" x2="160.90" y2="435.08" stroke="#222" stroke-width="0.7" />
<text x="154.6" y="437.2" font-size="5.7" text-anchor="end" fill="#333" stroke="#333" stroke-width="0.1" font-weight="normal" >80</text>
<line x1="157.90" y1="420.60" x2="160.90" y2="420.60" stroke="#222" stroke-width="0.7" />
<text x="154.6" y="422.7" font-size="5.7" text-anchor="end" fill="#333" stroke="#333" stroke-width="0.1" font-weight="normal" >100</text>
<line x1="159.40" y1="502.65" x2="160.90" y2="502.65" stroke="#222" stroke-width="0.5" />
<line x1="159.40" y1="497.83" x2="160.90" y2="497.83" stroke="#222" stroke-width="0.5" />
<line x1="159.40" y1="488.17" x2="160.90" y2="488.17" stroke="#222" stroke-width="0.5" />
<line x1="159.40" y1="483.35" x2="160.90" y2="483.35" stroke="#222" stroke-width="0.5" />
<line x1="159.40" y1="473.69" x2="160.90" y2="473.69" stroke="#222" stroke-width="0.5" />
<line x1="159.40" y1="468.87" x2="160.90" y2="468.87" stroke="#222" stroke-width="0.5" />
<line x1="159.40" y1="459.21" x2="160.90" y2="459.21" stroke="#222" stroke-width="0.5" />
<line x1="159.40" y1="454.39" x2="160.90" y2="454.39" stroke="#222" stroke-width="0.5" />
<line x1="159.40" y1="444.73" x2="160.90" y2="444.73" stroke="#222" stroke-width="0.5" />
<line x1="159.40" y1="439.91" x2="160.90" y2="439.91" stroke="#222" stroke-width="0.5" />
<line x1="159.40" y1="430.25" x2="160.90" y2="430.25" stroke="#222" stroke-width="0.5" />
<line x1="159.40" y1="425.43" x2="160.90" y2="425.43" stroke="#222" stroke-width="0.5" />
<line x1="171.00" y1="493.00" x2="171.00" y2="495.60" stroke="#333" stroke-width="0.8" />
<text x="174.2" y="511.1" font-size="6.1" text-anchor="end" fill="#2a2a2a" stroke="#2a2a2a" stroke-width="0.12" transform="rotate(-45 174.2 511.1)">10:1</text>
<line x1="185.46" y1="493.00" x2="185.46" y2="495.60" stroke="#333" stroke-width="0.8" />
<text x="188.7" y="511.1" font-size="6.1" text-anchor="end" fill="#2a2a2a" stroke="#2a2a2a" stroke-width="0.12" transform="rotate(-45 188.7 511.1)">5:1</text>
<line x1="199.92" y1="493.00" x2="199.92" y2="495.60" stroke="#333" stroke-width="0.8" />
<text x="203.1" y="511.1" font-size="6.1" text-anchor="end" fill="#2a2a2a" stroke="#2a2a2a" stroke-width="0.12" transform="rotate(-45 203.1 511.1)">2.5:1</text>
<line x1="214.38" y1="493.00" x2="214.38" y2="495.60" stroke="#333" stroke-width="0.8" />
<text x="217.6" y="511.1" font-size="6.1" text-anchor="end" fill="#2a2a2a" stroke="#2a2a2a" stroke-width="0.12" transform="rotate(-45 217.6 511.1)">1.25:1</text>
<line x1="228.84" y1="493.00" x2="228.84" y2="495.60" stroke="#333" stroke-width="0.8" />
<text x="232.0" y="511.1" font-size="6.1" text-anchor="end" fill="#2a2a2a" stroke="#2a2a2a" stroke-width="0.12" transform="rotate(-45 232.0 511.1)">0.625:1</text>
<line x1="243.30" y1="493.00" x2="243.30" y2="495.60" stroke="#333" stroke-width="0.8" />
<text x="246.5" y="511.1" font-size="6.1" text-anchor="end" fill="#2a2a2a" stroke="#2a2a2a" stroke-width="0.12" transform="rotate(-45 246.5 511.1)">0.3125:1</text>
<text x="139.7" y="464.0" font-size="7.2" text-anchor="middle" fill="#222" stroke="#222" stroke-width="0.08" font-weight="normal" textLength="44.6" lengthAdjust="spacingAndGlyphs" transform="rotate(-90 139.7 464.0)">% Tumor cell lysis</text>
<text x="204.1" y="540.6" font-size="8.3" text-anchor="middle" fill="#222" stroke="#222" stroke-width="0.25" font-weight="normal" textLength="21.1" lengthAdjust="spacingAndGlyphs">E:T ratio</text>
<line x1="171.00" y1="474.18" x2="171.00" y2="488.66" stroke="#5d636b" stroke-width="0.75" />
<line x1="185.46" y1="485.76" x2="185.46" y2="501.69" stroke="#5d636b" stroke-width="0.75" />
<line x1="199.92" y1="489.38" x2="199.92" y2="502.41" stroke="#5d636b" stroke-width="0.75" />
<line x1="214.38" y1="490.10" x2="214.38" y2="501.69" stroke="#5d636b" stroke-width="0.75" />
<line x1="228.84" y1="490.83" x2="228.84" y2="505.31" stroke="#5d636b" stroke-width="0.75" />
<line x1="243.30" y1="491.55" x2="243.30" y2="506.03" stroke="#5d636b" stroke-width="0.75" />
<line x1="171.00" y1="485.76" x2="171.00" y2="500.24" stroke="#5d636b" stroke-width="0.75" />
<line x1="185.46" y1="485.76" x2="185.46" y2="501.69" stroke="#5d636b" stroke-width="0.75" />
<line x1="199.92" y1="485.76" x2="199.92" y2="503.14" stroke="#5d636b" stroke-width="0.75" />
<line x1="214.38" y1="486.48" x2="214.38" y2="502.41" stroke="#5d636b" stroke-width="0.75" />
<line x1="228.84" y1="485.76" x2="228.84" y2="503.14" stroke="#5d636b" stroke-width="0.75" />
<line x1="243.30" y1="487.21" x2="243.30" y2="500.24" stroke="#5d636b" stroke-width="0.75" />
<line x1="171.00" y1="458.25" x2="171.00" y2="469.83" stroke="#5d636b" stroke-width="0.75" />
<line x1="185.46" y1="469.11" x2="185.46" y2="482.14" stroke="#5d636b" stroke-width="0.75" />
<line x1="199.92" y1="477.07" x2="199.92" y2="484.31" stroke="#5d636b" stroke-width="0.75" />
<line x1="214.38" y1="485.04" x2="214.38" y2="492.28" stroke="#5d636b" stroke-width="0.75" />
<line x1="228.84" y1="488.66" x2="228.84" y2="495.90" stroke="#5d636b" stroke-width="0.75" />
<line x1="243.30" y1="487.93" x2="243.30" y2="496.62" stroke="#5d636b" stroke-width="0.75" />
<line x1="171.00" y1="454.63" x2="171.00" y2="463.32" stroke="#5d636b" stroke-width="0.75" />
<line x1="185.46" y1="467.66" x2="185.46" y2="480.69" stroke="#5d636b" stroke-width="0.75" />
<line x1="199.92" y1="476.35" x2="199.92" y2="483.59" stroke="#5d636b" stroke-width="0.75" />
<line x1="214.38" y1="484.31" x2="214.38" y2="491.55" stroke="#5d636b" stroke-width="0.75" />
<line x1="228.84" y1="488.66" x2="228.84" y2="494.45" stroke="#5d636b" stroke-width="0.75" />
<line x1="243.30" y1="487.93" x2="243.30" y2="498.07" stroke="#5d636b" stroke-width="0.75" />
<path d="M171.00 481.42 C172.21 482.44 183.05 492.52 185.46 493.72 C187.87 494.93 197.51 495.72 199.92 495.90 C202.33 496.08 211.97 495.72 214.38 495.90 C216.79 496.08 226.43 497.83 228.84 498.07 C231.25 498.31 242.09 498.73 243.30 498.79" fill="none" stroke="#4cad50" stroke-width="1.0"/>
<path d="M171.00 493.00 C172.21 493.06 183.05 493.60 185.46 493.72 C187.87 493.84 197.51 494.39 199.92 494.45 C202.33 494.51 211.97 494.45 214.38 494.45 C216.79 494.45 226.43 494.51 228.84 494.45 C231.25 494.39 242.09 493.78 243.30 493.72" fill="none" stroke="#5b3f6e" stroke-width="1.0"/>
<path d="M171.00 464.04 C172.21 465.01 183.05 474.24 185.46 475.62 C187.87 477.01 197.51 479.61 199.92 480.69 C202.33 481.78 211.97 487.69 214.38 488.66 C216.79 489.62 226.43 491.97 228.84 492.28 C231.25 492.58 242.09 492.28 243.30 492.28" fill="none" stroke="#72c6e6" stroke-width="1.0"/>
<path d="M171.00 458.97 C172.21 460.24 183.05 472.43 185.46 474.18 C187.87 475.93 197.51 478.82 199.92 479.97 C202.33 481.11 211.97 486.97 214.38 487.93 C216.79 488.90 226.43 491.13 228.84 491.55 C231.25 491.97 242.09 492.88 243.30 493.00" fill="none" stroke="#c2304c" stroke-width="1.0"/>
<line x1="169.80" y1="474.18" x2="172.20" y2="474.18" stroke="#222" stroke-width="1.0" />
<line x1="169.80" y1="488.66" x2="172.20" y2="488.66" stroke="#222" stroke-width="1.0" />
<rect x="170.1" y="480.5" width="1.8" height="1.8" fill="#2a7a3a"/>
<line x1="184.26" y1="485.76" x2="186.66" y2="485.76" stroke="#222" stroke-width="1.0" />
<line x1="184.26" y1="501.69" x2="186.66" y2="501.69" stroke="#222" stroke-width="1.0" />
<rect x="184.6" y="492.8" width="1.8" height="1.8" fill="#2a7a3a"/>
<line x1="198.72" y1="489.38" x2="201.12" y2="489.38" stroke="#222" stroke-width="1.0" />
<line x1="198.72" y1="502.41" x2="201.12" y2="502.41" stroke="#222" stroke-width="1.0" />
<rect x="199.0" y="495.0" width="1.8" height="1.8" fill="#2a7a3a"/>
<line x1="213.18" y1="490.10" x2="215.58" y2="490.10" stroke="#222" stroke-width="1.0" />
<line x1="213.18" y1="501.69" x2="215.58" y2="501.69" stroke="#222" stroke-width="1.0" />
<rect x="213.5" y="495.0" width="1.8" height="1.8" fill="#2a7a3a"/>
<line x1="227.64" y1="490.83" x2="230.04" y2="490.83" stroke="#222" stroke-width="1.0" />
<line x1="227.64" y1="505.31" x2="230.04" y2="505.31" stroke="#222" stroke-width="1.0" />
<rect x="227.9" y="497.2" width="1.8" height="1.8" fill="#2a7a3a"/>
<line x1="242.10" y1="491.55" x2="244.50" y2="491.55" stroke="#222" stroke-width="1.0" />
<line x1="242.10" y1="506.03" x2="244.50" y2="506.03" stroke="#222" stroke-width="1.0" />
<rect x="242.4" y="497.9" width="1.8" height="1.8" fill="#2a7a3a"/>
<line x1="169.80" y1="485.76" x2="172.20" y2="485.76" stroke="#222" stroke-width="1.0" />
<line x1="169.80" y1="500.24" x2="172.20" y2="500.24" stroke="#222" stroke-width="1.0" />
<rect x="170.1" y="492.1" width="1.8" height="1.8" fill="#2a1a45"/>
<line x1="184.26" y1="485.76" x2="186.66" y2="485.76" stroke="#222" stroke-width="1.0" />
<line x1="184.26" y1="501.69" x2="186.66" y2="501.69" stroke="#222" stroke-width="1.0" />
<rect x="184.6" y="492.8" width="1.8" height="1.8" fill="#2a1a45"/>
<line x1="198.72" y1="485.76" x2="201.12" y2="485.76" stroke="#222" stroke-width="1.0" />
<line x1="198.72" y1="503.14" x2="201.12" y2="503.14" stroke="#222" stroke-width="1.0" />
<rect x="199.0" y="493.5" width="1.8" height="1.8" fill="#2a1a45"/>
<line x1="213.18" y1="486.48" x2="215.58" y2="486.48" stroke="#222" stroke-width="1.0" />
<line x1="213.18" y1="502.41" x2="215.58" y2="502.41" stroke="#222" stroke-width="1.0" />
<rect x="213.5" y="493.5" width="1.8" height="1.8" fill="#2a1a45"/>
<line x1="227.64" y1="485.76" x2="230.04" y2="485.76" stroke="#222" stroke-width="1.0" />
<line x1="227.64" y1="503.14" x2="230.04" y2="503.14" stroke="#222" stroke-width="1.0" />
<rect x="227.9" y="493.5" width="1.8" height="1.8" fill="#2a1a45"/>
<line x1="242.10" y1="487.21" x2="244.50" y2="487.21" stroke="#222" stroke-width="1.0" />
<line x1="242.10" y1="500.24" x2="244.50" y2="500.24" stroke="#222" stroke-width="1.0" />
<rect x="242.4" y="492.8" width="1.8" height="1.8" fill="#2a1a45"/>
<line x1="169.80" y1="458.25" x2="172.20" y2="458.25" stroke="#222" stroke-width="1.0" />
<line x1="169.80" y1="469.83" x2="172.20" y2="469.83" stroke="#222" stroke-width="1.0" />
<rect x="170.1" y="463.1" width="1.8" height="1.8" fill="#3d7fae"/>
<line x1="184.26" y1="469.11" x2="186.66" y2="469.11" stroke="#222" stroke-width="1.0" />
<line x1="184.26" y1="482.14" x2="186.66" y2="482.14" stroke="#222" stroke-width="1.0" />
<rect x="184.6" y="474.7" width="1.8" height="1.8" fill="#3d7fae"/>
<line x1="198.72" y1="477.07" x2="201.12" y2="477.07" stroke="#222" stroke-width="1.0" />
<line x1="198.72" y1="484.31" x2="201.12" y2="484.31" stroke="#222" stroke-width="1.0" />
<rect x="199.0" y="479.8" width="1.8" height="1.8" fill="#3d7fae"/>
<line x1="213.18" y1="485.04" x2="215.58" y2="485.04" stroke="#222" stroke-width="1.0" />
<line x1="213.18" y1="492.28" x2="215.58" y2="492.28" stroke="#222" stroke-width="1.0" />
<rect x="213.5" y="487.8" width="1.8" height="1.8" fill="#3d7fae"/>
<line x1="227.64" y1="488.66" x2="230.04" y2="488.66" stroke="#222" stroke-width="1.0" />
<line x1="227.64" y1="495.90" x2="230.04" y2="495.90" stroke="#222" stroke-width="1.0" />
<rect x="227.9" y="491.4" width="1.8" height="1.8" fill="#3d7fae"/>
<line x1="242.10" y1="487.93" x2="244.50" y2="487.93" stroke="#222" stroke-width="1.0" />
<line x1="242.10" y1="496.62" x2="244.50" y2="496.62" stroke="#222" stroke-width="1.0" />
<rect x="242.4" y="491.4" width="1.8" height="1.8" fill="#3d7fae"/>
<line x1="169.80" y1="454.63" x2="172.20" y2="454.63" stroke="#222" stroke-width="1.0" />
<line x1="169.80" y1="463.32" x2="172.20" y2="463.32" stroke="#222" stroke-width="1.0" />
<rect x="170.1" y="458.1" width="1.8" height="1.8" fill="#9a1030"/>
<line x1="184.26" y1="467.66" x2="186.66" y2="467.66" stroke="#222" stroke-width="1.0" />
<line x1="184.26" y1="480.69" x2="186.66" y2="480.69" stroke="#222" stroke-width="1.0" />
<rect x="184.6" y="473.3" width="1.8" height="1.8" fill="#9a1030"/>
<line x1="198.72" y1="476.35" x2="201.12" y2="476.35" stroke="#222" stroke-width="1.0" />
<line x1="198.72" y1="483.59" x2="201.12" y2="483.59" stroke="#222" stroke-width="1.0" />
<rect x="199.0" y="479.1" width="1.8" height="1.8" fill="#9a1030"/>
<line x1="213.18" y1="484.31" x2="215.58" y2="484.31" stroke="#222" stroke-width="1.0" />
<line x1="213.18" y1="491.55" x2="215.58" y2="491.55" stroke="#222" stroke-width="1.0" />
<rect x="213.5" y="487.0" width="1.8" height="1.8" fill="#9a1030"/>
<line x1="227.64" y1="488.66" x2="230.04" y2="488.66" stroke="#222" stroke-width="1.0" />
<line x1="227.64" y1="494.45" x2="230.04" y2="494.45" stroke="#222" stroke-width="1.0" />
<rect x="227.9" y="490.7" width="1.8" height="1.8" fill="#9a1030"/>
<line x1="242.10" y1="487.93" x2="244.50" y2="487.93" stroke="#222" stroke-width="1.0" />
<line x1="242.10" y1="498.07" x2="244.50" y2="498.07" stroke="#222" stroke-width="1.0" />
<rect x="242.4" y="492.1" width="1.8" height="1.8" fill="#9a1030"/>
<text x="336.4" y="413.1" font-size="7.9" text-anchor="middle" fill="#2a2a2a" stroke="#2a2a2a" stroke-width="0.14" font-weight="normal" >Daudi</text>
<line x1="290.00" y1="417.60" x2="290.00" y2="509.88" stroke="#222" stroke-width="1" />
<line x1="290.00" y1="493.00" x2="382.50" y2="493.00" stroke="#444" stroke-width="1.4" />
<line x1="287.00" y1="507.48" x2="290.00" y2="507.48" stroke="#222" stroke-width="0.7" />
<text x="283.7" y="509.6" font-size="5.7" text-anchor="end" fill="#333" stroke="#333" stroke-width="0.1" font-weight="normal" >-20</text>
<line x1="287.00" y1="493.00" x2="290.00" y2="493.00" stroke="#222" stroke-width="0.7" />
<text x="283.7" y="495.1" font-size="5.7" text-anchor="end" fill="#333" stroke="#333" stroke-width="0.1" font-weight="normal" >0</text>
<line x1="287.00" y1="478.52" x2="290.00" y2="478.52" stroke="#222" stroke-width="0.7" />
<text x="283.7" y="480.6" font-size="5.7" text-anchor="end" fill="#333" stroke="#333" stroke-width="0.1" font-weight="normal" >20</text>
<line x1="287.00" y1="464.04" x2="290.00" y2="464.04" stroke="#222" stroke-width="0.7" />
<text x="283.7" y="466.1" font-size="5.7" text-anchor="end" fill="#333" stroke="#333" stroke-width="0.1" font-weight="normal" >40</text>
<line x1="287.00" y1="449.56" x2="290.00" y2="449.56" stroke="#222" stroke-width="0.7" />
<text x="283.7" y="451.7" font-size="5.7" text-anchor="end" fill="#333" stroke="#333" stroke-width="0.1" font-weight="normal" >60</text>
<line x1="287.00" y1="435.08" x2="290.00" y2="435.08" stroke="#222" stroke-width="0.7" />
<text x="283.7" y="437.2" font-size="5.7" text-anchor="end" fill="#333" stroke="#333" stroke-width="0.1" font-weight="normal" >80</text>
<line x1="287.00" y1="420.60" x2="290.00" y2="420.60" stroke="#222" stroke-width="0.7" />
<text x="283.7" y="422.7" font-size="5.7" text-anchor="end" fill="#333" stroke="#333" stroke-width="0.1" font-weight="normal" >100</text>
<line x1="288.50" y1="502.65" x2="290.00" y2="502.65" stroke="#222" stroke-width="0.5" />
<line x1="288.50" y1="497.83" x2="290.00" y2="497.83" stroke="#222" stroke-width="0.5" />
<line x1="288.50" y1="488.17" x2="290.00" y2="488.17" stroke="#222" stroke-width="0.5" />
<line x1="288.50" y1="483.35" x2="290.00" y2="483.35" stroke="#222" stroke-width="0.5" />
<line x1="288.50" y1="473.69" x2="290.00" y2="473.69" stroke="#222" stroke-width="0.5" />
<line x1="288.50" y1="468.87" x2="290.00" y2="468.87" stroke="#222" stroke-width="0.5" />
<line x1="288.50" y1="459.21" x2="290.00" y2="459.21" stroke="#222" stroke-width="0.5" />
<line x1="288.50" y1="454.39" x2="290.00" y2="454.39" stroke="#222" stroke-width="0.5" />
<line x1="288.50" y1="444.73" x2="290.00" y2="444.73" stroke="#222" stroke-width="0.5" />
<line x1="288.50" y1="439.91" x2="290.00" y2="439.91" stroke="#222" stroke-width="0.5" />
<line x1="288.50" y1="430.25" x2="290.00" y2="430.25" stroke="#222" stroke-width="0.5" />
<line x1="288.50" y1="425.43" x2="290.00" y2="425.43" stroke="#222" stroke-width="0.5" />
<line x1="300.40" y1="493.00" x2="300.40" y2="495.60" stroke="#333" stroke-width="0.8" />
<text x="303.6" y="502.3" font-size="6.1" text-anchor="end" fill="#2a2a2a" stroke="#2a2a2a" stroke-width="0.12" transform="rotate(-45 303.6 502.3)">10:1</text>
<line x1="315.26" y1="493.00" x2="315.26" y2="495.60" stroke="#333" stroke-width="0.8" />
<text x="318.5" y="502.3" font-size="6.1" text-anchor="end" fill="#2a2a2a" stroke="#2a2a2a" stroke-width="0.12" transform="rotate(-45 318.5 502.3)">5:1</text>
<line x1="330.12" y1="493.00" x2="330.12" y2="495.60" stroke="#333" stroke-width="0.8" />
<text x="333.3" y="502.3" font-size="6.1" text-anchor="end" fill="#2a2a2a" stroke="#2a2a2a" stroke-width="0.12" transform="rotate(-45 333.3 502.3)">2.5:1</text>
<line x1="344.98" y1="493.00" x2="344.98" y2="495.60" stroke="#333" stroke-width="0.8" />
<text x="348.2" y="502.3" font-size="6.1" text-anchor="end" fill="#2a2a2a" stroke="#2a2a2a" stroke-width="0.12" transform="rotate(-45 348.2 502.3)">1.25:1</text>
<line x1="359.84" y1="493.00" x2="359.84" y2="495.60" stroke="#333" stroke-width="0.8" />
<text x="363.0" y="502.3" font-size="6.1" text-anchor="end" fill="#2a2a2a" stroke="#2a2a2a" stroke-width="0.12" transform="rotate(-45 363.0 502.3)">0.625:1</text>
<line x1="374.70" y1="493.00" x2="374.70" y2="495.60" stroke="#333" stroke-width="0.8" />
<text x="377.9" y="502.3" font-size="6.1" text-anchor="end" fill="#2a2a2a" stroke="#2a2a2a" stroke-width="0.12" transform="rotate(-45 377.9 502.3)">0.3125:1</text>
<text x="267.5" y="464.0" font-size="7.2" text-anchor="middle" fill="#222" stroke="#222" stroke-width="0.08" font-weight="normal" textLength="44.6" lengthAdjust="spacingAndGlyphs" transform="rotate(-90 267.5 464.0)">% Tumor cell lysis</text>
<text x="336.0" y="531.2" font-size="8.3" text-anchor="middle" fill="#222" stroke="#222" stroke-width="0.25" font-weight="normal" textLength="21.1" lengthAdjust="spacingAndGlyphs">E:T ratio</text>
<line x1="300.40" y1="427.84" x2="300.40" y2="436.53" stroke="#5d636b" stroke-width="0.75" />
<line x1="315.26" y1="432.91" x2="315.26" y2="443.04" stroke="#5d636b" stroke-width="0.75" />
<line x1="330.12" y1="439.42" x2="330.12" y2="451.01" stroke="#5d636b" stroke-width="0.75" />
<line x1="344.98" y1="443.77" x2="344.98" y2="459.70" stroke="#5d636b" stroke-width="0.75" />
<line x1="359.84" y1="448.84" x2="359.84" y2="472.00" stroke="#5d636b" stroke-width="0.75" />
<line x1="374.70" y1="458.97" x2="374.70" y2="480.69" stroke="#5d636b" stroke-width="0.75" />
<line x1="300.40" y1="430.01" x2="300.40" y2="437.25" stroke="#5d636b" stroke-width="0.75" />
<line x1="315.26" y1="434.36" x2="315.26" y2="443.04" stroke="#5d636b" stroke-width="0.75" />
<line x1="330.12" y1="439.42" x2="330.12" y2="449.56" stroke="#5d636b" stroke-width="0.75" />
<line x1="344.98" y1="444.49" x2="344.98" y2="457.52" stroke="#5d636b" stroke-width="0.75" />
<line x1="359.84" y1="451.01" x2="359.84" y2="468.38" stroke="#5d636b" stroke-width="0.75" />
<line x1="374.70" y1="458.97" x2="374.70" y2="479.24" stroke="#5d636b" stroke-width="0.75" />
<line x1="300.40" y1="426.39" x2="300.40" y2="433.63" stroke="#5d636b" stroke-width="0.75" />
<line x1="315.26" y1="432.91" x2="315.26" y2="438.70" stroke="#5d636b" stroke-width="0.75" />
<line x1="330.12" y1="435.08" x2="330.12" y2="439.42" stroke="#5d636b" stroke-width="0.75" />
<line x1="344.98" y1="440.15" x2="344.98" y2="445.94" stroke="#5d636b" stroke-width="0.75" />
<line x1="359.84" y1="445.22" x2="359.84" y2="453.90" stroke="#5d636b" stroke-width="0.75" />
<line x1="374.70" y1="447.39" x2="374.70" y2="463.32" stroke="#5d636b" stroke-width="0.75" />
<line x1="300.40" y1="422.05" x2="300.40" y2="429.29" stroke="#5d636b" stroke-width="0.75" />
<line x1="315.26" y1="431.46" x2="315.26" y2="437.25" stroke="#5d636b" stroke-width="0.75" />
<line x1="330.12" y1="434.36" x2="330.12" y2="438.70" stroke="#5d636b" stroke-width="0.75" />
<line x1="344.98" y1="439.42" x2="344.98" y2="445.22" stroke="#5d636b" stroke-width="0.75" />
<line x1="359.84" y1="446.66" x2="359.84" y2="458.25" stroke="#5d636b" stroke-width="0.75" />
<line x1="374.70" y1="454.63" x2="374.70" y2="472.00" stroke="#5d636b" stroke-width="0.75" />
<path d="M300.40 432.18 C301.64 432.67 312.78 436.89 315.26 437.98 C317.74 439.06 327.64 444.07 330.12 445.22 C332.60 446.36 342.50 450.46 344.98 451.73 C347.46 453.00 357.36 458.91 359.84 460.42 C362.32 461.93 373.46 469.05 374.70 469.83" fill="none" stroke="#4cad50" stroke-width="1.0"/>
<path d="M300.40 433.63 C301.64 434.05 312.78 437.79 315.26 438.70 C317.74 439.61 327.64 443.47 330.12 444.49 C332.60 445.52 342.50 449.74 344.98 451.01 C347.46 452.27 357.36 458.19 359.84 459.70 C362.32 461.20 373.46 468.32 374.70 469.11" fill="none" stroke="#5b3f6e" stroke-width="1.0"/>
<path d="M300.40 430.01 C301.64 430.49 312.78 435.20 315.26 435.80 C317.74 436.41 327.64 436.65 330.12 437.25 C332.60 437.86 342.50 442.02 344.98 443.04 C347.46 444.07 357.36 448.53 359.84 449.56 C362.32 450.59 373.46 454.87 374.70 455.35" fill="none" stroke="#72c6e6" stroke-width="1.0"/>
<path d="M300.40 425.67 C301.64 426.39 312.78 433.45 315.26 434.36 C317.74 435.26 327.64 435.86 330.12 436.53 C332.60 437.19 342.50 440.99 344.98 442.32 C347.46 443.65 357.36 450.71 359.84 452.46 C362.32 454.21 373.46 462.41 374.70 463.32" fill="none" stroke="#c2304c" stroke-width="1.0"/>
<line x1="299.20" y1="427.84" x2="301.60" y2="427.84" stroke="#222" stroke-width="1.0" />
<line x1="299.20" y1="436.53" x2="301.60" y2="436.53" stroke="#222" stroke-width="1.0" />
<rect x="299.5" y="431.3" width="1.8" height="1.8" fill="#2a7a3a"/>
<line x1="314.06" y1="432.91" x2="316.46" y2="432.91" stroke="#222" stroke-width="1.0" />
<line x1="314.06" y1="443.04" x2="316.46" y2="443.04" stroke="#222" stroke-width="1.0" />
<rect x="314.4" y="437.1" width="1.8" height="1.8" fill="#2a7a3a"/>
<line x1="328.92" y1="439.42" x2="331.32" y2="439.42" stroke="#222" stroke-width="1.0" />
<line x1="328.92" y1="451.01" x2="331.32" y2="451.01" stroke="#222" stroke-width="1.0" />
<rect x="329.2" y="444.3" width="1.8" height="1.8" fill="#2a7a3a"/>
<line x1="343.78" y1="443.77" x2="346.18" y2="443.77" stroke="#222" stroke-width="1.0" />
<line x1="343.78" y1="459.70" x2="346.18" y2="459.70" stroke="#222" stroke-width="1.0" />
<rect x="344.1" y="450.8" width="1.8" height="1.8" fill="#2a7a3a"/>
<line x1="358.64" y1="448.84" x2="361.04" y2="448.84" stroke="#222" stroke-width="1.0" />
<line x1="358.64" y1="472.00" x2="361.04" y2="472.00" stroke="#222" stroke-width="1.0" />
<rect x="358.9" y="459.5" width="1.8" height="1.8" fill="#2a7a3a"/>
<line x1="373.50" y1="458.97" x2="375.90" y2="458.97" stroke="#222" stroke-width="1.0" />
<line x1="373.50" y1="480.69" x2="375.90" y2="480.69" stroke="#222" stroke-width="1.0" />
<rect x="373.8" y="468.9" width="1.8" height="1.8" fill="#2a7a3a"/>
<line x1="299.20" y1="430.01" x2="301.60" y2="430.01" stroke="#222" stroke-width="1.0" />
<line x1="299.20" y1="437.25" x2="301.60" y2="437.25" stroke="#222" stroke-width="1.0" />
<rect x="299.5" y="432.7" width="1.8" height="1.8" fill="#2a1a45"/>
<line x1="314.06" y1="434.36" x2="316.46" y2="434.36" stroke="#222" stroke-width="1.0" />
<line x1="314.06" y1="443.04" x2="316.46" y2="443.04" stroke="#222" stroke-width="1.0" />
<rect x="314.4" y="437.8" width="1.8" height="1.8" fill="#2a1a45"/>
<line x1="328.92" y1="439.42" x2="331.32" y2="439.42" stroke="#222" stroke-width="1.0" />
<line x1="328.92" y1="449.56" x2="331.32" y2="449.56" stroke="#222" stroke-width="1.0" />
<rect x="329.2" y="443.6" width="1.8" height="1.8" fill="#2a1a45"/>
<line x1="343.78" y1="444.49" x2="346.18" y2="444.49" stroke="#222" stroke-width="1.0" />
<line x1="343.78" y1="457.52" x2="346.18" y2="457.52" stroke="#222" stroke-width="1.0" />
<rect x="344.1" y="450.1" width="1.8" height="1.8" fill="#2a1a45"/>
<line x1="358.64" y1="451.01" x2="361.04" y2="451.01" stroke="#222" stroke-width="1.0" />
<line x1="358.64" y1="468.38" x2="361.04" y2="468.38" stroke="#222" stroke-width="1.0" />
<rect x="358.9" y="458.8" width="1.8" height="1.8" fill="#2a1a45"/>
<line x1="373.50" y1="458.97" x2="375.90" y2="458.97" stroke="#222" stroke-width="1.0" />
<line x1="373.50" y1="479.24" x2="375.90" y2="479.24" stroke="#222" stroke-width="1.0" />
<rect x="373.8" y="468.2" width="1.8" height="1.8" fill="#2a1a45"/>
<line x1="299.20" y1="426.39" x2="301.60" y2="426.39" stroke="#222" stroke-width="1.0" />
<line x1="299.20" y1="433.63" x2="301.60" y2="433.63" stroke="#222" stroke-width="1.0" />
<rect x="299.5" y="429.1" width="1.8" height="1.8" fill="#3d7fae"/>
<line x1="314.06" y1="432.91" x2="316.46" y2="432.91" stroke="#222" stroke-width="1.0" />
<line x1="314.06" y1="438.70" x2="316.46" y2="438.70" stroke="#222" stroke-width="1.0" />
<rect x="314.4" y="434.9" width="1.8" height="1.8" fill="#3d7fae"/>
<line x1="328.92" y1="435.08" x2="331.32" y2="435.08" stroke="#222" stroke-width="1.0" />
<line x1="328.92" y1="439.42" x2="331.32" y2="439.42" stroke="#222" stroke-width="1.0" />
<rect x="329.2" y="436.4" width="1.8" height="1.8" fill="#3d7fae"/>
<line x1="343.78" y1="440.15" x2="346.18" y2="440.15" stroke="#222" stroke-width="1.0" />
<line x1="343.78" y1="445.94" x2="346.18" y2="445.94" stroke="#222" stroke-width="1.0" />
<rect x="344.1" y="442.1" width="1.8" height="1.8" fill="#3d7fae"/>
<line x1="358.64" y1="445.22" x2="361.04" y2="445.22" stroke="#222" stroke-width="1.0" />
<line x1="358.64" y1="453.90" x2="361.04" y2="453.90" stroke="#222" stroke-width="1.0" />
<rect x="358.9" y="448.7" width="1.8" height="1.8" fill="#3d7fae"/>
<line x1="373.50" y1="447.39" x2="375.90" y2="447.39" stroke="#222" stroke-width="1.0" />
<line x1="373.50" y1="463.32" x2="375.90" y2="463.32" stroke="#222" stroke-width="1.0" />
<rect x="373.8" y="454.5" width="1.8" height="1.8" fill="#3d7fae"/>
<line x1="299.20" y1="422.05" x2="301.60" y2="422.05" stroke="#222" stroke-width="1.0" />
<line x1="299.20" y1="429.29" x2="301.60" y2="429.29" stroke="#222" stroke-width="1.0" />
<rect x="299.5" y="424.8" width="1.8" height="1.8" fill="#9a1030"/>
<line x1="314.06" y1="431.46" x2="316.46" y2="431.46" stroke="#222" stroke-width="1.0" />
<line x1="314.06" y1="437.25" x2="316.46" y2="437.25" stroke="#222" stroke-width="1.0" />
<rect x="314.4" y="433.5" width="1.8" height="1.8" fill="#9a1030"/>
<line x1="328.92" y1="434.36" x2="331.32" y2="434.36" stroke="#222" stroke-width="1.0" />
<line x1="328.92" y1="438.70" x2="331.32" y2="438.70" stroke="#222" stroke-width="1.0" />
<rect x="329.2" y="435.6" width="1.8" height="1.8" fill="#9a1030"/>
<line x1="343.78" y1="439.42" x2="346.18" y2="439.42" stroke="#222" stroke-width="1.0" />
<line x1="343.78" y1="445.22" x2="346.18" y2="445.22" stroke="#222" stroke-width="1.0" />
<rect x="344.1" y="441.4" width="1.8" height="1.8" fill="#9a1030"/>
<line x1="358.64" y1="446.66" x2="361.04" y2="446.66" stroke="#222" stroke-width="1.0" />
<line x1="358.64" y1="458.25" x2="361.04" y2="458.25" stroke="#222" stroke-width="1.0" />
<rect x="358.9" y="451.6" width="1.8" height="1.8" fill="#9a1030"/>
<line x1="373.50" y1="454.63" x2="375.90" y2="454.63" stroke="#222" stroke-width="1.0" />
<line x1="373.50" y1="472.00" x2="375.90" y2="472.00" stroke="#222" stroke-width="1.0" />
<rect x="373.8" y="462.4" width="1.8" height="1.8" fill="#9a1030"/>
<line x1="430.00" y1="449.70" x2="441.50" y2="449.70" stroke="#4cad50" stroke-width="0.9" />
<circle cx="435.8" cy="449.7" r="1.8" fill="#4cad50"/>
<text x="445.0" y="451.9" font-size="6.0" text-anchor="start" fill="#333" stroke="#333" stroke-width="0.1" font-weight="normal" >Wildtype</text>
<line x1="430.00" y1="459.20" x2="441.50" y2="459.20" stroke="#c2304c" stroke-width="0.9" />
<rect x="434" y="457.4" width="3.6" height="3.6" fill="#c2304c"/>
<text x="445.0" y="461.4" font-size="6.0" text-anchor="start" fill="#333" stroke="#333" stroke-width="0.1" font-weight="normal" >CD38-CAR V3</text>
<line x1="430.00" y1="468.80" x2="441.50" y2="468.80" stroke="#72c6e6" stroke-width="0.9" />
<path d="M435.8 466.8 L437.8 470.3 L433.8 470.3Z" fill="#72c6e6"/>
<text x="445.0" y="471.0" font-size="6.0" text-anchor="start" fill="#333" stroke="#333" stroke-width="0.1" font-weight="normal" >CD38-CAR V3 + ATRA</text>
<line x1="430.00" y1="478.00" x2="441.50" y2="478.00" stroke="#5b3f6e" stroke-width="0.9" />
<path d="M435.8 480 L437.8 476.5 L433.8 476.5Z" fill="#5b3f6e"/>
<text x="445.0" y="480.2" font-size="6.0" text-anchor="start" fill="#333" stroke="#333" stroke-width="0.1" font-weight="normal" >Wildtype + ATRA</text>
</svg>
<div class="fr"></div>
</body></html>
